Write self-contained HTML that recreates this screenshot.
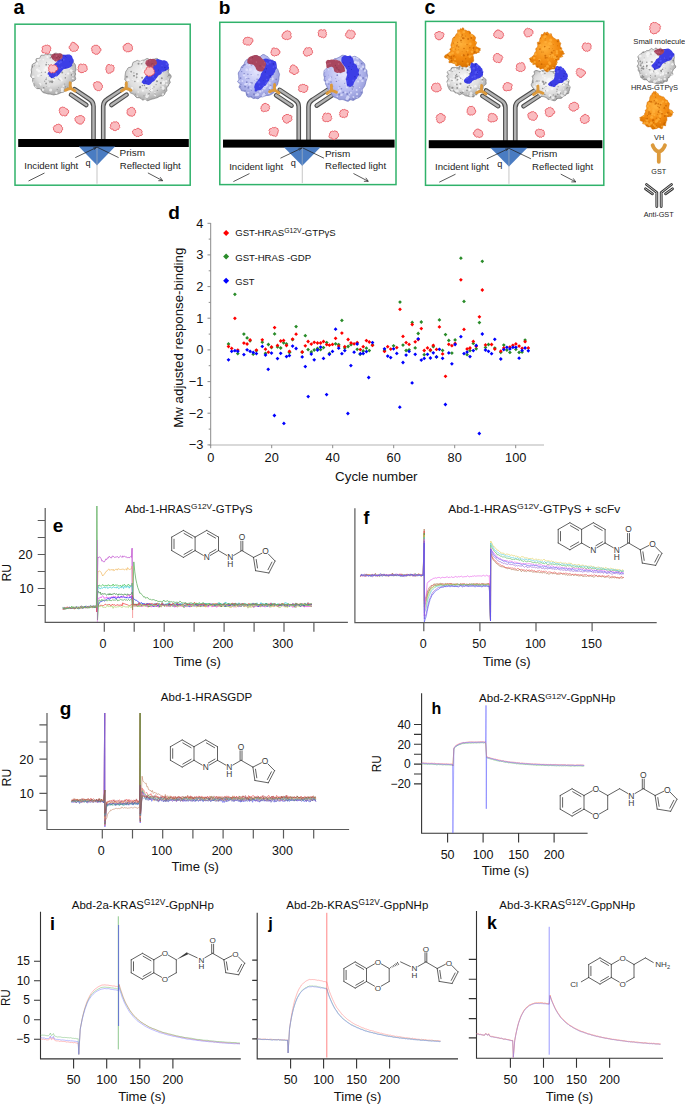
<!DOCTYPE html>
<html><head><meta charset="utf-8"><style>
html,body{margin:0;padding:0;background:#fff;}
svg{display:block;font-family:"Liberation Sans", sans-serif;}
</style></head><body>
<svg width="685" height="1105" viewBox="0 0 685 1105">
<rect width="685" height="1105" fill="#fff"/>
<text x="13.6" y="14" font-size="19.5" font-weight="bold">a</text>
<text x="218.8" y="13.8" font-size="19" font-weight="bold">b</text>
<text x="424.5" y="13.8" font-size="19.5" font-weight="bold">c</text>
<rect x="15" y="24.2" width="175.2" height="161" fill="none" stroke="#30b26a" stroke-width="1.5"/>
<g transform="translate(15 24.2) scale(1.0000 1)">
<path d="M78.5 115V82Q78.5 77.5 74.5 75L59.5 65" fill="none" stroke="#4d4d4d" stroke-width="4.6" stroke-linecap="round"/>
<path d="M88.2 115V82Q88.2 77.5 92.2 75L107.3 65" fill="none" stroke="#4d4d4d" stroke-width="4.6" stroke-linecap="round"/>
<path d="M56 70.5L71.3 80.8M96.4 80.8L111.6 70.5" fill="none" stroke="#4d4d4d" stroke-width="4.6" stroke-linecap="round"/>
<path d="M78.5 115V82Q78.5 77.5 74.5 75L59.5 65" fill="none" stroke="#b4b4b4" stroke-width="2.4" stroke-linecap="round"/>
<path d="M88.2 115V82Q88.2 77.5 92.2 75L107.3 65" fill="none" stroke="#b4b4b4" stroke-width="2.4" stroke-linecap="round"/>
<path d="M56 70.5L71.3 80.8M96.4 80.8L111.6 70.5" fill="none" stroke="#b4b4b4" stroke-width="2.4" stroke-linecap="round"/>
<rect x="3.2" y="114.8" width="170.6" height="8" fill="#000"/>
<path d="M63.8 122.4H100.1L82 141Z" fill="#4a7cc2"/>
<path d="M82 122.8V159.5" stroke="#a0a0a0" stroke-width="0.6"/>
<path d="M82 123V141" stroke="#7fa3d6" stroke-width="0.6"/>
<path d="M13.5 156.8L29.5 148.8M60.3 133.4L81.6 123.2M82 122.9L103.6 133.4M132.9 148.7L147.6 156.5" stroke="#222" stroke-width="0.75" fill="none"/>
<path d="M147.6 156.5L143.3 156.5M147.6 156.5L145.2 153" stroke="#222" stroke-width="0.75" fill="none"/>
<path d="M81.6 123.2L78.2 123.6M81.6 123.2L79 125.6" stroke="#222" stroke-width="0.6" fill="none"/>
</g>
<g transform="translate(15 24.2)">
<text x="9.3" y="144.8" font-size="9.5" fill="#222" textLength="54" lengthAdjust="spacingAndGlyphs">Incident light</text>
<text x="70.6" y="141.6" font-size="9.2" fill="#222">q</text>
<text x="104.5" y="132" font-size="9.5" fill="#222" textLength="25.5" lengthAdjust="spacingAndGlyphs">Prism</text>
<text x="104.7" y="144.6" font-size="9.5" fill="#222" textLength="61" lengthAdjust="spacingAndGlyphs">Reflected light</text>
</g>
<rect x="219.8" y="22.3" width="176.2" height="162.3" fill="none" stroke="#30b26a" stroke-width="1.5"/>
<g transform="translate(219.8 24.8) scale(1.0057 1)">
<path d="M78.5 115V82Q78.5 77.5 74.5 75L59.5 65" fill="none" stroke="#4d4d4d" stroke-width="4.6" stroke-linecap="round"/>
<path d="M88.2 115V82Q88.2 77.5 92.2 75L107.3 65" fill="none" stroke="#4d4d4d" stroke-width="4.6" stroke-linecap="round"/>
<path d="M56 70.5L71.3 80.8M96.4 80.8L111.6 70.5" fill="none" stroke="#4d4d4d" stroke-width="4.6" stroke-linecap="round"/>
<path d="M78.5 115V82Q78.5 77.5 74.5 75L59.5 65" fill="none" stroke="#b4b4b4" stroke-width="2.4" stroke-linecap="round"/>
<path d="M88.2 115V82Q88.2 77.5 92.2 75L107.3 65" fill="none" stroke="#b4b4b4" stroke-width="2.4" stroke-linecap="round"/>
<path d="M56 70.5L71.3 80.8M96.4 80.8L111.6 70.5" fill="none" stroke="#b4b4b4" stroke-width="2.4" stroke-linecap="round"/>
<rect x="3.2" y="114.8" width="170.6" height="8" fill="#000"/>
<path d="M63.8 122.4H100.1L82 141Z" fill="#4a7cc2"/>
<path d="M82 122.8V158.3" stroke="#a0a0a0" stroke-width="0.6"/>
<path d="M82 123V141" stroke="#7fa3d6" stroke-width="0.6"/>
<path d="M13.5 156.8L29.5 148.8M60.3 133.4L81.6 123.2M82 122.9L103.6 133.4M132.9 148.7L147.6 156.5" stroke="#222" stroke-width="0.75" fill="none"/>
<path d="M147.6 156.5L143.3 156.5M147.6 156.5L145.2 153" stroke="#222" stroke-width="0.75" fill="none"/>
<path d="M81.6 123.2L78.2 123.6M81.6 123.2L79 125.6" stroke="#222" stroke-width="0.6" fill="none"/>
</g>
<g transform="translate(219.8 24.8)">
<text x="9.4" y="144.8" font-size="9.5" fill="#222" textLength="54" lengthAdjust="spacingAndGlyphs">Incident light</text>
<text x="71" y="141.6" font-size="9.2" fill="#222">q</text>
<text x="105.1" y="132" font-size="9.5" fill="#222" textLength="25.5" lengthAdjust="spacingAndGlyphs">Prism</text>
<text x="105.3" y="144.6" font-size="9.5" fill="#222" textLength="61" lengthAdjust="spacingAndGlyphs">Reflected light</text>
</g>
<rect x="425.5" y="21.4" width="178.3" height="163.9" fill="none" stroke="#30b26a" stroke-width="1.5"/>
<g transform="translate(425.5 25.4) scale(1.0177 1)">
<path d="M78.5 115V82Q78.5 77.5 74.5 75L59.5 65" fill="none" stroke="#4d4d4d" stroke-width="4.6" stroke-linecap="round"/>
<path d="M88.2 115V82Q88.2 77.5 92.2 75L107.3 65" fill="none" stroke="#4d4d4d" stroke-width="4.6" stroke-linecap="round"/>
<path d="M56 70.5L71.3 80.8M96.4 80.8L111.6 70.5" fill="none" stroke="#4d4d4d" stroke-width="4.6" stroke-linecap="round"/>
<path d="M78.5 115V82Q78.5 77.5 74.5 75L59.5 65" fill="none" stroke="#b4b4b4" stroke-width="2.4" stroke-linecap="round"/>
<path d="M88.2 115V82Q88.2 77.5 92.2 75L107.3 65" fill="none" stroke="#b4b4b4" stroke-width="2.4" stroke-linecap="round"/>
<path d="M56 70.5L71.3 80.8M96.4 80.8L111.6 70.5" fill="none" stroke="#b4b4b4" stroke-width="2.4" stroke-linecap="round"/>
<rect x="3.2" y="114.8" width="170.6" height="8" fill="#000"/>
<path d="M63.8 122.4H100.1L82 141Z" fill="#4a7cc2"/>
<path d="M82 122.8V158.4" stroke="#a0a0a0" stroke-width="0.6"/>
<path d="M82 123V141" stroke="#7fa3d6" stroke-width="0.6"/>
<path d="M13.5 156.8L29.5 148.8M60.3 133.4L81.6 123.2M82 122.9L103.6 133.4M132.9 148.7L147.6 156.5" stroke="#222" stroke-width="0.75" fill="none"/>
<path d="M147.6 156.5L143.3 156.5M147.6 156.5L145.2 153" stroke="#222" stroke-width="0.75" fill="none"/>
<path d="M81.6 123.2L78.2 123.6M81.6 123.2L79 125.6" stroke="#222" stroke-width="0.6" fill="none"/>
</g>
<g transform="translate(425.5 25.4)">
<text x="9.5" y="144.8" font-size="9.5" fill="#222" textLength="54" lengthAdjust="spacingAndGlyphs">Incident light</text>
<text x="71.8" y="141.6" font-size="9.2" fill="#222">q</text>
<text x="106.3" y="132" font-size="9.5" fill="#222" textLength="25.5" lengthAdjust="spacingAndGlyphs">Prism</text>
<text x="106.6" y="144.6" font-size="9.5" fill="#222" textLength="61" lengthAdjust="spacingAndGlyphs">Reflected light</text>
</g>
<clipPath id="cp1"><path d="M31.4 73.1Q31.9 72 31.4 70.9Q31 69.9 31.5 68.9Q32 67.9 31.9 66.8Q31.9 65.7 32.2 64.8Q32.6 63.8 33.9 63.4Q35.3 63 35.9 62.3Q36.5 61.6 36 60.1Q35.6 58.5 37.1 58.5Q38.6 58.6 39.5 58.1Q40.4 57.7 40.6 56.2Q40.8 54.8 42.4 55.2Q44 55.6 44.8 54.8Q45.5 54 46.8 54.3Q48 54.6 49 54.2Q49.9 53.8 51 54.5Q52.1 55.2 53.1 54.4Q54 53.5 55.1 53.2Q56.1 52.8 57.1 53.5Q58 54.2 59.1 54Q60.3 53.8 61.2 54.1Q62.2 54.5 62.8 55.6Q63.3 56.8 65.1 56.1Q66.8 55.5 67.6 56.1Q68.5 56.8 69 57.6Q69.5 58.5 69.8 59.3Q70.1 60.2 71.8 60.1Q73.5 60 73.3 61.2Q73.2 62.3 74 63Q74.7 63.7 75.2 64.6Q75.7 65.4 75.6 66.6Q75.5 67.7 75.9 68.7Q76.4 69.8 75.5 70.9Q74.6 72 75.3 73Q76 74.1 75.3 75.1Q74.6 76 75.3 77.2Q75.9 78.4 75.6 79.4Q75.2 80.4 73.6 80.9Q72 81.3 71.6 82.2Q71.2 83.1 70.8 84Q70.4 84.8 70.8 86.4Q71.2 88 69.9 88.2Q68.5 88.3 68 89.2Q67.5 90.2 66.4 90.3Q65.3 90.4 64.7 91.2Q64 92 63 92.2Q62 92.4 61.1 92.7Q60.1 93 59.2 93.5Q58.2 94.1 57.1 94.2Q56 94.3 54.8 94.7Q53.6 95.2 52.2 94.6Q50.9 94 49.5 94.1Q48 94.1 46.8 93.6Q45.5 93.1 44.3 92.9Q43 92.7 42.2 91.7Q41.4 90.8 40.9 89.6Q40.5 88.4 38.8 88.6Q37.1 88.8 36.2 88.2Q35.2 87.5 34.6 86.5Q34 85.5 33.9 84.3Q33.8 83.1 33 82.2Q32.3 81.3 32.7 79.9Q33.1 78.6 31.8 77.7Q30.4 76.7 30.7 75.5Q30.9 74.2 31.4 73.1Z"/></clipPath>
<radialGradient id="gr1" cx="0.45" cy="0.4" r="0.62"><stop offset="0" stop-color="#fafafa"/><stop offset="0.6" stop-color="#dedede"/><stop offset="1" stop-color="#a4a4a4"/></radialGradient>
<path d="M31.4 73.1Q31.9 72 31.4 70.9Q31 69.9 31.5 68.9Q32 67.9 31.9 66.8Q31.9 65.7 32.2 64.8Q32.6 63.8 33.9 63.4Q35.3 63 35.9 62.3Q36.5 61.6 36 60.1Q35.6 58.5 37.1 58.5Q38.6 58.6 39.5 58.1Q40.4 57.7 40.6 56.2Q40.8 54.8 42.4 55.2Q44 55.6 44.8 54.8Q45.5 54 46.8 54.3Q48 54.6 49 54.2Q49.9 53.8 51 54.5Q52.1 55.2 53.1 54.4Q54 53.5 55.1 53.2Q56.1 52.8 57.1 53.5Q58 54.2 59.1 54Q60.3 53.8 61.2 54.1Q62.2 54.5 62.8 55.6Q63.3 56.8 65.1 56.1Q66.8 55.5 67.6 56.1Q68.5 56.8 69 57.6Q69.5 58.5 69.8 59.3Q70.1 60.2 71.8 60.1Q73.5 60 73.3 61.2Q73.2 62.3 74 63Q74.7 63.7 75.2 64.6Q75.7 65.4 75.6 66.6Q75.5 67.7 75.9 68.7Q76.4 69.8 75.5 70.9Q74.6 72 75.3 73Q76 74.1 75.3 75.1Q74.6 76 75.3 77.2Q75.9 78.4 75.6 79.4Q75.2 80.4 73.6 80.9Q72 81.3 71.6 82.2Q71.2 83.1 70.8 84Q70.4 84.8 70.8 86.4Q71.2 88 69.9 88.2Q68.5 88.3 68 89.2Q67.5 90.2 66.4 90.3Q65.3 90.4 64.7 91.2Q64 92 63 92.2Q62 92.4 61.1 92.7Q60.1 93 59.2 93.5Q58.2 94.1 57.1 94.2Q56 94.3 54.8 94.7Q53.6 95.2 52.2 94.6Q50.9 94 49.5 94.1Q48 94.1 46.8 93.6Q45.5 93.1 44.3 92.9Q43 92.7 42.2 91.7Q41.4 90.8 40.9 89.6Q40.5 88.4 38.8 88.6Q37.1 88.8 36.2 88.2Q35.2 87.5 34.6 86.5Q34 85.5 33.9 84.3Q33.8 83.1 33 82.2Q32.3 81.3 32.7 79.9Q33.1 78.6 31.8 77.7Q30.4 76.7 30.7 75.5Q30.9 74.2 31.4 73.1Z" fill="url(#gr1)" stroke="#7a7a7a" stroke-width="0.7"/>
<g clip-path="url(#cp1)" opacity="0.75"><circle cx="52.9" cy="68.4" r="1" fill="#fafafa"/><circle cx="50.9" cy="55" r="0.7" fill="#7a7a7a"/><circle cx="50.9" cy="57.5" r="0.6" fill="#7a7a7a"/><circle cx="70.7" cy="82.7" r="0.6" fill="#fafafa"/><circle cx="41.1" cy="75.5" r="0.5" fill="#7a7a7a"/><circle cx="55.6" cy="54" r="0.4" fill="#7a7a7a"/><circle cx="41.6" cy="89.8" r="0.6" fill="#7a7a7a"/><circle cx="71.1" cy="88.2" r="0.7" fill="#7a7a7a"/><circle cx="39.7" cy="84.6" r="0.9" fill="#7a7a7a"/><circle cx="64.2" cy="59.3" r="0.9" fill="#7a7a7a"/><circle cx="69.3" cy="61.2" r="0.8" fill="#fafafa"/><circle cx="46" cy="79.5" r="0.7" fill="#7a7a7a"/><circle cx="50.2" cy="57.9" r="0.7" fill="#7a7a7a"/><circle cx="53.1" cy="74.3" r="0.7" fill="#7a7a7a"/><circle cx="74" cy="82.3" r="0.8" fill="#7a7a7a"/><circle cx="48.4" cy="76.8" r="0.4" fill="#7a7a7a"/><circle cx="62.2" cy="72.4" r="1" fill="#7a7a7a"/><circle cx="58.6" cy="63.4" r="1.4" fill="#fafafa"/><circle cx="52.1" cy="82.3" r="0.9" fill="#7a7a7a"/><circle cx="56.1" cy="68.2" r="1" fill="#7a7a7a"/><circle cx="72.4" cy="66.1" r="0.9" fill="#fafafa"/><circle cx="54.5" cy="56.3" r="0.7" fill="#7a7a7a"/><circle cx="33.3" cy="90.3" r="1.5" fill="#fafafa"/><circle cx="53.3" cy="61.5" r="0.4" fill="#7a7a7a"/><circle cx="53.3" cy="72.9" r="0.9" fill="#7a7a7a"/><circle cx="60.9" cy="93.3" r="0.8" fill="#7a7a7a"/><circle cx="37.5" cy="69.6" r="0.9" fill="#fafafa"/><circle cx="65.6" cy="74.7" r="0.4" fill="#7a7a7a"/><circle cx="33.7" cy="78.4" r="0.6" fill="#7a7a7a"/><circle cx="70.1" cy="55.4" r="0.8" fill="#7a7a7a"/><circle cx="40.9" cy="92.6" r="1.2" fill="#fafafa"/><circle cx="39.1" cy="66" r="0.5" fill="#7a7a7a"/><circle cx="34.3" cy="88.2" r="0.6" fill="#fafafa"/><circle cx="72.8" cy="75.1" r="0.9" fill="#fafafa"/><circle cx="66.6" cy="59.4" r="0.7" fill="#7a7a7a"/><circle cx="61.8" cy="69.9" r="0.9" fill="#fafafa"/><circle cx="72.3" cy="71.5" r="1.3" fill="#fafafa"/><circle cx="39" cy="55.8" r="0.9" fill="#7a7a7a"/><circle cx="51" cy="81.5" r="1" fill="#7a7a7a"/><circle cx="46.6" cy="62.2" r="0.5" fill="#7a7a7a"/><circle cx="36.9" cy="60.7" r="0.8" fill="#7a7a7a"/><circle cx="68.4" cy="67.8" r="1.5" fill="#fafafa"/><circle cx="59.6" cy="66.9" r="0.8" fill="#fafafa"/><circle cx="43.7" cy="87.8" r="0.9" fill="#7a7a7a"/><circle cx="49.7" cy="81.9" r="0.6" fill="#7a7a7a"/><circle cx="72.3" cy="88.6" r="1.1" fill="#fafafa"/><circle cx="74" cy="89.7" r="0.6" fill="#7a7a7a"/><circle cx="49.4" cy="71.2" r="1.1" fill="#fafafa"/><circle cx="65.6" cy="86.8" r="0.6" fill="#7a7a7a"/><circle cx="50.6" cy="90" r="1.5" fill="#fafafa"/><circle cx="56.8" cy="75.1" r="1" fill="#fafafa"/><circle cx="57.7" cy="74.9" r="1.1" fill="#fafafa"/><circle cx="66.4" cy="90.7" r="0.8" fill="#fafafa"/><circle cx="44.9" cy="70" r="1.3" fill="#fafafa"/><circle cx="70" cy="64.7" r="0.4" fill="#7a7a7a"/><circle cx="56.7" cy="59.2" r="0.6" fill="#7a7a7a"/><circle cx="38.3" cy="75.7" r="1.3" fill="#fafafa"/><circle cx="53" cy="73.3" r="0.6" fill="#7a7a7a"/><circle cx="40" cy="83.6" r="0.9" fill="#fafafa"/><circle cx="45.9" cy="67.9" r="1.2" fill="#fafafa"/><circle cx="32.7" cy="82.4" r="1.2" fill="#fafafa"/><circle cx="32.2" cy="66.5" r="1" fill="#7a7a7a"/><circle cx="72.5" cy="92.8" r="0.8" fill="#fafafa"/><circle cx="70.1" cy="54.6" r="0.5" fill="#7a7a7a"/><circle cx="74.2" cy="85" r="0.9" fill="#7a7a7a"/><circle cx="35.3" cy="89.1" r="1.6" fill="#fafafa"/><circle cx="53.1" cy="71.6" r="1" fill="#fafafa"/><circle cx="38.8" cy="71.1" r="1.4" fill="#fafafa"/><circle cx="53.9" cy="74.5" r="1.1" fill="#fafafa"/><circle cx="59.4" cy="54.7" r="0.5" fill="#7a7a7a"/><circle cx="68.5" cy="62.3" r="1.5" fill="#fafafa"/><circle cx="68.2" cy="73.6" r="1.1" fill="#fafafa"/><circle cx="49" cy="80.7" r="0.5" fill="#7a7a7a"/><circle cx="58.3" cy="87.5" r="0.4" fill="#7a7a7a"/><circle cx="53.6" cy="61.5" r="0.6" fill="#fafafa"/><circle cx="44.7" cy="81.2" r="0.6" fill="#7a7a7a"/><circle cx="54.6" cy="74" r="0.7" fill="#7a7a7a"/><circle cx="54.2" cy="78.8" r="0.9" fill="#7a7a7a"/><circle cx="73.1" cy="71.7" r="0.6" fill="#7a7a7a"/><circle cx="40.7" cy="71.5" r="0.6" fill="#fafafa"/><circle cx="48.4" cy="64.4" r="0.5" fill="#7a7a7a"/><circle cx="72.6" cy="65.9" r="0.7" fill="#7a7a7a"/><circle cx="58.4" cy="79.1" r="0.5" fill="#7a7a7a"/><circle cx="34.9" cy="87.5" r="1.6" fill="#fafafa"/><circle cx="31.4" cy="66.9" r="0.7" fill="#fafafa"/><circle cx="31.8" cy="66.9" r="0.9" fill="#7a7a7a"/><circle cx="38.4" cy="88.8" r="0.9" fill="#7a7a7a"/><circle cx="72" cy="82.6" r="0.4" fill="#7a7a7a"/><circle cx="38.2" cy="54.4" r="1.1" fill="#fafafa"/><circle cx="46.2" cy="64.7" r="0.9" fill="#7a7a7a"/><circle cx="43.2" cy="59.6" r="0.9" fill="#fafafa"/><circle cx="53.9" cy="79.5" r="1" fill="#fafafa"/><circle cx="37.4" cy="90.9" r="1.5" fill="#fafafa"/><circle cx="64.2" cy="67.1" r="0.7" fill="#7a7a7a"/><circle cx="58.5" cy="71.5" r="0.4" fill="#7a7a7a"/><circle cx="61.9" cy="69.8" r="0.6" fill="#7a7a7a"/><circle cx="71.4" cy="91.4" r="0.9" fill="#7a7a7a"/><circle cx="49" cy="86.1" r="0.7" fill="#fafafa"/><circle cx="45.3" cy="72.2" r="0.7" fill="#7a7a7a"/><circle cx="64.1" cy="91.3" r="0.6" fill="#7a7a7a"/><circle cx="32.8" cy="61.4" r="0.7" fill="#7a7a7a"/><circle cx="62.3" cy="89.1" r="1.6" fill="#fafafa"/><circle cx="62.6" cy="65.3" r="0.9" fill="#fafafa"/><circle cx="65.2" cy="78" r="0.6" fill="#7a7a7a"/><circle cx="73.7" cy="83.9" r="1" fill="#7a7a7a"/><circle cx="62.2" cy="91.2" r="1.4" fill="#fafafa"/><circle cx="47.4" cy="56.9" r="1" fill="#fafafa"/><circle cx="43" cy="89.7" r="1.2" fill="#fafafa"/><circle cx="61.7" cy="80.3" r="1.1" fill="#fafafa"/><circle cx="57.2" cy="89.5" r="0.6" fill="#7a7a7a"/><circle cx="58.8" cy="64.6" r="1.2" fill="#fafafa"/><circle cx="74" cy="92.8" r="0.8" fill="#7a7a7a"/><circle cx="53.7" cy="80.6" r="1" fill="#fafafa"/><circle cx="52.4" cy="75.7" r="0.9" fill="#fafafa"/><circle cx="70.2" cy="58.8" r="1.6" fill="#fafafa"/><circle cx="69.3" cy="87.1" r="0.8" fill="#fafafa"/><circle cx="46.1" cy="83.5" r="0.9" fill="#7a7a7a"/><circle cx="33.2" cy="76.9" r="1.4" fill="#fafafa"/><circle cx="34.3" cy="65.7" r="0.5" fill="#7a7a7a"/><circle cx="61" cy="59.1" r="1.4" fill="#fafafa"/><circle cx="60" cy="79.8" r="0.7" fill="#7a7a7a"/><circle cx="64.7" cy="83.9" r="0.5" fill="#7a7a7a"/><circle cx="40.4" cy="84.7" r="1.1" fill="#fafafa"/><circle cx="67.9" cy="87.3" r="0.6" fill="#7a7a7a"/><circle cx="65.1" cy="89.3" r="0.7" fill="#7a7a7a"/><circle cx="38" cy="60" r="1.2" fill="#fafafa"/><circle cx="41.6" cy="72.3" r="0.5" fill="#7a7a7a"/><circle cx="67.3" cy="91.7" r="0.6" fill="#fafafa"/><circle cx="55.5" cy="64.1" r="1" fill="#7a7a7a"/><circle cx="71.8" cy="89.6" r="0.5" fill="#7a7a7a"/><circle cx="72.9" cy="78.4" r="1" fill="#fafafa"/><circle cx="63.3" cy="86.1" r="0.9" fill="#fafafa"/><circle cx="37" cy="63.7" r="1.1" fill="#fafafa"/><circle cx="46.3" cy="86.3" r="0.4" fill="#7a7a7a"/><circle cx="60.5" cy="78.7" r="1.2" fill="#fafafa"/><circle cx="71.9" cy="83.6" r="1.1" fill="#fafafa"/><circle cx="50" cy="81.9" r="0.4" fill="#7a7a7a"/><circle cx="52.4" cy="81.6" r="1" fill="#7a7a7a"/><circle cx="40" cy="59.4" r="0.7" fill="#fafafa"/><circle cx="71.5" cy="74.9" r="0.8" fill="#7a7a7a"/><circle cx="46.4" cy="78" r="0.6" fill="#7a7a7a"/><circle cx="65.4" cy="77.8" r="0.7" fill="#7a7a7a"/><circle cx="74.4" cy="90.5" r="1.3" fill="#fafafa"/><circle cx="72.1" cy="80.1" r="0.5" fill="#7a7a7a"/><circle cx="39.7" cy="74.7" r="0.7" fill="#fafafa"/><circle cx="57" cy="74.6" r="0.9" fill="#fafafa"/><circle cx="41.3" cy="54.2" r="0.8" fill="#7a7a7a"/><circle cx="71" cy="70.5" r="1.2" fill="#fafafa"/><circle cx="56.4" cy="92.8" r="1.2" fill="#fafafa"/><circle cx="37.2" cy="69.8" r="1.2" fill="#fafafa"/></g>
<clipPath id="cp2"><path d="M57.8 56.9Q58.1 56.5 58.9 56.2Q59.6 55.9 60.7 55.3Q61.7 54.6 62.7 54.7Q63.8 54.7 64.7 54.8Q65.6 54.8 66.6 54.7Q67.6 54.5 68.8 54.5Q69.9 54.4 70.6 55Q71.3 55.6 71.8 56.1Q72.4 56.7 72.4 57.5Q72.5 58.4 73.1 58.9Q73.7 59.3 73.6 60.1Q73.6 60.9 73.5 61.5Q73.4 62.2 73 62.8Q72.7 63.4 72.4 64.1Q72 64.7 72.1 65.3Q72.2 65.9 71.4 66.5Q70.7 67.1 69.8 67.5Q69 68 68.1 68.3Q67.2 68.7 65.7 68.7Q64.3 68.7 63.5 69.2Q62.8 69.7 62.1 70.7Q61.5 71.6 60.7 72.6Q59.9 73.5 59.1 74.5Q58.3 75.4 57.5 76.1Q56.7 76.7 56.3 76.4Q55.8 76.2 54.7 77Q53.7 77.8 52.9 78.1Q52.1 78.3 51.5 78.2Q51 78 50.7 77.5Q50.3 77 49.6 76.7Q48.9 76.5 48.9 75.6Q48.8 74.8 48.1 74.6Q47.3 74.5 47.6 73.7Q47.8 73 48.6 72.1Q49.4 71.2 50.3 70.3Q51.1 69.4 51.2 68.8Q51.2 68.2 52.2 67.4Q53.1 66.5 53.5 65.7Q53.9 64.9 54.7 64Q55.4 63.2 56.2 62.6Q57 62 57.2 61.3Q57.5 60.6 57.3 59.6Q57.2 58.6 57.3 58Q57.4 57.3 57.8 56.9Z"/></clipPath>
<path d="M57.8 56.9Q58.1 56.5 58.9 56.2Q59.6 55.9 60.7 55.3Q61.7 54.6 62.7 54.7Q63.8 54.7 64.7 54.8Q65.6 54.8 66.6 54.7Q67.6 54.5 68.8 54.5Q69.9 54.4 70.6 55Q71.3 55.6 71.8 56.1Q72.4 56.7 72.4 57.5Q72.5 58.4 73.1 58.9Q73.7 59.3 73.6 60.1Q73.6 60.9 73.5 61.5Q73.4 62.2 73 62.8Q72.7 63.4 72.4 64.1Q72 64.7 72.1 65.3Q72.2 65.9 71.4 66.5Q70.7 67.1 69.8 67.5Q69 68 68.1 68.3Q67.2 68.7 65.7 68.7Q64.3 68.7 63.5 69.2Q62.8 69.7 62.1 70.7Q61.5 71.6 60.7 72.6Q59.9 73.5 59.1 74.5Q58.3 75.4 57.5 76.1Q56.7 76.7 56.3 76.4Q55.8 76.2 54.7 77Q53.7 77.8 52.9 78.1Q52.1 78.3 51.5 78.2Q51 78 50.7 77.5Q50.3 77 49.6 76.7Q48.9 76.5 48.9 75.6Q48.8 74.8 48.1 74.6Q47.3 74.5 47.6 73.7Q47.8 73 48.6 72.1Q49.4 71.2 50.3 70.3Q51.1 69.4 51.2 68.8Q51.2 68.2 52.2 67.4Q53.1 66.5 53.5 65.7Q53.9 64.9 54.7 64Q55.4 63.2 56.2 62.6Q57 62 57.2 61.3Q57.5 60.6 57.3 59.6Q57.2 58.6 57.3 58Q57.4 57.3 57.8 56.9Z" fill="#3c3fe6"/>
<g clip-path="url(#cp2)" opacity="0.6"><circle cx="58.9" cy="77.4" r="1.1" fill="#6264f7"/><circle cx="61.2" cy="58.5" r="1.2" fill="#6264f7"/><circle cx="53.5" cy="69.6" r="1.1" fill="#6264f7"/><circle cx="69" cy="74.3" r="0.6" fill="#2323a8"/><circle cx="66.7" cy="57.4" r="0.4" fill="#2323a8"/><circle cx="69.7" cy="61.8" r="0.4" fill="#2323a8"/><circle cx="51.1" cy="77.2" r="0.8" fill="#2323a8"/><circle cx="62.4" cy="59.9" r="0.8" fill="#2323a8"/><circle cx="58.1" cy="76.8" r="0.7" fill="#2323a8"/><circle cx="65.2" cy="73.4" r="0.7" fill="#2323a8"/><circle cx="59.4" cy="59.6" r="0.6" fill="#2323a8"/><circle cx="67.1" cy="54.5" r="0.8" fill="#2323a8"/><circle cx="61.9" cy="67.3" r="0.7" fill="#6264f7"/><circle cx="59.5" cy="63.3" r="0.9" fill="#6264f7"/><circle cx="65.1" cy="76.1" r="0.7" fill="#2323a8"/><circle cx="62.7" cy="77.1" r="0.5" fill="#2323a8"/><circle cx="72.7" cy="71.8" r="0.5" fill="#2323a8"/><circle cx="60.8" cy="55.3" r="0.4" fill="#2323a8"/><circle cx="50.9" cy="56" r="1.2" fill="#6264f7"/><circle cx="60.9" cy="62.1" r="1.1" fill="#6264f7"/><circle cx="59.4" cy="62.7" r="0.6" fill="#6264f7"/><circle cx="65.8" cy="67.9" r="0.6" fill="#2323a8"/><circle cx="53.1" cy="70.6" r="1" fill="#6264f7"/><circle cx="63.7" cy="54.9" r="0.7" fill="#2323a8"/><circle cx="73.9" cy="70.2" r="1.2" fill="#6264f7"/><circle cx="59.3" cy="68" r="0.6" fill="#6264f7"/><circle cx="53.6" cy="73.5" r="0.6" fill="#6264f7"/><circle cx="62.4" cy="76.8" r="1.2" fill="#6264f7"/><circle cx="54.3" cy="63.3" r="0.7" fill="#6264f7"/><circle cx="56.8" cy="75.8" r="0.9" fill="#6264f7"/><circle cx="64.3" cy="75.3" r="0.5" fill="#2323a8"/><circle cx="56.2" cy="74" r="0.9" fill="#6264f7"/><circle cx="69.2" cy="54.4" r="0.9" fill="#6264f7"/><circle cx="65.4" cy="56.5" r="0.5" fill="#2323a8"/><circle cx="64" cy="59.7" r="0.6" fill="#2323a8"/><circle cx="64" cy="77.5" r="0.4" fill="#2323a8"/><circle cx="72" cy="69" r="0.9" fill="#6264f7"/><circle cx="63.8" cy="59.8" r="1" fill="#6264f7"/><circle cx="60.1" cy="68.3" r="0.6" fill="#6264f7"/><circle cx="57.7" cy="62.3" r="0.9" fill="#6264f7"/></g>
<clipPath id="cp3"><path d="M51.4 57.5Q50.9 57 50.9 56.5Q50.9 56.1 51.3 55.6Q51.6 55.2 52 54.8Q52.5 54.3 53.2 54.1Q53.8 53.8 54.5 53.5Q55.2 53.3 56.1 53.6Q57 53.9 57.8 53.6Q58.6 53.4 59.5 53.3Q60.3 53.2 60.8 53.5Q61.2 53.8 61.8 54Q62.4 54.3 62.4 54.8Q62.4 55.3 62.7 55.7Q63 56 62.7 56.5Q62.5 57 62.3 57.5Q62 58.1 61.6 58.7Q61.1 59.2 60.4 59.4Q59.7 59.6 59.2 60Q58.7 60.3 58.1 60.6Q57.5 60.8 56.8 61.2Q56.1 61.6 55.5 61.4Q54.9 61.2 54.4 60.7Q54 60.1 53.1 59.7Q52.2 59.4 52 58.7Q51.8 58 51.4 57.5Z"/></clipPath>
<path d="M51.4 57.5Q50.9 57 50.9 56.5Q50.9 56.1 51.3 55.6Q51.6 55.2 52 54.8Q52.5 54.3 53.2 54.1Q53.8 53.8 54.5 53.5Q55.2 53.3 56.1 53.6Q57 53.9 57.8 53.6Q58.6 53.4 59.5 53.3Q60.3 53.2 60.8 53.5Q61.2 53.8 61.8 54Q62.4 54.3 62.4 54.8Q62.4 55.3 62.7 55.7Q63 56 62.7 56.5Q62.5 57 62.3 57.5Q62 58.1 61.6 58.7Q61.1 59.2 60.4 59.4Q59.7 59.6 59.2 60Q58.7 60.3 58.1 60.6Q57.5 60.8 56.8 61.2Q56.1 61.6 55.5 61.4Q54.9 61.2 54.4 60.7Q54 60.1 53.1 59.7Q52.2 59.4 52 58.7Q51.8 58 51.4 57.5Z" fill="#a8475f"/>
<g clip-path="url(#cp3)" opacity="0.6"><circle cx="56.8" cy="60.3" r="1.1" fill="#c4667e"/><circle cx="57.9" cy="61" r="0.6" fill="#7c2e44"/><circle cx="56.9" cy="57.8" r="0.7" fill="#7c2e44"/><circle cx="60.7" cy="58.5" r="0.6" fill="#c4667e"/><circle cx="60.3" cy="56.1" r="0.5" fill="#7c2e44"/><circle cx="54.5" cy="54.4" r="0.7" fill="#7c2e44"/><circle cx="58.1" cy="56.4" r="0.7" fill="#7c2e44"/><circle cx="59.6" cy="57.6" r="0.7" fill="#7c2e44"/><circle cx="59" cy="59.9" r="0.6" fill="#7c2e44"/><circle cx="56.5" cy="56" r="0.9" fill="#c4667e"/><circle cx="62.9" cy="59.7" r="0.6" fill="#7c2e44"/><circle cx="54.5" cy="59.5" r="0.7" fill="#c4667e"/><circle cx="62.1" cy="57.5" r="0.9" fill="#c4667e"/><circle cx="52.8" cy="57.5" r="0.4" fill="#7c2e44"/><circle cx="52.5" cy="54" r="0.8" fill="#c4667e"/><circle cx="53.3" cy="56.1" r="0.5" fill="#7c2e44"/></g>
<clipPath id="cp4"><path d="M124.8 79Q125.1 78 125 76.9Q125 75.9 125.2 74.8Q125.3 73.7 125.5 72.6Q125.6 71.4 126.4 70.6Q127.3 69.7 127.6 68.5Q128 67.4 130 67.3Q131.9 67.1 132.1 65.8Q132.4 64.5 132.7 63.2Q133 61.9 134.3 61.7Q135.6 61.5 136.4 60.7Q137.2 60 138.8 60.9Q140.5 61.8 141.2 60.9Q142 60.1 143.1 60.2Q144.2 60.3 145.1 59.6Q146 58.8 147 58.6Q148 58.4 148.9 59.3Q149.8 60.1 150.8 59.8Q151.8 59.5 152.8 59.6Q153.8 59.6 155.2 58.8Q156.6 58.1 157.5 58.6Q158.4 59.2 158.8 60.5Q159.2 61.7 160.8 61.3Q162.4 60.9 162.5 62.2Q162.6 63.6 164 63.7Q165.3 63.7 165.3 65Q165.3 66.2 165.6 67.1Q165.9 68.1 167.7 68.3Q169.4 68.5 168.8 69.9Q168.1 71.3 168.3 72.4Q168.5 73.4 169.9 74.3Q171.3 75.2 171.2 76.4Q171 77.7 170 78.8Q168.9 80 169.8 81.1Q170.8 82.3 169.8 83.2Q168.8 84.2 168.6 85.2Q168.5 86.3 167.3 86.9Q166.1 87.6 166.7 89.1Q167.3 90.6 166.3 91.4Q165.4 92.1 165 93.3Q164.7 94.5 163.8 95.2Q162.9 96 161.4 96Q159.8 95.9 158.9 96.7Q158 97.5 156.9 97.8Q155.7 98.1 154.7 98.5Q153.7 98.8 152.6 99Q151.5 99.1 150.5 99.6Q149.4 100.1 148.3 100.6Q147.2 101.1 146.2 100Q145.2 98.8 144 99.7Q142.8 100.5 141.9 99.6Q141.1 98.6 140.1 98Q139.2 97.5 137.8 97.7Q136.4 97.9 135.8 96.9Q135.1 95.8 134.4 95Q133.6 94.2 132.6 93.8Q131.5 93.3 130.5 92.9Q129.4 92.4 129.8 91.1Q130.1 89.8 128.3 89.9Q126.4 89.9 127.5 88.5Q128.6 87 127.2 86.6Q125.7 86.3 125.3 85.3Q124.9 84.4 126 83.2Q127.2 81.9 125.9 81Q124.5 80.1 124.8 79Z"/></clipPath>
<radialGradient id="gr4" cx="0.45" cy="0.4" r="0.62"><stop offset="0" stop-color="#fafafa"/><stop offset="0.6" stop-color="#dedede"/><stop offset="1" stop-color="#a4a4a4"/></radialGradient>
<path d="M124.8 79Q125.1 78 125 76.9Q125 75.9 125.2 74.8Q125.3 73.7 125.5 72.6Q125.6 71.4 126.4 70.6Q127.3 69.7 127.6 68.5Q128 67.4 130 67.3Q131.9 67.1 132.1 65.8Q132.4 64.5 132.7 63.2Q133 61.9 134.3 61.7Q135.6 61.5 136.4 60.7Q137.2 60 138.8 60.9Q140.5 61.8 141.2 60.9Q142 60.1 143.1 60.2Q144.2 60.3 145.1 59.6Q146 58.8 147 58.6Q148 58.4 148.9 59.3Q149.8 60.1 150.8 59.8Q151.8 59.5 152.8 59.6Q153.8 59.6 155.2 58.8Q156.6 58.1 157.5 58.6Q158.4 59.2 158.8 60.5Q159.2 61.7 160.8 61.3Q162.4 60.9 162.5 62.2Q162.6 63.6 164 63.7Q165.3 63.7 165.3 65Q165.3 66.2 165.6 67.1Q165.9 68.1 167.7 68.3Q169.4 68.5 168.8 69.9Q168.1 71.3 168.3 72.4Q168.5 73.4 169.9 74.3Q171.3 75.2 171.2 76.4Q171 77.7 170 78.8Q168.9 80 169.8 81.1Q170.8 82.3 169.8 83.2Q168.8 84.2 168.6 85.2Q168.5 86.3 167.3 86.9Q166.1 87.6 166.7 89.1Q167.3 90.6 166.3 91.4Q165.4 92.1 165 93.3Q164.7 94.5 163.8 95.2Q162.9 96 161.4 96Q159.8 95.9 158.9 96.7Q158 97.5 156.9 97.8Q155.7 98.1 154.7 98.5Q153.7 98.8 152.6 99Q151.5 99.1 150.5 99.6Q149.4 100.1 148.3 100.6Q147.2 101.1 146.2 100Q145.2 98.8 144 99.7Q142.8 100.5 141.9 99.6Q141.1 98.6 140.1 98Q139.2 97.5 137.8 97.7Q136.4 97.9 135.8 96.9Q135.1 95.8 134.4 95Q133.6 94.2 132.6 93.8Q131.5 93.3 130.5 92.9Q129.4 92.4 129.8 91.1Q130.1 89.8 128.3 89.9Q126.4 89.9 127.5 88.5Q128.6 87 127.2 86.6Q125.7 86.3 125.3 85.3Q124.9 84.4 126 83.2Q127.2 81.9 125.9 81Q124.5 80.1 124.8 79Z" fill="url(#gr4)" stroke="#7a7a7a" stroke-width="0.7"/>
<g clip-path="url(#cp4)" opacity="0.75"><circle cx="146.8" cy="96.4" r="1.5" fill="#fafafa"/><circle cx="150.8" cy="100.3" r="0.8" fill="#7a7a7a"/><circle cx="147" cy="82.6" r="0.9" fill="#7a7a7a"/><circle cx="161.2" cy="86.3" r="0.6" fill="#fafafa"/><circle cx="159.6" cy="72.8" r="0.5" fill="#7a7a7a"/><circle cx="138.5" cy="63.7" r="1" fill="#7a7a7a"/><circle cx="151.7" cy="75" r="0.9" fill="#7a7a7a"/><circle cx="157" cy="81.2" r="1" fill="#7a7a7a"/><circle cx="154.8" cy="94.1" r="0.8" fill="#7a7a7a"/><circle cx="145.7" cy="72.4" r="1.2" fill="#fafafa"/><circle cx="169.4" cy="93.3" r="0.8" fill="#7a7a7a"/><circle cx="138.2" cy="92" r="0.8" fill="#fafafa"/><circle cx="166.3" cy="81.1" r="1.2" fill="#fafafa"/><circle cx="132.2" cy="80.7" r="0.4" fill="#7a7a7a"/><circle cx="131" cy="61.3" r="1.1" fill="#fafafa"/><circle cx="133.9" cy="72.9" r="0.6" fill="#7a7a7a"/><circle cx="142.1" cy="77.8" r="1" fill="#7a7a7a"/><circle cx="126.9" cy="76.8" r="1" fill="#7a7a7a"/><circle cx="141.3" cy="67.9" r="0.8" fill="#fafafa"/><circle cx="151.9" cy="87" r="1" fill="#fafafa"/><circle cx="153.2" cy="73.9" r="0.9" fill="#7a7a7a"/><circle cx="164.8" cy="97" r="0.9" fill="#7a7a7a"/><circle cx="126.9" cy="60.2" r="1.3" fill="#fafafa"/><circle cx="151.9" cy="99.7" r="0.8" fill="#7a7a7a"/><circle cx="161.8" cy="78.3" r="1" fill="#7a7a7a"/><circle cx="140" cy="87.4" r="0.9" fill="#7a7a7a"/><circle cx="161.7" cy="71.5" r="1.6" fill="#fafafa"/><circle cx="149.8" cy="61.7" r="1.5" fill="#fafafa"/><circle cx="151.9" cy="65" r="0.9" fill="#fafafa"/><circle cx="166.5" cy="63.2" r="0.9" fill="#fafafa"/><circle cx="154" cy="86.9" r="0.6" fill="#7a7a7a"/><circle cx="156.1" cy="84.6" r="0.6" fill="#7a7a7a"/><circle cx="149" cy="93.8" r="0.8" fill="#7a7a7a"/><circle cx="142.4" cy="85.6" r="0.7" fill="#7a7a7a"/><circle cx="142.7" cy="61.9" r="0.6" fill="#7a7a7a"/><circle cx="146.8" cy="77.5" r="1.2" fill="#fafafa"/><circle cx="155.4" cy="95.8" r="0.7" fill="#fafafa"/><circle cx="155.9" cy="63.5" r="1.6" fill="#fafafa"/><circle cx="151.1" cy="72.1" r="1.2" fill="#fafafa"/><circle cx="162" cy="65" r="1" fill="#fafafa"/><circle cx="134.1" cy="75" r="0.9" fill="#fafafa"/><circle cx="162.8" cy="87.5" r="1.5" fill="#fafafa"/><circle cx="144" cy="95.8" r="0.6" fill="#7a7a7a"/><circle cx="154.8" cy="64.3" r="1" fill="#7a7a7a"/><circle cx="134.9" cy="81.5" r="0.7" fill="#7a7a7a"/><circle cx="163.5" cy="94.6" r="0.4" fill="#7a7a7a"/><circle cx="148.5" cy="83" r="1.4" fill="#fafafa"/><circle cx="167.8" cy="76.2" r="0.5" fill="#7a7a7a"/><circle cx="158.4" cy="59.1" r="0.7" fill="#7a7a7a"/><circle cx="129.9" cy="63.6" r="1.3" fill="#fafafa"/><circle cx="152.3" cy="81.2" r="0.6" fill="#fafafa"/><circle cx="149.3" cy="70.5" r="0.8" fill="#fafafa"/><circle cx="140.8" cy="87.7" r="0.4" fill="#7a7a7a"/><circle cx="131.9" cy="88.1" r="1" fill="#fafafa"/><circle cx="128.2" cy="80.7" r="0.7" fill="#7a7a7a"/><circle cx="163.1" cy="83.4" r="1.4" fill="#fafafa"/><circle cx="166.8" cy="84.6" r="1.1" fill="#fafafa"/><circle cx="158" cy="69.4" r="1" fill="#fafafa"/><circle cx="169.3" cy="89.2" r="0.7" fill="#7a7a7a"/><circle cx="151" cy="70.7" r="0.8" fill="#fafafa"/><circle cx="163.5" cy="72.1" r="0.4" fill="#7a7a7a"/><circle cx="154.5" cy="95.1" r="0.8" fill="#fafafa"/><circle cx="146.3" cy="76.4" r="0.8" fill="#7a7a7a"/><circle cx="128.5" cy="81.1" r="0.7" fill="#7a7a7a"/><circle cx="160.8" cy="97.8" r="0.9" fill="#fafafa"/><circle cx="144.4" cy="85.5" r="0.7" fill="#7a7a7a"/><circle cx="154.9" cy="92.7" r="0.7" fill="#fafafa"/><circle cx="136.5" cy="75.9" r="0.5" fill="#7a7a7a"/><circle cx="158.7" cy="66.3" r="0.7" fill="#7a7a7a"/><circle cx="135.7" cy="99.1" r="1" fill="#7a7a7a"/><circle cx="154.9" cy="61.6" r="0.6" fill="#7a7a7a"/><circle cx="165.6" cy="66" r="0.4" fill="#7a7a7a"/><circle cx="166.3" cy="93.9" r="1.4" fill="#fafafa"/><circle cx="169" cy="61.2" r="0.8" fill="#fafafa"/><circle cx="137" cy="77.2" r="0.6" fill="#7a7a7a"/><circle cx="141.4" cy="61.4" r="1.6" fill="#fafafa"/><circle cx="163" cy="94.4" r="1.2" fill="#fafafa"/><circle cx="141.7" cy="63.7" r="0.8" fill="#7a7a7a"/><circle cx="146.8" cy="80.5" r="0.9" fill="#7a7a7a"/><circle cx="148.1" cy="86" r="0.6" fill="#fafafa"/><circle cx="142.9" cy="90.7" r="1.1" fill="#fafafa"/><circle cx="153" cy="59.4" r="0.8" fill="#7a7a7a"/><circle cx="131.8" cy="62.4" r="1.1" fill="#fafafa"/><circle cx="157.3" cy="90.4" r="0.6" fill="#7a7a7a"/><circle cx="143.3" cy="70.5" r="1.3" fill="#fafafa"/><circle cx="130.4" cy="60.4" r="1.2" fill="#fafafa"/><circle cx="145.9" cy="69.6" r="0.7" fill="#fafafa"/><circle cx="130.5" cy="72.6" r="1" fill="#fafafa"/><circle cx="157.3" cy="78.6" r="1.6" fill="#fafafa"/><circle cx="164.2" cy="59.3" r="1" fill="#7a7a7a"/><circle cx="128.1" cy="79.9" r="1.6" fill="#fafafa"/><circle cx="145" cy="99.5" r="0.9" fill="#7a7a7a"/><circle cx="163.9" cy="61.2" r="1.6" fill="#fafafa"/><circle cx="167.9" cy="59.2" r="1.2" fill="#fafafa"/><circle cx="137.8" cy="81.1" r="1.3" fill="#fafafa"/><circle cx="165.3" cy="65.4" r="0.6" fill="#fafafa"/><circle cx="139.2" cy="59.5" r="1.4" fill="#fafafa"/><circle cx="146.5" cy="87.9" r="1" fill="#7a7a7a"/><circle cx="165.7" cy="100.1" r="1.3" fill="#fafafa"/><circle cx="152.7" cy="88.8" r="0.5" fill="#7a7a7a"/><circle cx="147.7" cy="77.3" r="1.4" fill="#fafafa"/><circle cx="140.2" cy="87" r="0.9" fill="#7a7a7a"/><circle cx="149.9" cy="90.4" r="0.5" fill="#7a7a7a"/><circle cx="150.5" cy="91.1" r="0.7" fill="#7a7a7a"/><circle cx="160.8" cy="82.9" r="1" fill="#7a7a7a"/><circle cx="136.4" cy="77.7" r="0.6" fill="#7a7a7a"/><circle cx="156" cy="68.4" r="0.6" fill="#7a7a7a"/><circle cx="166" cy="66.7" r="0.6" fill="#7a7a7a"/><circle cx="146.6" cy="74.1" r="1.4" fill="#fafafa"/><circle cx="150.2" cy="76.9" r="1" fill="#7a7a7a"/><circle cx="139.1" cy="59" r="0.8" fill="#7a7a7a"/><circle cx="149.8" cy="89.4" r="0.7" fill="#fafafa"/><circle cx="146.7" cy="86.5" r="0.8" fill="#fafafa"/><circle cx="164.2" cy="90.1" r="0.7" fill="#7a7a7a"/><circle cx="145.1" cy="100" r="1.4" fill="#fafafa"/><circle cx="146.6" cy="94.3" r="0.7" fill="#fafafa"/><circle cx="161" cy="87.1" r="0.6" fill="#7a7a7a"/><circle cx="134" cy="75.8" r="1" fill="#7a7a7a"/><circle cx="147.6" cy="73.8" r="0.9" fill="#7a7a7a"/><circle cx="162.9" cy="95.2" r="0.6" fill="#fafafa"/><circle cx="148.3" cy="95.7" r="0.8" fill="#fafafa"/><circle cx="130.8" cy="71.3" r="0.6" fill="#fafafa"/><circle cx="168.2" cy="79.1" r="0.7" fill="#fafafa"/><circle cx="132.6" cy="79.9" r="0.6" fill="#fafafa"/><circle cx="151.4" cy="89.9" r="1.6" fill="#fafafa"/><circle cx="163.4" cy="88.7" r="1.1" fill="#fafafa"/><circle cx="167.5" cy="88.6" r="0.5" fill="#7a7a7a"/><circle cx="128.7" cy="100.3" r="1.3" fill="#fafafa"/><circle cx="137.5" cy="96.3" r="0.8" fill="#fafafa"/><circle cx="153.3" cy="74.9" r="1.1" fill="#fafafa"/><circle cx="164.1" cy="83.3" r="1" fill="#fafafa"/><circle cx="127" cy="87.9" r="1.3" fill="#fafafa"/><circle cx="141.5" cy="74.9" r="1.2" fill="#fafafa"/><circle cx="167.8" cy="97.3" r="1" fill="#7a7a7a"/><circle cx="135.2" cy="94.2" r="0.6" fill="#7a7a7a"/><circle cx="150.3" cy="80.1" r="0.6" fill="#7a7a7a"/><circle cx="135.4" cy="58.5" r="1.6" fill="#fafafa"/><circle cx="136.9" cy="74.1" r="1" fill="#7a7a7a"/><circle cx="168.9" cy="75.2" r="0.9" fill="#7a7a7a"/><circle cx="157.4" cy="64.9" r="0.8" fill="#7a7a7a"/><circle cx="161.3" cy="58.9" r="0.8" fill="#7a7a7a"/><circle cx="131.1" cy="71.7" r="0.9" fill="#7a7a7a"/><circle cx="163.7" cy="81.9" r="1.4" fill="#fafafa"/><circle cx="132" cy="88.8" r="1.3" fill="#fafafa"/><circle cx="163.1" cy="88.4" r="1.2" fill="#fafafa"/><circle cx="166.4" cy="94.5" r="0.6" fill="#fafafa"/><circle cx="143.3" cy="83.3" r="0.8" fill="#fafafa"/><circle cx="150.4" cy="89.4" r="0.4" fill="#7a7a7a"/><circle cx="141.3" cy="66.3" r="1.1" fill="#fafafa"/><circle cx="126.7" cy="58.5" r="0.7" fill="#fafafa"/></g>
<clipPath id="cp5"><path d="M155.4 60.2Q156 59.4 156.9 59.2Q157.7 59 158.6 59.2Q159.4 59.5 160.3 59.7Q161.1 60 161.8 60.3Q162.5 60.6 163.6 60.3Q164.7 60 165.3 60.5Q165.9 61.1 166.7 61.3Q167.5 61.6 167.7 62.4Q167.8 63.1 168.4 63.6Q169 64.1 168.7 65.2Q168.4 66.2 168.8 66.8Q169.3 67.5 169 68.2Q168.7 68.9 168 69.4Q167.2 69.9 166.7 70.2Q166.1 70.6 165.5 70.9Q164.9 71.2 163.6 71.6Q162.4 72 162 72.5Q161.6 73.1 161.1 73.9Q160.5 74.6 159.3 74.9Q158.2 75.3 157.7 76.4Q157.2 77.6 156.5 78.2Q155.7 78.9 155.1 79.9Q154.4 80.9 153.9 81.2Q153.4 81.4 152.8 81.8Q152.2 82.2 151.3 83.3Q150.3 84.5 149.5 84.8Q148.7 85.1 148.1 85Q147.4 84.9 147 84.6Q146.5 84.3 145.8 84.3Q145.1 84.2 144.1 84.2Q143.2 84.2 142.9 83.5Q142.7 82.8 142 82.7Q141.3 82.6 141.8 81.7Q142.3 80.8 143.1 79.8Q143.9 78.9 144.2 78.3Q144.5 77.7 145.4 76.8Q146.3 75.9 146.4 75.3Q146.5 74.8 147.2 74Q147.9 73.2 148.9 72.3Q150 71.5 150.4 70.7Q150.7 69.9 150.9 69Q151.2 68.2 151.2 67.3Q151.2 66.4 151.2 65.5Q151.2 64.5 151.8 64.7Q152.4 64.9 152.6 64Q152.8 63 153.2 62.2Q153.6 61.4 154.2 61.3Q154.7 61.1 155.4 60.2Z"/></clipPath>
<path d="M155.4 60.2Q156 59.4 156.9 59.2Q157.7 59 158.6 59.2Q159.4 59.5 160.3 59.7Q161.1 60 161.8 60.3Q162.5 60.6 163.6 60.3Q164.7 60 165.3 60.5Q165.9 61.1 166.7 61.3Q167.5 61.6 167.7 62.4Q167.8 63.1 168.4 63.6Q169 64.1 168.7 65.2Q168.4 66.2 168.8 66.8Q169.3 67.5 169 68.2Q168.7 68.9 168 69.4Q167.2 69.9 166.7 70.2Q166.1 70.6 165.5 70.9Q164.9 71.2 163.6 71.6Q162.4 72 162 72.5Q161.6 73.1 161.1 73.9Q160.5 74.6 159.3 74.9Q158.2 75.3 157.7 76.4Q157.2 77.6 156.5 78.2Q155.7 78.9 155.1 79.9Q154.4 80.9 153.9 81.2Q153.4 81.4 152.8 81.8Q152.2 82.2 151.3 83.3Q150.3 84.5 149.5 84.8Q148.7 85.1 148.1 85Q147.4 84.9 147 84.6Q146.5 84.3 145.8 84.3Q145.1 84.2 144.1 84.2Q143.2 84.2 142.9 83.5Q142.7 82.8 142 82.7Q141.3 82.6 141.8 81.7Q142.3 80.8 143.1 79.8Q143.9 78.9 144.2 78.3Q144.5 77.7 145.4 76.8Q146.3 75.9 146.4 75.3Q146.5 74.8 147.2 74Q147.9 73.2 148.9 72.3Q150 71.5 150.4 70.7Q150.7 69.9 150.9 69Q151.2 68.2 151.2 67.3Q151.2 66.4 151.2 65.5Q151.2 64.5 151.8 64.7Q152.4 64.9 152.6 64Q152.8 63 153.2 62.2Q153.6 61.4 154.2 61.3Q154.7 61.1 155.4 60.2Z" fill="#3c3fe6"/>
<g clip-path="url(#cp5)" opacity="0.6"><circle cx="151.1" cy="65.6" r="0.8" fill="#2323a8"/><circle cx="150.5" cy="59.8" r="0.6" fill="#2323a8"/><circle cx="162.1" cy="67.6" r="0.4" fill="#2323a8"/><circle cx="164.9" cy="67.5" r="0.8" fill="#2323a8"/><circle cx="161.4" cy="79.2" r="0.6" fill="#6264f7"/><circle cx="162.6" cy="84.7" r="0.6" fill="#6264f7"/><circle cx="158.2" cy="82.5" r="0.8" fill="#6264f7"/><circle cx="151.3" cy="70" r="0.9" fill="#6264f7"/><circle cx="158.8" cy="76.1" r="0.9" fill="#6264f7"/><circle cx="166.9" cy="73.6" r="1.3" fill="#6264f7"/><circle cx="164" cy="74.7" r="1.3" fill="#6264f7"/><circle cx="152" cy="64" r="0.4" fill="#2323a8"/><circle cx="164.1" cy="84" r="0.4" fill="#2323a8"/><circle cx="154.7" cy="78.8" r="0.7" fill="#6264f7"/><circle cx="165.7" cy="69.7" r="0.6" fill="#2323a8"/><circle cx="153.7" cy="61.8" r="0.5" fill="#2323a8"/><circle cx="150.3" cy="70.1" r="0.5" fill="#2323a8"/><circle cx="162" cy="65.4" r="0.6" fill="#6264f7"/><circle cx="154.9" cy="76.2" r="0.4" fill="#2323a8"/><circle cx="149.2" cy="73.3" r="0.7" fill="#6264f7"/><circle cx="148.8" cy="61.9" r="0.7" fill="#6264f7"/><circle cx="167" cy="81.7" r="0.7" fill="#2323a8"/><circle cx="143.4" cy="73" r="0.9" fill="#6264f7"/><circle cx="145.8" cy="77.7" r="0.8" fill="#6264f7"/><circle cx="145.7" cy="81.1" r="0.7" fill="#2323a8"/><circle cx="146.8" cy="79.8" r="0.7" fill="#6264f7"/><circle cx="151.4" cy="64.6" r="1.1" fill="#6264f7"/><circle cx="154.2" cy="83.9" r="1.2" fill="#6264f7"/><circle cx="146.6" cy="83.3" r="0.4" fill="#2323a8"/><circle cx="162.3" cy="71.8" r="1.2" fill="#6264f7"/><circle cx="155.1" cy="62.3" r="0.5" fill="#2323a8"/><circle cx="166.7" cy="64.1" r="1.1" fill="#6264f7"/><circle cx="158.4" cy="69.9" r="0.5" fill="#2323a8"/><circle cx="147.4" cy="61.9" r="0.7" fill="#6264f7"/><circle cx="154" cy="64.6" r="0.8" fill="#2323a8"/><circle cx="155.9" cy="72.8" r="0.6" fill="#6264f7"/><circle cx="153.3" cy="76.7" r="0.9" fill="#6264f7"/><circle cx="155" cy="61.2" r="1.1" fill="#6264f7"/><circle cx="142.9" cy="79.9" r="0.6" fill="#2323a8"/><circle cx="160.5" cy="82.4" r="0.6" fill="#2323a8"/></g>
<clipPath id="cp6"><path d="M145.5 62.5Q145.5 62 145.8 61.6Q146.1 61.2 146.3 60.7Q146.5 60.2 147.3 60Q148.1 59.8 148.5 59.4Q149 59 149.7 58.9Q150.4 58.8 151.2 58.9Q152 58.9 152.9 58.7Q153.7 58.6 154.2 58.9Q154.7 59.2 155.3 59.4Q155.9 59.7 156.1 60.3Q156.3 60.8 156.6 61.4Q156.8 61.9 157 62.5Q157.1 63 157 63.6Q157 64.2 156.1 64.7Q155.3 65.1 154.7 65.6Q154.1 66.1 153.6 66.6Q153.1 67.1 152.3 67.4Q151.6 67.6 150.7 67.3Q149.8 67.1 149.1 66.8Q148.3 66.5 147.5 66.4Q146.6 66.3 146.6 65.6Q146.5 65 145.9 64.6Q145.2 64.2 145.3 63.6Q145.5 63 145.5 62.5Z"/></clipPath>
<path d="M145.5 62.5Q145.5 62 145.8 61.6Q146.1 61.2 146.3 60.7Q146.5 60.2 147.3 60Q148.1 59.8 148.5 59.4Q149 59 149.7 58.9Q150.4 58.8 151.2 58.9Q152 58.9 152.9 58.7Q153.7 58.6 154.2 58.9Q154.7 59.2 155.3 59.4Q155.9 59.7 156.1 60.3Q156.3 60.8 156.6 61.4Q156.8 61.9 157 62.5Q157.1 63 157 63.6Q157 64.2 156.1 64.7Q155.3 65.1 154.7 65.6Q154.1 66.1 153.6 66.6Q153.1 67.1 152.3 67.4Q151.6 67.6 150.7 67.3Q149.8 67.1 149.1 66.8Q148.3 66.5 147.5 66.4Q146.6 66.3 146.6 65.6Q146.5 65 145.9 64.6Q145.2 64.2 145.3 63.6Q145.5 63 145.5 62.5Z" fill="#a8475f"/>
<g clip-path="url(#cp6)" opacity="0.6"><circle cx="155.5" cy="65.4" r="1.1" fill="#c4667e"/><circle cx="154.1" cy="65.5" r="0.7" fill="#7c2e44"/><circle cx="152.8" cy="63.4" r="0.5" fill="#7c2e44"/><circle cx="156" cy="59.2" r="0.4" fill="#7c2e44"/><circle cx="156.3" cy="66.2" r="0.7" fill="#7c2e44"/><circle cx="152.8" cy="66.1" r="0.9" fill="#c4667e"/><circle cx="148.8" cy="60.7" r="0.6" fill="#7c2e44"/><circle cx="146.4" cy="66.8" r="0.7" fill="#7c2e44"/><circle cx="146.7" cy="62.1" r="0.7" fill="#c4667e"/><circle cx="145.7" cy="61.1" r="1.1" fill="#c4667e"/><circle cx="147.5" cy="60.5" r="0.9" fill="#c4667e"/><circle cx="152.5" cy="66.2" r="0.9" fill="#c4667e"/><circle cx="146.7" cy="59.5" r="0.4" fill="#7c2e44"/><circle cx="151.5" cy="64" r="0.6" fill="#7c2e44"/><circle cx="149.9" cy="60.7" r="0.7" fill="#c4667e"/><circle cx="146.4" cy="65" r="0.6" fill="#c4667e"/></g>
<g transform="translate(75 91) rotate(-148) scale(1)"><path d="M0 0H4.6M4.6 0Q6.8 -1 8.4 -4.4M4.6 0Q6.8 1 8.4 4.4" fill="none" stroke="#dc9a3c" stroke-width="2.9" stroke-linecap="round"/></g>
<g transform="translate(121.5 91) rotate(-32) scale(1)"><path d="M0 0H4.6M4.6 0Q6.8 -1 8.4 -4.4M4.6 0Q6.8 1 8.4 4.4" fill="none" stroke="#dc9a3c" stroke-width="2.9" stroke-linecap="round"/></g>
<path d="M50.5 49.5Q51.4 50.7 49.6 51.3Q49.9 53.4 48.4 53.5Q47.6 54.5 46.2 53Q44.8 54.1 44.3 52.7Q42.2 53.3 42.1 52Q41.1 50.9 42.7 49Q41.4 47.5 42.6 47Q42.4 45.7 44.2 46.2Q45 44.5 46.5 45.4Q48.1 44.3 48.8 45.8Q50.4 45.4 50.2 46.9Q51.6 47.8 50.5 49.5Z" fill="#fabcc0" stroke="#e4464f" stroke-width="0.75"/>
<path d="M78.3 47Q79.1 48.5 77.4 49.3Q77.7 51 76.1 50.6Q75.6 52.1 74.2 51.1Q72.4 52.2 71.4 50.8Q70.1 51 70.6 49.2Q68.6 48.7 69.1 47.4Q68.7 46.1 70.8 45.2Q70.5 42.9 71.9 42.7Q72.7 41.4 74.1 42.8Q75.1 42.1 75.4 44Q77.2 43.7 77.1 45.3Q79 45.8 78.3 47Z" fill="#fabcc0" stroke="#e4464f" stroke-width="0.75"/>
<path d="M101 49.7Q101.6 50.9 99.6 51.6Q100.3 53.1 98.9 52.8Q98.2 54.8 96.7 54.2Q95 55 94 53.2Q92.2 53.4 92.4 51.8Q91 51.3 92.2 50Q90.7 48.6 91.9 47.7Q91.7 46.1 93.6 46.1Q94.2 44.5 95.9 45.4Q97.4 44.5 98.3 46.2Q100 46.3 99.7 48.3Q101.6 48.7 101 49.7Z" fill="#fabcc0" stroke="#e4464f" stroke-width="0.75"/>
<path d="M132.2 47.8Q133.3 49.4 131.7 50.4Q131.8 51.6 129.8 51Q129.4 52.6 127.9 51.6Q126.4 52.6 125.5 51Q123.9 51.3 124.2 49.8Q122.5 49.3 123.4 48.2Q122.3 46.5 123.9 45.6Q123.6 44.4 125.2 45Q125.7 43 127.2 43.4Q129.1 42.6 130.3 44.3Q132.1 44.4 131.8 46.1Q133.3 46.6 132.2 47.8Z" fill="#fabcc0" stroke="#e4464f" stroke-width="0.75"/>
<path d="M86.9 67.8Q88 69.5 86.5 70.7Q86.5 71.9 84.5 71.3Q83.6 73.2 82 72.5Q80.7 73.5 80.2 72Q78.3 72.2 78.3 70.5Q77.1 70 78.4 68.5Q77.4 66.9 79 66Q78.4 64.3 79.7 64.5Q80.6 63.3 82.4 64.6Q84 63.3 84.6 64.5Q86.3 64.2 86 65.8Q87.8 66.4 86.9 67.8Z" fill="#fabcc0" stroke="#e4464f" stroke-width="0.75"/>
<path d="M113.7 69.2Q114.8 70.4 113.3 70.8Q113.3 72.3 111.5 71.9Q110.8 73.8 109.7 73.1Q107.9 74.1 107.2 72.7Q106 72.7 106.7 70.9Q105.1 70.1 106.1 68.6Q105 67.6 106.6 67.2Q106.4 64.9 108 64.7Q108.9 63.6 110.4 65.2Q112 64.1 112.6 65.5Q114.1 65.1 113.6 66.6Q115 67.5 113.7 69.2Z" fill="#fabcc0" stroke="#e4464f" stroke-width="0.75"/>
<path d="M102.3 86.2Q103.3 87.5 101.7 88.2Q102 90 100.4 90Q99.7 91.5 98.3 90.5Q97.1 91.5 96.4 89.8Q94.7 90 94.8 88.2Q93.1 87.4 94 86.1Q92.6 84.4 93.8 83.7Q93.6 82.1 95.3 82.5Q96.4 80.9 98.3 82Q99.4 81 99.7 82.6Q101.6 82.6 101.5 84.5Q103.2 85 102.3 86.2Z" fill="#fabcc0" stroke="#e4464f" stroke-width="0.75"/>
<path d="M68.6 111.8Q69.1 113.3 67 114Q67.3 115.9 65.9 115.7Q65.1 116.8 63.7 115.3Q62.6 116.6 62.1 115.4Q60.3 115.4 60.3 113.5Q58.7 112.9 59.8 111.8Q58.4 110 59.7 109.1Q59.5 107.5 61.2 107.7Q61.8 106.3 63.3 107.3Q64.9 106.8 66 108.9Q67.9 108.6 67.7 109.9Q69.5 110.6 68.6 111.8Z" fill="#fabcc0" stroke="#e4464f" stroke-width="0.75"/>
<path d="M84.5 119.6Q85.2 120.8 83.3 121.6Q83.7 123.4 82.1 123.4Q81.4 124.9 79.9 123.9Q78.7 124.9 78.1 123.2Q76.2 123.3 76.3 121.6Q74.4 120.9 75.1 119.7Q74.2 118 75.8 117.2Q75.8 116.1 77.7 116.8Q78.6 115 80.1 115.8Q81.4 114.6 81.9 116Q84.1 116.1 84.3 118Q85.7 118.5 84.5 119.6Z" fill="#fabcc0" stroke="#e4464f" stroke-width="0.75"/>
<path d="M62.5 128.8Q63.4 130.1 61.5 130.6Q62 132.6 60.4 132.6Q59.7 133.7 58 132.1Q56.7 133.3 56 131.9Q54.3 132.2 54.4 130.6Q52.8 130.2 53.8 129Q52.5 127.6 53.9 126.7Q53.7 125.4 55.7 125.7Q56.2 123.8 57.5 124.5Q59.1 123.3 60 124.8Q61.8 124.9 61.6 126.9Q63.4 127.6 62.5 128.8Z" fill="#fabcc0" stroke="#e4464f" stroke-width="0.75"/>
<path d="M119.4 126.3Q120.4 127.8 118.9 128.5Q119.1 129.9 117.3 129.4Q116.1 131.3 114.3 130.5Q113.2 131 112.8 129Q110.6 129.6 110.5 128.4Q109.3 127.7 110.8 126.3Q109.8 124.6 111.4 123.6Q111 122.2 112.5 122.8Q113.5 121.1 115.2 122.1Q116.5 120.9 117 122.2Q118.8 122.3 118.7 124.1Q120.4 125 119.4 126.3Z" fill="#fabcc0" stroke="#e4464f" stroke-width="0.75"/>
<path d="M135.6 111.5Q136.4 113 134.6 113.9Q135.1 115.6 133.7 115.5Q132.6 117 130.7 115.9Q129.4 116.7 129 115Q127.4 115.5 127.7 114.1Q126.2 113.3 127.3 111.7Q126.2 110.3 127.8 109.7Q127.4 108.4 129 109Q130 106.9 131.6 107.4Q133.1 106.7 133.6 108.4Q134.9 108 134.3 109.5Q136.2 110.1 135.6 111.5Z" fill="#fabcc0" stroke="#e4464f" stroke-width="0.75"/>
<path d="M141.5 133Q143.2 134.1 142.4 134.5Q142.2 135.8 139.8 135.5Q139.1 137.3 137.6 136.4Q136 137.3 135.4 135.6Q133.6 135.7 134 134.1Q132 133.5 132.7 132.5Q131.8 130.9 133.5 130.1Q133.8 128.9 136 129.6Q136.8 127.7 138.1 128.4Q139.2 127.6 139.5 129.4Q141.6 129.2 141.7 130.8Q142.9 131.7 141.5 133Z" fill="#fabcc0" stroke="#e4464f" stroke-width="0.75"/>
<path d="M57.7 69.3Q58 70.4 55.7 70.8Q56.1 72.5 54.7 72.3Q54.1 73.6 52.7 72.3Q51.4 73.7 50.9 72.4Q49.1 72.7 49.2 71Q47.8 70.6 49 69.2Q47.8 67.6 49.2 66.7Q48.8 64.9 50.4 65Q51 63.9 52.6 65.4Q54.3 64.1 55.2 65.3Q57 65.2 56.7 66.8Q58.5 67.8 57.7 69.3Z" fill="#fabcc0" stroke="#e4464f" stroke-width="0.75"/>
<path d="M154.2 71.7Q155.4 73 154 73.6Q154 75.1 152 75Q151.4 76.7 149.9 75.9Q148.4 77 147.4 75.4Q145.3 75.4 145.2 73.5Q143.5 72.8 144.5 71.6Q144.2 70.1 146.4 69.4Q145.8 67.4 146.9 67.4Q147.9 66.2 149.6 67.5Q151.1 66.1 151.7 67.3Q153.4 67.1 153.2 68.9Q155 70 154.2 71.7Z" fill="#fabcc0" stroke="#e4464f" stroke-width="0.75"/>
<clipPath id="cp7"><path d="M238.9 78.8Q238.7 78 238.7 76.8Q238.7 75.7 238.3 74.2Q238 72.8 239.1 71.6Q240.2 70.4 240.6 69.2Q241 68 241.4 66.9Q241.8 65.8 242.9 65.3Q244 64.8 244.3 63.6Q244.5 62.4 245.1 61.5Q245.7 60.7 246.4 59.8Q247 58.9 248.4 59.4Q249.9 59.9 250.6 59.1Q251.3 58.3 252.3 58.3Q253.4 58.3 254.2 56.9Q255 55.4 256.2 55.4Q257.4 55.5 258.5 56.5Q259.7 57.5 261 56Q262.3 54.4 263.4 54.5Q264.6 54.7 265.5 55.4Q266.4 56.1 267.4 56.5Q268.3 56.9 268.9 57.9Q269.4 59 270 59.6Q270.7 60.3 272.1 60.1Q273.4 60 273.5 61.2Q273.7 62.4 274.4 63Q275.2 63.6 275.7 64.5Q276.2 65.4 276.2 66.6Q276.3 67.9 277.2 68.8Q278.1 69.6 278.3 70.8Q278.4 72 279.2 73.2Q279.9 74.4 279.3 75.7Q278.8 77.1 278.9 78.4Q278.9 79.7 278.5 80.8Q278 82 277.9 83.2Q277.8 84.4 277 85.3Q276.3 86.2 275.5 87Q274.7 87.8 275 89.4Q275.3 91.1 274.5 92Q273.7 92.9 272.6 93.6Q271.5 94.3 270.4 94.8Q269.3 95.4 268 95.4Q266.7 95.4 265.7 95.8Q264.6 96.1 263.5 96.6Q262.5 97 261.3 96.9Q260.2 96.8 259.1 98Q258 99.3 256.9 98.6Q255.7 97.9 254.4 98.4Q253.1 98.9 252.2 97.7Q251.2 96.6 249.8 97Q248.3 97.4 247.4 96.6Q246.4 95.8 246.3 93.8Q246.2 91.9 245.1 91.4Q244.1 90.9 242.5 90.9Q240.9 90.9 241 89.7Q241 88.4 239.8 88.1Q238.7 87.8 239.2 86.6Q239.8 85.4 240.1 84.4Q240.4 83.5 239.3 83.1Q238.2 82.7 237.8 82.1Q237.5 81.5 238.3 80.6Q239.1 79.7 238.9 78.8Z"/></clipPath>
<radialGradient id="gr7" cx="0.45" cy="0.4" r="0.62"><stop offset="0" stop-color="#e2e4fd"/><stop offset="0.6" stop-color="#b8bcf0"/><stop offset="1" stop-color="#9096d6"/></radialGradient>
<path d="M238.9 78.8Q238.7 78 238.7 76.8Q238.7 75.7 238.3 74.2Q238 72.8 239.1 71.6Q240.2 70.4 240.6 69.2Q241 68 241.4 66.9Q241.8 65.8 242.9 65.3Q244 64.8 244.3 63.6Q244.5 62.4 245.1 61.5Q245.7 60.7 246.4 59.8Q247 58.9 248.4 59.4Q249.9 59.9 250.6 59.1Q251.3 58.3 252.3 58.3Q253.4 58.3 254.2 56.9Q255 55.4 256.2 55.4Q257.4 55.5 258.5 56.5Q259.7 57.5 261 56Q262.3 54.4 263.4 54.5Q264.6 54.7 265.5 55.4Q266.4 56.1 267.4 56.5Q268.3 56.9 268.9 57.9Q269.4 59 270 59.6Q270.7 60.3 272.1 60.1Q273.4 60 273.5 61.2Q273.7 62.4 274.4 63Q275.2 63.6 275.7 64.5Q276.2 65.4 276.2 66.6Q276.3 67.9 277.2 68.8Q278.1 69.6 278.3 70.8Q278.4 72 279.2 73.2Q279.9 74.4 279.3 75.7Q278.8 77.1 278.9 78.4Q278.9 79.7 278.5 80.8Q278 82 277.9 83.2Q277.8 84.4 277 85.3Q276.3 86.2 275.5 87Q274.7 87.8 275 89.4Q275.3 91.1 274.5 92Q273.7 92.9 272.6 93.6Q271.5 94.3 270.4 94.8Q269.3 95.4 268 95.4Q266.7 95.4 265.7 95.8Q264.6 96.1 263.5 96.6Q262.5 97 261.3 96.9Q260.2 96.8 259.1 98Q258 99.3 256.9 98.6Q255.7 97.9 254.4 98.4Q253.1 98.9 252.2 97.7Q251.2 96.6 249.8 97Q248.3 97.4 247.4 96.6Q246.4 95.8 246.3 93.8Q246.2 91.9 245.1 91.4Q244.1 90.9 242.5 90.9Q240.9 90.9 241 89.7Q241 88.4 239.8 88.1Q238.7 87.8 239.2 86.6Q239.8 85.4 240.1 84.4Q240.4 83.5 239.3 83.1Q238.2 82.7 237.8 82.1Q237.5 81.5 238.3 80.6Q239.1 79.7 238.9 78.8Z" fill="url(#gr7)" stroke="#6c72bc" stroke-width="0.7"/>
<g clip-path="url(#cp7)" opacity="0.75"><circle cx="253.2" cy="57.3" r="0.7" fill="#6c72bc"/><circle cx="269.9" cy="74.8" r="0.8" fill="#e2e4fd"/><circle cx="257.2" cy="68.6" r="1" fill="#e2e4fd"/><circle cx="263.3" cy="60.8" r="0.7" fill="#6c72bc"/><circle cx="261.3" cy="76.2" r="0.9" fill="#6c72bc"/><circle cx="271.7" cy="78.7" r="1.1" fill="#e2e4fd"/><circle cx="245.1" cy="86.4" r="1" fill="#6c72bc"/><circle cx="247.9" cy="92.8" r="0.7" fill="#e2e4fd"/><circle cx="267" cy="59.9" r="0.5" fill="#6c72bc"/><circle cx="246" cy="77.7" r="1.1" fill="#e2e4fd"/><circle cx="240.7" cy="63" r="0.5" fill="#6c72bc"/><circle cx="244.6" cy="64" r="0.8" fill="#e2e4fd"/><circle cx="246.1" cy="93.8" r="0.7" fill="#6c72bc"/><circle cx="241.2" cy="64.5" r="0.5" fill="#6c72bc"/><circle cx="258" cy="74.8" r="0.6" fill="#6c72bc"/><circle cx="252" cy="75" r="0.7" fill="#e2e4fd"/><circle cx="277.7" cy="88.7" r="0.7" fill="#e2e4fd"/><circle cx="244.7" cy="64.6" r="1" fill="#6c72bc"/><circle cx="261.4" cy="73.4" r="1.4" fill="#e2e4fd"/><circle cx="247.8" cy="69.3" r="0.7" fill="#6c72bc"/><circle cx="244.1" cy="75" r="1.4" fill="#e2e4fd"/><circle cx="257.8" cy="63" r="1" fill="#6c72bc"/><circle cx="251.4" cy="96.9" r="0.6" fill="#6c72bc"/><circle cx="276.6" cy="68" r="0.8" fill="#6c72bc"/><circle cx="254.3" cy="80.6" r="0.4" fill="#6c72bc"/><circle cx="270.6" cy="86" r="0.8" fill="#6c72bc"/><circle cx="239.4" cy="81.2" r="1" fill="#e2e4fd"/><circle cx="275.1" cy="97.6" r="0.8" fill="#e2e4fd"/><circle cx="248.6" cy="87.1" r="0.8" fill="#6c72bc"/><circle cx="251.4" cy="90.4" r="0.5" fill="#6c72bc"/><circle cx="262.5" cy="90.8" r="0.7" fill="#e2e4fd"/><circle cx="269.1" cy="93.2" r="1.1" fill="#e2e4fd"/><circle cx="260.2" cy="91.6" r="1.2" fill="#e2e4fd"/><circle cx="253.5" cy="58.2" r="0.9" fill="#6c72bc"/><circle cx="265.4" cy="93.5" r="0.7" fill="#6c72bc"/><circle cx="273.1" cy="71.8" r="1.3" fill="#e2e4fd"/><circle cx="273.4" cy="56.4" r="0.6" fill="#6c72bc"/><circle cx="248.4" cy="57.5" r="1.1" fill="#e2e4fd"/><circle cx="276.3" cy="96.5" r="1" fill="#6c72bc"/><circle cx="242.4" cy="67.1" r="0.9" fill="#6c72bc"/><circle cx="256.3" cy="91" r="0.7" fill="#6c72bc"/><circle cx="272.4" cy="79" r="1.4" fill="#e2e4fd"/><circle cx="241.1" cy="67.8" r="0.7" fill="#e2e4fd"/><circle cx="268.2" cy="59.1" r="0.8" fill="#6c72bc"/><circle cx="273.9" cy="72.2" r="0.7" fill="#6c72bc"/><circle cx="243.3" cy="56.2" r="1.6" fill="#e2e4fd"/><circle cx="251.6" cy="65.3" r="0.5" fill="#6c72bc"/><circle cx="247.2" cy="58.6" r="0.6" fill="#6c72bc"/><circle cx="261.4" cy="62.5" r="0.6" fill="#6c72bc"/><circle cx="251" cy="82.6" r="0.7" fill="#6c72bc"/><circle cx="251.1" cy="74.5" r="0.5" fill="#6c72bc"/><circle cx="274.1" cy="93.4" r="0.9" fill="#6c72bc"/><circle cx="254.5" cy="56.7" r="0.6" fill="#e2e4fd"/><circle cx="257.4" cy="86.5" r="0.5" fill="#6c72bc"/><circle cx="262.9" cy="85.8" r="0.6" fill="#e2e4fd"/><circle cx="256.7" cy="63.6" r="1.3" fill="#e2e4fd"/><circle cx="256.5" cy="83.7" r="1" fill="#6c72bc"/><circle cx="259.3" cy="66.1" r="1.1" fill="#e2e4fd"/><circle cx="258.5" cy="83.2" r="1.4" fill="#e2e4fd"/><circle cx="249.8" cy="84.2" r="1.2" fill="#e2e4fd"/><circle cx="273.2" cy="63.4" r="0.7" fill="#e2e4fd"/><circle cx="264.3" cy="88" r="1.5" fill="#e2e4fd"/><circle cx="245.6" cy="84.3" r="1.3" fill="#e2e4fd"/><circle cx="268.9" cy="69.4" r="0.8" fill="#e2e4fd"/><circle cx="250.2" cy="69.5" r="1.6" fill="#e2e4fd"/><circle cx="270.6" cy="87.1" r="1" fill="#e2e4fd"/><circle cx="248.9" cy="64.4" r="1.3" fill="#e2e4fd"/><circle cx="239.4" cy="61.4" r="0.5" fill="#6c72bc"/><circle cx="243.4" cy="58.8" r="0.7" fill="#6c72bc"/><circle cx="248.7" cy="92.7" r="0.7" fill="#e2e4fd"/><circle cx="273.9" cy="56.4" r="0.6" fill="#e2e4fd"/><circle cx="245.1" cy="90.7" r="0.7" fill="#6c72bc"/><circle cx="239.2" cy="60" r="1" fill="#e2e4fd"/><circle cx="260.9" cy="67.1" r="0.6" fill="#e2e4fd"/><circle cx="262.5" cy="79.7" r="1.3" fill="#e2e4fd"/><circle cx="246.8" cy="69.7" r="1.4" fill="#e2e4fd"/><circle cx="241.1" cy="56.1" r="1.1" fill="#e2e4fd"/><circle cx="243.4" cy="65.6" r="0.9" fill="#6c72bc"/><circle cx="269.1" cy="57.6" r="1" fill="#e2e4fd"/><circle cx="256" cy="57.4" r="0.7" fill="#e2e4fd"/><circle cx="269.7" cy="71.1" r="1.4" fill="#e2e4fd"/><circle cx="262.5" cy="77.8" r="1.5" fill="#e2e4fd"/><circle cx="252.8" cy="75.5" r="0.8" fill="#e2e4fd"/><circle cx="249.1" cy="78.8" r="0.5" fill="#6c72bc"/><circle cx="244.2" cy="74" r="0.9" fill="#6c72bc"/><circle cx="254" cy="94.3" r="1" fill="#6c72bc"/><circle cx="241.8" cy="66.9" r="1" fill="#6c72bc"/><circle cx="247.6" cy="62.7" r="0.7" fill="#6c72bc"/><circle cx="271.9" cy="95.2" r="0.7" fill="#6c72bc"/><circle cx="247.1" cy="94.6" r="0.8" fill="#6c72bc"/><circle cx="258.2" cy="64.3" r="0.4" fill="#6c72bc"/><circle cx="270.5" cy="77.7" r="1" fill="#e2e4fd"/><circle cx="275.2" cy="63.1" r="1.5" fill="#e2e4fd"/><circle cx="242.4" cy="81.1" r="1" fill="#e2e4fd"/><circle cx="278.5" cy="65.7" r="1.3" fill="#e2e4fd"/><circle cx="269.2" cy="97.2" r="1.5" fill="#e2e4fd"/><circle cx="275.4" cy="69.8" r="1" fill="#e2e4fd"/><circle cx="259" cy="60.4" r="1.1" fill="#e2e4fd"/><circle cx="241.7" cy="71.6" r="0.7" fill="#6c72bc"/><circle cx="258.1" cy="67" r="0.6" fill="#6c72bc"/><circle cx="241.1" cy="84.3" r="0.5" fill="#6c72bc"/><circle cx="240.4" cy="97.1" r="1.6" fill="#e2e4fd"/><circle cx="264.2" cy="94.3" r="1.4" fill="#e2e4fd"/><circle cx="256.9" cy="59.5" r="0.4" fill="#6c72bc"/><circle cx="247" cy="78.6" r="0.6" fill="#6c72bc"/><circle cx="241.6" cy="65.8" r="1.1" fill="#e2e4fd"/><circle cx="265.3" cy="87.3" r="0.8" fill="#6c72bc"/><circle cx="269.4" cy="89.4" r="0.7" fill="#6c72bc"/><circle cx="246.9" cy="65" r="0.6" fill="#e2e4fd"/><circle cx="247.8" cy="58.6" r="0.7" fill="#6c72bc"/><circle cx="271.3" cy="57.3" r="1.5" fill="#e2e4fd"/><circle cx="276.2" cy="79.3" r="0.9" fill="#6c72bc"/><circle cx="263.1" cy="96" r="1.4" fill="#e2e4fd"/><circle cx="252.1" cy="83" r="0.8" fill="#6c72bc"/><circle cx="240.6" cy="78.1" r="0.9" fill="#6c72bc"/><circle cx="278.3" cy="62.8" r="0.8" fill="#6c72bc"/><circle cx="271" cy="76.7" r="0.7" fill="#e2e4fd"/><circle cx="266.6" cy="85.2" r="1.3" fill="#e2e4fd"/><circle cx="265.1" cy="69.9" r="0.6" fill="#6c72bc"/><circle cx="273.9" cy="96.6" r="0.9" fill="#e2e4fd"/><circle cx="256" cy="95.1" r="1.2" fill="#e2e4fd"/><circle cx="255.3" cy="61.3" r="0.8" fill="#6c72bc"/><circle cx="254.6" cy="97.2" r="0.5" fill="#6c72bc"/><circle cx="254.9" cy="71.3" r="1.1" fill="#e2e4fd"/><circle cx="246.8" cy="83.1" r="1.2" fill="#e2e4fd"/><circle cx="257.6" cy="94.5" r="1.5" fill="#e2e4fd"/><circle cx="248.5" cy="78.2" r="0.5" fill="#6c72bc"/><circle cx="275.1" cy="82.9" r="0.6" fill="#6c72bc"/><circle cx="260.6" cy="85.7" r="0.8" fill="#6c72bc"/><circle cx="274" cy="72.1" r="0.7" fill="#6c72bc"/><circle cx="270.1" cy="87.9" r="1.4" fill="#e2e4fd"/><circle cx="269.7" cy="82.9" r="1" fill="#e2e4fd"/><circle cx="246.8" cy="82.2" r="0.9" fill="#6c72bc"/><circle cx="239.9" cy="57" r="1" fill="#6c72bc"/><circle cx="250.9" cy="88.6" r="0.7" fill="#e2e4fd"/><circle cx="247.9" cy="74.3" r="0.7" fill="#6c72bc"/><circle cx="257" cy="61.1" r="1.2" fill="#e2e4fd"/><circle cx="269.1" cy="56.1" r="0.5" fill="#6c72bc"/><circle cx="271.1" cy="77.7" r="0.5" fill="#6c72bc"/><circle cx="257.1" cy="79.2" r="0.7" fill="#6c72bc"/><circle cx="256.3" cy="81.8" r="0.5" fill="#6c72bc"/><circle cx="244.1" cy="74.5" r="0.8" fill="#e2e4fd"/><circle cx="249" cy="58.9" r="0.7" fill="#6c72bc"/><circle cx="240.2" cy="86.7" r="0.8" fill="#6c72bc"/><circle cx="248.6" cy="63.7" r="0.6" fill="#6c72bc"/><circle cx="271" cy="79.1" r="0.7" fill="#6c72bc"/><circle cx="265.5" cy="86.6" r="1.3" fill="#e2e4fd"/><circle cx="248.2" cy="87.9" r="0.8" fill="#6c72bc"/><circle cx="260.5" cy="72.9" r="1" fill="#e2e4fd"/><circle cx="256.4" cy="84.5" r="0.9" fill="#e2e4fd"/></g>
<clipPath id="cp8"><path d="M262.6 59.6Q263 59.6 263.8 59.1Q264.5 58.6 265.6 58.5Q266.7 58.3 267.8 58.9Q268.9 59.4 269.8 59.6Q270.7 59.9 271.6 59.9Q272.5 59.8 273.1 60.4Q273.8 60.9 274.7 61.1Q275.6 61.2 275.9 62Q276.3 62.7 276.4 63.6Q276.6 64.4 276.6 65.4Q276.7 66.3 276.7 67.2Q276.7 68.1 276 69.2Q275.3 70.3 275.3 70.9Q275.2 71.6 274.4 72.4Q273.6 73.2 273.7 73.9Q273.9 74.5 272.5 75.2Q271.1 75.8 271.4 76.8Q271.6 77.8 270.5 78.1Q269.4 78.4 269.4 79.6Q269.3 80.8 268.6 81.3Q267.9 81.7 267.4 82.5Q266.8 83.4 266.3 84.6Q265.7 85.9 265.1 85.8Q264.5 85.7 263.8 86.4Q263.1 87.1 262.1 88.5Q261.1 90 260.2 90.1Q259.3 90.2 258.5 90.2Q257.8 90.1 256.7 91Q255.5 91.9 255 91.5Q254.5 91.1 254.7 89.8Q254.8 88.4 254.4 87.9Q254.1 87.4 254.3 86.4Q254.5 85.5 254.7 84.9Q254.8 84.4 255.1 83.9Q255.4 83.4 256.4 82.3Q257.4 81.2 257.5 80.7Q257.7 80.2 258.8 78.9Q259.8 77.6 260.3 76.7Q260.8 75.8 260.7 74.9Q260.6 73.9 261.4 73Q262.2 72.1 262.4 71.2Q262.6 70.3 262.6 69.2Q262.7 68.2 262.8 67.4Q262.9 66.7 263 65.9Q263.1 65.2 263.1 64.8Q263.1 64.3 262.8 62.9Q262.5 61.4 262.4 60.5Q262.3 59.6 262.6 59.6Z"/></clipPath>
<path d="M262.6 59.6Q263 59.6 263.8 59.1Q264.5 58.6 265.6 58.5Q266.7 58.3 267.8 58.9Q268.9 59.4 269.8 59.6Q270.7 59.9 271.6 59.9Q272.5 59.8 273.1 60.4Q273.8 60.9 274.7 61.1Q275.6 61.2 275.9 62Q276.3 62.7 276.4 63.6Q276.6 64.4 276.6 65.4Q276.7 66.3 276.7 67.2Q276.7 68.1 276 69.2Q275.3 70.3 275.3 70.9Q275.2 71.6 274.4 72.4Q273.6 73.2 273.7 73.9Q273.9 74.5 272.5 75.2Q271.1 75.8 271.4 76.8Q271.6 77.8 270.5 78.1Q269.4 78.4 269.4 79.6Q269.3 80.8 268.6 81.3Q267.9 81.7 267.4 82.5Q266.8 83.4 266.3 84.6Q265.7 85.9 265.1 85.8Q264.5 85.7 263.8 86.4Q263.1 87.1 262.1 88.5Q261.1 90 260.2 90.1Q259.3 90.2 258.5 90.2Q257.8 90.1 256.7 91Q255.5 91.9 255 91.5Q254.5 91.1 254.7 89.8Q254.8 88.4 254.4 87.9Q254.1 87.4 254.3 86.4Q254.5 85.5 254.7 84.9Q254.8 84.4 255.1 83.9Q255.4 83.4 256.4 82.3Q257.4 81.2 257.5 80.7Q257.7 80.2 258.8 78.9Q259.8 77.6 260.3 76.7Q260.8 75.8 260.7 74.9Q260.6 73.9 261.4 73Q262.2 72.1 262.4 71.2Q262.6 70.3 262.6 69.2Q262.7 68.2 262.8 67.4Q262.9 66.7 263 65.9Q263.1 65.2 263.1 64.8Q263.1 64.3 262.8 62.9Q262.5 61.4 262.4 60.5Q262.3 59.6 262.6 59.6Z" fill="#3c3fe6"/>
<g clip-path="url(#cp8)" opacity="0.6"><circle cx="261.4" cy="63.6" r="0.4" fill="#2323a8"/><circle cx="259.6" cy="86.2" r="0.7" fill="#6264f7"/><circle cx="257.4" cy="72.3" r="0.8" fill="#2323a8"/><circle cx="264.5" cy="87.5" r="0.9" fill="#6264f7"/><circle cx="261.9" cy="64.3" r="1.2" fill="#6264f7"/><circle cx="266.3" cy="63" r="0.9" fill="#6264f7"/><circle cx="259" cy="82.3" r="1.2" fill="#6264f7"/><circle cx="275" cy="87.8" r="0.9" fill="#6264f7"/><circle cx="259" cy="75.1" r="0.5" fill="#2323a8"/><circle cx="274.5" cy="87.8" r="1.1" fill="#6264f7"/><circle cx="265.1" cy="86.8" r="0.9" fill="#6264f7"/><circle cx="273.3" cy="76.5" r="0.8" fill="#6264f7"/><circle cx="265.3" cy="72" r="0.7" fill="#2323a8"/><circle cx="267.7" cy="63.9" r="1.1" fill="#6264f7"/><circle cx="254.6" cy="81.8" r="0.7" fill="#6264f7"/><circle cx="269.4" cy="86" r="0.8" fill="#2323a8"/><circle cx="266" cy="83.5" r="1.1" fill="#6264f7"/><circle cx="269.6" cy="89.8" r="0.6" fill="#6264f7"/><circle cx="266.7" cy="79.5" r="0.8" fill="#6264f7"/><circle cx="256.8" cy="68" r="0.5" fill="#2323a8"/><circle cx="267.1" cy="82.7" r="1.1" fill="#6264f7"/><circle cx="275.5" cy="66.1" r="0.9" fill="#6264f7"/><circle cx="263.9" cy="64.4" r="0.8" fill="#2323a8"/><circle cx="273.4" cy="63.9" r="0.8" fill="#2323a8"/><circle cx="269.5" cy="77.5" r="0.6" fill="#2323a8"/><circle cx="263.8" cy="69.5" r="0.7" fill="#2323a8"/><circle cx="263.2" cy="85.4" r="0.6" fill="#6264f7"/><circle cx="270.1" cy="62.2" r="1.2" fill="#6264f7"/><circle cx="266.3" cy="68.7" r="0.7" fill="#2323a8"/><circle cx="271.5" cy="87.2" r="1.2" fill="#6264f7"/><circle cx="270.4" cy="77.6" r="0.9" fill="#6264f7"/><circle cx="270.3" cy="75.9" r="0.8" fill="#2323a8"/><circle cx="259.7" cy="64.8" r="0.5" fill="#2323a8"/><circle cx="273.4" cy="67.1" r="0.9" fill="#6264f7"/><circle cx="271.4" cy="89.9" r="0.4" fill="#2323a8"/><circle cx="263.7" cy="62" r="1" fill="#6264f7"/><circle cx="259.6" cy="59.8" r="0.9" fill="#6264f7"/><circle cx="263.3" cy="80.3" r="0.4" fill="#2323a8"/><circle cx="256.4" cy="64.9" r="0.8" fill="#6264f7"/><circle cx="267" cy="75.1" r="0.6" fill="#6264f7"/></g>
<clipPath id="cp9"><path d="M247.3 61.5Q247.2 61.1 247.3 60.4Q247.4 59.7 247.9 59Q248.3 58.3 248.9 57.5Q249.5 56.8 250.3 56.5Q251.2 56.3 251.8 55.9Q252.5 55.6 253.2 55.4Q253.9 55.2 254.7 55.1Q255.4 55 256.2 54.9Q257 54.8 257.8 55.5Q258.7 56.2 259.7 56.6Q260.8 57 261.6 57.9Q262.3 58.7 263.1 59.4Q263.8 60.1 264.4 60.8Q264.9 61.5 265.5 62.2Q266 63 266.1 63.8Q266.1 64.6 265.8 65.2Q265.5 65.9 265.4 66.6Q265.2 67.4 264.7 68Q264.2 68.7 263.8 69.6Q263.5 70.5 262.8 70.9Q262.2 71.3 261.6 71.4Q260.9 71.5 260.2 71.5Q259.6 71.4 258.9 71.2Q258.2 70.9 257.6 70.7Q257 70.4 256.6 69.8Q256.1 69.2 255.8 68.2Q255.5 67.3 255.1 66.8Q254.7 66.4 254.3 65.7Q254 65 253.3 64.8Q252.6 64.6 252 64.5Q251.4 64.4 250.8 64.3Q250.2 64.3 249.6 64.1Q249.1 64 248.7 63.7Q248.2 63.4 247.9 63.1Q247.6 62.8 247.5 62.4Q247.4 62 247.3 61.5Z"/></clipPath>
<path d="M247.3 61.5Q247.2 61.1 247.3 60.4Q247.4 59.7 247.9 59Q248.3 58.3 248.9 57.5Q249.5 56.8 250.3 56.5Q251.2 56.3 251.8 55.9Q252.5 55.6 253.2 55.4Q253.9 55.2 254.7 55.1Q255.4 55 256.2 54.9Q257 54.8 257.8 55.5Q258.7 56.2 259.7 56.6Q260.8 57 261.6 57.9Q262.3 58.7 263.1 59.4Q263.8 60.1 264.4 60.8Q264.9 61.5 265.5 62.2Q266 63 266.1 63.8Q266.1 64.6 265.8 65.2Q265.5 65.9 265.4 66.6Q265.2 67.4 264.7 68Q264.2 68.7 263.8 69.6Q263.5 70.5 262.8 70.9Q262.2 71.3 261.6 71.4Q260.9 71.5 260.2 71.5Q259.6 71.4 258.9 71.2Q258.2 70.9 257.6 70.7Q257 70.4 256.6 69.8Q256.1 69.2 255.8 68.2Q255.5 67.3 255.1 66.8Q254.7 66.4 254.3 65.7Q254 65 253.3 64.8Q252.6 64.6 252 64.5Q251.4 64.4 250.8 64.3Q250.2 64.3 249.6 64.1Q249.1 64 248.7 63.7Q248.2 63.4 247.9 63.1Q247.6 62.8 247.5 62.4Q247.4 62 247.3 61.5Z" fill="#a8475f"/>
<g clip-path="url(#cp9)" opacity="0.6"><circle cx="264.2" cy="67.2" r="1" fill="#c4667e"/><circle cx="262.8" cy="66.2" r="0.6" fill="#c4667e"/><circle cx="263.4" cy="55.9" r="0.5" fill="#7c2e44"/><circle cx="259.1" cy="56.2" r="0.5" fill="#7c2e44"/><circle cx="251" cy="59.7" r="0.7" fill="#c4667e"/><circle cx="265.1" cy="60.2" r="1" fill="#c4667e"/><circle cx="250.8" cy="65.7" r="0.5" fill="#7c2e44"/><circle cx="264.6" cy="62.7" r="0.6" fill="#c4667e"/><circle cx="260.1" cy="65.9" r="0.6" fill="#7c2e44"/><circle cx="263.6" cy="59.5" r="0.9" fill="#c4667e"/><circle cx="256.4" cy="62.1" r="0.8" fill="#c4667e"/><circle cx="252.3" cy="63" r="0.4" fill="#7c2e44"/><circle cx="252.5" cy="57.6" r="0.7" fill="#7c2e44"/><circle cx="247.6" cy="63.8" r="0.5" fill="#7c2e44"/><circle cx="248.4" cy="57.9" r="0.8" fill="#c4667e"/><circle cx="264.6" cy="59.7" r="0.7" fill="#7c2e44"/></g>
<clipPath id="cp10"><path d="M324.2 79.1Q324.8 78 324.2 76.7Q323.6 75.5 323.8 74.1Q324 72.8 324 71.4Q324.1 69.9 325.5 69.2Q326.9 68.5 327.4 67.5Q327.8 66.5 328.4 65.7Q329.1 64.9 329.7 64Q330.2 63.1 330.3 61.8Q330.5 60.4 331.9 60.6Q333.3 60.8 333.7 59.6Q334.2 58.5 335.3 58.6Q336.5 58.6 337.3 58.1Q338.2 57.7 339.2 57.2Q340.2 56.7 341.2 55.8Q342.2 55 343.5 55.3Q344.7 55.6 345.8 56.6Q346.8 57.6 348 57.3Q349.1 56.9 350.2 57.3Q351.3 57.7 352.8 56.8Q354.4 56 355.5 56.5Q356.5 57.1 357.5 57.7Q358.6 58.3 359.6 59Q360.6 59.7 361.3 60.7Q362.1 61.6 363.2 62.3Q364.2 63.1 364.7 64.3Q365.1 65.5 364.8 67Q364.6 68.6 365.9 69.4Q367.3 70.2 367 71.6Q366.7 73 367.2 74.2Q367.8 75.4 367.4 76.7Q367 78 366.7 79.3Q366.3 80.5 365.9 81.7Q365.6 82.9 365.3 84.1Q365.1 85.3 364.5 86.3Q363.8 87.4 363 88.3Q362.2 89.2 362.5 90.9Q362.8 92.7 362 93.7Q361.2 94.7 360.5 96Q359.8 97.2 358.6 97.7Q357.3 98.2 356.2 98.7Q355.1 99.2 354.1 100Q353.2 100.7 351.7 100Q350.3 99.4 349.4 100.4Q348.4 101.5 347.2 101.2Q346 100.8 344.9 100.3Q343.8 99.8 342.6 99.6Q341.5 99.5 340.3 99.7Q339.1 99.9 338.2 99.1Q337.3 98.2 336.2 97.9Q335.1 97.7 334.1 97.1Q333 96.6 332.4 95.5Q331.7 94.4 331.3 93.2Q330.9 92.1 329.8 91.7Q328.7 91.3 328.4 90.2Q328.2 89.1 327.6 88.3Q327.1 87.4 326.8 86.5Q326.5 85.6 325.9 84.8Q325.3 84 325.5 82.9Q325.8 81.9 324.7 81.1Q323.5 80.2 324.2 79.1Z"/></clipPath>
<radialGradient id="gr10" cx="0.45" cy="0.4" r="0.62"><stop offset="0" stop-color="#e2e4fd"/><stop offset="0.6" stop-color="#b8bcf0"/><stop offset="1" stop-color="#9096d6"/></radialGradient>
<path d="M324.2 79.1Q324.8 78 324.2 76.7Q323.6 75.5 323.8 74.1Q324 72.8 324 71.4Q324.1 69.9 325.5 69.2Q326.9 68.5 327.4 67.5Q327.8 66.5 328.4 65.7Q329.1 64.9 329.7 64Q330.2 63.1 330.3 61.8Q330.5 60.4 331.9 60.6Q333.3 60.8 333.7 59.6Q334.2 58.5 335.3 58.6Q336.5 58.6 337.3 58.1Q338.2 57.7 339.2 57.2Q340.2 56.7 341.2 55.8Q342.2 55 343.5 55.3Q344.7 55.6 345.8 56.6Q346.8 57.6 348 57.3Q349.1 56.9 350.2 57.3Q351.3 57.7 352.8 56.8Q354.4 56 355.5 56.5Q356.5 57.1 357.5 57.7Q358.6 58.3 359.6 59Q360.6 59.7 361.3 60.7Q362.1 61.6 363.2 62.3Q364.2 63.1 364.7 64.3Q365.1 65.5 364.8 67Q364.6 68.6 365.9 69.4Q367.3 70.2 367 71.6Q366.7 73 367.2 74.2Q367.8 75.4 367.4 76.7Q367 78 366.7 79.3Q366.3 80.5 365.9 81.7Q365.6 82.9 365.3 84.1Q365.1 85.3 364.5 86.3Q363.8 87.4 363 88.3Q362.2 89.2 362.5 90.9Q362.8 92.7 362 93.7Q361.2 94.7 360.5 96Q359.8 97.2 358.6 97.7Q357.3 98.2 356.2 98.7Q355.1 99.2 354.1 100Q353.2 100.7 351.7 100Q350.3 99.4 349.4 100.4Q348.4 101.5 347.2 101.2Q346 100.8 344.9 100.3Q343.8 99.8 342.6 99.6Q341.5 99.5 340.3 99.7Q339.1 99.9 338.2 99.1Q337.3 98.2 336.2 97.9Q335.1 97.7 334.1 97.1Q333 96.6 332.4 95.5Q331.7 94.4 331.3 93.2Q330.9 92.1 329.8 91.7Q328.7 91.3 328.4 90.2Q328.2 89.1 327.6 88.3Q327.1 87.4 326.8 86.5Q326.5 85.6 325.9 84.8Q325.3 84 325.5 82.9Q325.8 81.9 324.7 81.1Q323.5 80.2 324.2 79.1Z" fill="url(#gr10)" stroke="#6c72bc" stroke-width="0.7"/>
<g clip-path="url(#cp10)" opacity="0.75"><circle cx="362.7" cy="90.5" r="1.3" fill="#e2e4fd"/><circle cx="359.6" cy="87.4" r="0.6" fill="#e2e4fd"/><circle cx="361" cy="58.5" r="0.5" fill="#6c72bc"/><circle cx="351.2" cy="59.4" r="0.6" fill="#6c72bc"/><circle cx="333" cy="69.3" r="0.7" fill="#e2e4fd"/><circle cx="364.8" cy="70.6" r="1.3" fill="#e2e4fd"/><circle cx="332.6" cy="86.2" r="0.7" fill="#6c72bc"/><circle cx="363.6" cy="77.7" r="0.6" fill="#e2e4fd"/><circle cx="353.4" cy="86.7" r="0.8" fill="#6c72bc"/><circle cx="361.4" cy="68.7" r="1.1" fill="#e2e4fd"/><circle cx="345.1" cy="76.1" r="0.9" fill="#e2e4fd"/><circle cx="335.8" cy="78.5" r="0.4" fill="#6c72bc"/><circle cx="336.4" cy="63.4" r="0.9" fill="#6c72bc"/><circle cx="325.3" cy="80.6" r="0.7" fill="#6c72bc"/><circle cx="327.1" cy="64.1" r="0.9" fill="#e2e4fd"/><circle cx="363.6" cy="69.1" r="0.9" fill="#6c72bc"/><circle cx="339.8" cy="86.6" r="0.5" fill="#6c72bc"/><circle cx="347.2" cy="94.1" r="1" fill="#6c72bc"/><circle cx="352.9" cy="98" r="0.7" fill="#6c72bc"/><circle cx="331" cy="82" r="0.8" fill="#6c72bc"/><circle cx="349.7" cy="57.4" r="0.7" fill="#e2e4fd"/><circle cx="335.8" cy="100.5" r="1.4" fill="#e2e4fd"/><circle cx="328.3" cy="95.5" r="0.7" fill="#6c72bc"/><circle cx="354.6" cy="57.5" r="1" fill="#e2e4fd"/><circle cx="358.2" cy="58.1" r="0.4" fill="#6c72bc"/><circle cx="340" cy="91.1" r="1.5" fill="#e2e4fd"/><circle cx="347" cy="87.3" r="1.1" fill="#e2e4fd"/><circle cx="366.6" cy="77.7" r="1.3" fill="#e2e4fd"/><circle cx="336.2" cy="69.1" r="0.4" fill="#6c72bc"/><circle cx="353.1" cy="89.4" r="0.9" fill="#e2e4fd"/><circle cx="343.3" cy="74.9" r="1.1" fill="#e2e4fd"/><circle cx="327.3" cy="67.9" r="1" fill="#e2e4fd"/><circle cx="363.2" cy="78" r="1" fill="#6c72bc"/><circle cx="360.2" cy="97.9" r="0.7" fill="#e2e4fd"/><circle cx="335.2" cy="64" r="1" fill="#6c72bc"/><circle cx="327.2" cy="81.9" r="1.4" fill="#e2e4fd"/><circle cx="355.7" cy="62.2" r="1.3" fill="#e2e4fd"/><circle cx="346" cy="83.5" r="0.7" fill="#6c72bc"/><circle cx="363.4" cy="69.9" r="0.6" fill="#6c72bc"/><circle cx="325.7" cy="82.7" r="0.7" fill="#e2e4fd"/><circle cx="325" cy="76.4" r="0.7" fill="#6c72bc"/><circle cx="361.4" cy="96.5" r="0.8" fill="#e2e4fd"/><circle cx="345.2" cy="56.4" r="0.9" fill="#e2e4fd"/><circle cx="334.2" cy="67" r="1.2" fill="#e2e4fd"/><circle cx="327" cy="98.8" r="1.5" fill="#e2e4fd"/><circle cx="341.4" cy="94.9" r="1.2" fill="#e2e4fd"/><circle cx="360" cy="75.1" r="0.9" fill="#6c72bc"/><circle cx="340.4" cy="72.4" r="0.9" fill="#6c72bc"/><circle cx="334.3" cy="57.3" r="0.4" fill="#6c72bc"/><circle cx="336.4" cy="81.4" r="0.7" fill="#6c72bc"/><circle cx="330.5" cy="77.8" r="0.7" fill="#e2e4fd"/><circle cx="332" cy="63.5" r="0.5" fill="#6c72bc"/><circle cx="348.2" cy="72.5" r="0.7" fill="#6c72bc"/><circle cx="344.6" cy="83.2" r="0.5" fill="#6c72bc"/><circle cx="358.1" cy="81.5" r="1" fill="#e2e4fd"/><circle cx="352.9" cy="84.6" r="1.2" fill="#e2e4fd"/><circle cx="353.7" cy="100.3" r="1" fill="#6c72bc"/><circle cx="360.5" cy="78.2" r="1.5" fill="#e2e4fd"/><circle cx="353.2" cy="62.4" r="0.8" fill="#6c72bc"/><circle cx="349.3" cy="82.3" r="0.7" fill="#6c72bc"/><circle cx="338.6" cy="88.1" r="0.7" fill="#e2e4fd"/><circle cx="344.9" cy="74.4" r="1.6" fill="#e2e4fd"/><circle cx="356.6" cy="89.9" r="1" fill="#e2e4fd"/><circle cx="349.6" cy="99.3" r="0.8" fill="#6c72bc"/><circle cx="328.7" cy="69.7" r="0.8" fill="#e2e4fd"/><circle cx="332.9" cy="65.3" r="0.7" fill="#e2e4fd"/><circle cx="325" cy="69.9" r="0.8" fill="#e2e4fd"/><circle cx="357.5" cy="57.9" r="1.5" fill="#e2e4fd"/><circle cx="352.1" cy="86.4" r="0.9" fill="#6c72bc"/><circle cx="324.2" cy="90.2" r="1.2" fill="#e2e4fd"/><circle cx="341.9" cy="94.7" r="0.7" fill="#e2e4fd"/><circle cx="325.7" cy="96" r="1" fill="#6c72bc"/><circle cx="363.1" cy="66.7" r="1.3" fill="#e2e4fd"/><circle cx="338.9" cy="80.3" r="0.4" fill="#6c72bc"/><circle cx="347.9" cy="97.2" r="1.6" fill="#e2e4fd"/><circle cx="347.1" cy="98.4" r="1.5" fill="#e2e4fd"/><circle cx="344.5" cy="62.5" r="0.5" fill="#6c72bc"/><circle cx="352.3" cy="70" r="0.9" fill="#e2e4fd"/><circle cx="353.4" cy="97.1" r="1" fill="#e2e4fd"/><circle cx="343.2" cy="78.4" r="1.5" fill="#e2e4fd"/><circle cx="359.2" cy="68.7" r="0.8" fill="#6c72bc"/><circle cx="345.6" cy="64.1" r="1.1" fill="#e2e4fd"/><circle cx="337.2" cy="96.4" r="0.8" fill="#e2e4fd"/><circle cx="343.2" cy="92.3" r="0.9" fill="#6c72bc"/><circle cx="352.5" cy="65.6" r="0.9" fill="#6c72bc"/><circle cx="329.5" cy="64.6" r="0.5" fill="#6c72bc"/><circle cx="361.3" cy="92.4" r="0.6" fill="#6c72bc"/><circle cx="357.1" cy="97.4" r="0.6" fill="#e2e4fd"/><circle cx="349.7" cy="77.7" r="0.8" fill="#6c72bc"/><circle cx="338.5" cy="74.4" r="1.5" fill="#e2e4fd"/><circle cx="345.9" cy="62.1" r="1.2" fill="#e2e4fd"/><circle cx="344.5" cy="70" r="0.8" fill="#e2e4fd"/><circle cx="341.5" cy="88.8" r="0.8" fill="#6c72bc"/><circle cx="358.1" cy="62.5" r="1.1" fill="#e2e4fd"/><circle cx="361" cy="98.9" r="1" fill="#6c72bc"/><circle cx="349.2" cy="59.4" r="1.2" fill="#e2e4fd"/><circle cx="361.9" cy="99.2" r="1.2" fill="#e2e4fd"/><circle cx="329.5" cy="79.6" r="1.4" fill="#e2e4fd"/><circle cx="349.7" cy="92.2" r="0.6" fill="#6c72bc"/><circle cx="324.5" cy="86.7" r="1.6" fill="#e2e4fd"/><circle cx="343.4" cy="62.3" r="1.2" fill="#e2e4fd"/><circle cx="352.3" cy="57.3" r="1.6" fill="#e2e4fd"/><circle cx="356.2" cy="77.6" r="0.8" fill="#6c72bc"/><circle cx="354.5" cy="62.5" r="1" fill="#e2e4fd"/><circle cx="325.4" cy="62.6" r="1.2" fill="#e2e4fd"/><circle cx="343.6" cy="57.3" r="1.5" fill="#e2e4fd"/><circle cx="355.8" cy="73.4" r="1.3" fill="#e2e4fd"/><circle cx="341.2" cy="71.9" r="1.2" fill="#e2e4fd"/><circle cx="338.3" cy="92.4" r="1.1" fill="#e2e4fd"/><circle cx="346.6" cy="83.9" r="1.4" fill="#e2e4fd"/><circle cx="329.5" cy="90.7" r="1.5" fill="#e2e4fd"/><circle cx="334.4" cy="56.2" r="1.1" fill="#e2e4fd"/><circle cx="335.5" cy="92.3" r="0.6" fill="#6c72bc"/><circle cx="347.3" cy="98.5" r="0.8" fill="#e2e4fd"/><circle cx="357" cy="94.1" r="1.2" fill="#e2e4fd"/><circle cx="348.5" cy="69.9" r="0.7" fill="#6c72bc"/><circle cx="324.6" cy="67.1" r="0.6" fill="#6c72bc"/><circle cx="327.7" cy="92.5" r="0.7" fill="#6c72bc"/><circle cx="337.3" cy="75.2" r="0.9" fill="#6c72bc"/><circle cx="324.5" cy="68.3" r="1.1" fill="#e2e4fd"/><circle cx="328.3" cy="75.1" r="0.4" fill="#6c72bc"/><circle cx="349.6" cy="86.3" r="1" fill="#6c72bc"/><circle cx="350.2" cy="65.5" r="0.5" fill="#6c72bc"/><circle cx="358.3" cy="63.9" r="1.2" fill="#e2e4fd"/><circle cx="352.7" cy="89.1" r="0.8" fill="#6c72bc"/><circle cx="350.1" cy="60.7" r="1" fill="#e2e4fd"/><circle cx="349.6" cy="94.8" r="0.8" fill="#e2e4fd"/><circle cx="324.1" cy="68.4" r="0.6" fill="#6c72bc"/><circle cx="331.6" cy="77" r="0.5" fill="#6c72bc"/><circle cx="341.8" cy="68.2" r="0.9" fill="#6c72bc"/><circle cx="361.2" cy="56.9" r="1.6" fill="#e2e4fd"/><circle cx="340.2" cy="69.5" r="1" fill="#6c72bc"/><circle cx="351.3" cy="88.8" r="0.4" fill="#6c72bc"/><circle cx="365.5" cy="93.9" r="1.5" fill="#e2e4fd"/><circle cx="324.7" cy="71.1" r="0.7" fill="#e2e4fd"/><circle cx="364.7" cy="60.2" r="1" fill="#6c72bc"/><circle cx="351.6" cy="77.3" r="0.9" fill="#e2e4fd"/><circle cx="328.9" cy="84" r="0.7" fill="#6c72bc"/><circle cx="347.9" cy="86.1" r="0.6" fill="#6c72bc"/><circle cx="342.4" cy="62" r="1" fill="#6c72bc"/><circle cx="362.4" cy="80.9" r="1.2" fill="#e2e4fd"/><circle cx="352.1" cy="80.3" r="0.9" fill="#6c72bc"/><circle cx="361.7" cy="63.6" r="0.9" fill="#6c72bc"/><circle cx="344.6" cy="60.1" r="0.4" fill="#6c72bc"/><circle cx="353.4" cy="69.1" r="0.9" fill="#6c72bc"/><circle cx="339.2" cy="94.6" r="1" fill="#6c72bc"/><circle cx="351" cy="92.7" r="1" fill="#e2e4fd"/><circle cx="345.5" cy="92.5" r="0.9" fill="#e2e4fd"/><circle cx="340.3" cy="75.7" r="1.1" fill="#e2e4fd"/><circle cx="345.7" cy="79.1" r="0.5" fill="#6c72bc"/></g>
<clipPath id="cp11"><path d="M341.4 59.2Q341.5 58.6 341.6 57.7Q341.8 56.8 342.7 56.4Q343.5 56.1 344.3 55.5Q345.1 54.9 346.1 55.4Q347.1 55.9 347.8 56Q348.4 56 349.1 55.7Q349.7 55.3 350.4 55.6Q351 56 351.5 56.7Q351.9 57.4 352.3 57.5Q352.7 57.6 352.9 58.5Q353 59.4 353.3 59.7Q353.6 60.1 353.6 61.4Q353.6 62.7 354.1 63.3Q354.6 63.9 355.6 64.2Q356.7 64.4 356.8 65.5Q356.9 66.6 357.2 67.4Q357.5 68.1 358.3 68.8Q359.2 69.5 359.2 70.3Q359.2 71 358.8 71.7Q358.4 72.3 358.8 73.2Q359.1 74 358.9 74.9Q358.8 75.7 358 76.2Q357.3 76.6 357.1 77.7Q357 78.8 356.3 79.1Q355.6 79.4 355.4 80.2Q355.2 81.1 354.7 81.6Q354.3 82 354 82.8Q353.7 83.5 353.5 84.7Q353.2 85.9 352.5 85.7Q351.8 85.5 351.1 86.3Q350.5 87.2 349.8 86.7Q349.1 86.2 348.5 86.2Q348 86.2 347.5 86Q347.1 85.7 346.8 84.8Q346.5 83.9 346.5 82.4Q346.4 81 346.2 80.6Q345.9 80.2 346 79.4Q346 78.5 346.4 77.2Q346.8 75.9 347.1 75Q347.3 74 346.9 73.8Q346.5 73.6 346.6 72.5Q346.7 71.4 346.8 70.6Q346.9 69.8 346.3 69.1Q345.7 68.4 345.6 67.8Q345.5 67.3 344.6 66.4Q343.8 65.5 343.6 65.2Q343.4 64.9 343.3 64.7Q343.2 64.5 342.4 63.6Q341.5 62.6 341.8 62.5Q342 62.3 341.6 61.5Q341.2 60.7 341.3 60.3Q341.3 59.8 341.4 59.2Z"/></clipPath>
<path d="M341.4 59.2Q341.5 58.6 341.6 57.7Q341.8 56.8 342.7 56.4Q343.5 56.1 344.3 55.5Q345.1 54.9 346.1 55.4Q347.1 55.9 347.8 56Q348.4 56 349.1 55.7Q349.7 55.3 350.4 55.6Q351 56 351.5 56.7Q351.9 57.4 352.3 57.5Q352.7 57.6 352.9 58.5Q353 59.4 353.3 59.7Q353.6 60.1 353.6 61.4Q353.6 62.7 354.1 63.3Q354.6 63.9 355.6 64.2Q356.7 64.4 356.8 65.5Q356.9 66.6 357.2 67.4Q357.5 68.1 358.3 68.8Q359.2 69.5 359.2 70.3Q359.2 71 358.8 71.7Q358.4 72.3 358.8 73.2Q359.1 74 358.9 74.9Q358.8 75.7 358 76.2Q357.3 76.6 357.1 77.7Q357 78.8 356.3 79.1Q355.6 79.4 355.4 80.2Q355.2 81.1 354.7 81.6Q354.3 82 354 82.8Q353.7 83.5 353.5 84.7Q353.2 85.9 352.5 85.7Q351.8 85.5 351.1 86.3Q350.5 87.2 349.8 86.7Q349.1 86.2 348.5 86.2Q348 86.2 347.5 86Q347.1 85.7 346.8 84.8Q346.5 83.9 346.5 82.4Q346.4 81 346.2 80.6Q345.9 80.2 346 79.4Q346 78.5 346.4 77.2Q346.8 75.9 347.1 75Q347.3 74 346.9 73.8Q346.5 73.6 346.6 72.5Q346.7 71.4 346.8 70.6Q346.9 69.8 346.3 69.1Q345.7 68.4 345.6 67.8Q345.5 67.3 344.6 66.4Q343.8 65.5 343.6 65.2Q343.4 64.9 343.3 64.7Q343.2 64.5 342.4 63.6Q341.5 62.6 341.8 62.5Q342 62.3 341.6 61.5Q341.2 60.7 341.3 60.3Q341.3 59.8 341.4 59.2Z" fill="#3c3fe6"/>
<g clip-path="url(#cp11)" opacity="0.6"><circle cx="350.3" cy="62.8" r="0.6" fill="#2323a8"/><circle cx="358.5" cy="74.5" r="0.6" fill="#2323a8"/><circle cx="345.5" cy="76.9" r="0.6" fill="#6264f7"/><circle cx="356.5" cy="78.4" r="0.7" fill="#6264f7"/><circle cx="357" cy="66.8" r="0.7" fill="#2323a8"/><circle cx="345.4" cy="83.6" r="0.5" fill="#2323a8"/><circle cx="352.5" cy="66.4" r="0.4" fill="#2323a8"/><circle cx="358.5" cy="79.9" r="0.7" fill="#6264f7"/><circle cx="351.5" cy="69.5" r="0.5" fill="#2323a8"/><circle cx="350.4" cy="57.4" r="0.7" fill="#2323a8"/><circle cx="354.4" cy="81.9" r="0.7" fill="#6264f7"/><circle cx="344.9" cy="83.9" r="0.9" fill="#6264f7"/><circle cx="353.2" cy="80.5" r="1" fill="#6264f7"/><circle cx="353" cy="56.2" r="0.8" fill="#6264f7"/><circle cx="342.3" cy="73.5" r="0.7" fill="#2323a8"/><circle cx="342.7" cy="69" r="0.6" fill="#6264f7"/><circle cx="347.1" cy="72.4" r="0.6" fill="#2323a8"/><circle cx="352.7" cy="57.4" r="0.6" fill="#2323a8"/><circle cx="348.6" cy="77.7" r="0.4" fill="#2323a8"/><circle cx="351.5" cy="56.8" r="0.7" fill="#6264f7"/><circle cx="349.7" cy="68.3" r="0.4" fill="#2323a8"/><circle cx="343.3" cy="62.9" r="0.5" fill="#2323a8"/><circle cx="344.5" cy="77.4" r="0.8" fill="#6264f7"/><circle cx="353.7" cy="61.7" r="0.5" fill="#2323a8"/><circle cx="354.9" cy="76.7" r="0.7" fill="#2323a8"/><circle cx="347.9" cy="84.6" r="0.6" fill="#2323a8"/><circle cx="343.2" cy="72.2" r="0.8" fill="#2323a8"/><circle cx="358.5" cy="84" r="0.4" fill="#2323a8"/><circle cx="352.8" cy="55.7" r="0.9" fill="#6264f7"/><circle cx="356.6" cy="82.2" r="1.2" fill="#6264f7"/><circle cx="357.4" cy="76.5" r="1" fill="#6264f7"/><circle cx="346.6" cy="81.1" r="1" fill="#6264f7"/><circle cx="354.5" cy="60.2" r="0.6" fill="#2323a8"/><circle cx="353.2" cy="64.3" r="0.5" fill="#2323a8"/><circle cx="343" cy="71.6" r="1.3" fill="#6264f7"/><circle cx="355.9" cy="60.1" r="1.2" fill="#6264f7"/><circle cx="345.2" cy="85.7" r="0.8" fill="#2323a8"/><circle cx="356.9" cy="80.9" r="0.6" fill="#2323a8"/><circle cx="348.8" cy="66.5" r="0.6" fill="#2323a8"/><circle cx="358.4" cy="57" r="1" fill="#6264f7"/></g>
<clipPath id="cp12"><path d="M325.8 62.6Q325.6 61.8 326.1 61.6Q326.6 61.4 326.4 61Q326.3 60.5 326.8 60.5Q327.4 60.5 327.5 60.1Q327.6 59.7 328.7 59.9Q329.8 60.2 330.4 59.8Q331.1 59.5 332.2 59.6Q333.2 59.7 334.1 59.7Q335 59.6 335.8 59.6Q336.6 59.6 337.1 60.1Q337.6 60.5 338.2 60.6Q338.8 60.6 339.5 60.8Q340.2 60.9 340.4 61.4Q340.7 61.9 341.1 62.3Q341.5 62.8 341.8 63.3Q342.1 63.9 342.7 64.4Q343.4 65 343.7 65.7Q344.1 66.5 344.4 67.3Q344.8 68.2 344.8 68.9Q344.8 69.6 345.1 70.4Q345.4 71.2 344.8 71.5Q344.3 71.9 343.5 72.1Q342.7 72.3 342.1 72.5Q341.4 72.8 340.7 72.9Q340 72.9 339.2 72.8Q338.5 72.7 337.9 72.8Q337.3 73 336.7 72.7Q336 72.5 335.5 72.3Q335 72.1 334.6 71.7Q334.3 71.3 334.1 70.5Q333.8 69.6 333.7 68.7Q333.5 67.9 333.1 67.5Q332.7 67.2 332.3 67Q331.8 66.7 331.7 66.7Q331.6 66.6 331 66.8Q330.3 66.9 330.4 66.9Q330.5 66.9 330 67.1Q329.6 67.3 329.1 67.5Q328.7 67.8 327.9 68.1Q327.2 68.3 327 68.2Q326.8 68 326.6 67.5Q326.3 66.9 326.4 66.1Q326.4 65.2 326.2 64.3Q326 63.4 325.8 62.6Z"/></clipPath>
<path d="M325.8 62.6Q325.6 61.8 326.1 61.6Q326.6 61.4 326.4 61Q326.3 60.5 326.8 60.5Q327.4 60.5 327.5 60.1Q327.6 59.7 328.7 59.9Q329.8 60.2 330.4 59.8Q331.1 59.5 332.2 59.6Q333.2 59.7 334.1 59.7Q335 59.6 335.8 59.6Q336.6 59.6 337.1 60.1Q337.6 60.5 338.2 60.6Q338.8 60.6 339.5 60.8Q340.2 60.9 340.4 61.4Q340.7 61.9 341.1 62.3Q341.5 62.8 341.8 63.3Q342.1 63.9 342.7 64.4Q343.4 65 343.7 65.7Q344.1 66.5 344.4 67.3Q344.8 68.2 344.8 68.9Q344.8 69.6 345.1 70.4Q345.4 71.2 344.8 71.5Q344.3 71.9 343.5 72.1Q342.7 72.3 342.1 72.5Q341.4 72.8 340.7 72.9Q340 72.9 339.2 72.8Q338.5 72.7 337.9 72.8Q337.3 73 336.7 72.7Q336 72.5 335.5 72.3Q335 72.1 334.6 71.7Q334.3 71.3 334.1 70.5Q333.8 69.6 333.7 68.7Q333.5 67.9 333.1 67.5Q332.7 67.2 332.3 67Q331.8 66.7 331.7 66.7Q331.6 66.6 331 66.8Q330.3 66.9 330.4 66.9Q330.5 66.9 330 67.1Q329.6 67.3 329.1 67.5Q328.7 67.8 327.9 68.1Q327.2 68.3 327 68.2Q326.8 68 326.6 67.5Q326.3 66.9 326.4 66.1Q326.4 65.2 326.2 64.3Q326 63.4 325.8 62.6Z" fill="#a8475f"/>
<g clip-path="url(#cp12)" opacity="0.6"><circle cx="328" cy="63.9" r="0.9" fill="#c4667e"/><circle cx="339.7" cy="69.9" r="0.5" fill="#7c2e44"/><circle cx="338.6" cy="64" r="0.9" fill="#c4667e"/><circle cx="326.2" cy="71.8" r="0.5" fill="#7c2e44"/><circle cx="335.4" cy="65.3" r="0.6" fill="#7c2e44"/><circle cx="330.4" cy="63" r="0.6" fill="#7c2e44"/><circle cx="343.7" cy="67.7" r="0.5" fill="#7c2e44"/><circle cx="337.3" cy="71.1" r="0.8" fill="#c4667e"/><circle cx="329.9" cy="72.3" r="0.4" fill="#7c2e44"/><circle cx="336" cy="66.9" r="0.4" fill="#7c2e44"/><circle cx="330.2" cy="63.2" r="1" fill="#c4667e"/><circle cx="343.6" cy="60.8" r="0.6" fill="#7c2e44"/><circle cx="336.9" cy="67.9" r="0.7" fill="#7c2e44"/><circle cx="335.9" cy="60.4" r="0.8" fill="#c4667e"/><circle cx="341.2" cy="72.9" r="0.4" fill="#7c2e44"/><circle cx="338.2" cy="69.8" r="0.6" fill="#7c2e44"/></g>
<g transform="translate(279 93) rotate(-145) scale(1)"><path d="M0 0H4.6M4.6 0Q6.8 -1 8.4 -4.4M4.6 0Q6.8 1 8.4 4.4" fill="none" stroke="#dc9a3c" stroke-width="2.9" stroke-linecap="round"/></g>
<g transform="translate(327 93.5) rotate(-35) scale(1)"><path d="M0 0H4.6M4.6 0Q6.8 -1 8.4 -4.4M4.6 0Q6.8 1 8.4 4.4" fill="none" stroke="#dc9a3c" stroke-width="2.9" stroke-linecap="round"/></g>
<path d="M252.8 41Q253.5 42 251.6 42.5Q251.6 44.7 249.7 44.9Q249.4 46.2 248.3 44.8Q246.5 45.8 245.5 44.2Q243.7 44.9 243.9 43.7Q242.4 43 243.4 41.4Q242.5 39.9 244.3 38.9Q244.4 37.3 246.4 37.7Q246.9 36.3 248 37.5Q249.5 36.6 250.1 38.1Q252.2 37.6 252.1 38.8Q253.7 39.5 252.8 41Z" fill="#fabcc0" stroke="#e4464f" stroke-width="0.75"/>
<path d="M290.5 35.2Q292.1 36.5 291.1 37.3Q291 39.1 288.8 39.1Q288.1 40.4 286.5 39.2Q284.9 40.3 284.2 38.8Q282.3 38.8 282.5 37.2Q281.1 36.3 282.4 35Q281.5 34.1 283.2 33.8Q283 32 284.9 32.1Q285.5 30.3 286.8 31.1Q288 29.9 288.5 31.2Q290.4 30.9 290.5 32.6Q291.8 33.4 290.5 35.2Z" fill="#fabcc0" stroke="#e4464f" stroke-width="0.75"/>
<path d="M326.1 33.7Q327.4 34.8 326 35.3Q326.2 37.3 324.6 37.4Q323.7 38.6 322.2 37.1Q321 38.1 320.8 36.6Q318.9 37.2 318.9 35.9Q317.5 35.4 318.7 34Q317.4 32.4 318.8 31.4Q318.4 29.9 320 30.1Q321 28.9 322.8 30.3Q324.4 28.9 325.1 30Q326.4 29.9 325.7 31.7Q327.2 32.4 326.1 33.7Z" fill="#fabcc0" stroke="#e4464f" stroke-width="0.75"/>
<path d="M355 33.8Q356 35.1 354.3 36Q354.4 38 352.6 38.3Q351.9 39.6 350.4 38.3Q349.3 39.5 348.7 37.9Q346.6 38.3 346.3 36.7Q344.7 35.8 345.7 34.3Q345.1 33.1 347 32.6Q346.8 30.4 348.4 30.2Q349 29.2 350.3 30.8Q351.8 29.5 352.6 30.8Q354.5 30.7 354.4 32.4Q356 32.8 355 33.8Z" fill="#fabcc0" stroke="#e4464f" stroke-width="0.75"/>
<path d="M279.9 51.9Q280.6 53.3 278.6 54.1Q279.1 55.4 277.5 54.8Q277.1 56.3 275.8 55.3Q274.5 56.8 273.6 55.7Q271.4 55.6 271.3 53.7Q270 53.2 271.3 52.1Q270.4 50.7 272.1 49.9Q271.4 48.2 272.7 48.3Q273.7 47.2 275.6 48.5Q276.6 47.4 277 48.8Q279 48.8 278.9 50.6Q280.7 51 279.9 51.9Z" fill="#fabcc0" stroke="#e4464f" stroke-width="0.75"/>
<path d="M312.4 51.8Q313.4 52.9 311.8 53.6Q312.1 54.9 310.2 54.7Q309.7 56.4 308.3 55.5Q306.8 57 305.9 55.9Q304.3 56.2 304.5 54.5Q302.6 53.9 303.4 52.4Q302.8 50.9 304.8 50Q304.6 48 306.1 48.1Q306.5 46.8 307.7 48.1Q309.6 46.8 310.8 48.1Q312 48 311.4 49.9Q313.2 50.4 312.4 51.8Z" fill="#fabcc0" stroke="#e4464f" stroke-width="0.75"/>
<path d="M298.2 70.2Q299.4 71.6 298.2 72.2Q298.3 73.6 296.4 73.2Q295.5 75.1 293.9 74.5Q292.9 75 292.5 73Q290.3 73.5 289.9 72.2Q288.8 71.2 290.2 69.5Q289.1 68 290.5 67.4Q290.4 65.4 292 65.5Q292.4 64 293.5 65.1Q294.9 64.6 295.9 66.7Q297.5 66.4 297.2 68.1Q299 68.9 298.2 70.2Z" fill="#fabcc0" stroke="#e4464f" stroke-width="0.75"/>
<path d="M307.6 88.2Q308.6 89.5 307 90.2Q307.2 91.8 305.5 91.7Q305.1 93.2 303.9 92.2Q302.7 93.2 301.9 91.5Q299.6 92.2 299.2 90.9Q297.8 90 299 88.3Q297.9 86.6 299.4 85.6Q299.5 84.4 301.5 85.1Q302.1 83.5 303.4 84.5Q304.9 83.7 305.5 85.6Q307.5 84.9 307.3 86Q308.8 86.7 307.6 88.2Z" fill="#fabcc0" stroke="#e4464f" stroke-width="0.75"/>
<path d="M269.2 107.5Q270.3 108.9 268.8 109.5Q268.8 111.2 267 110.8Q266.3 112.3 265.2 111.1Q263.3 112.4 262.5 111.2Q261.1 111.5 261.7 110Q260.1 109.3 261.1 107.8Q260.4 106.3 262.3 105.5Q261.8 104.1 263.3 104.6Q263.7 102.8 264.9 103.5Q266.2 102.6 267 104.3Q269 104.1 269 105.8Q270.4 106.4 269.2 107.5Z" fill="#fabcc0" stroke="#e4464f" stroke-width="0.75"/>
<path d="M291.4 118.1Q292.8 119.4 291.5 120.3Q291.3 121.7 289 121.5Q288.8 123.4 287.7 122.9Q286.2 124 285.2 122.5Q283.3 122.4 283.4 120.4Q281.7 119.5 282.7 118.1Q281.9 116.9 283.6 116.5Q283.4 115.1 285.1 115.5Q285.7 113.8 287.1 114.6Q288.7 113.7 289.4 115.4Q291.5 114.9 291.5 116.1Q292.7 116.6 291.4 118.1Z" fill="#fabcc0" stroke="#e4464f" stroke-width="0.75"/>
<path d="M277.8 132Q278.8 133.3 277.1 133.9Q277.7 136 276.3 136.1Q275.7 137.2 274.2 135.8Q272.7 136.7 271.8 134.9Q269.8 135.7 269.8 134.6Q268.5 133.4 269.8 131.6Q268.2 130.4 269.3 130Q269.3 128.4 271.4 128.5Q272.3 126.8 273.9 127.8Q275.8 126.7 276.7 128.2Q278.4 128.2 278.1 129.9Q279.2 130.6 277.8 132Z" fill="#fabcc0" stroke="#e4464f" stroke-width="0.75"/>
<path d="M331.2 117.3Q332.6 118.6 331.2 119.4Q331.4 121 329.3 120.9Q328.3 122.5 326.5 121.4Q324.8 122.4 324.1 121Q322.5 121.2 323 119.6Q321.6 118.8 322.8 117.4Q321.9 115.9 323.6 115.2Q323.4 113.2 325 113.3Q325.3 112.3 326.5 113.8Q328.2 112.4 329.3 113.6Q330.9 113.4 330.6 115.1Q332.2 115.8 331.2 117.3Z" fill="#fabcc0" stroke="#e4464f" stroke-width="0.75"/>
<path d="M347.2 113.9Q348.5 115.3 347.2 115.7Q347.2 117.4 345.3 117.1Q344.5 118.4 343.2 117.1Q341.6 118.1 341.1 116.6Q339.7 117.1 340.2 115.7Q338.8 114.9 340 113.4Q338.9 112.3 340.4 111.9Q339.9 110.4 341.4 110.6Q341.9 108.9 343.3 109.8Q345 108.7 345.9 110.2Q348.1 110.1 348.1 111.5Q349 112.5 347.2 113.9Z" fill="#fabcc0" stroke="#e4464f" stroke-width="0.75"/>
<path d="M338.5 135.1Q339.4 136.5 337.6 137.1Q337.5 138.9 335.4 138.7Q334.6 140.4 333.3 139.4Q332 139.9 331.5 137.8Q329.5 138.6 329.4 137.7Q328.2 136.6 329.6 134.8Q328.7 133.5 330.4 133Q329.9 131.4 331.4 131.6Q331.9 130.3 333.4 131.5Q335 130.1 335.9 131.3Q337.6 131.1 337.5 132.7Q339.3 133.6 338.5 135.1Z" fill="#fabcc0" stroke="#e4464f" stroke-width="0.75"/>
<clipPath id="cp13"><path d="M450.5 69.9Q451.2 69.7 451.2 68.8Q451.1 67.9 452 67.6Q453 67.4 454.1 67.4Q455.3 67.4 456.6 67.6Q458 67.8 459 66.9Q460 65.9 461.8 65.8Q463.5 65.7 465.2 66.2Q467 66.8 468.3 66.9Q469.7 67 470.5 67.5Q471.3 68.1 471.8 68.6Q472.3 69.1 473.2 68.8Q474.2 68.5 475.1 68.7Q476.1 68.8 476.4 70Q476.6 71.2 478.6 71.1Q480.5 71.1 480.6 72.4Q480.7 73.7 481.4 74.6Q482.1 75.4 482.3 76.4Q482.5 77.4 484.4 78.2Q486.3 79 486.1 80.2Q485.8 81.4 486.1 82.4Q486.4 83.4 485.8 84.3Q485.3 85.1 484.2 85.6Q483 86.2 483.1 87Q483.3 87.9 483.1 88.6Q483 89.4 481.9 89.7Q480.8 89.9 481.4 91.2Q482 92.5 480.5 92.4Q479 92.3 478 92.5Q477.1 92.7 477.1 94Q477.2 95.3 475.8 94.8Q474.3 94.3 474.3 95.9Q474.2 97.4 473 96.9Q471.7 96.5 470.8 96.7Q469.9 96.9 468.8 96.4Q467.8 96 466.7 96Q465.7 96 464.7 95.3Q463.7 94.5 462.8 94Q461.9 93.5 460.4 94.5Q458.8 95.4 458.3 94.1Q457.8 92.7 456.3 93Q454.8 93.2 454.6 92Q454.4 90.8 452.5 91Q450.6 91.1 450 90.3Q449.3 89.5 448.9 88.6Q448.5 87.7 448 86.7Q447.6 85.7 447.6 84.6Q447.6 83.4 447.1 82.3Q446.7 81.2 447.6 80.3Q448.6 79.3 448 78.4Q447.4 77.5 446.9 76.5Q446.5 75.6 447.7 75.2Q448.9 74.8 447.9 73.6Q447 72.5 447.2 71.9Q447.5 71.2 448.3 71.1Q449.2 71 449.5 70.5Q449.8 70.1 450.5 69.9Z"/></clipPath>
<radialGradient id="gr13" cx="0.45" cy="0.4" r="0.62"><stop offset="0" stop-color="#fafafa"/><stop offset="0.6" stop-color="#dedede"/><stop offset="1" stop-color="#a4a4a4"/></radialGradient>
<path d="M450.5 69.9Q451.2 69.7 451.2 68.8Q451.1 67.9 452 67.6Q453 67.4 454.1 67.4Q455.3 67.4 456.6 67.6Q458 67.8 459 66.9Q460 65.9 461.8 65.8Q463.5 65.7 465.2 66.2Q467 66.8 468.3 66.9Q469.7 67 470.5 67.5Q471.3 68.1 471.8 68.6Q472.3 69.1 473.2 68.8Q474.2 68.5 475.1 68.7Q476.1 68.8 476.4 70Q476.6 71.2 478.6 71.1Q480.5 71.1 480.6 72.4Q480.7 73.7 481.4 74.6Q482.1 75.4 482.3 76.4Q482.5 77.4 484.4 78.2Q486.3 79 486.1 80.2Q485.8 81.4 486.1 82.4Q486.4 83.4 485.8 84.3Q485.3 85.1 484.2 85.6Q483 86.2 483.1 87Q483.3 87.9 483.1 88.6Q483 89.4 481.9 89.7Q480.8 89.9 481.4 91.2Q482 92.5 480.5 92.4Q479 92.3 478 92.5Q477.1 92.7 477.1 94Q477.2 95.3 475.8 94.8Q474.3 94.3 474.3 95.9Q474.2 97.4 473 96.9Q471.7 96.5 470.8 96.7Q469.9 96.9 468.8 96.4Q467.8 96 466.7 96Q465.7 96 464.7 95.3Q463.7 94.5 462.8 94Q461.9 93.5 460.4 94.5Q458.8 95.4 458.3 94.1Q457.8 92.7 456.3 93Q454.8 93.2 454.6 92Q454.4 90.8 452.5 91Q450.6 91.1 450 90.3Q449.3 89.5 448.9 88.6Q448.5 87.7 448 86.7Q447.6 85.7 447.6 84.6Q447.6 83.4 447.1 82.3Q446.7 81.2 447.6 80.3Q448.6 79.3 448 78.4Q447.4 77.5 446.9 76.5Q446.5 75.6 447.7 75.2Q448.9 74.8 447.9 73.6Q447 72.5 447.2 71.9Q447.5 71.2 448.3 71.1Q449.2 71 449.5 70.5Q449.8 70.1 450.5 69.9Z" fill="url(#gr13)" stroke="#7a7a7a" stroke-width="0.7"/>
<g clip-path="url(#cp13)" opacity="0.75"><circle cx="467.4" cy="72.3" r="0.5" fill="#7a7a7a"/><circle cx="462.7" cy="79.7" r="0.4" fill="#7a7a7a"/><circle cx="478" cy="74.6" r="0.9" fill="#7a7a7a"/><circle cx="481.6" cy="67.6" r="0.8" fill="#fafafa"/><circle cx="469.9" cy="77.3" r="0.6" fill="#7a7a7a"/><circle cx="462" cy="93" r="0.4" fill="#7a7a7a"/><circle cx="453.2" cy="80" r="1.6" fill="#fafafa"/><circle cx="483" cy="70.2" r="0.9" fill="#fafafa"/><circle cx="478.6" cy="91.6" r="1.6" fill="#fafafa"/><circle cx="473.9" cy="95.1" r="0.7" fill="#7a7a7a"/><circle cx="450.8" cy="78.8" r="0.9" fill="#fafafa"/><circle cx="450.3" cy="69" r="0.5" fill="#7a7a7a"/><circle cx="472.4" cy="79.2" r="1" fill="#7a7a7a"/><circle cx="451.9" cy="89" r="1.2" fill="#fafafa"/><circle cx="451.6" cy="91.9" r="0.7" fill="#fafafa"/><circle cx="467.7" cy="94.1" r="0.6" fill="#fafafa"/><circle cx="455" cy="84.8" r="0.8" fill="#fafafa"/><circle cx="451.3" cy="68.7" r="0.9" fill="#7a7a7a"/><circle cx="467.6" cy="70" r="0.9" fill="#7a7a7a"/><circle cx="456.5" cy="94.2" r="1" fill="#fafafa"/><circle cx="479.3" cy="88" r="0.4" fill="#7a7a7a"/><circle cx="447.9" cy="68.4" r="0.9" fill="#fafafa"/><circle cx="455.5" cy="77.8" r="0.9" fill="#7a7a7a"/><circle cx="457.2" cy="88" r="0.9" fill="#7a7a7a"/><circle cx="451.9" cy="88.1" r="0.7" fill="#7a7a7a"/><circle cx="462.7" cy="91.9" r="1" fill="#7a7a7a"/><circle cx="458.6" cy="95.6" r="1" fill="#fafafa"/><circle cx="484" cy="76.9" r="0.7" fill="#7a7a7a"/><circle cx="467.7" cy="67.3" r="1.4" fill="#fafafa"/><circle cx="479.5" cy="75.3" r="0.7" fill="#7a7a7a"/><circle cx="452" cy="80.5" r="0.7" fill="#7a7a7a"/><circle cx="457.5" cy="93.1" r="0.5" fill="#7a7a7a"/><circle cx="449.1" cy="69.3" r="1" fill="#fafafa"/><circle cx="471.1" cy="93.2" r="1.3" fill="#fafafa"/><circle cx="479.3" cy="77.6" r="1.2" fill="#fafafa"/><circle cx="452.2" cy="71.5" r="0.5" fill="#7a7a7a"/><circle cx="468.7" cy="77.2" r="0.6" fill="#fafafa"/><circle cx="457.1" cy="68.6" r="0.7" fill="#7a7a7a"/><circle cx="474.4" cy="95" r="0.8" fill="#fafafa"/><circle cx="448.4" cy="71.3" r="1.2" fill="#fafafa"/><circle cx="480.2" cy="74.2" r="0.4" fill="#7a7a7a"/><circle cx="460" cy="86.8" r="1.3" fill="#fafafa"/><circle cx="483.9" cy="94.6" r="0.8" fill="#fafafa"/><circle cx="482.5" cy="79.4" r="0.9" fill="#7a7a7a"/><circle cx="447.4" cy="78.3" r="0.9" fill="#fafafa"/><circle cx="464.6" cy="75.2" r="0.7" fill="#7a7a7a"/><circle cx="460.5" cy="92.5" r="0.6" fill="#7a7a7a"/><circle cx="479" cy="87.9" r="0.4" fill="#7a7a7a"/><circle cx="463.2" cy="91" r="1.1" fill="#fafafa"/><circle cx="454.9" cy="90.1" r="0.8" fill="#fafafa"/><circle cx="459.9" cy="86.8" r="1" fill="#fafafa"/><circle cx="452.5" cy="87.7" r="1" fill="#7a7a7a"/><circle cx="470.2" cy="74.8" r="1" fill="#7a7a7a"/><circle cx="471.5" cy="80.4" r="1" fill="#7a7a7a"/><circle cx="481.8" cy="70" r="1.1" fill="#fafafa"/><circle cx="449.7" cy="86.8" r="0.6" fill="#7a7a7a"/><circle cx="482.3" cy="94.4" r="0.4" fill="#7a7a7a"/><circle cx="472.6" cy="78.5" r="1.5" fill="#fafafa"/><circle cx="455.7" cy="90.6" r="0.9" fill="#fafafa"/><circle cx="457" cy="94.7" r="0.7" fill="#7a7a7a"/><circle cx="482.2" cy="81.8" r="0.7" fill="#fafafa"/><circle cx="461.6" cy="93" r="0.6" fill="#7a7a7a"/><circle cx="468.1" cy="71.9" r="1" fill="#fafafa"/><circle cx="465.2" cy="67.1" r="0.5" fill="#7a7a7a"/><circle cx="477.1" cy="91.3" r="0.8" fill="#fafafa"/><circle cx="470.3" cy="90.1" r="0.6" fill="#7a7a7a"/><circle cx="456.6" cy="74.4" r="0.7" fill="#7a7a7a"/><circle cx="469.4" cy="70.1" r="0.8" fill="#fafafa"/><circle cx="462.2" cy="75.9" r="0.9" fill="#fafafa"/><circle cx="457.1" cy="76.4" r="0.9" fill="#7a7a7a"/><circle cx="480.3" cy="85.6" r="0.9" fill="#fafafa"/><circle cx="458.3" cy="78.6" r="1.1" fill="#fafafa"/><circle cx="472.6" cy="74.8" r="1.2" fill="#fafafa"/><circle cx="484.1" cy="91" r="0.9" fill="#7a7a7a"/><circle cx="453.7" cy="91.4" r="0.9" fill="#7a7a7a"/><circle cx="455.9" cy="75.9" r="0.9" fill="#7a7a7a"/><circle cx="469.5" cy="73.7" r="0.7" fill="#7a7a7a"/><circle cx="460.2" cy="77.1" r="0.6" fill="#7a7a7a"/><circle cx="472" cy="87.4" r="1.1" fill="#fafafa"/><circle cx="478.2" cy="90" r="1.3" fill="#fafafa"/><circle cx="452.1" cy="70.5" r="0.5" fill="#7a7a7a"/><circle cx="457.2" cy="91" r="1.6" fill="#fafafa"/><circle cx="471.8" cy="81.5" r="1.4" fill="#fafafa"/><circle cx="465.2" cy="79" r="0.8" fill="#fafafa"/><circle cx="468.1" cy="84" r="0.6" fill="#fafafa"/><circle cx="460.7" cy="76.2" r="1.1" fill="#fafafa"/><circle cx="459.4" cy="72.4" r="0.5" fill="#7a7a7a"/><circle cx="464.6" cy="68.3" r="0.8" fill="#fafafa"/><circle cx="469.2" cy="85.3" r="0.6" fill="#7a7a7a"/><circle cx="459.6" cy="85.4" r="0.8" fill="#fafafa"/><circle cx="467.3" cy="70.3" r="0.6" fill="#7a7a7a"/><circle cx="459.7" cy="95.9" r="0.6" fill="#fafafa"/><circle cx="449.1" cy="68.7" r="1" fill="#fafafa"/><circle cx="481.8" cy="77.8" r="1.4" fill="#fafafa"/><circle cx="452" cy="96.2" r="1.5" fill="#fafafa"/><circle cx="462.3" cy="68.6" r="1" fill="#7a7a7a"/><circle cx="472.9" cy="79.8" r="1" fill="#7a7a7a"/><circle cx="457.7" cy="79.7" r="0.9" fill="#7a7a7a"/><circle cx="467.5" cy="81.3" r="0.7" fill="#7a7a7a"/><circle cx="471" cy="78.4" r="0.7" fill="#7a7a7a"/><circle cx="459" cy="68.8" r="0.9" fill="#7a7a7a"/><circle cx="451.2" cy="69.2" r="0.4" fill="#7a7a7a"/><circle cx="460.5" cy="83.8" r="1" fill="#7a7a7a"/><circle cx="447.5" cy="69.7" r="0.6" fill="#7a7a7a"/><circle cx="452.1" cy="91.7" r="1.4" fill="#fafafa"/><circle cx="453.8" cy="76" r="0.7" fill="#fafafa"/><circle cx="469.8" cy="89.8" r="1.3" fill="#fafafa"/><circle cx="450.4" cy="69.1" r="0.8" fill="#7a7a7a"/><circle cx="456.9" cy="84.4" r="0.9" fill="#7a7a7a"/><circle cx="475.4" cy="86.3" r="1.3" fill="#fafafa"/><circle cx="454.1" cy="81.1" r="0.9" fill="#fafafa"/><circle cx="471.8" cy="71.7" r="1.3" fill="#fafafa"/><circle cx="460.8" cy="78.4" r="0.6" fill="#7a7a7a"/><circle cx="448" cy="96.1" r="1" fill="#fafafa"/><circle cx="480.8" cy="87.2" r="1.3" fill="#fafafa"/><circle cx="467" cy="90.4" r="0.8" fill="#7a7a7a"/><circle cx="479.4" cy="90.5" r="0.8" fill="#7a7a7a"/><circle cx="469" cy="70.8" r="0.5" fill="#7a7a7a"/><circle cx="482.8" cy="93.1" r="1" fill="#fafafa"/><circle cx="474.3" cy="72.1" r="1.2" fill="#fafafa"/><circle cx="470.8" cy="87.8" r="0.9" fill="#7a7a7a"/><circle cx="456.9" cy="80.1" r="0.5" fill="#7a7a7a"/><circle cx="474.4" cy="78.9" r="1" fill="#fafafa"/><circle cx="465.1" cy="75" r="1.4" fill="#fafafa"/><circle cx="459.4" cy="67.1" r="0.9" fill="#7a7a7a"/><circle cx="478.7" cy="67.4" r="0.9" fill="#fafafa"/><circle cx="448.5" cy="83.1" r="1.5" fill="#fafafa"/><circle cx="478.6" cy="91.4" r="0.6" fill="#7a7a7a"/><circle cx="455.4" cy="69.1" r="0.9" fill="#fafafa"/><circle cx="452.6" cy="69.8" r="1.1" fill="#fafafa"/><circle cx="470" cy="81" r="0.7" fill="#7a7a7a"/><circle cx="449.1" cy="70.3" r="0.6" fill="#7a7a7a"/><circle cx="470.8" cy="95.6" r="1.5" fill="#fafafa"/><circle cx="467.7" cy="87.3" r="1" fill="#7a7a7a"/><circle cx="449.7" cy="72.7" r="1" fill="#fafafa"/><circle cx="466.3" cy="77.5" r="0.4" fill="#7a7a7a"/><circle cx="454.1" cy="72.6" r="0.6" fill="#fafafa"/><circle cx="459.7" cy="80.5" r="1.6" fill="#fafafa"/><circle cx="458.9" cy="76" r="0.6" fill="#7a7a7a"/><circle cx="470.8" cy="95.6" r="1.3" fill="#fafafa"/></g>
<clipPath id="cp14"><path d="M457.6 30Q457.8 29.4 458.4 29.9Q458.9 30.4 459.4 30.1Q459.8 29.8 460.2 28.9Q460.6 28 461.1 28.8Q461.7 29.5 462.1 28.5Q462.6 27.4 463.1 27.7Q463.7 28 464.1 29.5Q464.5 31 465.2 30.3Q465.8 29.6 466.2 30.2Q466.7 30.8 467.2 31Q467.7 31.1 468.4 31Q469.1 30.9 469.7 31.3Q470.3 31.8 470.6 33.1Q470.8 34.5 472 34.5Q473.1 34.5 473.7 35.3Q474.4 36.1 475.2 36.7Q476 37.3 475.2 39.2Q474.3 41.1 475.8 41.5Q477.3 41.9 476.4 43.5Q475.5 45 475.6 45.8Q475.7 46.7 476.9 47.1Q478 47.6 478.9 48Q479.8 48.3 480.4 48.7Q481 49 480.3 49.3Q479.6 49.6 480.2 50Q480.9 50.5 479.4 50.7Q477.9 50.9 479 51.6Q480.2 52.2 478.7 52.4Q477.3 52.5 477.2 53Q477.1 53.5 475.9 53.5Q474.7 53.6 474 53.9Q473.4 54.1 472.9 54.5Q472.5 54.9 473.1 56Q473.6 57 473.5 57.7Q473.4 58.3 473.6 59.3Q473.8 60.3 473.7 61Q473.5 61.7 472.8 61.7Q472.1 61.7 472.1 62.9Q472.1 64 471.2 63.6Q470.3 63.2 470.2 64.6Q470.2 66 469.2 65.5Q468.1 64.9 467.6 66.3Q467.2 67.6 466.1 67Q465.1 66.4 464.4 66.6Q463.6 66.8 462.8 66.9Q462.1 67.1 461.4 66.2Q460.7 65.4 460 65.2Q459.3 65.1 458.4 65.5Q457.5 66 456.5 66Q455.6 65.9 455.3 64.6Q454.9 63.2 453.8 63.4Q452.8 63.5 452.2 63Q451.6 62.6 450.6 62.7Q449.7 62.8 449.1 62.7Q448.5 62.5 449.2 61.1Q450 59.8 449.1 59.8Q448.2 59.9 448.3 59Q448.4 58.1 447 58.2Q445.6 58.2 444.9 57.7Q444.3 57.3 444.4 56.6Q444.6 55.9 444.9 55.5Q445.3 55 446.5 54.4Q447.8 53.8 448.2 53.5Q448.6 53.2 448.9 52.8Q449.1 52.5 449.7 51.9Q450.4 51.3 450.7 50.8Q451 50.3 450.1 49.7Q449.1 49.1 450.5 48.3Q451.8 47.6 451.2 46.4Q450.6 45.3 451.1 44.2Q451.6 43.1 451.9 42Q452.1 40.8 452.3 39.7Q452.5 38.5 453.1 37.8Q453.8 37.1 454.5 36.8Q455.2 36.4 455.5 35.5Q455.9 34.6 456.2 34Q456.6 33.5 457 33.6Q457.4 33.6 457.6 33.2Q457.7 32.8 457.6 31.7Q457.5 30.6 457.6 30Z"/></clipPath>
<radialGradient id="gr14" cx="0.45" cy="0.4" r="0.62"><stop offset="0" stop-color="#ffb23c"/><stop offset="0.6" stop-color="#f28a10"/><stop offset="1" stop-color="#d87200"/></radialGradient>
<path d="M457.6 30Q457.8 29.4 458.4 29.9Q458.9 30.4 459.4 30.1Q459.8 29.8 460.2 28.9Q460.6 28 461.1 28.8Q461.7 29.5 462.1 28.5Q462.6 27.4 463.1 27.7Q463.7 28 464.1 29.5Q464.5 31 465.2 30.3Q465.8 29.6 466.2 30.2Q466.7 30.8 467.2 31Q467.7 31.1 468.4 31Q469.1 30.9 469.7 31.3Q470.3 31.8 470.6 33.1Q470.8 34.5 472 34.5Q473.1 34.5 473.7 35.3Q474.4 36.1 475.2 36.7Q476 37.3 475.2 39.2Q474.3 41.1 475.8 41.5Q477.3 41.9 476.4 43.5Q475.5 45 475.6 45.8Q475.7 46.7 476.9 47.1Q478 47.6 478.9 48Q479.8 48.3 480.4 48.7Q481 49 480.3 49.3Q479.6 49.6 480.2 50Q480.9 50.5 479.4 50.7Q477.9 50.9 479 51.6Q480.2 52.2 478.7 52.4Q477.3 52.5 477.2 53Q477.1 53.5 475.9 53.5Q474.7 53.6 474 53.9Q473.4 54.1 472.9 54.5Q472.5 54.9 473.1 56Q473.6 57 473.5 57.7Q473.4 58.3 473.6 59.3Q473.8 60.3 473.7 61Q473.5 61.7 472.8 61.7Q472.1 61.7 472.1 62.9Q472.1 64 471.2 63.6Q470.3 63.2 470.2 64.6Q470.2 66 469.2 65.5Q468.1 64.9 467.6 66.3Q467.2 67.6 466.1 67Q465.1 66.4 464.4 66.6Q463.6 66.8 462.8 66.9Q462.1 67.1 461.4 66.2Q460.7 65.4 460 65.2Q459.3 65.1 458.4 65.5Q457.5 66 456.5 66Q455.6 65.9 455.3 64.6Q454.9 63.2 453.8 63.4Q452.8 63.5 452.2 63Q451.6 62.6 450.6 62.7Q449.7 62.8 449.1 62.7Q448.5 62.5 449.2 61.1Q450 59.8 449.1 59.8Q448.2 59.9 448.3 59Q448.4 58.1 447 58.2Q445.6 58.2 444.9 57.7Q444.3 57.3 444.4 56.6Q444.6 55.9 444.9 55.5Q445.3 55 446.5 54.4Q447.8 53.8 448.2 53.5Q448.6 53.2 448.9 52.8Q449.1 52.5 449.7 51.9Q450.4 51.3 450.7 50.8Q451 50.3 450.1 49.7Q449.1 49.1 450.5 48.3Q451.8 47.6 451.2 46.4Q450.6 45.3 451.1 44.2Q451.6 43.1 451.9 42Q452.1 40.8 452.3 39.7Q452.5 38.5 453.1 37.8Q453.8 37.1 454.5 36.8Q455.2 36.4 455.5 35.5Q455.9 34.6 456.2 34Q456.6 33.5 457 33.6Q457.4 33.6 457.6 33.2Q457.7 32.8 457.6 31.7Q457.5 30.6 457.6 30Z" fill="url(#gr14)" stroke="#d06a00" stroke-width="0.5"/>
<g clip-path="url(#cp14)" opacity="0.75"><circle cx="446.1" cy="46.5" r="0.6" fill="#c46000"/><circle cx="465.3" cy="44.2" r="0.9" fill="#ffb23c"/><circle cx="464" cy="48.5" r="0.8" fill="#c46000"/><circle cx="455.4" cy="63.3" r="1.3" fill="#ffb23c"/><circle cx="473.7" cy="28.1" r="0.8" fill="#c46000"/><circle cx="475.6" cy="46" r="0.8" fill="#ffb23c"/><circle cx="461.4" cy="34.4" r="0.5" fill="#c46000"/><circle cx="477.3" cy="56.7" r="0.6" fill="#c46000"/><circle cx="458.7" cy="46.9" r="0.7" fill="#c46000"/><circle cx="455.8" cy="56.8" r="0.4" fill="#c46000"/><circle cx="465.1" cy="44.7" r="0.6" fill="#ffb23c"/><circle cx="465.7" cy="58.8" r="0.7" fill="#c46000"/><circle cx="448.3" cy="55.2" r="0.9" fill="#c46000"/><circle cx="463.6" cy="38.3" r="1" fill="#c46000"/><circle cx="446.4" cy="37" r="0.7" fill="#ffb23c"/><circle cx="447.1" cy="50.5" r="0.6" fill="#ffb23c"/><circle cx="454.1" cy="55.6" r="0.6" fill="#c46000"/><circle cx="453.1" cy="31.9" r="0.4" fill="#c46000"/><circle cx="459.4" cy="37.6" r="0.6" fill="#ffb23c"/><circle cx="479.9" cy="38.7" r="1" fill="#c46000"/><circle cx="478.1" cy="39.4" r="0.7" fill="#c46000"/><circle cx="476.4" cy="33.2" r="1.4" fill="#ffb23c"/><circle cx="457.7" cy="52.1" r="1.6" fill="#ffb23c"/><circle cx="457.6" cy="42.3" r="0.6" fill="#c46000"/><circle cx="465.7" cy="35.9" r="0.5" fill="#c46000"/><circle cx="453.5" cy="62.3" r="1.1" fill="#ffb23c"/><circle cx="461.5" cy="35.9" r="0.7" fill="#c46000"/><circle cx="472.3" cy="64.4" r="1" fill="#ffb23c"/><circle cx="450.9" cy="59.7" r="1.3" fill="#ffb23c"/><circle cx="478.8" cy="60.7" r="0.5" fill="#c46000"/><circle cx="471.9" cy="36.4" r="1" fill="#ffb23c"/><circle cx="474.8" cy="52.1" r="0.9" fill="#c46000"/><circle cx="471.6" cy="62.7" r="0.8" fill="#c46000"/><circle cx="458" cy="48.9" r="0.6" fill="#ffb23c"/><circle cx="449.9" cy="53.7" r="0.4" fill="#c46000"/><circle cx="473.2" cy="40" r="0.6" fill="#c46000"/><circle cx="453.4" cy="32.3" r="0.6" fill="#c46000"/><circle cx="474" cy="51.9" r="1" fill="#c46000"/><circle cx="458" cy="28.8" r="1.6" fill="#ffb23c"/><circle cx="479.7" cy="28.1" r="0.8" fill="#ffb23c"/><circle cx="457.1" cy="44.8" r="0.5" fill="#c46000"/><circle cx="448.9" cy="66.7" r="0.8" fill="#ffb23c"/><circle cx="466.6" cy="66.6" r="0.7" fill="#c46000"/><circle cx="477.2" cy="34.2" r="0.5" fill="#c46000"/><circle cx="450.7" cy="66.3" r="0.4" fill="#c46000"/><circle cx="460.4" cy="35.1" r="1.3" fill="#ffb23c"/><circle cx="461.4" cy="41.8" r="0.9" fill="#c46000"/><circle cx="448.6" cy="65.7" r="1.5" fill="#ffb23c"/><circle cx="467.6" cy="50.5" r="1" fill="#ffb23c"/><circle cx="471.3" cy="38" r="0.9" fill="#c46000"/><circle cx="467.9" cy="54.6" r="1" fill="#c46000"/><circle cx="467.1" cy="44.6" r="0.7" fill="#c46000"/><circle cx="470.7" cy="32.4" r="0.8" fill="#c46000"/><circle cx="462.4" cy="35" r="0.7" fill="#c46000"/><circle cx="448.7" cy="56.3" r="1" fill="#c46000"/><circle cx="463" cy="29" r="0.7" fill="#c46000"/><circle cx="477.5" cy="34" r="1.4" fill="#ffb23c"/><circle cx="455.4" cy="42.6" r="1.2" fill="#ffb23c"/><circle cx="477.8" cy="34.6" r="0.9" fill="#c46000"/><circle cx="479.4" cy="56.3" r="0.7" fill="#ffb23c"/><circle cx="452.4" cy="32.7" r="1.2" fill="#ffb23c"/><circle cx="466.3" cy="51.7" r="0.5" fill="#c46000"/><circle cx="449.9" cy="30.8" r="0.8" fill="#c46000"/><circle cx="452.5" cy="53.1" r="1.5" fill="#ffb23c"/><circle cx="455.3" cy="64.4" r="1.3" fill="#ffb23c"/><circle cx="462.1" cy="51.3" r="0.4" fill="#c46000"/><circle cx="462.2" cy="55.3" r="1" fill="#ffb23c"/><circle cx="461.9" cy="38.5" r="0.7" fill="#ffb23c"/><circle cx="462.6" cy="61.3" r="0.8" fill="#c46000"/><circle cx="468.1" cy="38.9" r="1" fill="#c46000"/><circle cx="458.5" cy="29.5" r="0.4" fill="#c46000"/><circle cx="447.2" cy="50.8" r="0.7" fill="#c46000"/><circle cx="445.8" cy="53" r="0.8" fill="#c46000"/><circle cx="448.8" cy="39.6" r="0.4" fill="#c46000"/><circle cx="462.5" cy="38.2" r="0.9" fill="#c46000"/><circle cx="472.9" cy="47.1" r="0.7" fill="#ffb23c"/><circle cx="472.7" cy="49.2" r="0.8" fill="#ffb23c"/><circle cx="446.2" cy="45.3" r="0.5" fill="#c46000"/><circle cx="479" cy="56.7" r="0.9" fill="#ffb23c"/><circle cx="477.2" cy="51.2" r="0.6" fill="#ffb23c"/><circle cx="471.6" cy="34.7" r="1.4" fill="#ffb23c"/><circle cx="448.5" cy="42.3" r="0.9" fill="#c46000"/><circle cx="469.9" cy="64.5" r="0.9" fill="#c46000"/><circle cx="451.3" cy="56.8" r="0.9" fill="#c46000"/><circle cx="449.7" cy="28.2" r="1.2" fill="#ffb23c"/><circle cx="447.9" cy="56.7" r="0.7" fill="#ffb23c"/><circle cx="449.7" cy="33.1" r="0.7" fill="#c46000"/><circle cx="451.2" cy="58.4" r="1" fill="#c46000"/><circle cx="479.2" cy="44.6" r="0.9" fill="#c46000"/><circle cx="467.7" cy="63.7" r="1.1" fill="#ffb23c"/><circle cx="461.5" cy="38.7" r="0.7" fill="#ffb23c"/><circle cx="450.1" cy="49" r="1" fill="#ffb23c"/><circle cx="450" cy="60.2" r="0.6" fill="#ffb23c"/><circle cx="477.1" cy="50.4" r="1.4" fill="#ffb23c"/><circle cx="447.9" cy="61" r="1.6" fill="#ffb23c"/><circle cx="450" cy="54.2" r="1.6" fill="#ffb23c"/><circle cx="472.7" cy="35.7" r="0.8" fill="#ffb23c"/><circle cx="451.4" cy="60.3" r="0.9" fill="#c46000"/><circle cx="453.8" cy="49.4" r="1.4" fill="#ffb23c"/><circle cx="455.2" cy="49.1" r="0.6" fill="#c46000"/><circle cx="455.1" cy="35.6" r="0.6" fill="#c46000"/><circle cx="463.8" cy="31.9" r="1.4" fill="#ffb23c"/><circle cx="469.8" cy="47.7" r="0.8" fill="#c46000"/><circle cx="447.7" cy="62.6" r="0.6" fill="#c46000"/><circle cx="456.9" cy="45.9" r="0.8" fill="#c46000"/><circle cx="469.9" cy="32.8" r="0.9" fill="#c46000"/><circle cx="452.7" cy="37.1" r="1.2" fill="#ffb23c"/><circle cx="470" cy="44" r="0.9" fill="#c46000"/><circle cx="447.2" cy="58.4" r="0.9" fill="#ffb23c"/><circle cx="472.1" cy="51.8" r="1.4" fill="#ffb23c"/><circle cx="473.5" cy="47.7" r="0.9" fill="#c46000"/><circle cx="461.3" cy="41.3" r="1.2" fill="#ffb23c"/><circle cx="471.1" cy="55.8" r="0.7" fill="#ffb23c"/><circle cx="453.1" cy="46.2" r="0.9" fill="#ffb23c"/><circle cx="479.5" cy="34.1" r="0.5" fill="#c46000"/><circle cx="473.4" cy="48.7" r="0.7" fill="#c46000"/><circle cx="459" cy="33" r="1.6" fill="#ffb23c"/><circle cx="475.5" cy="65.4" r="0.9" fill="#ffb23c"/><circle cx="454.2" cy="37.4" r="0.6" fill="#c46000"/><circle cx="469.8" cy="56.6" r="1.3" fill="#ffb23c"/><circle cx="445.4" cy="66.9" r="0.8" fill="#c46000"/><circle cx="453.3" cy="43.1" r="0.6" fill="#c46000"/><circle cx="463.9" cy="55.6" r="1" fill="#c46000"/><circle cx="472.2" cy="55.8" r="0.7" fill="#ffb23c"/><circle cx="476.1" cy="42.4" r="0.9" fill="#ffb23c"/><circle cx="473.6" cy="30" r="1.1" fill="#ffb23c"/><circle cx="455" cy="59.3" r="1" fill="#ffb23c"/><circle cx="461" cy="40.5" r="1" fill="#c46000"/><circle cx="458.3" cy="49.7" r="0.4" fill="#c46000"/><circle cx="475.4" cy="56.7" r="0.7" fill="#c46000"/><circle cx="455.3" cy="29.8" r="0.4" fill="#c46000"/><circle cx="453.2" cy="36.2" r="1" fill="#c46000"/><circle cx="453.8" cy="56.2" r="0.8" fill="#c46000"/><circle cx="470.1" cy="66" r="0.7" fill="#c46000"/><circle cx="447.9" cy="58.6" r="1.4" fill="#ffb23c"/><circle cx="474" cy="32.5" r="0.6" fill="#c46000"/><circle cx="467.7" cy="55.4" r="0.5" fill="#c46000"/><circle cx="450.1" cy="49.7" r="0.8" fill="#c46000"/><circle cx="470.3" cy="44" r="1.4" fill="#ffb23c"/><circle cx="463.4" cy="55.1" r="0.9" fill="#c46000"/></g>
<clipPath id="cp15"><path d="M471.4 62.7Q471.7 62.3 472.4 62.8Q473.1 63.3 473.8 63.4Q474.6 63.6 475.6 63.1Q476.6 62.6 477.2 63.4Q477.7 64.3 478.3 64.8Q478.8 65.3 479.6 65.7Q480.4 66 480.7 66.9Q481.1 67.8 481.8 68.3Q482.5 68.7 482.4 69.6Q482.2 70.4 482.9 71Q483.6 71.5 483.3 72.2Q482.9 72.9 483 73.5Q483.1 74.1 483 74.7Q483 75.3 482.3 75.9Q481.6 76.4 481.1 77Q480.6 77.6 479.9 78Q479.1 78.4 478.2 78.4Q477.3 78.3 476.9 79Q476.6 79.7 475.8 79.8Q475.1 79.8 474.4 79.9Q473.8 79.9 473.3 80.2Q472.7 80.6 472.2 81.5Q471.7 82.4 471.2 82.7Q470.7 82.9 470.1 83.4Q469.5 83.9 468.9 83.8Q468.2 83.7 467.4 83.7Q466.5 83.7 466 83.3Q465.5 82.9 464.9 82.7Q464.4 82.5 464.2 82.1Q464 81.8 464.1 81.3Q464.2 80.7 463.9 80.6Q463.6 80.5 464.2 79.8Q464.8 79.1 465 78.8Q465.3 78.5 465.9 78Q466.5 77.6 467.5 77Q468.4 76.3 469.3 75.6Q470.2 74.9 470 74.4Q469.8 73.9 470.1 73.2Q470.4 72.5 470.7 72Q471 71.5 471.1 71Q471.1 70.5 470.9 69.7Q470.7 68.8 470.8 68.6Q470.8 68.4 470.4 67.3Q470.1 66.3 470.2 66.1Q470.3 65.9 470.4 65.4Q470.4 65 470.5 64.6Q470.7 64.2 470.8 63.7Q471 63.1 471.4 62.7Z"/></clipPath>
<path d="M471.4 62.7Q471.7 62.3 472.4 62.8Q473.1 63.3 473.8 63.4Q474.6 63.6 475.6 63.1Q476.6 62.6 477.2 63.4Q477.7 64.3 478.3 64.8Q478.8 65.3 479.6 65.7Q480.4 66 480.7 66.9Q481.1 67.8 481.8 68.3Q482.5 68.7 482.4 69.6Q482.2 70.4 482.9 71Q483.6 71.5 483.3 72.2Q482.9 72.9 483 73.5Q483.1 74.1 483 74.7Q483 75.3 482.3 75.9Q481.6 76.4 481.1 77Q480.6 77.6 479.9 78Q479.1 78.4 478.2 78.4Q477.3 78.3 476.9 79Q476.6 79.7 475.8 79.8Q475.1 79.8 474.4 79.9Q473.8 79.9 473.3 80.2Q472.7 80.6 472.2 81.5Q471.7 82.4 471.2 82.7Q470.7 82.9 470.1 83.4Q469.5 83.9 468.9 83.8Q468.2 83.7 467.4 83.7Q466.5 83.7 466 83.3Q465.5 82.9 464.9 82.7Q464.4 82.5 464.2 82.1Q464 81.8 464.1 81.3Q464.2 80.7 463.9 80.6Q463.6 80.5 464.2 79.8Q464.8 79.1 465 78.8Q465.3 78.5 465.9 78Q466.5 77.6 467.5 77Q468.4 76.3 469.3 75.6Q470.2 74.9 470 74.4Q469.8 73.9 470.1 73.2Q470.4 72.5 470.7 72Q471 71.5 471.1 71Q471.1 70.5 470.9 69.7Q470.7 68.8 470.8 68.6Q470.8 68.4 470.4 67.3Q470.1 66.3 470.2 66.1Q470.3 65.9 470.4 65.4Q470.4 65 470.5 64.6Q470.7 64.2 470.8 63.7Q471 63.1 471.4 62.7Z" fill="#3c3fe6"/>
<g clip-path="url(#cp15)" opacity="0.6"><circle cx="467" cy="81.9" r="0.7" fill="#2323a8"/><circle cx="474.6" cy="76.4" r="1.2" fill="#6264f7"/><circle cx="469" cy="64" r="0.7" fill="#2323a8"/><circle cx="480" cy="70.6" r="0.6" fill="#2323a8"/><circle cx="482.5" cy="72.2" r="0.8" fill="#2323a8"/><circle cx="467.7" cy="69.3" r="1" fill="#6264f7"/><circle cx="477.3" cy="72.5" r="0.6" fill="#2323a8"/><circle cx="475.7" cy="64.6" r="0.8" fill="#2323a8"/><circle cx="477.1" cy="73.6" r="0.7" fill="#6264f7"/><circle cx="466.7" cy="78.2" r="1" fill="#6264f7"/><circle cx="475.2" cy="79" r="0.8" fill="#6264f7"/><circle cx="478.6" cy="67.2" r="0.4" fill="#2323a8"/><circle cx="482.5" cy="69.8" r="0.6" fill="#6264f7"/><circle cx="475.5" cy="72.9" r="0.9" fill="#6264f7"/><circle cx="465.3" cy="72.2" r="0.5" fill="#2323a8"/><circle cx="464.8" cy="76.2" r="0.4" fill="#2323a8"/><circle cx="469.6" cy="68.5" r="0.8" fill="#6264f7"/><circle cx="468.1" cy="76.9" r="1" fill="#6264f7"/><circle cx="480.6" cy="82.6" r="0.8" fill="#6264f7"/><circle cx="471.5" cy="72.3" r="0.7" fill="#2323a8"/><circle cx="465.4" cy="67.5" r="0.4" fill="#2323a8"/><circle cx="466.6" cy="70.7" r="0.7" fill="#2323a8"/><circle cx="475.3" cy="65.4" r="0.5" fill="#2323a8"/><circle cx="476.8" cy="74.3" r="0.5" fill="#2323a8"/><circle cx="465.1" cy="63.6" r="1.2" fill="#6264f7"/><circle cx="482.4" cy="71.5" r="0.7" fill="#6264f7"/><circle cx="476.2" cy="72" r="0.9" fill="#6264f7"/><circle cx="465.2" cy="68.1" r="0.5" fill="#2323a8"/><circle cx="477.6" cy="67.3" r="0.8" fill="#6264f7"/><circle cx="477.5" cy="64.7" r="0.4" fill="#2323a8"/><circle cx="468.5" cy="66.1" r="0.4" fill="#2323a8"/><circle cx="474.8" cy="67" r="0.4" fill="#2323a8"/><circle cx="473.8" cy="68.2" r="1.2" fill="#6264f7"/><circle cx="474.3" cy="81.7" r="0.5" fill="#2323a8"/><circle cx="477.6" cy="65.3" r="1.2" fill="#6264f7"/><circle cx="478.2" cy="80.9" r="0.6" fill="#2323a8"/><circle cx="472.3" cy="77.2" r="0.9" fill="#6264f7"/><circle cx="475.6" cy="69.9" r="0.5" fill="#2323a8"/><circle cx="478.6" cy="78.8" r="0.4" fill="#2323a8"/><circle cx="468.9" cy="74.5" r="0.8" fill="#6264f7"/></g>
<clipPath id="cp16"><path d="M534.3 72.8Q533.7 71.6 534.3 71.2Q535 70.8 535.9 70.5Q536.9 70.3 538.7 71.1Q540.6 71.9 541.2 71.1Q541.8 70.2 543.4 70.4Q544.9 70.6 546.5 70.4Q548.1 70.1 549.7 70.9Q551.3 71.6 552.6 71.5Q553.9 71.5 555 71.2Q556.1 70.9 556.6 71.4Q557.2 71.9 558 71.9Q558.8 71.8 559.1 72.8Q559.4 73.7 560.3 74.2Q561.2 74.6 563 74.7Q564.8 74.8 565.3 75.9Q565.8 77 566.7 77.8Q567.5 78.6 568.4 79.5Q569.3 80.4 568.9 81.6Q568.6 82.8 568.3 83.8Q568 84.8 569.3 85.9Q570.6 86.9 570.1 87.7Q569.7 88.6 569.6 89.4Q569.5 90.3 569.1 91Q568.7 91.7 568.8 92.6Q569 93.6 567.5 93.7Q566.1 93.9 566 94.7Q565.9 95.6 564.7 95.7Q563.5 95.8 563 96.5Q562.6 97.2 562 97.8Q561.3 98.4 560.3 98.4Q559.2 98.3 558.3 98.4Q557.3 98.4 556.8 99.2Q556.3 100 555.4 100.5Q554.6 100.9 553.5 100.6Q552.4 100.3 551.3 99.9Q550.2 99.4 549.1 99.5Q548 99.6 547.2 98.5Q546.3 97.5 545.3 97.2Q544.3 96.8 543.2 96.6Q542.1 96.5 540.7 96.6Q539.2 96.8 539 95.5Q538.9 94.3 538.2 93.7Q537.6 93 536.9 92.4Q536.2 91.8 535.7 91.1Q535.3 90.3 534.5 89.6Q533.7 88.8 532.9 87.9Q532.1 86.9 531.5 85.8Q530.9 84.7 531.6 83.7Q532.4 82.8 532.3 81.9Q532.2 81.1 532.5 80.3Q532.7 79.6 532.9 78.9Q533 78.2 532.5 77.2Q531.9 76.2 532.5 75.8Q533 75.3 533.5 75Q534.1 74.7 534.6 74.4Q535 74.1 534.3 72.8Z"/></clipPath>
<radialGradient id="gr16" cx="0.45" cy="0.4" r="0.62"><stop offset="0" stop-color="#fafafa"/><stop offset="0.6" stop-color="#dedede"/><stop offset="1" stop-color="#a4a4a4"/></radialGradient>
<path d="M534.3 72.8Q533.7 71.6 534.3 71.2Q535 70.8 535.9 70.5Q536.9 70.3 538.7 71.1Q540.6 71.9 541.2 71.1Q541.8 70.2 543.4 70.4Q544.9 70.6 546.5 70.4Q548.1 70.1 549.7 70.9Q551.3 71.6 552.6 71.5Q553.9 71.5 555 71.2Q556.1 70.9 556.6 71.4Q557.2 71.9 558 71.9Q558.8 71.8 559.1 72.8Q559.4 73.7 560.3 74.2Q561.2 74.6 563 74.7Q564.8 74.8 565.3 75.9Q565.8 77 566.7 77.8Q567.5 78.6 568.4 79.5Q569.3 80.4 568.9 81.6Q568.6 82.8 568.3 83.8Q568 84.8 569.3 85.9Q570.6 86.9 570.1 87.7Q569.7 88.6 569.6 89.4Q569.5 90.3 569.1 91Q568.7 91.7 568.8 92.6Q569 93.6 567.5 93.7Q566.1 93.9 566 94.7Q565.9 95.6 564.7 95.7Q563.5 95.8 563 96.5Q562.6 97.2 562 97.8Q561.3 98.4 560.3 98.4Q559.2 98.3 558.3 98.4Q557.3 98.4 556.8 99.2Q556.3 100 555.4 100.5Q554.6 100.9 553.5 100.6Q552.4 100.3 551.3 99.9Q550.2 99.4 549.1 99.5Q548 99.6 547.2 98.5Q546.3 97.5 545.3 97.2Q544.3 96.8 543.2 96.6Q542.1 96.5 540.7 96.6Q539.2 96.8 539 95.5Q538.9 94.3 538.2 93.7Q537.6 93 536.9 92.4Q536.2 91.8 535.7 91.1Q535.3 90.3 534.5 89.6Q533.7 88.8 532.9 87.9Q532.1 86.9 531.5 85.8Q530.9 84.7 531.6 83.7Q532.4 82.8 532.3 81.9Q532.2 81.1 532.5 80.3Q532.7 79.6 532.9 78.9Q533 78.2 532.5 77.2Q531.9 76.2 532.5 75.8Q533 75.3 533.5 75Q534.1 74.7 534.6 74.4Q535 74.1 534.3 72.8Z" fill="url(#gr16)" stroke="#7a7a7a" stroke-width="0.7"/>
<g clip-path="url(#cp16)" opacity="0.75"><circle cx="550.3" cy="83.9" r="1" fill="#fafafa"/><circle cx="531.9" cy="98.5" r="0.9" fill="#7a7a7a"/><circle cx="545.7" cy="82.8" r="1" fill="#7a7a7a"/><circle cx="541.9" cy="98.7" r="1.5" fill="#fafafa"/><circle cx="539.1" cy="90.8" r="0.6" fill="#7a7a7a"/><circle cx="564.8" cy="93.6" r="1.1" fill="#fafafa"/><circle cx="551.3" cy="83.6" r="1" fill="#7a7a7a"/><circle cx="567.6" cy="87.7" r="0.6" fill="#7a7a7a"/><circle cx="553.4" cy="82.7" r="0.8" fill="#7a7a7a"/><circle cx="563.1" cy="96.5" r="1.6" fill="#fafafa"/><circle cx="557.9" cy="71.1" r="1.1" fill="#fafafa"/><circle cx="540.2" cy="82.2" r="1" fill="#fafafa"/><circle cx="561.3" cy="78.4" r="1.4" fill="#fafafa"/><circle cx="568.4" cy="74.4" r="0.8" fill="#7a7a7a"/><circle cx="545.7" cy="90.8" r="0.5" fill="#7a7a7a"/><circle cx="549" cy="99.6" r="0.6" fill="#7a7a7a"/><circle cx="544.8" cy="94.4" r="0.7" fill="#7a7a7a"/><circle cx="533.6" cy="72.7" r="0.8" fill="#7a7a7a"/><circle cx="555.2" cy="72.9" r="1.2" fill="#fafafa"/><circle cx="561.6" cy="82.8" r="1.2" fill="#fafafa"/><circle cx="569.2" cy="86.6" r="0.7" fill="#fafafa"/><circle cx="546" cy="86.4" r="0.5" fill="#7a7a7a"/><circle cx="559.5" cy="84.1" r="1.2" fill="#fafafa"/><circle cx="556.9" cy="98.8" r="0.7" fill="#7a7a7a"/><circle cx="553.4" cy="100" r="0.7" fill="#7a7a7a"/><circle cx="550.4" cy="99.7" r="1.4" fill="#fafafa"/><circle cx="569" cy="80.2" r="1.3" fill="#fafafa"/><circle cx="549" cy="83.9" r="0.5" fill="#7a7a7a"/><circle cx="566.6" cy="83.7" r="0.6" fill="#7a7a7a"/><circle cx="534.3" cy="86.4" r="1" fill="#fafafa"/><circle cx="540.4" cy="99.2" r="0.7" fill="#7a7a7a"/><circle cx="548.7" cy="79.4" r="1.4" fill="#fafafa"/><circle cx="544.9" cy="75.1" r="0.7" fill="#fafafa"/><circle cx="559.7" cy="74.1" r="1.1" fill="#fafafa"/><circle cx="560" cy="93" r="0.9" fill="#7a7a7a"/><circle cx="568.2" cy="98.2" r="0.5" fill="#7a7a7a"/><circle cx="562.4" cy="77.7" r="1" fill="#fafafa"/><circle cx="537.4" cy="88.6" r="0.4" fill="#7a7a7a"/><circle cx="563.7" cy="83.3" r="0.8" fill="#7a7a7a"/><circle cx="554" cy="78.1" r="1.4" fill="#fafafa"/><circle cx="535.4" cy="87.7" r="0.9" fill="#fafafa"/><circle cx="557" cy="88.7" r="0.4" fill="#7a7a7a"/><circle cx="549.8" cy="79.3" r="1.5" fill="#fafafa"/><circle cx="539" cy="80.9" r="0.6" fill="#7a7a7a"/><circle cx="541.9" cy="72.3" r="1.3" fill="#fafafa"/><circle cx="554.3" cy="73.4" r="1.2" fill="#fafafa"/><circle cx="562.2" cy="81.6" r="1.4" fill="#fafafa"/><circle cx="533" cy="80.9" r="0.7" fill="#7a7a7a"/><circle cx="564.9" cy="73.9" r="0.8" fill="#fafafa"/><circle cx="567.2" cy="73.2" r="0.7" fill="#fafafa"/><circle cx="565.7" cy="98.6" r="0.5" fill="#7a7a7a"/><circle cx="563.2" cy="84.5" r="1.3" fill="#fafafa"/><circle cx="560.3" cy="96.7" r="0.4" fill="#7a7a7a"/><circle cx="559.5" cy="99" r="0.8" fill="#7a7a7a"/><circle cx="540.4" cy="100" r="0.4" fill="#7a7a7a"/><circle cx="533.6" cy="94.1" r="0.9" fill="#fafafa"/><circle cx="547.3" cy="90.5" r="1.2" fill="#fafafa"/><circle cx="544.9" cy="73.5" r="0.7" fill="#7a7a7a"/><circle cx="553" cy="97.8" r="1.6" fill="#fafafa"/><circle cx="566.5" cy="82.8" r="1.3" fill="#fafafa"/><circle cx="558.8" cy="92.5" r="1.5" fill="#fafafa"/><circle cx="539.6" cy="72" r="0.4" fill="#7a7a7a"/><circle cx="557.8" cy="75" r="0.7" fill="#7a7a7a"/><circle cx="560.9" cy="83.6" r="1.6" fill="#fafafa"/><circle cx="549.9" cy="95.4" r="0.8" fill="#fafafa"/><circle cx="539" cy="93.7" r="1.4" fill="#fafafa"/><circle cx="534" cy="94.4" r="0.8" fill="#fafafa"/><circle cx="555.7" cy="96.5" r="1" fill="#7a7a7a"/><circle cx="565.5" cy="91.7" r="1.3" fill="#fafafa"/><circle cx="567.5" cy="79.7" r="1.1" fill="#fafafa"/><circle cx="538.9" cy="84.4" r="0.6" fill="#fafafa"/><circle cx="561.7" cy="95.5" r="1.3" fill="#fafafa"/><circle cx="549.9" cy="85.5" r="0.7" fill="#fafafa"/><circle cx="552" cy="88.8" r="1.4" fill="#fafafa"/><circle cx="534.2" cy="92.6" r="1.3" fill="#fafafa"/><circle cx="542.8" cy="81.5" r="1" fill="#7a7a7a"/><circle cx="544" cy="83.9" r="1" fill="#7a7a7a"/><circle cx="556.4" cy="83.3" r="0.9" fill="#7a7a7a"/><circle cx="535.7" cy="81.8" r="0.4" fill="#7a7a7a"/><circle cx="533.5" cy="96" r="0.8" fill="#7a7a7a"/><circle cx="540.4" cy="95.7" r="0.7" fill="#fafafa"/><circle cx="536.8" cy="95.6" r="0.9" fill="#fafafa"/><circle cx="550.2" cy="97.7" r="0.7" fill="#7a7a7a"/><circle cx="533.1" cy="75.8" r="0.6" fill="#7a7a7a"/><circle cx="557.8" cy="94.3" r="0.8" fill="#7a7a7a"/><circle cx="562.1" cy="97.8" r="0.9" fill="#7a7a7a"/><circle cx="551.9" cy="83.6" r="0.7" fill="#7a7a7a"/><circle cx="567.1" cy="77.3" r="1" fill="#fafafa"/><circle cx="563.6" cy="89" r="0.6" fill="#fafafa"/><circle cx="550" cy="95.5" r="1.5" fill="#fafafa"/><circle cx="537" cy="81.1" r="0.8" fill="#7a7a7a"/><circle cx="563" cy="79.6" r="0.4" fill="#7a7a7a"/><circle cx="540.4" cy="93.4" r="0.4" fill="#7a7a7a"/><circle cx="564.4" cy="81.3" r="1.6" fill="#fafafa"/><circle cx="558.1" cy="86.7" r="0.6" fill="#7a7a7a"/><circle cx="556.8" cy="79.9" r="1" fill="#fafafa"/><circle cx="569.2" cy="98.3" r="0.7" fill="#fafafa"/><circle cx="536.9" cy="99.6" r="0.5" fill="#7a7a7a"/><circle cx="544.7" cy="77.7" r="1" fill="#fafafa"/><circle cx="541.6" cy="73.4" r="0.9" fill="#fafafa"/><circle cx="537.1" cy="84.7" r="1.1" fill="#fafafa"/><circle cx="566.5" cy="88.1" r="0.7" fill="#7a7a7a"/><circle cx="544.7" cy="87.8" r="0.4" fill="#7a7a7a"/><circle cx="544.2" cy="91" r="0.9" fill="#fafafa"/><circle cx="553.7" cy="82.6" r="0.8" fill="#fafafa"/><circle cx="533.3" cy="92.1" r="0.9" fill="#7a7a7a"/><circle cx="561.5" cy="73.9" r="0.9" fill="#7a7a7a"/><circle cx="565.6" cy="79.9" r="0.4" fill="#7a7a7a"/><circle cx="541.3" cy="84.2" r="0.7" fill="#fafafa"/><circle cx="562.5" cy="84.4" r="0.5" fill="#7a7a7a"/><circle cx="558" cy="72.1" r="1.5" fill="#fafafa"/><circle cx="553.3" cy="94.9" r="0.6" fill="#7a7a7a"/><circle cx="557.6" cy="99.7" r="0.6" fill="#fafafa"/><circle cx="554.5" cy="74.9" r="0.5" fill="#7a7a7a"/><circle cx="560.1" cy="91.5" r="0.7" fill="#fafafa"/><circle cx="552.2" cy="83.9" r="0.6" fill="#7a7a7a"/><circle cx="557.7" cy="100.1" r="0.8" fill="#7a7a7a"/><circle cx="561.7" cy="83" r="1.4" fill="#fafafa"/><circle cx="556.8" cy="91.2" r="0.5" fill="#7a7a7a"/><circle cx="560.8" cy="73.5" r="0.7" fill="#7a7a7a"/><circle cx="542.9" cy="71.3" r="0.8" fill="#7a7a7a"/><circle cx="543.4" cy="81.9" r="1" fill="#7a7a7a"/><circle cx="558.7" cy="81.8" r="1.2" fill="#fafafa"/><circle cx="542.8" cy="76.1" r="0.8" fill="#fafafa"/><circle cx="567.5" cy="93.7" r="0.9" fill="#7a7a7a"/><circle cx="564.2" cy="85.4" r="0.6" fill="#fafafa"/><circle cx="563.8" cy="72.3" r="0.8" fill="#fafafa"/><circle cx="569" cy="82" r="0.9" fill="#7a7a7a"/><circle cx="557.7" cy="72" r="0.8" fill="#fafafa"/><circle cx="550.4" cy="96.6" r="0.5" fill="#7a7a7a"/><circle cx="552.9" cy="78.8" r="0.4" fill="#7a7a7a"/><circle cx="532.6" cy="82.3" r="1" fill="#7a7a7a"/><circle cx="539.8" cy="91.8" r="0.5" fill="#7a7a7a"/><circle cx="553.2" cy="72.1" r="0.8" fill="#7a7a7a"/><circle cx="557.1" cy="89.6" r="0.7" fill="#7a7a7a"/><circle cx="562.2" cy="73.6" r="1" fill="#fafafa"/><circle cx="537.5" cy="87.9" r="0.4" fill="#7a7a7a"/><circle cx="554.1" cy="73.3" r="0.8" fill="#7a7a7a"/><circle cx="561" cy="80.1" r="0.6" fill="#7a7a7a"/><circle cx="542.7" cy="88.5" r="0.8" fill="#7a7a7a"/></g>
<clipPath id="cp17"><path d="M542.4 34.6Q542.8 34.9 543.1 34.5Q543.5 34.2 543.8 33.1Q544.1 32 544.7 32.4Q545.2 32.8 545.7 32.8Q546.2 32.8 546.6 32.3Q547.1 31.9 547.6 32.3Q548.1 32.6 548.6 33.3Q549.1 33.9 549.6 34Q550.1 34 550.8 33.7Q551.4 33.3 551.6 34.7Q551.8 36.1 552.3 36.4Q552.8 36.7 553.2 37.4Q553.6 38.1 554.3 38.3Q555.1 38.5 555.6 39.2Q556.2 40 557.8 39.5Q559.3 39.1 559.1 40.7Q559 42.2 560.2 42.5Q561.4 42.9 560.4 44.7Q559.5 46.5 560.8 47.2Q562.1 47.9 561.8 48.9Q561.4 50 562.1 50.5Q562.8 51.1 563.3 51.5Q563.7 51.9 563.5 52.1Q563.3 52.4 563.5 52.7Q563.6 53.1 564.3 53.5Q565 53.9 563.8 54.2Q562.7 54.5 562.2 54.8Q561.7 55.1 562.4 55.8Q563.2 56.4 562.5 56.7Q561.8 57 560.7 57.2Q559.6 57.3 559.4 57.8Q559.2 58.3 559.3 59.1Q559.4 59.9 558.4 59.9Q557.3 59.9 557.1 60.4Q556.8 60.9 557.1 61.9Q557.4 62.9 557 63.2Q556.6 63.5 556.6 64.3Q556.5 65.1 555.9 65.2Q555.3 65.3 555.5 66.8Q555.6 68.3 555.1 68.8Q554.6 69.3 553.7 69Q552.8 68.8 552 69.1Q551.3 69.4 550.4 69.4Q549.6 69.5 548.9 70.7Q548.2 72 547.3 71.8Q546.5 71.7 545.8 71.2Q545 70.8 544.4 69.8Q543.8 68.9 543 68.6Q542.3 68.4 541.2 69Q540.1 69.6 539.6 68.4Q539.2 67.2 538 67.4Q536.8 67.7 536.4 67Q536 66.2 535.9 65.4Q535.8 64.6 535.3 64.4Q534.8 64.2 533.6 64.6Q532.5 65 532.9 64Q533.3 63 532.3 62.8Q531.4 62.6 530.8 62.1Q530.1 61.6 530.2 60.8Q530.3 60 530 59.6Q529.7 59.2 529.3 59Q529 58.8 529.6 58.4Q530.2 58 531 57.6Q531.8 57.1 532.2 56.7Q532.7 56.2 533.2 55.7Q533.7 55.1 534.2 54.5Q534.6 53.9 534.6 53.2Q534.6 52.6 535.6 51.8Q536.6 51.1 535.9 50Q535.2 48.8 536.3 48.1Q537.4 47.3 537.7 46.3Q538 45.4 537.4 43.6Q536.8 41.9 538.2 42.1Q539.6 42.4 539.6 41Q539.6 39.7 539.9 38.8Q540.2 37.8 540.7 37.4Q541.1 36.9 541.1 35.8Q541.1 34.7 541.3 34.6Q541.5 34.4 541.8 34.4Q542 34.3 542.4 34.6Z"/></clipPath>
<radialGradient id="gr17" cx="0.45" cy="0.4" r="0.62"><stop offset="0" stop-color="#ffb23c"/><stop offset="0.6" stop-color="#f28a10"/><stop offset="1" stop-color="#d87200"/></radialGradient>
<path d="M542.4 34.6Q542.8 34.9 543.1 34.5Q543.5 34.2 543.8 33.1Q544.1 32 544.7 32.4Q545.2 32.8 545.7 32.8Q546.2 32.8 546.6 32.3Q547.1 31.9 547.6 32.3Q548.1 32.6 548.6 33.3Q549.1 33.9 549.6 34Q550.1 34 550.8 33.7Q551.4 33.3 551.6 34.7Q551.8 36.1 552.3 36.4Q552.8 36.7 553.2 37.4Q553.6 38.1 554.3 38.3Q555.1 38.5 555.6 39.2Q556.2 40 557.8 39.5Q559.3 39.1 559.1 40.7Q559 42.2 560.2 42.5Q561.4 42.9 560.4 44.7Q559.5 46.5 560.8 47.2Q562.1 47.9 561.8 48.9Q561.4 50 562.1 50.5Q562.8 51.1 563.3 51.5Q563.7 51.9 563.5 52.1Q563.3 52.4 563.5 52.7Q563.6 53.1 564.3 53.5Q565 53.9 563.8 54.2Q562.7 54.5 562.2 54.8Q561.7 55.1 562.4 55.8Q563.2 56.4 562.5 56.7Q561.8 57 560.7 57.2Q559.6 57.3 559.4 57.8Q559.2 58.3 559.3 59.1Q559.4 59.9 558.4 59.9Q557.3 59.9 557.1 60.4Q556.8 60.9 557.1 61.9Q557.4 62.9 557 63.2Q556.6 63.5 556.6 64.3Q556.5 65.1 555.9 65.2Q555.3 65.3 555.5 66.8Q555.6 68.3 555.1 68.8Q554.6 69.3 553.7 69Q552.8 68.8 552 69.1Q551.3 69.4 550.4 69.4Q549.6 69.5 548.9 70.7Q548.2 72 547.3 71.8Q546.5 71.7 545.8 71.2Q545 70.8 544.4 69.8Q543.8 68.9 543 68.6Q542.3 68.4 541.2 69Q540.1 69.6 539.6 68.4Q539.2 67.2 538 67.4Q536.8 67.7 536.4 67Q536 66.2 535.9 65.4Q535.8 64.6 535.3 64.4Q534.8 64.2 533.6 64.6Q532.5 65 532.9 64Q533.3 63 532.3 62.8Q531.4 62.6 530.8 62.1Q530.1 61.6 530.2 60.8Q530.3 60 530 59.6Q529.7 59.2 529.3 59Q529 58.8 529.6 58.4Q530.2 58 531 57.6Q531.8 57.1 532.2 56.7Q532.7 56.2 533.2 55.7Q533.7 55.1 534.2 54.5Q534.6 53.9 534.6 53.2Q534.6 52.6 535.6 51.8Q536.6 51.1 535.9 50Q535.2 48.8 536.3 48.1Q537.4 47.3 537.7 46.3Q538 45.4 537.4 43.6Q536.8 41.9 538.2 42.1Q539.6 42.4 539.6 41Q539.6 39.7 539.9 38.8Q540.2 37.8 540.7 37.4Q541.1 36.9 541.1 35.8Q541.1 34.7 541.3 34.6Q541.5 34.4 541.8 34.4Q542 34.3 542.4 34.6Z" fill="url(#gr17)" stroke="#d06a00" stroke-width="0.5"/>
<g clip-path="url(#cp17)" opacity="0.75"><circle cx="545.8" cy="46.9" r="0.8" fill="#ffb23c"/><circle cx="560.9" cy="49.7" r="1.5" fill="#ffb23c"/><circle cx="530.6" cy="36" r="1.2" fill="#ffb23c"/><circle cx="562.1" cy="65.6" r="1.2" fill="#ffb23c"/><circle cx="532.4" cy="35.7" r="1" fill="#c46000"/><circle cx="531.7" cy="38.3" r="0.8" fill="#ffb23c"/><circle cx="548" cy="60" r="0.7" fill="#ffb23c"/><circle cx="543.1" cy="52" r="0.5" fill="#c46000"/><circle cx="545.6" cy="42" r="1.3" fill="#ffb23c"/><circle cx="563.8" cy="37.3" r="0.7" fill="#c46000"/><circle cx="536" cy="33.7" r="0.7" fill="#ffb23c"/><circle cx="530.4" cy="35.6" r="0.8" fill="#ffb23c"/><circle cx="539" cy="43.4" r="1" fill="#c46000"/><circle cx="532.3" cy="41.1" r="0.5" fill="#c46000"/><circle cx="540.4" cy="45.3" r="1" fill="#ffb23c"/><circle cx="562.8" cy="60.6" r="1" fill="#c46000"/><circle cx="533.7" cy="69.4" r="1.4" fill="#ffb23c"/><circle cx="534.8" cy="53.6" r="0.8" fill="#c46000"/><circle cx="562.8" cy="57.2" r="0.6" fill="#ffb23c"/><circle cx="534.6" cy="45" r="0.9" fill="#ffb23c"/><circle cx="534.6" cy="65.7" r="0.8" fill="#ffb23c"/><circle cx="561.4" cy="49.6" r="0.8" fill="#ffb23c"/><circle cx="550.9" cy="43.9" r="1.2" fill="#ffb23c"/><circle cx="561.2" cy="42.2" r="1.4" fill="#ffb23c"/><circle cx="554.7" cy="34.3" r="0.9" fill="#ffb23c"/><circle cx="549.2" cy="48.5" r="0.7" fill="#c46000"/><circle cx="534.3" cy="32.3" r="1.2" fill="#ffb23c"/><circle cx="530.4" cy="50.6" r="0.8" fill="#c46000"/><circle cx="545.4" cy="57.8" r="0.9" fill="#c46000"/><circle cx="540.5" cy="37.8" r="0.6" fill="#c46000"/><circle cx="553.6" cy="44.5" r="0.4" fill="#c46000"/><circle cx="530.8" cy="41.2" r="0.6" fill="#c46000"/><circle cx="559" cy="34.3" r="0.4" fill="#c46000"/><circle cx="560.3" cy="41.7" r="1.3" fill="#ffb23c"/><circle cx="563.5" cy="50.3" r="0.5" fill="#c46000"/><circle cx="552.2" cy="53.4" r="0.4" fill="#c46000"/><circle cx="553.9" cy="50.6" r="0.7" fill="#c46000"/><circle cx="534.7" cy="62.1" r="1.2" fill="#ffb23c"/><circle cx="547.5" cy="66.3" r="1.5" fill="#ffb23c"/><circle cx="540.1" cy="37.9" r="0.8" fill="#c46000"/><circle cx="549.9" cy="43.2" r="1.2" fill="#ffb23c"/><circle cx="545.1" cy="40" r="0.5" fill="#c46000"/><circle cx="538.4" cy="38.2" r="0.8" fill="#ffb23c"/><circle cx="557" cy="53.5" r="0.4" fill="#c46000"/><circle cx="530.9" cy="57.4" r="1" fill="#ffb23c"/><circle cx="554.5" cy="59.2" r="0.7" fill="#ffb23c"/><circle cx="531.5" cy="45.2" r="1.2" fill="#ffb23c"/><circle cx="531" cy="65.2" r="1.3" fill="#ffb23c"/><circle cx="535" cy="54.1" r="1.6" fill="#ffb23c"/><circle cx="531.1" cy="50.3" r="1" fill="#ffb23c"/><circle cx="533.6" cy="50.5" r="1" fill="#c46000"/><circle cx="537.4" cy="66.5" r="0.8" fill="#c46000"/><circle cx="545.3" cy="55.8" r="1" fill="#c46000"/><circle cx="538.6" cy="34.4" r="0.7" fill="#c46000"/><circle cx="550.1" cy="55.8" r="1.5" fill="#ffb23c"/><circle cx="556.9" cy="53.3" r="1.2" fill="#ffb23c"/><circle cx="535.4" cy="65.6" r="0.9" fill="#ffb23c"/><circle cx="554.1" cy="66.9" r="0.8" fill="#c46000"/><circle cx="534.8" cy="56.1" r="0.5" fill="#c46000"/><circle cx="544.7" cy="37" r="1.4" fill="#ffb23c"/><circle cx="546.9" cy="57.7" r="0.7" fill="#c46000"/><circle cx="540.6" cy="43.1" r="0.5" fill="#c46000"/><circle cx="541.6" cy="64.2" r="0.9" fill="#c46000"/><circle cx="557.4" cy="62.9" r="1" fill="#ffb23c"/><circle cx="557.6" cy="62.8" r="1.3" fill="#ffb23c"/><circle cx="553" cy="67.5" r="0.8" fill="#ffb23c"/><circle cx="557.7" cy="41.3" r="0.9" fill="#c46000"/><circle cx="535.8" cy="54.3" r="0.7" fill="#ffb23c"/><circle cx="544.8" cy="46.4" r="0.7" fill="#c46000"/><circle cx="533.4" cy="38.9" r="0.8" fill="#ffb23c"/><circle cx="533" cy="39.4" r="1.2" fill="#ffb23c"/><circle cx="532.1" cy="63.7" r="1.6" fill="#ffb23c"/><circle cx="551.4" cy="57" r="0.7" fill="#ffb23c"/><circle cx="564.3" cy="45.9" r="0.4" fill="#c46000"/><circle cx="531.9" cy="56.2" r="0.7" fill="#c46000"/><circle cx="533.2" cy="40.4" r="0.4" fill="#c46000"/><circle cx="546.6" cy="34.7" r="1" fill="#c46000"/><circle cx="532.4" cy="52.4" r="0.5" fill="#c46000"/><circle cx="544.6" cy="46.8" r="0.7" fill="#c46000"/><circle cx="530.6" cy="61.7" r="0.7" fill="#ffb23c"/><circle cx="560.6" cy="66.4" r="0.5" fill="#c46000"/><circle cx="564.1" cy="62.2" r="0.8" fill="#ffb23c"/><circle cx="564.2" cy="67" r="0.9" fill="#ffb23c"/><circle cx="556.7" cy="69.6" r="0.6" fill="#c46000"/><circle cx="543.1" cy="48.7" r="1.5" fill="#ffb23c"/><circle cx="534.2" cy="58" r="1.2" fill="#ffb23c"/><circle cx="559.4" cy="39.5" r="0.6" fill="#c46000"/><circle cx="564.2" cy="57.6" r="0.6" fill="#c46000"/><circle cx="536.4" cy="35.5" r="0.6" fill="#ffb23c"/><circle cx="537.9" cy="32.5" r="0.4" fill="#c46000"/><circle cx="540" cy="49.1" r="0.8" fill="#c46000"/><circle cx="562.1" cy="44.5" r="0.6" fill="#c46000"/><circle cx="561.4" cy="46.4" r="0.5" fill="#c46000"/><circle cx="561.4" cy="38" r="0.7" fill="#c46000"/><circle cx="552.6" cy="48.3" r="0.4" fill="#c46000"/><circle cx="549.9" cy="63.7" r="1.4" fill="#ffb23c"/><circle cx="539.9" cy="32.8" r="1" fill="#c46000"/><circle cx="539.5" cy="49.2" r="0.4" fill="#c46000"/><circle cx="535" cy="35.6" r="1.5" fill="#ffb23c"/><circle cx="532.1" cy="55.3" r="0.7" fill="#ffb23c"/><circle cx="557.7" cy="45.7" r="0.5" fill="#c46000"/><circle cx="563.8" cy="43" r="0.9" fill="#ffb23c"/><circle cx="549.2" cy="62.4" r="1.1" fill="#ffb23c"/><circle cx="545.6" cy="68.5" r="1.4" fill="#ffb23c"/><circle cx="542.8" cy="39" r="0.8" fill="#ffb23c"/><circle cx="544" cy="64.6" r="0.4" fill="#c46000"/><circle cx="560.6" cy="48.3" r="0.6" fill="#c46000"/><circle cx="542.8" cy="34.5" r="0.9" fill="#c46000"/><circle cx="556.1" cy="59.6" r="0.8" fill="#c46000"/><circle cx="556.5" cy="37.7" r="0.9" fill="#c46000"/><circle cx="553.5" cy="35.5" r="0.8" fill="#ffb23c"/><circle cx="546" cy="35.9" r="0.8" fill="#ffb23c"/><circle cx="556.1" cy="57.3" r="1.6" fill="#ffb23c"/><circle cx="552.8" cy="55.2" r="1.3" fill="#ffb23c"/><circle cx="562.1" cy="56.8" r="1.2" fill="#ffb23c"/><circle cx="530.5" cy="59.3" r="0.6" fill="#c46000"/><circle cx="548.5" cy="47.1" r="1.5" fill="#ffb23c"/><circle cx="556.9" cy="51.2" r="1.1" fill="#ffb23c"/><circle cx="541.7" cy="52.1" r="0.5" fill="#c46000"/><circle cx="549.6" cy="43.4" r="1.5" fill="#ffb23c"/><circle cx="539.8" cy="32.4" r="1.1" fill="#ffb23c"/><circle cx="550.7" cy="40.1" r="1.6" fill="#ffb23c"/><circle cx="539.5" cy="60.1" r="1.3" fill="#ffb23c"/><circle cx="535.2" cy="42.4" r="1" fill="#c46000"/><circle cx="539.5" cy="49.4" r="0.4" fill="#c46000"/><circle cx="557" cy="56.7" r="0.9" fill="#c46000"/><circle cx="535.9" cy="46.2" r="0.5" fill="#c46000"/><circle cx="548.9" cy="70.3" r="1.2" fill="#ffb23c"/><circle cx="554.1" cy="57.2" r="1.3" fill="#ffb23c"/><circle cx="550.2" cy="54.7" r="0.6" fill="#c46000"/><circle cx="561.1" cy="62.1" r="1" fill="#c46000"/><circle cx="551.7" cy="52.6" r="1" fill="#c46000"/><circle cx="562.9" cy="32.9" r="1.1" fill="#ffb23c"/><circle cx="550.4" cy="56.8" r="0.4" fill="#c46000"/><circle cx="549.9" cy="34.2" r="1" fill="#ffb23c"/><circle cx="561" cy="61.5" r="0.8" fill="#c46000"/><circle cx="549.6" cy="69.5" r="1" fill="#c46000"/><circle cx="539.2" cy="60.8" r="0.9" fill="#c46000"/><circle cx="562.8" cy="48" r="0.9" fill="#ffb23c"/><circle cx="545.4" cy="38.7" r="0.4" fill="#c46000"/></g>
<clipPath id="cp18"><path d="M556 66.7Q556.3 66.1 556.9 66Q557.5 65.8 558.3 66.3Q559.1 66.8 560.1 66.5Q561.1 66.1 561.7 66.9Q562.2 67.8 563 68Q563.8 68.2 564.1 69.1Q564.4 70.1 565.2 70.5Q566 70.9 566 71.8Q566.1 72.7 566.7 73.2Q567.4 73.7 567.6 74.4Q567.8 75 567.9 75.7Q568.1 76.4 567.7 77Q567.4 77.6 567.4 78.2Q567.4 78.8 566.9 79.4Q566.5 80.1 565.3 80.3Q564.1 80.6 563.8 81.2Q563.4 81.7 563 82.3Q562.6 82.8 561.8 82.9Q561 83.1 560.3 83.1Q559.5 83.1 558.9 83.3Q558.3 83.4 557.7 84.3Q557.2 85.1 556.8 85Q556.3 84.9 555.8 85.8Q555.2 86.6 554.6 86.9Q554 87.3 553.6 86.9Q553.1 86.5 552.3 86.5Q551.5 86.5 550.9 86.3Q550.2 86.1 549.6 86Q549.1 85.8 548.9 85.5Q548.8 85.1 548.4 84.9Q548 84.8 548.1 84.4Q548.1 83.9 548.7 83.3Q549.3 82.6 549.5 82.3Q549.6 82.1 550.9 81.3Q552.1 80.5 552.8 80Q553.6 79.4 553.8 79.1Q554 78.7 554.2 78Q554.4 77.4 554.5 76.6Q554.7 75.9 554.7 75Q554.8 74.2 554.9 73.7Q555 73.1 555.2 72.9Q555.4 72.7 555.1 71.8Q554.9 71 554.7 70.4Q554.6 69.8 554.8 69.9Q555 69.9 555 69.2Q554.9 68.5 555.1 68.3Q555.3 68.1 555.5 67.7Q555.7 67.3 556 66.7Z"/></clipPath>
<path d="M556 66.7Q556.3 66.1 556.9 66Q557.5 65.8 558.3 66.3Q559.1 66.8 560.1 66.5Q561.1 66.1 561.7 66.9Q562.2 67.8 563 68Q563.8 68.2 564.1 69.1Q564.4 70.1 565.2 70.5Q566 70.9 566 71.8Q566.1 72.7 566.7 73.2Q567.4 73.7 567.6 74.4Q567.8 75 567.9 75.7Q568.1 76.4 567.7 77Q567.4 77.6 567.4 78.2Q567.4 78.8 566.9 79.4Q566.5 80.1 565.3 80.3Q564.1 80.6 563.8 81.2Q563.4 81.7 563 82.3Q562.6 82.8 561.8 82.9Q561 83.1 560.3 83.1Q559.5 83.1 558.9 83.3Q558.3 83.4 557.7 84.3Q557.2 85.1 556.8 85Q556.3 84.9 555.8 85.8Q555.2 86.6 554.6 86.9Q554 87.3 553.6 86.9Q553.1 86.5 552.3 86.5Q551.5 86.5 550.9 86.3Q550.2 86.1 549.6 86Q549.1 85.8 548.9 85.5Q548.8 85.1 548.4 84.9Q548 84.8 548.1 84.4Q548.1 83.9 548.7 83.3Q549.3 82.6 549.5 82.3Q549.6 82.1 550.9 81.3Q552.1 80.5 552.8 80Q553.6 79.4 553.8 79.1Q554 78.7 554.2 78Q554.4 77.4 554.5 76.6Q554.7 75.9 554.7 75Q554.8 74.2 554.9 73.7Q555 73.1 555.2 72.9Q555.4 72.7 555.1 71.8Q554.9 71 554.7 70.4Q554.6 69.8 554.8 69.9Q555 69.9 555 69.2Q554.9 68.5 555.1 68.3Q555.3 68.1 555.5 67.7Q555.7 67.3 556 66.7Z" fill="#3c3fe6"/>
<g clip-path="url(#cp18)" opacity="0.6"><circle cx="563.8" cy="76.3" r="0.7" fill="#2323a8"/><circle cx="565.1" cy="68.4" r="1.2" fill="#6264f7"/><circle cx="562.4" cy="81" r="0.8" fill="#2323a8"/><circle cx="562.2" cy="84.2" r="0.6" fill="#6264f7"/><circle cx="552" cy="76.1" r="1.2" fill="#6264f7"/><circle cx="555.5" cy="86.4" r="0.6" fill="#6264f7"/><circle cx="550.6" cy="82.1" r="0.5" fill="#2323a8"/><circle cx="555.3" cy="84.2" r="0.5" fill="#2323a8"/><circle cx="551.6" cy="85.1" r="0.8" fill="#2323a8"/><circle cx="550.8" cy="83.1" r="0.7" fill="#2323a8"/><circle cx="559.4" cy="80.6" r="0.4" fill="#2323a8"/><circle cx="564.3" cy="85" r="0.8" fill="#2323a8"/><circle cx="551.9" cy="73.2" r="0.6" fill="#2323a8"/><circle cx="559.2" cy="82.7" r="0.8" fill="#2323a8"/><circle cx="566.2" cy="74.2" r="0.6" fill="#2323a8"/><circle cx="552.5" cy="70.8" r="0.7" fill="#6264f7"/><circle cx="567.4" cy="79.8" r="0.6" fill="#2323a8"/><circle cx="558.6" cy="83.6" r="0.5" fill="#2323a8"/><circle cx="564.3" cy="82.6" r="1.1" fill="#6264f7"/><circle cx="552.5" cy="77.2" r="0.8" fill="#6264f7"/><circle cx="557.6" cy="68" r="1.1" fill="#6264f7"/><circle cx="565.6" cy="83.1" r="0.5" fill="#2323a8"/><circle cx="559.3" cy="79.6" r="0.9" fill="#6264f7"/><circle cx="558.2" cy="69.2" r="0.5" fill="#2323a8"/><circle cx="551.8" cy="77.8" r="0.5" fill="#2323a8"/><circle cx="554.3" cy="66.9" r="0.8" fill="#6264f7"/><circle cx="559.2" cy="69.3" r="0.5" fill="#2323a8"/><circle cx="551.7" cy="69.6" r="0.9" fill="#6264f7"/><circle cx="561.1" cy="78.5" r="0.6" fill="#2323a8"/><circle cx="551.2" cy="74.5" r="0.8" fill="#2323a8"/><circle cx="553.1" cy="76.3" r="0.5" fill="#2323a8"/><circle cx="557.7" cy="71.8" r="1.2" fill="#6264f7"/><circle cx="552.7" cy="66.8" r="0.8" fill="#2323a8"/><circle cx="564.2" cy="73.4" r="0.6" fill="#2323a8"/><circle cx="549.4" cy="69" r="0.4" fill="#2323a8"/><circle cx="555.8" cy="71.5" r="0.5" fill="#2323a8"/><circle cx="552.9" cy="73.4" r="0.7" fill="#6264f7"/><circle cx="561.8" cy="68.7" r="1.2" fill="#6264f7"/><circle cx="559" cy="67.7" r="0.6" fill="#2323a8"/><circle cx="567.3" cy="85" r="0.8" fill="#2323a8"/></g>
<g transform="translate(486 94) rotate(-145) scale(1)"><path d="M0 0H4.6M4.6 0Q6.8 -1 8.4 -4.4M4.6 0Q6.8 1 8.4 4.4" fill="none" stroke="#dc9a3c" stroke-width="2.9" stroke-linecap="round"/></g>
<g transform="translate(533.5 94.5) rotate(-35) scale(1)"><path d="M0 0H4.6M4.6 0Q6.8 -1 8.4 -4.4M4.6 0Q6.8 1 8.4 4.4" fill="none" stroke="#dc9a3c" stroke-width="2.9" stroke-linecap="round"/></g>
<path d="M443.4 35.9Q444.3 36.9 442.7 37.2Q442.7 39 440.9 38.8Q440.3 40.6 439.2 39.7Q437.7 40.5 437.1 38.8Q435.5 39.1 435.8 37.6Q434.3 37.1 435.4 35.9Q433.9 34.4 435.2 33.5Q435.3 32.1 437.5 32.5Q437.8 30.8 438.9 31.7Q440.6 30.9 441.6 32.8Q443.6 32.2 443.5 33.2Q444.7 34.2 443.4 35.9Z" fill="#fabcc0" stroke="#e4464f" stroke-width="0.75"/>
<path d="M503.1 34.1Q504.5 35.4 503.2 36.2Q503 38.3 500.8 38.6Q500.2 39.5 498.8 37.9Q497.7 39.1 497 37.6Q495.1 38.2 494.9 36.9Q493.1 36.1 493.8 34.4Q493.2 33 495.2 32.2Q494.7 30.7 496.3 31.1Q496.7 29.3 498.1 30.1Q499.4 29.3 500.2 31.1Q502.4 31 502.4 32.6Q504.1 33.1 503.1 34.1Z" fill="#fabcc0" stroke="#e4464f" stroke-width="0.75"/>
<path d="M532.9 31.9Q533.7 33.5 531.8 34.6Q532.1 36.1 530.5 35.7Q529.7 37.5 528.2 36.6Q526.6 37.7 525.9 36.3Q524.4 36.1 524.9 34Q523.1 33.5 524 32.4Q523.3 31.1 525.2 30.3Q525 28.5 526.7 28.7Q527.4 27.5 528.7 28.8Q529.8 27.8 530.2 29.3Q532 28.9 531.9 30.4Q533.7 30.7 532.9 31.9Z" fill="#fabcc0" stroke="#e4464f" stroke-width="0.75"/>
<path d="M590.8 47.1Q591.8 48.5 590.2 49.3Q590.3 51 588.6 50.8Q587.9 52.2 586.5 50.9Q585.4 52.1 584.9 50.7Q583.1 50.7 583.3 48.8Q581.5 48.4 582.3 47.4Q581.3 46 582.9 45.3Q582.7 43.2 584.4 43.1Q585.1 42.1 586.6 43.7Q588.4 42.4 589.3 43.6Q591 43.4 590.6 45Q592 45.7 590.8 47.1Z" fill="#fabcc0" stroke="#e4464f" stroke-width="0.75"/>
<path d="M502.1 58.7Q503 59.5 501.2 59.8Q501.8 61.9 500.4 62.2Q499.3 63.4 497.4 62.1Q496.1 63.2 495.7 61.8Q493.8 61.7 493.9 59.9Q492.4 59.5 493.5 58.5Q492.3 57.4 493.8 56.7Q493.4 54.8 495 54.6Q495.9 52.8 497.7 53.6Q499 53 499.7 55Q502.1 54.9 502.3 56.5Q503.5 57.4 502.1 58.7Z" fill="#fabcc0" stroke="#e4464f" stroke-width="0.75"/>
<path d="M524.8 67Q526.2 68.1 524.9 68.8Q524.8 70.7 522.7 70.8Q522 72.4 520.6 71.3Q518.9 72.2 517.9 70.5Q516.2 70.9 516.4 69.4Q515.4 68.7 516.9 67.2Q515.5 65.9 516.7 65.2Q516.8 63.4 518.9 63.5Q519.5 62.1 520.8 63.3Q522 61.7 522.6 62.7Q524.4 62.9 524.3 65.1Q525.9 65.7 524.8 67Z" fill="#fabcc0" stroke="#e4464f" stroke-width="0.75"/>
<path d="M585.5 72.8Q586.1 73.9 584.1 74.5Q584.4 76.2 582.5 76Q582 78 580.7 77.4Q579.4 78 578.7 75.9Q576.8 76.1 577 74.5Q575.6 73.8 576.8 72.7Q575.5 71.2 576.7 70.7Q576.5 68.7 578.1 68.7Q579.1 67.6 580.7 69.1Q581.9 68.2 582.3 69.9Q584.3 69.6 584.2 71.1Q586.2 71.6 585.5 72.8Z" fill="#fabcc0" stroke="#e4464f" stroke-width="0.75"/>
<path d="M440.8 87.8Q442.2 89 441 89.5Q441.2 91 439.2 90.8Q438.3 92.5 436.6 91.7Q435.4 92.8 434.8 91.3Q432.7 91.5 432.5 89.8Q430.8 89.3 431.7 88Q430.7 86.6 432.4 85.6Q432.3 83.7 434.3 83.6Q434.9 82.4 436.4 83.7Q437.8 82.3 438.7 83.5Q440.3 83.6 440.1 85.7Q441.7 86.5 440.8 87.8Z" fill="#fabcc0" stroke="#e4464f" stroke-width="0.75"/>
<path d="M511.3 87Q512.6 88.6 511.4 89.3Q511.6 90.6 509.9 90Q509.5 91.4 508 90.2Q506.2 91.6 505.1 90.5Q503.5 90.7 503.8 89.1Q502.2 88.4 503.2 86.8Q502.5 85.4 504.4 84.6Q503.8 83.1 505.2 83.5Q506.3 81.8 508.1 82.8Q509.4 82 509.8 83.7Q511.9 83.4 512 84.7Q512.9 85.5 511.3 87Z" fill="#fabcc0" stroke="#e4464f" stroke-width="0.75"/>
<path d="M475.5 110.9Q476.6 112 475 112.8Q475.1 114.5 473.1 114.4Q472.7 115.9 471.5 114.8Q469.7 115.9 468.8 114.4Q467.3 114.8 467.9 113.3Q466.3 112.4 467.3 110.9Q466.4 109.5 468 109Q467.4 107.2 468.7 107.3Q469.3 105.7 470.9 106.6Q472.5 105.6 473.6 107.3Q475 107.4 474.6 109.4Q476.3 109.8 475.5 110.9Z" fill="#fabcc0" stroke="#e4464f" stroke-width="0.75"/>
<path d="M497 117.3Q498.2 119 496.8 120Q496.8 121.4 494.9 121Q494.2 122.6 492.7 121.6Q490.8 122.8 489.7 121.4Q487.8 121.2 488.1 119.4Q487.1 119 488.7 117.9Q487.6 116.1 489 115.1Q488.6 113.6 490 114Q491.1 112.7 493 113.9Q494.1 112.8 494.4 114.3Q496.3 114.3 496.2 116.1Q497.9 116.4 497 117.3Z" fill="#fabcc0" stroke="#e4464f" stroke-width="0.75"/>
<path d="M444.9 118.3Q445.8 119.6 444.2 120.3Q444.2 121.9 442.2 121.5Q441.7 123.4 440.7 122.7Q439 123.8 438 122.2Q436.6 122.3 437.1 120.4Q435.7 119.8 436.8 118.5Q435.4 117.3 436.6 116.6Q436.4 114.9 438.2 114.8Q439.4 112.9 441.2 113.6Q442.5 113.1 442.9 115.1Q444.9 114.6 444.8 115.9Q446.1 116.7 444.9 118.3Z" fill="#fabcc0" stroke="#e4464f" stroke-width="0.75"/>
<path d="M482.4 132.9Q483.7 134.5 482.5 135.6Q482.3 137.3 480.2 137.2Q479.4 138.3 477.9 136.8Q476.3 137.8 475.6 136.4Q474.2 136.5 474.8 134.9Q472.7 134.5 473.3 133.4Q472.7 132.4 474.7 131.7Q474.3 130 475.9 130Q476.6 128.3 478.1 129.2Q479.2 128.4 479.6 130.2Q481.5 129.7 481.5 131.2Q483.2 131.6 482.4 132.9Z" fill="#fabcc0" stroke="#e4464f" stroke-width="0.75"/>
<path d="M537.4 116.3Q538.1 117.3 536.3 117.9Q536.8 119.6 535.2 119.7Q534.5 121.1 532.8 120.1Q531.3 120.9 530.4 119.1Q528.8 119.7 529.2 118.4Q527.4 117.5 528.2 116Q527 114.5 528.3 113.9Q528.2 112.5 530.1 113Q530.7 111.2 532.1 111.9Q533.5 110.7 534.4 112.3Q536.2 112.2 536.3 114.1Q538.1 114.9 537.4 116.3Z" fill="#fabcc0" stroke="#e4464f" stroke-width="0.75"/>
<path d="M554.7 112.6Q555.2 113.4 553.1 113.6Q553.2 115.7 551.4 115.8Q551.1 117.4 550.1 116.3Q548.4 117.5 547.4 116.1Q545.7 116.1 545.9 114.3Q544.6 113.5 545.8 112.1Q544.4 110.7 545.5 110Q545.7 108.4 547.8 108.6Q548.2 106.8 549.4 107.7Q550.8 106.6 551.7 108.2Q553.4 108.1 553.3 110Q555.4 111 554.7 112.6Z" fill="#fabcc0" stroke="#e4464f" stroke-width="0.75"/>
<path d="M578.3 106.1Q579.6 107.4 578.3 108.3Q578.3 109.8 576.2 109.7Q575.2 111.7 573.5 111Q572 111.8 571.4 110.1Q569.5 110.3 569.6 108.6Q568.1 108 569.2 106.7Q568.4 105.2 570.2 104.3Q570.1 103 572 103.5Q572.6 101.7 573.9 102.4Q575.3 101.4 576 103Q578.1 103 578 104.6Q579.5 105.1 578.3 106.1Z" fill="#fabcc0" stroke="#e4464f" stroke-width="0.75"/>
<path d="M588.9 119.2Q590 120.6 588.6 121.2Q589.1 122.4 587.5 121.8Q586.8 123.8 585.3 123.2Q583.5 124.2 582.6 122.7Q581 123.1 581.3 121.6Q579.7 121 580.5 119.4Q579.6 117.9 581.4 117Q581.5 115.4 583.6 115.7Q583.8 113.8 584.8 114.4Q586.1 113.7 587 115.6Q588.8 115.2 588.7 116.7Q590.1 117.6 588.9 119.2Z" fill="#fabcc0" stroke="#e4464f" stroke-width="0.75"/>
<path d="M544.1 132.9Q545.3 134.6 543.9 135.5Q544.2 136.9 542.5 136.4Q541.8 138 540.3 137Q538.9 137.9 538.3 136.2Q536.6 136.6 536.9 135.2Q534.9 134.3 535.5 132.9Q534.5 131.5 536.1 130.9Q535.8 129.4 537.6 129.7Q538.3 128.4 540.1 129.6Q541.5 128.6 542.2 130.2Q543.8 129.6 543.5 131Q545.1 131.5 544.1 132.9Z" fill="#fabcc0" stroke="#e4464f" stroke-width="0.75"/>
<path d="M659.8 27.9Q661.3 29.3 659.4 30Q659.6 32.2 657.2 32.1Q656.6 34.4 655.2 33.4Q653 34.8 651.8 33Q649.9 32.9 650.5 30.5Q648.7 29.6 650.1 27.9Q648.9 26 650.8 25.2Q650.2 23.1 652 23.4Q652.7 21.5 654.5 22.7Q656.6 21.7 657.9 24.1Q660.3 24 660 25.9Q661.6 26.6 659.8 27.9Z" fill="#fabcc0" stroke="#e4464f" stroke-width="0.75"/>
<text x="633.3" y="43.7" font-size="7.4" fill="#222" textLength="52" lengthAdjust="spacingAndGlyphs">Small molecule</text>
<clipPath id="cp19"><path d="M637.6 65.3Q638.6 64.4 638.5 63.5Q638.5 62.6 637.8 61.6Q637.1 60.6 638.2 60Q639.3 59.4 638.4 58.2Q637.5 56.9 638.1 56.2Q638.7 55.5 639.4 54.9Q640 54.2 641 53.9Q642 53.5 642.2 52.6Q642.4 51.6 643.8 51.9Q645.3 52.2 645.7 51.4Q646.2 50.6 647.3 50.6Q648.4 50.7 649.2 50.3Q650 49.9 650.6 48.9Q651.2 48 652.4 49.1Q653.6 50.2 654.3 49.2Q655 48.2 655.9 48.1Q656.8 48.1 657.6 49.3Q658.3 50.4 659.4 49Q660.5 47.6 661.2 48.6Q661.8 49.6 662.7 49.7Q663.6 49.7 664.3 50.3Q665 50.9 666.2 50.8Q667.3 50.7 668.6 50.5Q670 50.4 670 51.6Q670 52.7 671.1 52.9Q672.1 53 672.7 53.6Q673.3 54.2 673.8 54.8Q674.3 55.4 674.3 56.3Q674.4 57.2 674.2 58.2Q674 59.2 674 60Q673.9 60.9 674.1 61.8Q674.2 62.6 674.2 63.5Q674.2 64.3 675 65.2Q675.9 66.1 675.7 67Q675.6 67.9 674.4 68.6Q673.3 69.2 673.1 70Q673 70.8 672.4 71.4Q671.7 72 672.7 73.5Q673.6 75 671.9 74.9Q670.2 74.8 670.1 75.8Q670.1 76.8 669.3 77.2Q668.5 77.5 668 78.1Q667.4 78.6 667.5 80.2Q667.5 81.7 666.3 81.4Q665.2 81.1 664.5 81.8Q663.9 82.4 663.2 83Q662.4 83.6 661.4 83.3Q660.4 83 659.5 83.5Q658.6 84.1 657.5 83.9Q656.4 83.8 655.3 83.3Q654.2 82.8 653.1 82.5Q652 82.1 650.7 82.3Q649.5 82.5 648.6 81.8Q647.8 81.2 647.2 80.3Q646.6 79.4 645.2 79.7Q643.8 80 643.1 79.3Q642.4 78.7 641.5 78.1Q640.7 77.6 640.5 76.5Q640.3 75.5 640.1 74.5Q639.9 73.5 639.7 72.7Q639.4 71.8 638.6 71Q637.8 70.2 638.3 69.1Q638.8 68 637.7 67.1Q636.6 66.2 637.6 65.3Z"/></clipPath>
<radialGradient id="gr19" cx="0.45" cy="0.4" r="0.62"><stop offset="0" stop-color="#fafafa"/><stop offset="0.6" stop-color="#dedede"/><stop offset="1" stop-color="#a4a4a4"/></radialGradient>
<path d="M637.6 65.3Q638.6 64.4 638.5 63.5Q638.5 62.6 637.8 61.6Q637.1 60.6 638.2 60Q639.3 59.4 638.4 58.2Q637.5 56.9 638.1 56.2Q638.7 55.5 639.4 54.9Q640 54.2 641 53.9Q642 53.5 642.2 52.6Q642.4 51.6 643.8 51.9Q645.3 52.2 645.7 51.4Q646.2 50.6 647.3 50.6Q648.4 50.7 649.2 50.3Q650 49.9 650.6 48.9Q651.2 48 652.4 49.1Q653.6 50.2 654.3 49.2Q655 48.2 655.9 48.1Q656.8 48.1 657.6 49.3Q658.3 50.4 659.4 49Q660.5 47.6 661.2 48.6Q661.8 49.6 662.7 49.7Q663.6 49.7 664.3 50.3Q665 50.9 666.2 50.8Q667.3 50.7 668.6 50.5Q670 50.4 670 51.6Q670 52.7 671.1 52.9Q672.1 53 672.7 53.6Q673.3 54.2 673.8 54.8Q674.3 55.4 674.3 56.3Q674.4 57.2 674.2 58.2Q674 59.2 674 60Q673.9 60.9 674.1 61.8Q674.2 62.6 674.2 63.5Q674.2 64.3 675 65.2Q675.9 66.1 675.7 67Q675.6 67.9 674.4 68.6Q673.3 69.2 673.1 70Q673 70.8 672.4 71.4Q671.7 72 672.7 73.5Q673.6 75 671.9 74.9Q670.2 74.8 670.1 75.8Q670.1 76.8 669.3 77.2Q668.5 77.5 668 78.1Q667.4 78.6 667.5 80.2Q667.5 81.7 666.3 81.4Q665.2 81.1 664.5 81.8Q663.9 82.4 663.2 83Q662.4 83.6 661.4 83.3Q660.4 83 659.5 83.5Q658.6 84.1 657.5 83.9Q656.4 83.8 655.3 83.3Q654.2 82.8 653.1 82.5Q652 82.1 650.7 82.3Q649.5 82.5 648.6 81.8Q647.8 81.2 647.2 80.3Q646.6 79.4 645.2 79.7Q643.8 80 643.1 79.3Q642.4 78.7 641.5 78.1Q640.7 77.6 640.5 76.5Q640.3 75.5 640.1 74.5Q639.9 73.5 639.7 72.7Q639.4 71.8 638.6 71Q637.8 70.2 638.3 69.1Q638.8 68 637.7 67.1Q636.6 66.2 637.6 65.3Z" fill="url(#gr19)" stroke="#7a7a7a" stroke-width="0.7"/>
<g clip-path="url(#cp19)" opacity="0.75"><circle cx="650.7" cy="77.6" r="0.6" fill="#7a7a7a"/><circle cx="668.2" cy="72.9" r="0.8" fill="#7a7a7a"/><circle cx="663.2" cy="55.5" r="0.8" fill="#fafafa"/><circle cx="657.2" cy="66.3" r="0.7" fill="#7a7a7a"/><circle cx="670.5" cy="53.7" r="1" fill="#7a7a7a"/><circle cx="663.7" cy="67.1" r="0.6" fill="#7a7a7a"/><circle cx="644.2" cy="57.8" r="0.4" fill="#7a7a7a"/><circle cx="664.5" cy="52.3" r="1.3" fill="#fafafa"/><circle cx="641.7" cy="68" r="1" fill="#7a7a7a"/><circle cx="642.7" cy="61.7" r="0.4" fill="#7a7a7a"/><circle cx="645" cy="79.8" r="0.7" fill="#7a7a7a"/><circle cx="650.5" cy="72.6" r="1.1" fill="#fafafa"/><circle cx="643.5" cy="51.8" r="0.5" fill="#7a7a7a"/><circle cx="648.4" cy="69.2" r="0.4" fill="#7a7a7a"/><circle cx="652.2" cy="62.1" r="0.9" fill="#7a7a7a"/><circle cx="659.9" cy="61.5" r="0.8" fill="#7a7a7a"/><circle cx="653.8" cy="71.5" r="0.9" fill="#7a7a7a"/><circle cx="637.2" cy="58.7" r="0.4" fill="#7a7a7a"/><circle cx="647.8" cy="56.2" r="1.1" fill="#fafafa"/><circle cx="663.8" cy="66.9" r="0.8" fill="#fafafa"/><circle cx="651.5" cy="61.8" r="0.9" fill="#7a7a7a"/><circle cx="648.1" cy="53.2" r="1.5" fill="#fafafa"/><circle cx="643.5" cy="76.8" r="0.9" fill="#7a7a7a"/><circle cx="646.7" cy="54.5" r="0.9" fill="#fafafa"/><circle cx="662" cy="56" r="0.5" fill="#7a7a7a"/><circle cx="673.9" cy="52.5" r="1.2" fill="#fafafa"/><circle cx="637.6" cy="58.9" r="0.8" fill="#7a7a7a"/><circle cx="663.3" cy="72.9" r="1" fill="#fafafa"/><circle cx="661.1" cy="58.4" r="1" fill="#fafafa"/><circle cx="661.2" cy="68.5" r="1.4" fill="#fafafa"/><circle cx="640.8" cy="64.1" r="0.7" fill="#7a7a7a"/><circle cx="652.7" cy="52.9" r="1.5" fill="#fafafa"/><circle cx="653.9" cy="83" r="1.1" fill="#fafafa"/><circle cx="648" cy="78.4" r="0.7" fill="#fafafa"/><circle cx="640.6" cy="81.8" r="1.2" fill="#fafafa"/><circle cx="645.1" cy="65.7" r="1.6" fill="#fafafa"/><circle cx="661.3" cy="79.8" r="0.8" fill="#fafafa"/><circle cx="659" cy="79.5" r="1.6" fill="#fafafa"/><circle cx="650.6" cy="75.4" r="0.5" fill="#7a7a7a"/><circle cx="642.1" cy="77.1" r="0.9" fill="#7a7a7a"/><circle cx="666.7" cy="49.5" r="0.6" fill="#fafafa"/><circle cx="656.9" cy="58" r="0.7" fill="#fafafa"/><circle cx="662.6" cy="69.3" r="0.7" fill="#7a7a7a"/><circle cx="647.5" cy="63.5" r="1.4" fill="#fafafa"/><circle cx="643.4" cy="68.8" r="1" fill="#7a7a7a"/><circle cx="639.8" cy="55.7" r="1.1" fill="#fafafa"/><circle cx="657" cy="52.7" r="0.6" fill="#7a7a7a"/><circle cx="644.1" cy="59.7" r="0.8" fill="#fafafa"/><circle cx="646.2" cy="80.2" r="0.9" fill="#7a7a7a"/><circle cx="673" cy="55" r="0.6" fill="#7a7a7a"/><circle cx="670.6" cy="55.3" r="0.7" fill="#7a7a7a"/><circle cx="655.2" cy="71.4" r="1" fill="#fafafa"/><circle cx="652" cy="67.7" r="1.2" fill="#fafafa"/><circle cx="652.3" cy="63.8" r="1.1" fill="#fafafa"/><circle cx="640.5" cy="75.2" r="1.3" fill="#fafafa"/><circle cx="668.9" cy="62.8" r="0.8" fill="#fafafa"/><circle cx="672.5" cy="64.2" r="1.2" fill="#fafafa"/><circle cx="663.8" cy="81.2" r="0.8" fill="#7a7a7a"/><circle cx="657.8" cy="73.3" r="1.4" fill="#fafafa"/><circle cx="648.9" cy="78.9" r="1.6" fill="#fafafa"/><circle cx="650.7" cy="67.4" r="1.5" fill="#fafafa"/><circle cx="656.8" cy="56.8" r="1.1" fill="#fafafa"/><circle cx="639.6" cy="70.9" r="0.6" fill="#7a7a7a"/><circle cx="638" cy="77.6" r="1.2" fill="#fafafa"/><circle cx="638" cy="82.6" r="1.4" fill="#fafafa"/><circle cx="638.1" cy="58.7" r="0.7" fill="#7a7a7a"/><circle cx="671.3" cy="70.7" r="0.7" fill="#fafafa"/><circle cx="664.8" cy="76.6" r="0.7" fill="#fafafa"/><circle cx="655.2" cy="76" r="0.8" fill="#7a7a7a"/><circle cx="653.2" cy="66.9" r="0.5" fill="#7a7a7a"/><circle cx="640.6" cy="66.3" r="1.5" fill="#fafafa"/><circle cx="651.8" cy="71.5" r="1.1" fill="#fafafa"/><circle cx="646.7" cy="66.2" r="0.9" fill="#7a7a7a"/><circle cx="667.2" cy="82.8" r="0.5" fill="#7a7a7a"/><circle cx="649.1" cy="63.2" r="1.1" fill="#fafafa"/><circle cx="642.7" cy="65.6" r="1.4" fill="#fafafa"/><circle cx="637.6" cy="67.7" r="0.8" fill="#7a7a7a"/><circle cx="668.7" cy="78.1" r="1" fill="#7a7a7a"/><circle cx="644.7" cy="82.5" r="0.8" fill="#fafafa"/><circle cx="640.1" cy="56.1" r="1.5" fill="#fafafa"/><circle cx="647.9" cy="53.8" r="1.5" fill="#fafafa"/><circle cx="666.8" cy="58.2" r="0.9" fill="#7a7a7a"/><circle cx="669.1" cy="55.5" r="0.6" fill="#7a7a7a"/><circle cx="646.2" cy="74.4" r="0.8" fill="#fafafa"/><circle cx="654.6" cy="81.5" r="1.5" fill="#fafafa"/><circle cx="648.5" cy="62.7" r="1.3" fill="#fafafa"/><circle cx="659.7" cy="51.5" r="0.6" fill="#fafafa"/><circle cx="648.8" cy="68.5" r="0.8" fill="#fafafa"/><circle cx="651.6" cy="77.6" r="0.7" fill="#fafafa"/><circle cx="672.8" cy="74.7" r="1" fill="#7a7a7a"/><circle cx="662.3" cy="70" r="0.8" fill="#7a7a7a"/><circle cx="665" cy="63.4" r="0.7" fill="#7a7a7a"/><circle cx="658.7" cy="54.4" r="0.8" fill="#7a7a7a"/><circle cx="674" cy="56.6" r="0.7" fill="#fafafa"/><circle cx="656.9" cy="51.8" r="0.7" fill="#7a7a7a"/><circle cx="671.6" cy="79.9" r="1" fill="#7a7a7a"/><circle cx="641.4" cy="70.3" r="0.5" fill="#7a7a7a"/><circle cx="648.5" cy="66.5" r="1" fill="#fafafa"/><circle cx="669.3" cy="78.4" r="0.5" fill="#7a7a7a"/><circle cx="640.6" cy="65.5" r="1" fill="#7a7a7a"/><circle cx="649.7" cy="69.8" r="0.8" fill="#7a7a7a"/><circle cx="670.3" cy="68.8" r="0.4" fill="#7a7a7a"/><circle cx="660.9" cy="82.3" r="0.6" fill="#7a7a7a"/><circle cx="656.5" cy="71.4" r="1.1" fill="#fafafa"/><circle cx="643.2" cy="52" r="1" fill="#7a7a7a"/><circle cx="665.7" cy="68.1" r="0.4" fill="#7a7a7a"/><circle cx="670.4" cy="77.4" r="1" fill="#7a7a7a"/><circle cx="662.7" cy="54.8" r="0.7" fill="#fafafa"/><circle cx="672.6" cy="56.2" r="1.6" fill="#fafafa"/><circle cx="665.4" cy="78.6" r="0.4" fill="#7a7a7a"/><circle cx="656.8" cy="73.9" r="0.8" fill="#fafafa"/><circle cx="665.9" cy="60" r="1" fill="#7a7a7a"/><circle cx="653.6" cy="67.8" r="0.4" fill="#7a7a7a"/><circle cx="662.6" cy="70.9" r="0.8" fill="#fafafa"/><circle cx="651.9" cy="77.1" r="0.4" fill="#7a7a7a"/><circle cx="638.2" cy="81.4" r="0.9" fill="#fafafa"/><circle cx="662.7" cy="74.3" r="1.2" fill="#fafafa"/><circle cx="644.9" cy="78.8" r="0.6" fill="#7a7a7a"/><circle cx="639.6" cy="82.4" r="0.8" fill="#fafafa"/><circle cx="642" cy="66.9" r="0.6" fill="#7a7a7a"/><circle cx="648.9" cy="79.6" r="1.3" fill="#fafafa"/><circle cx="646.8" cy="62.3" r="0.8" fill="#7a7a7a"/><circle cx="672.2" cy="74.9" r="1.2" fill="#fafafa"/><circle cx="640.3" cy="61.4" r="0.9" fill="#7a7a7a"/><circle cx="660.1" cy="55.8" r="0.4" fill="#7a7a7a"/><circle cx="656.8" cy="80.8" r="0.9" fill="#fafafa"/><circle cx="668" cy="56.2" r="0.5" fill="#7a7a7a"/><circle cx="642.3" cy="62.5" r="0.7" fill="#7a7a7a"/><circle cx="671.6" cy="51.7" r="1" fill="#7a7a7a"/><circle cx="646.9" cy="65.6" r="0.9" fill="#7a7a7a"/><circle cx="642.2" cy="75.7" r="0.8" fill="#7a7a7a"/><circle cx="661.1" cy="70.8" r="1" fill="#7a7a7a"/><circle cx="656.8" cy="59.9" r="0.5" fill="#7a7a7a"/><circle cx="664.8" cy="78.9" r="1.2" fill="#fafafa"/><circle cx="651" cy="54.1" r="0.6" fill="#7a7a7a"/><circle cx="646.7" cy="68" r="0.5" fill="#7a7a7a"/><circle cx="652.7" cy="72" r="0.9" fill="#fafafa"/><circle cx="642.3" cy="68.5" r="0.8" fill="#7a7a7a"/><circle cx="643.5" cy="66.4" r="0.8" fill="#7a7a7a"/><circle cx="672.8" cy="52.4" r="1.4" fill="#fafafa"/><circle cx="665.1" cy="52.7" r="0.4" fill="#7a7a7a"/><circle cx="661.4" cy="71.6" r="0.6" fill="#7a7a7a"/><circle cx="660.5" cy="75" r="1" fill="#fafafa"/><circle cx="663.6" cy="53.5" r="0.6" fill="#7a7a7a"/><circle cx="666.1" cy="73.3" r="0.9" fill="#fafafa"/><circle cx="644" cy="82.2" r="1" fill="#7a7a7a"/><circle cx="641.9" cy="63.6" r="0.6" fill="#7a7a7a"/><circle cx="673.3" cy="60.6" r="0.9" fill="#7a7a7a"/><circle cx="671" cy="76.9" r="1.3" fill="#fafafa"/><circle cx="670.8" cy="79.4" r="1.1" fill="#fafafa"/></g>
<clipPath id="cp20"><path d="M659.7 50.8Q660.2 50.9 660.8 50.3Q661.5 49.8 662.4 49.5Q663.3 49.3 664.3 49.1Q665.3 48.9 666.3 48.7Q667.2 48.5 668.1 48.5Q668.9 48.5 669.5 49.1Q670.1 49.6 670.8 49.9Q671.5 50.3 671.9 50.9Q672.2 51.5 672.5 52Q672.8 52.5 673.4 52.9Q674.1 53.3 674.4 53.8Q674.7 54.3 674.3 55.1Q673.9 55.8 673.8 56.3Q673.6 56.9 672.6 57.5Q671.7 58.1 672 58.6Q672.2 59.1 671.5 59.6Q670.7 60.1 670 60.5Q669.3 60.8 668.1 60.9Q666.9 61 666.5 61.5Q666 61.9 665.3 62.4Q664.5 62.8 663.8 62.9Q663 63.1 662.4 64.1Q661.8 65 661.2 66.1Q660.5 67.1 659.8 67.7Q659.1 68.2 658.5 68.5Q657.8 68.9 657.1 69.1Q656.4 69.4 655.6 69.8Q654.8 70.2 654.3 70Q653.9 69.9 653.9 69.1Q653.9 68.3 653.2 68.1Q652.6 67.9 652.6 67.2Q652.6 66.5 651.8 66.5Q651 66.4 651.4 65.7Q651.8 65 652.6 64.2Q653.5 63.3 654 62.7Q654.6 62 655.1 61.4Q655.6 60.8 655.8 60.2Q655.9 59.6 656.7 59Q657.4 58.4 658.4 57.9Q659.4 57.5 659.2 56.5Q659.1 55.6 659.5 55.2Q659.9 54.8 659.8 54.1Q659.8 53.4 659.5 52.1Q659.3 50.8 659.7 50.8Z"/></clipPath>
<path d="M659.7 50.8Q660.2 50.9 660.8 50.3Q661.5 49.8 662.4 49.5Q663.3 49.3 664.3 49.1Q665.3 48.9 666.3 48.7Q667.2 48.5 668.1 48.5Q668.9 48.5 669.5 49.1Q670.1 49.6 670.8 49.9Q671.5 50.3 671.9 50.9Q672.2 51.5 672.5 52Q672.8 52.5 673.4 52.9Q674.1 53.3 674.4 53.8Q674.7 54.3 674.3 55.1Q673.9 55.8 673.8 56.3Q673.6 56.9 672.6 57.5Q671.7 58.1 672 58.6Q672.2 59.1 671.5 59.6Q670.7 60.1 670 60.5Q669.3 60.8 668.1 60.9Q666.9 61 666.5 61.5Q666 61.9 665.3 62.4Q664.5 62.8 663.8 62.9Q663 63.1 662.4 64.1Q661.8 65 661.2 66.1Q660.5 67.1 659.8 67.7Q659.1 68.2 658.5 68.5Q657.8 68.9 657.1 69.1Q656.4 69.4 655.6 69.8Q654.8 70.2 654.3 70Q653.9 69.9 653.9 69.1Q653.9 68.3 653.2 68.1Q652.6 67.9 652.6 67.2Q652.6 66.5 651.8 66.5Q651 66.4 651.4 65.7Q651.8 65 652.6 64.2Q653.5 63.3 654 62.7Q654.6 62 655.1 61.4Q655.6 60.8 655.8 60.2Q655.9 59.6 656.7 59Q657.4 58.4 658.4 57.9Q659.4 57.5 659.2 56.5Q659.1 55.6 659.5 55.2Q659.9 54.8 659.8 54.1Q659.8 53.4 659.5 52.1Q659.3 50.8 659.7 50.8Z" fill="#3c3fe6"/>
<g clip-path="url(#cp20)" opacity="0.6"><circle cx="665" cy="59.2" r="0.4" fill="#2323a8"/><circle cx="673.7" cy="63.5" r="1.3" fill="#6264f7"/><circle cx="660.8" cy="67.5" r="0.8" fill="#2323a8"/><circle cx="666.8" cy="59.9" r="0.7" fill="#2323a8"/><circle cx="658.7" cy="62.2" r="0.5" fill="#2323a8"/><circle cx="658.5" cy="55.9" r="1" fill="#6264f7"/><circle cx="670.3" cy="68.7" r="1" fill="#6264f7"/><circle cx="669.3" cy="65.2" r="0.4" fill="#2323a8"/><circle cx="659" cy="64.8" r="1.1" fill="#6264f7"/><circle cx="673.4" cy="56.8" r="1.2" fill="#6264f7"/><circle cx="669.6" cy="68.7" r="0.8" fill="#2323a8"/><circle cx="673.2" cy="54.1" r="0.6" fill="#2323a8"/><circle cx="667.8" cy="67.6" r="0.9" fill="#6264f7"/><circle cx="672.5" cy="67.2" r="0.6" fill="#2323a8"/><circle cx="656" cy="57.1" r="0.9" fill="#6264f7"/><circle cx="655.6" cy="53.3" r="0.4" fill="#2323a8"/><circle cx="673.2" cy="51.6" r="0.5" fill="#2323a8"/><circle cx="658.9" cy="62.5" r="0.5" fill="#2323a8"/><circle cx="663.3" cy="52.1" r="0.5" fill="#2323a8"/><circle cx="654.5" cy="68.8" r="0.7" fill="#2323a8"/><circle cx="656.2" cy="64.9" r="0.7" fill="#2323a8"/><circle cx="670.2" cy="50" r="0.6" fill="#6264f7"/><circle cx="660.7" cy="60.9" r="1.1" fill="#6264f7"/><circle cx="654.4" cy="51.3" r="0.8" fill="#6264f7"/><circle cx="670.3" cy="56.2" r="0.8" fill="#6264f7"/><circle cx="664.7" cy="58.1" r="0.8" fill="#6264f7"/><circle cx="663.8" cy="67.8" r="0.7" fill="#2323a8"/><circle cx="654.8" cy="61.9" r="0.8" fill="#6264f7"/><circle cx="666.9" cy="62.1" r="0.8" fill="#2323a8"/><circle cx="660.2" cy="58.3" r="0.6" fill="#6264f7"/><circle cx="670.3" cy="61.4" r="1.1" fill="#6264f7"/><circle cx="654.7" cy="60.6" r="0.8" fill="#6264f7"/><circle cx="664.9" cy="50.3" r="0.8" fill="#2323a8"/><circle cx="669.8" cy="58.9" r="0.7" fill="#2323a8"/><circle cx="664.8" cy="50.6" r="0.8" fill="#6264f7"/><circle cx="663.5" cy="68.8" r="0.5" fill="#2323a8"/><circle cx="672" cy="61.7" r="0.9" fill="#6264f7"/><circle cx="665.7" cy="57.8" r="0.4" fill="#2323a8"/><circle cx="659.2" cy="66.5" r="0.8" fill="#2323a8"/><circle cx="652.6" cy="61.3" r="0.7" fill="#2323a8"/></g>
<clipPath id="cp21"><path d="M654.3 52Q653.8 51.6 654.1 51.2Q654.4 50.8 654.6 50.4Q654.9 50.1 655.4 49.8Q655.9 49.5 656.5 49.4Q657.1 49.3 657.5 49Q658 48.8 658.7 48.8Q659.3 48.8 660 48.8Q660.6 48.8 661.1 48.8Q661.7 48.8 662.1 49Q662.4 49.2 663.1 49.3Q663.7 49.4 663.8 49.8Q663.8 50.1 664.2 50.4Q664.5 50.7 664.3 51.1Q664.1 51.5 664 52Q664 52.6 663.4 53Q662.9 53.5 662.5 53.9Q662.1 54.3 661.5 54.5Q661 54.7 660.4 55Q659.8 55.2 659.2 55.4Q658.6 55.5 658 55.5Q657.4 55.4 657.1 54.8Q656.8 54.1 656.2 53.8Q655.7 53.4 655.3 52.9Q654.8 52.4 654.3 52Z"/></clipPath>
<path d="M654.3 52Q653.8 51.6 654.1 51.2Q654.4 50.8 654.6 50.4Q654.9 50.1 655.4 49.8Q655.9 49.5 656.5 49.4Q657.1 49.3 657.5 49Q658 48.8 658.7 48.8Q659.3 48.8 660 48.8Q660.6 48.8 661.1 48.8Q661.7 48.8 662.1 49Q662.4 49.2 663.1 49.3Q663.7 49.4 663.8 49.8Q663.8 50.1 664.2 50.4Q664.5 50.7 664.3 51.1Q664.1 51.5 664 52Q664 52.6 663.4 53Q662.9 53.5 662.5 53.9Q662.1 54.3 661.5 54.5Q661 54.7 660.4 55Q659.8 55.2 659.2 55.4Q658.6 55.5 658 55.5Q657.4 55.4 657.1 54.8Q656.8 54.1 656.2 53.8Q655.7 53.4 655.3 52.9Q654.8 52.4 654.3 52Z" fill="#a8475f"/>
<g clip-path="url(#cp21)" opacity="0.6"><circle cx="657.7" cy="52.4" r="0.8" fill="#c4667e"/><circle cx="655.8" cy="52.9" r="0.6" fill="#7c2e44"/><circle cx="659.6" cy="49.7" r="0.6" fill="#7c2e44"/><circle cx="656.7" cy="54.1" r="0.7" fill="#7c2e44"/><circle cx="660" cy="54.5" r="0.7" fill="#7c2e44"/><circle cx="656.6" cy="53.9" r="0.6" fill="#7c2e44"/><circle cx="660.5" cy="52" r="0.5" fill="#7c2e44"/><circle cx="663.2" cy="49.6" r="0.4" fill="#7c2e44"/><circle cx="662.4" cy="50.8" r="0.7" fill="#7c2e44"/><circle cx="659.5" cy="52.3" r="1" fill="#c4667e"/><circle cx="664.2" cy="48.8" r="0.9" fill="#c4667e"/><circle cx="660" cy="51.1" r="0.4" fill="#7c2e44"/><circle cx="661.3" cy="49.9" r="0.4" fill="#7c2e44"/><circle cx="655.8" cy="52.7" r="1.1" fill="#c4667e"/><circle cx="654.8" cy="52.2" r="0.4" fill="#7c2e44"/><circle cx="661.8" cy="50.8" r="0.7" fill="#7c2e44"/></g>
<text x="631" y="90.3" font-size="7.4" fill="#222" textLength="47" lengthAdjust="spacingAndGlyphs">HRAS-GTPγS</text>
<clipPath id="cp22"><path d="M651.8 93.9Q652 93.2 652.4 93.3Q652.9 93.3 653.2 92.3Q653.5 91.2 654.1 91.6Q654.7 92.1 655.1 91.4Q655.5 90.7 656.1 92Q656.6 93.4 657.1 93.1Q657.5 92.8 658 93.6Q658.4 94.5 658.9 95.1Q659.3 95.6 659.7 95.8Q660.2 95.9 660.7 96Q661.2 96 661.6 96.5Q662 96.9 662.7 96.8Q663.4 96.7 664 97.3Q664.6 97.8 665 98.8Q665.3 99.8 666.4 99.9Q667.5 99.9 667.7 101Q667.9 102 668.7 102.6Q669.6 103.2 669.3 104.5Q669 105.9 668.8 107Q668.6 108.2 668.9 108.9Q669.2 109.7 670.8 110.1Q672.4 110.5 672.3 110.9Q672.3 111.3 672.6 111.6Q673 111.9 673.2 112.2Q673.4 112.5 673.2 112.8Q673 113.2 672.2 113.5Q671.4 113.8 672 114.3Q672.6 114.8 672.1 115.2Q671.7 115.6 671.5 116Q671.3 116.5 670.2 116.6Q669 116.7 667.8 116.7Q666.6 116.7 666.7 117.4Q666.9 118 666.9 118.7Q666.9 119.4 666.9 120.1Q666.9 120.8 666.5 121.1Q666.1 121.5 666.1 122.1Q666 122.8 665.8 123.4Q665.6 124 665.7 125.2Q665.8 126.3 664.8 125.7Q663.7 125.1 663.3 125.5Q662.9 125.9 662.7 127.5Q662.5 129 661.6 128.8Q660.6 128.5 659.7 127.9Q658.8 127.2 658.2 127.7Q657.5 128.1 656.8 128.4Q656.1 128.6 655.4 128.7Q654.6 128.8 653.8 129.1Q653 129.4 652.3 128.9Q651.6 128.4 651.1 127.4Q650.6 126.4 649.5 126.8Q648.3 127.1 647.5 126.8Q646.7 126.4 646.2 125.9Q645.6 125.4 645.3 124.8Q645 124.3 644.5 124.1Q644 123.9 643.2 123.9Q642.4 124 642.8 123Q643.1 122.1 642.7 121.6Q642.2 121.2 641.1 121Q640 120.8 640.1 120.1Q640.1 119.3 640.4 118.7Q640.6 118 639.8 118Q639 118 640.1 117.5Q641.1 116.9 642 116.5Q642.8 116 643.3 115.6Q643.8 115.2 644.4 114.7Q644.9 114.1 644.6 113.7Q644.3 113.3 645.2 112.6Q646 111.9 645.3 111.1Q644.6 110.3 645.9 109.7Q647.3 109 646.7 107.6Q646.1 106.3 646.5 105.4Q647 104.4 647 103.2Q647 102 647.9 101.7Q648.8 101.4 649.2 100.8Q649.7 100.1 649.7 98.7Q649.7 97.3 650.1 96.8Q650.5 96.2 650.7 95.6Q650.8 95 651.3 95.5Q651.7 96.1 651.7 95.3Q651.7 94.5 651.8 93.9Z"/></clipPath>
<radialGradient id="gr22" cx="0.45" cy="0.4" r="0.62"><stop offset="0" stop-color="#ffb23c"/><stop offset="0.6" stop-color="#f28a10"/><stop offset="1" stop-color="#d87200"/></radialGradient>
<path d="M651.8 93.9Q652 93.2 652.4 93.3Q652.9 93.3 653.2 92.3Q653.5 91.2 654.1 91.6Q654.7 92.1 655.1 91.4Q655.5 90.7 656.1 92Q656.6 93.4 657.1 93.1Q657.5 92.8 658 93.6Q658.4 94.5 658.9 95.1Q659.3 95.6 659.7 95.8Q660.2 95.9 660.7 96Q661.2 96 661.6 96.5Q662 96.9 662.7 96.8Q663.4 96.7 664 97.3Q664.6 97.8 665 98.8Q665.3 99.8 666.4 99.9Q667.5 99.9 667.7 101Q667.9 102 668.7 102.6Q669.6 103.2 669.3 104.5Q669 105.9 668.8 107Q668.6 108.2 668.9 108.9Q669.2 109.7 670.8 110.1Q672.4 110.5 672.3 110.9Q672.3 111.3 672.6 111.6Q673 111.9 673.2 112.2Q673.4 112.5 673.2 112.8Q673 113.2 672.2 113.5Q671.4 113.8 672 114.3Q672.6 114.8 672.1 115.2Q671.7 115.6 671.5 116Q671.3 116.5 670.2 116.6Q669 116.7 667.8 116.7Q666.6 116.7 666.7 117.4Q666.9 118 666.9 118.7Q666.9 119.4 666.9 120.1Q666.9 120.8 666.5 121.1Q666.1 121.5 666.1 122.1Q666 122.8 665.8 123.4Q665.6 124 665.7 125.2Q665.8 126.3 664.8 125.7Q663.7 125.1 663.3 125.5Q662.9 125.9 662.7 127.5Q662.5 129 661.6 128.8Q660.6 128.5 659.7 127.9Q658.8 127.2 658.2 127.7Q657.5 128.1 656.8 128.4Q656.1 128.6 655.4 128.7Q654.6 128.8 653.8 129.1Q653 129.4 652.3 128.9Q651.6 128.4 651.1 127.4Q650.6 126.4 649.5 126.8Q648.3 127.1 647.5 126.8Q646.7 126.4 646.2 125.9Q645.6 125.4 645.3 124.8Q645 124.3 644.5 124.1Q644 123.9 643.2 123.9Q642.4 124 642.8 123Q643.1 122.1 642.7 121.6Q642.2 121.2 641.1 121Q640 120.8 640.1 120.1Q640.1 119.3 640.4 118.7Q640.6 118 639.8 118Q639 118 640.1 117.5Q641.1 116.9 642 116.5Q642.8 116 643.3 115.6Q643.8 115.2 644.4 114.7Q644.9 114.1 644.6 113.7Q644.3 113.3 645.2 112.6Q646 111.9 645.3 111.1Q644.6 110.3 645.9 109.7Q647.3 109 646.7 107.6Q646.1 106.3 646.5 105.4Q647 104.4 647 103.2Q647 102 647.9 101.7Q648.8 101.4 649.2 100.8Q649.7 100.1 649.7 98.7Q649.7 97.3 650.1 96.8Q650.5 96.2 650.7 95.6Q650.8 95 651.3 95.5Q651.7 96.1 651.7 95.3Q651.7 94.5 651.8 93.9Z" fill="url(#gr22)" stroke="#d06a00" stroke-width="0.5"/>
<g clip-path="url(#cp22)" opacity="0.75"><circle cx="647.1" cy="99.9" r="0.8" fill="#c46000"/><circle cx="658.9" cy="111" r="0.8" fill="#c46000"/><circle cx="669.8" cy="108.3" r="0.6" fill="#c46000"/><circle cx="647" cy="119.9" r="1.5" fill="#ffb23c"/><circle cx="667.4" cy="128.9" r="1" fill="#c46000"/><circle cx="654.5" cy="115.1" r="1.1" fill="#ffb23c"/><circle cx="671.9" cy="105" r="0.8" fill="#c46000"/><circle cx="658.9" cy="112.3" r="0.8" fill="#c46000"/><circle cx="644.8" cy="122.5" r="0.9" fill="#ffb23c"/><circle cx="662.8" cy="92.2" r="0.8" fill="#ffb23c"/><circle cx="657.8" cy="106.4" r="0.7" fill="#c46000"/><circle cx="640.3" cy="99.6" r="1.5" fill="#ffb23c"/><circle cx="660.3" cy="111.5" r="1.1" fill="#ffb23c"/><circle cx="653.7" cy="95" r="0.7" fill="#ffb23c"/><circle cx="667.1" cy="125.2" r="0.6" fill="#ffb23c"/><circle cx="672.3" cy="114.6" r="0.9" fill="#c46000"/><circle cx="649.6" cy="128.6" r="1" fill="#ffb23c"/><circle cx="641.1" cy="99.9" r="0.4" fill="#c46000"/><circle cx="651" cy="101.8" r="1" fill="#c46000"/><circle cx="642.4" cy="108.4" r="0.7" fill="#c46000"/><circle cx="659.6" cy="118.5" r="1" fill="#c46000"/><circle cx="647.1" cy="118.7" r="0.9" fill="#c46000"/><circle cx="666" cy="105.7" r="0.9" fill="#c46000"/><circle cx="670" cy="122.2" r="0.4" fill="#c46000"/><circle cx="650.9" cy="114.4" r="0.6" fill="#ffb23c"/><circle cx="641.9" cy="113.5" r="0.8" fill="#ffb23c"/><circle cx="666.3" cy="102" r="1.2" fill="#ffb23c"/><circle cx="645.7" cy="106.3" r="0.9" fill="#c46000"/><circle cx="643.3" cy="106.5" r="0.6" fill="#ffb23c"/><circle cx="670.7" cy="119" r="1.6" fill="#ffb23c"/><circle cx="656.5" cy="100.2" r="1.2" fill="#ffb23c"/><circle cx="647.7" cy="128.3" r="0.6" fill="#c46000"/><circle cx="649.4" cy="124.6" r="1.4" fill="#ffb23c"/><circle cx="656.1" cy="121.8" r="1.3" fill="#ffb23c"/><circle cx="658.7" cy="93.6" r="0.4" fill="#c46000"/><circle cx="644.3" cy="109.1" r="0.6" fill="#c46000"/><circle cx="663.6" cy="98.1" r="0.7" fill="#ffb23c"/><circle cx="656" cy="100.1" r="0.7" fill="#ffb23c"/><circle cx="653" cy="101.9" r="0.5" fill="#c46000"/><circle cx="671.6" cy="115.8" r="1" fill="#ffb23c"/><circle cx="672" cy="126.6" r="0.9" fill="#ffb23c"/><circle cx="661.1" cy="114.2" r="0.8" fill="#ffb23c"/><circle cx="661.9" cy="113.7" r="0.9" fill="#c46000"/><circle cx="665" cy="108.8" r="0.6" fill="#c46000"/><circle cx="664" cy="95.8" r="1.3" fill="#ffb23c"/><circle cx="659.2" cy="107.6" r="0.8" fill="#c46000"/><circle cx="657.4" cy="114.2" r="0.5" fill="#c46000"/><circle cx="647.7" cy="95.7" r="0.9" fill="#ffb23c"/><circle cx="658.2" cy="103.9" r="0.8" fill="#c46000"/><circle cx="658.3" cy="111.8" r="0.5" fill="#c46000"/><circle cx="658.2" cy="111.9" r="0.7" fill="#c46000"/><circle cx="664.8" cy="116" r="1" fill="#c46000"/><circle cx="656.5" cy="107.6" r="1.4" fill="#ffb23c"/><circle cx="663.5" cy="94.2" r="0.7" fill="#ffb23c"/><circle cx="653" cy="120.3" r="1" fill="#c46000"/><circle cx="653.5" cy="122.4" r="0.5" fill="#c46000"/><circle cx="664.1" cy="108.3" r="0.8" fill="#c46000"/><circle cx="649.4" cy="101.3" r="0.8" fill="#c46000"/><circle cx="649.3" cy="110.2" r="0.8" fill="#c46000"/><circle cx="651.7" cy="117.2" r="1.5" fill="#ffb23c"/><circle cx="650.5" cy="128.5" r="1.3" fill="#ffb23c"/><circle cx="655.6" cy="102.5" r="0.9" fill="#c46000"/><circle cx="665.2" cy="114.4" r="0.6" fill="#ffb23c"/><circle cx="670.2" cy="94.6" r="1.5" fill="#ffb23c"/><circle cx="649.4" cy="109.7" r="1.4" fill="#ffb23c"/><circle cx="656.3" cy="127.5" r="1.1" fill="#ffb23c"/><circle cx="642.9" cy="112.3" r="1.4" fill="#ffb23c"/><circle cx="655.3" cy="102.1" r="0.6" fill="#ffb23c"/><circle cx="652.3" cy="121.7" r="0.4" fill="#c46000"/><circle cx="668.9" cy="124.6" r="1.1" fill="#ffb23c"/><circle cx="645.9" cy="107.5" r="0.9" fill="#ffb23c"/><circle cx="658" cy="94.6" r="0.6" fill="#ffb23c"/><circle cx="666.9" cy="114" r="1.3" fill="#ffb23c"/><circle cx="664.1" cy="120.4" r="0.4" fill="#c46000"/><circle cx="642.5" cy="101.8" r="1" fill="#c46000"/><circle cx="653.6" cy="110.6" r="1.4" fill="#ffb23c"/><circle cx="649.7" cy="124.7" r="0.7" fill="#ffb23c"/><circle cx="672.8" cy="107.2" r="0.9" fill="#ffb23c"/><circle cx="641.3" cy="104.4" r="0.7" fill="#ffb23c"/><circle cx="656.3" cy="125.3" r="0.5" fill="#c46000"/><circle cx="647.9" cy="106.1" r="1.1" fill="#ffb23c"/><circle cx="655.7" cy="93.2" r="1" fill="#c46000"/><circle cx="652.3" cy="114.2" r="1.2" fill="#ffb23c"/><circle cx="668.3" cy="116.3" r="0.6" fill="#c46000"/><circle cx="669.7" cy="104.5" r="0.7" fill="#ffb23c"/><circle cx="664.5" cy="123.3" r="1" fill="#c46000"/><circle cx="657.1" cy="92.7" r="1.6" fill="#ffb23c"/><circle cx="649.3" cy="107.9" r="0.9" fill="#ffb23c"/><circle cx="651.3" cy="123" r="1.4" fill="#ffb23c"/><circle cx="655.6" cy="97.2" r="0.6" fill="#c46000"/><circle cx="670.3" cy="117.9" r="0.8" fill="#ffb23c"/><circle cx="671.5" cy="103.2" r="0.7" fill="#c46000"/><circle cx="667.8" cy="112.8" r="1" fill="#c46000"/><circle cx="656.9" cy="120.8" r="1.5" fill="#ffb23c"/><circle cx="642.3" cy="113.1" r="1" fill="#ffb23c"/><circle cx="666.8" cy="98.7" r="0.7" fill="#ffb23c"/><circle cx="671.7" cy="112.2" r="1.3" fill="#ffb23c"/><circle cx="643.6" cy="110.8" r="0.6" fill="#ffb23c"/><circle cx="640.2" cy="128.3" r="1.3" fill="#ffb23c"/><circle cx="654.9" cy="126" r="0.9" fill="#ffb23c"/><circle cx="664.5" cy="107.4" r="0.6" fill="#c46000"/><circle cx="671.7" cy="122.5" r="0.9" fill="#c46000"/><circle cx="669.5" cy="121.4" r="0.9" fill="#ffb23c"/><circle cx="647.4" cy="115.7" r="0.6" fill="#c46000"/><circle cx="649" cy="112.1" r="0.9" fill="#c46000"/><circle cx="640.3" cy="103.4" r="1" fill="#ffb23c"/><circle cx="650.4" cy="113.8" r="1" fill="#c46000"/><circle cx="644.3" cy="123.6" r="1.4" fill="#ffb23c"/><circle cx="660.1" cy="117.4" r="0.6" fill="#ffb23c"/><circle cx="662.9" cy="92.2" r="0.8" fill="#ffb23c"/><circle cx="664.1" cy="124.3" r="0.9" fill="#c46000"/><circle cx="655.2" cy="104" r="0.8" fill="#c46000"/><circle cx="660" cy="116" r="1.5" fill="#ffb23c"/><circle cx="661.2" cy="103.4" r="1.1" fill="#ffb23c"/><circle cx="650.2" cy="128" r="0.6" fill="#ffb23c"/><circle cx="660.5" cy="104.6" r="0.9" fill="#c46000"/><circle cx="658.6" cy="119.3" r="1.2" fill="#ffb23c"/><circle cx="648.8" cy="114.1" r="0.8" fill="#c46000"/><circle cx="656.3" cy="118.2" r="0.6" fill="#c46000"/><circle cx="653.6" cy="112.2" r="1.4" fill="#ffb23c"/><circle cx="653.6" cy="124.8" r="0.9" fill="#ffb23c"/><circle cx="666.3" cy="124.3" r="1.2" fill="#ffb23c"/><circle cx="660.2" cy="122.7" r="0.6" fill="#ffb23c"/><circle cx="645.8" cy="107.2" r="1.3" fill="#ffb23c"/><circle cx="667.7" cy="100.1" r="1.1" fill="#ffb23c"/><circle cx="645.8" cy="118.7" r="0.4" fill="#c46000"/><circle cx="649.6" cy="103.7" r="1.3" fill="#ffb23c"/><circle cx="654.3" cy="100.7" r="0.8" fill="#c46000"/><circle cx="649" cy="127.4" r="0.9" fill="#c46000"/><circle cx="661.7" cy="112.3" r="0.9" fill="#ffb23c"/><circle cx="643.4" cy="115.7" r="1.2" fill="#ffb23c"/><circle cx="662.8" cy="101.4" r="1.2" fill="#ffb23c"/><circle cx="670.9" cy="110.8" r="1.5" fill="#ffb23c"/><circle cx="647.5" cy="95.9" r="1.4" fill="#ffb23c"/><circle cx="662.1" cy="126.5" r="1.1" fill="#ffb23c"/><circle cx="642.9" cy="100" r="0.7" fill="#ffb23c"/><circle cx="656.1" cy="103.3" r="0.9" fill="#c46000"/><circle cx="657.7" cy="108" r="0.8" fill="#ffb23c"/><circle cx="647.1" cy="123.1" r="1.5" fill="#ffb23c"/><circle cx="653.5" cy="120.1" r="0.9" fill="#c46000"/></g>
<text x="654" y="139.6" font-size="7.4" fill="#222" textLength="10.2" lengthAdjust="spacingAndGlyphs">VH</text>
<path d="M652.6 145.2Q654.2 150.2 658.8 152Q663.4 150.2 665 145.2M658.8 151.5V161.8" fill="none" stroke="#dc9a3c" stroke-width="3.8" stroke-linecap="round"/>
<text x="651.3" y="173.8" font-size="7.4" fill="#222" textLength="14.8" lengthAdjust="spacingAndGlyphs">GST</text>
<path d="M656.8 206.5V192.5L646.5 184.5M661.2 206.5V192.5L671.5 184.5M645.5 188.8L652.5 193.8M672.5 188.8L665.5 193.8" fill="none" stroke="#333" stroke-width="2.8" stroke-linecap="round" stroke-linejoin="round"/>
<path d="M656.8 206.5V192.5L646.5 184.5M661.2 206.5V192.5L671.5 184.5M645.5 188.8L652.5 193.8M672.5 188.8L665.5 193.8" fill="none" stroke="#d8d8d8" stroke-width="0.9" stroke-linecap="round" stroke-linejoin="round"/>
<text x="643.7" y="217.2" font-size="7.4" fill="#222" textLength="30" lengthAdjust="spacingAndGlyphs">Anti-GST</text>
<text x="168.3" y="219" font-size="19" font-weight="bold">d</text>
<path d="M209.2 445H544" fill="none" stroke="#cdcdcd" stroke-width="1.6"/>
<path d="M210.7 223V445.5" fill="none" stroke="#8c8c8c" stroke-width="1"/>
<path d="M207.5 444.9H210.7M208.7 429.1H210.7M207.5 413.2H210.7M208.7 397.4H210.7M207.5 381.6H210.7M208.7 365.7H210.7M207.5 349.9H210.7M208.7 334.1H210.7M207.5 318.2H210.7M208.7 302.4H210.7M207.5 286.6H210.7M208.7 270.8H210.7M207.5 254.9H210.7M208.7 239.1H210.7M207.5 223.3H210.7M210.7 445V448.2M271.7 445V448.2M332.7 445V448.2M393.7 445V448.2M454.7 445V448.2M515.7 445V448.2" stroke="#8c8c8c" stroke-width="1"/>
<text x="203.3" y="449.4" font-size="12.8" text-anchor="end" fill="#111">−3</text>
<text x="203.3" y="417.7" font-size="12.8" text-anchor="end" fill="#111">−2</text>
<text x="203.3" y="386.1" font-size="12.8" text-anchor="end" fill="#111">−1</text>
<text x="203.3" y="354.4" font-size="12.8" text-anchor="end" fill="#111">0</text>
<text x="203.3" y="322.7" font-size="12.8" text-anchor="end" fill="#111">1</text>
<text x="203.3" y="291.1" font-size="12.8" text-anchor="end" fill="#111">2</text>
<text x="203.3" y="259.4" font-size="12.8" text-anchor="end" fill="#111">3</text>
<text x="203.3" y="227.8" font-size="12.8" text-anchor="end" fill="#111">4</text>
<text x="210.7" y="462.4" font-size="12.8" text-anchor="middle" fill="#111">0</text>
<text x="271.7" y="462.4" font-size="12.8" text-anchor="middle" fill="#111">20</text>
<text x="332.7" y="462.4" font-size="12.8" text-anchor="middle" fill="#111">40</text>
<text x="393.7" y="462.4" font-size="12.8" text-anchor="middle" fill="#111">60</text>
<text x="454.7" y="462.4" font-size="12.8" text-anchor="middle" fill="#111">80</text>
<text x="515.7" y="462.4" font-size="12.8" text-anchor="middle" fill="#111">100</text>
<text x="376.3" y="480.9" font-size="13.2" text-anchor="middle" fill="#111" textLength="82.5" lengthAdjust="spacingAndGlyphs">Cycle number</text>
<text x="182.6" y="337.7" font-size="13.2" text-anchor="middle" fill="#111" textLength="180" lengthAdjust="spacingAndGlyphs" transform="rotate(-90 182.6 337.7)">Mw adjusted response-binding</text>
<path d="M226.1 229.9l3 3l-3 3l-3 -3z" fill="#ff0000"/>
<path d="M226.1 253.5l3 3l-3 3l-3 -3z" fill="#2a8c2a"/>
<path d="M226.1 277.7l3 3l-3 3l-3 -3z" fill="#0000ff"/>
<text x="235.2" y="236" font-size="9.6" fill="#111">GST-HRAS<tspan font-size="6.8" dy="-3.3">G12V</tspan><tspan dy="3.3">-GTPγS</tspan></text>
<text x="235.2" y="260.9" font-size="9.6" fill="#111" textLength="76" lengthAdjust="spacingAndGlyphs">GST-HRAS -GDP</text>
<text x="235.2" y="284.5" font-size="9.6" fill="#111" textLength="19.3" lengthAdjust="spacingAndGlyphs">GST</text>
<path d="M234.9 292.4l1.9 1.9l-1.9 1.9l-1.9 -1.9zM243.9 332.2l1.9 1.9l-1.9 1.9l-1.9 -1.9zM247.1 336l1.9 1.9l-1.9 1.9l-1.9 -1.9zM250.1 338.9l1.9 1.9l-1.9 1.9l-1.9 -1.9zM228.5 342.1l1.9 1.9l-1.9 1.9l-1.9 -1.9zM237.8 351.7l1.9 1.9l-1.9 1.9l-1.9 -1.9zM253.2 352.3l1.9 1.9l-1.9 1.9l-1.9 -1.9zM256.4 348.8l1.9 1.9l-1.9 1.9l-1.9 -1.9zM262.3 340.3l1.9 1.9l-1.9 1.9l-1.9 -1.9zM265.5 351.4l1.9 1.9l-1.9 1.9l-1.9 -1.9zM268.4 342.6l1.9 1.9l-1.9 1.9l-1.9 -1.9zM271.5 345.7l1.9 1.9l-1.9 1.9l-1.9 -1.9zM274.6 332l1.9 1.9l-1.9 1.9l-1.9 -1.9zM277.5 345l1.9 1.9l-1.9 1.9l-1.9 -1.9zM280.7 346.1l1.9 1.9l-1.9 1.9l-1.9 -1.9zM283.6 340.9l1.9 1.9l-1.9 1.9l-1.9 -1.9zM286.5 342.1l1.9 1.9l-1.9 1.9l-1.9 -1.9zM289.4 350.6l1.9 1.9l-1.9 1.9l-1.9 -1.9zM289.7 350.3l1.9 1.9l-1.9 1.9l-1.9 -1.9zM292.6 337.8l1.9 1.9l-1.9 1.9l-1.9 -1.9zM296.1 324.7l1.9 1.9l-1.9 1.9l-1.9 -1.9zM302.2 350.3l1.9 1.9l-1.9 1.9l-1.9 -1.9zM305.3 333.8l1.9 1.9l-1.9 1.9l-1.9 -1.9zM308.1 347.7l1.9 1.9l-1.9 1.9l-1.9 -1.9zM311.3 350.1l1.9 1.9l-1.9 1.9l-1.9 -1.9zM314.2 348.1l1.9 1.9l-1.9 1.9l-1.9 -1.9zM317.5 346.6l1.9 1.9l-1.9 1.9l-1.9 -1.9zM320.6 347.7l1.9 1.9l-1.9 1.9l-1.9 -1.9zM323.5 345.7l1.9 1.9l-1.9 1.9l-1.9 -1.9zM326.7 340.7l1.9 1.9l-1.9 1.9l-1.9 -1.9zM329.4 351.6l1.9 1.9l-1.9 1.9l-1.9 -1.9zM335.6 341.9l1.9 1.9l-1.9 1.9l-1.9 -1.9zM338.7 342.7l1.9 1.9l-1.9 1.9l-1.9 -1.9zM341.9 318.5l1.9 1.9l-1.9 1.9l-1.9 -1.9zM344.8 346l1.9 1.9l-1.9 1.9l-1.9 -1.9zM348.1 344.6l1.9 1.9l-1.9 1.9l-1.9 -1.9zM351 342.8l1.9 1.9l-1.9 1.9l-1.9 -1.9zM357.2 347.4l1.9 1.9l-1.9 1.9l-1.9 -1.9zM360.1 352.4l1.9 1.9l-1.9 1.9l-1.9 -1.9zM363.2 349.1l1.9 1.9l-1.9 1.9l-1.9 -1.9zM366.4 346.3l1.9 1.9l-1.9 1.9l-1.9 -1.9zM369.3 348.7l1.9 1.9l-1.9 1.9l-1.9 -1.9zM372.5 343.1l1.9 1.9l-1.9 1.9l-1.9 -1.9zM384.5 348.3l1.9 1.9l-1.9 1.9l-1.9 -1.9zM393.6 343.9l1.9 1.9l-1.9 1.9l-1.9 -1.9zM400 300.2l1.9 1.9l-1.9 1.9l-1.9 -1.9zM403 343.2l1.9 1.9l-1.9 1.9l-1.9 -1.9zM406.1 348.6l1.9 1.9l-1.9 1.9l-1.9 -1.9zM409.1 347.9l1.9 1.9l-1.9 1.9l-1.9 -1.9zM412.2 320.5l1.9 1.9l-1.9 1.9l-1.9 -1.9zM415.2 346l1.9 1.9l-1.9 1.9l-1.9 -1.9zM418.2 331.6l1.9 1.9l-1.9 1.9l-1.9 -1.9zM421.3 320.1l1.9 1.9l-1.9 1.9l-1.9 -1.9zM424.2 352.8l1.9 1.9l-1.9 1.9l-1.9 -1.9zM430.4 348.6l1.9 1.9l-1.9 1.9l-1.9 -1.9zM433.3 344.8l1.9 1.9l-1.9 1.9l-1.9 -1.9zM436.5 355l1.9 1.9l-1.9 1.9l-1.9 -1.9zM439.4 318l1.9 1.9l-1.9 1.9l-1.9 -1.9zM460.9 256.3l1.9 1.9l-1.9 1.9l-1.9 -1.9zM482.3 259.4l1.9 1.9l-1.9 1.9l-1.9 -1.9zM464 299.5l1.9 1.9l-1.9 1.9l-1.9 -1.9zM479.4 320.7l1.9 1.9l-1.9 1.9l-1.9 -1.9zM442.6 348.5l1.9 1.9l-1.9 1.9l-1.9 -1.9zM445.5 332.7l1.9 1.9l-1.9 1.9l-1.9 -1.9zM448.8 338.5l1.9 1.9l-1.9 1.9l-1.9 -1.9zM451.9 351.2l1.9 1.9l-1.9 1.9l-1.9 -1.9zM455.1 338l1.9 1.9l-1.9 1.9l-1.9 -1.9zM467.1 352.8l1.9 1.9l-1.9 1.9l-1.9 -1.9zM470 348.7l1.9 1.9l-1.9 1.9l-1.9 -1.9zM473.3 341.5l1.9 1.9l-1.9 1.9l-1.9 -1.9zM476.2 346.9l1.9 1.9l-1.9 1.9l-1.9 -1.9zM485.5 345.5l1.9 1.9l-1.9 1.9l-1.9 -1.9zM488.5 342.6l1.9 1.9l-1.9 1.9l-1.9 -1.9zM494.8 346.2l1.9 1.9l-1.9 1.9l-1.9 -1.9zM500.8 350.4l1.9 1.9l-1.9 1.9l-1.9 -1.9zM503.8 343.2l1.9 1.9l-1.9 1.9l-1.9 -1.9zM506.9 348.2l1.9 1.9l-1.9 1.9l-1.9 -1.9zM509.9 350.5l1.9 1.9l-1.9 1.9l-1.9 -1.9zM515.9 347.4l1.9 1.9l-1.9 1.9l-1.9 -1.9zM519.1 350.5l1.9 1.9l-1.9 1.9l-1.9 -1.9zM522.1 350.2l1.9 1.9l-1.9 1.9l-1.9 -1.9zM525.1 338.2l1.9 1.9l-1.9 1.9l-1.9 -1.9z" fill="#2a8c2a"/>
<path d="M234.9 316.4l1.9 1.9l-1.9 1.9l-1.9 -1.9zM228.5 344.6l1.9 1.9l-1.9 1.9l-1.9 -1.9zM231.7 346.5l1.9 1.9l-1.9 1.9l-1.9 -1.9zM237.8 348.2l1.9 1.9l-1.9 1.9l-1.9 -1.9zM243.9 341.2l1.9 1.9l-1.9 1.9l-1.9 -1.9zM247.1 342.1l1.9 1.9l-1.9 1.9l-1.9 -1.9zM250.1 338.1l1.9 1.9l-1.9 1.9l-1.9 -1.9zM256.4 348.2l1.9 1.9l-1.9 1.9l-1.9 -1.9zM262.3 337.9l1.9 1.9l-1.9 1.9l-1.9 -1.9zM265.5 347.3l1.9 1.9l-1.9 1.9l-1.9 -1.9zM268.4 350.3l1.9 1.9l-1.9 1.9l-1.9 -1.9zM271.5 345l1.9 1.9l-1.9 1.9l-1.9 -1.9zM274.6 325.7l1.9 1.9l-1.9 1.9l-1.9 -1.9zM277.5 343.5l1.9 1.9l-1.9 1.9l-1.9 -1.9zM280.7 339.1l1.9 1.9l-1.9 1.9l-1.9 -1.9zM283.6 338.6l1.9 1.9l-1.9 1.9l-1.9 -1.9zM286.5 343.6l1.9 1.9l-1.9 1.9l-1.9 -1.9zM289.4 349.4l1.9 1.9l-1.9 1.9l-1.9 -1.9zM292.6 337.2l1.9 1.9l-1.9 1.9l-1.9 -1.9zM296.1 332.3l1.9 1.9l-1.9 1.9l-1.9 -1.9zM302.2 350.1l1.9 1.9l-1.9 1.9l-1.9 -1.9zM305.3 343.9l1.9 1.9l-1.9 1.9l-1.9 -1.9zM308.1 339.6l1.9 1.9l-1.9 1.9l-1.9 -1.9zM311.3 342.2l1.9 1.9l-1.9 1.9l-1.9 -1.9zM314.2 340.4l1.9 1.9l-1.9 1.9l-1.9 -1.9zM317.5 341.1l1.9 1.9l-1.9 1.9l-1.9 -1.9zM320.6 341.1l1.9 1.9l-1.9 1.9l-1.9 -1.9zM323.5 339.6l1.9 1.9l-1.9 1.9l-1.9 -1.9zM326.7 342.7l1.9 1.9l-1.9 1.9l-1.9 -1.9zM329.4 343.3l1.9 1.9l-1.9 1.9l-1.9 -1.9zM332.5 342.5l1.9 1.9l-1.9 1.9l-1.9 -1.9zM335.6 336.4l1.9 1.9l-1.9 1.9l-1.9 -1.9zM338.7 344.2l1.9 1.9l-1.9 1.9l-1.9 -1.9zM341.9 331.2l1.9 1.9l-1.9 1.9l-1.9 -1.9zM344.8 344.8l1.9 1.9l-1.9 1.9l-1.9 -1.9zM348.1 337.6l1.9 1.9l-1.9 1.9l-1.9 -1.9zM351 341l1.9 1.9l-1.9 1.9l-1.9 -1.9zM354.1 341.9l1.9 1.9l-1.9 1.9l-1.9 -1.9zM357.2 340.7l1.9 1.9l-1.9 1.9l-1.9 -1.9zM360.3 347.7l1.9 1.9l-1.9 1.9l-1.9 -1.9zM363.2 344.8l1.9 1.9l-1.9 1.9l-1.9 -1.9zM366.4 338.7l1.9 1.9l-1.9 1.9l-1.9 -1.9zM369.3 340.1l1.9 1.9l-1.9 1.9l-1.9 -1.9zM372.5 343.4l1.9 1.9l-1.9 1.9l-1.9 -1.9zM384.5 349.5l1.9 1.9l-1.9 1.9l-1.9 -1.9zM387.7 344.8l1.9 1.9l-1.9 1.9l-1.9 -1.9zM390.7 347.2l1.9 1.9l-1.9 1.9l-1.9 -1.9zM396.8 345.7l1.9 1.9l-1.9 1.9l-1.9 -1.9zM400 307.4l1.9 1.9l-1.9 1.9l-1.9 -1.9zM403 334.5l1.9 1.9l-1.9 1.9l-1.9 -1.9zM406.1 340.7l1.9 1.9l-1.9 1.9l-1.9 -1.9zM409.1 342.5l1.9 1.9l-1.9 1.9l-1.9 -1.9zM412.2 322.6l1.9 1.9l-1.9 1.9l-1.9 -1.9zM415.2 339.9l1.9 1.9l-1.9 1.9l-1.9 -1.9zM418.2 337.6l1.9 1.9l-1.9 1.9l-1.9 -1.9zM421.3 326.7l1.9 1.9l-1.9 1.9l-1.9 -1.9zM424.2 348.6l1.9 1.9l-1.9 1.9l-1.9 -1.9zM427.5 346l1.9 1.9l-1.9 1.9l-1.9 -1.9zM430.4 348.1l1.9 1.9l-1.9 1.9l-1.9 -1.9zM433.3 343.4l1.9 1.9l-1.9 1.9l-1.9 -1.9zM436.5 347.5l1.9 1.9l-1.9 1.9l-1.9 -1.9zM439.4 325l1.9 1.9l-1.9 1.9l-1.9 -1.9zM460.9 277.9l1.9 1.9l-1.9 1.9l-1.9 -1.9zM482.3 288.1l1.9 1.9l-1.9 1.9l-1.9 -1.9zM479.4 314.9l1.9 1.9l-1.9 1.9l-1.9 -1.9zM464 327.5l1.9 1.9l-1.9 1.9l-1.9 -1.9zM442.6 352l1.9 1.9l-1.9 1.9l-1.9 -1.9zM448.8 342.4l1.9 1.9l-1.9 1.9l-1.9 -1.9zM451.9 343.8l1.9 1.9l-1.9 1.9l-1.9 -1.9zM455.1 341.5l1.9 1.9l-1.9 1.9l-1.9 -1.9zM445.5 374.4l1.9 1.9l-1.9 1.9l-1.9 -1.9zM467.1 347.1l1.9 1.9l-1.9 1.9l-1.9 -1.9zM470 346.1l1.9 1.9l-1.9 1.9l-1.9 -1.9zM473.3 339.5l1.9 1.9l-1.9 1.9l-1.9 -1.9zM476.2 344.4l1.9 1.9l-1.9 1.9l-1.9 -1.9zM485.5 343l1.9 1.9l-1.9 1.9l-1.9 -1.9zM491.6 342.6l1.9 1.9l-1.9 1.9l-1.9 -1.9zM494.8 347.2l1.9 1.9l-1.9 1.9l-1.9 -1.9zM500.8 349.3l1.9 1.9l-1.9 1.9l-1.9 -1.9zM503.8 346.1l1.9 1.9l-1.9 1.9l-1.9 -1.9zM509.9 345.2l1.9 1.9l-1.9 1.9l-1.9 -1.9zM512.9 343.4l1.9 1.9l-1.9 1.9l-1.9 -1.9zM515.9 342l1.9 1.9l-1.9 1.9l-1.9 -1.9zM519.1 344.2l1.9 1.9l-1.9 1.9l-1.9 -1.9zM522.1 346.4l1.9 1.9l-1.9 1.9l-1.9 -1.9zM525.1 339.8l1.9 1.9l-1.9 1.9l-1.9 -1.9zM528.3 346.1l1.9 1.9l-1.9 1.9l-1.9 -1.9z" fill="#ff0000"/>
<path d="M228.5 357.9l1.9 1.9l-1.9 1.9l-1.9 -1.9zM231.7 349.4l1.9 1.9l-1.9 1.9l-1.9 -1.9zM234.9 348.8l1.9 1.9l-1.9 1.9l-1.9 -1.9zM237.8 349.4l1.9 1.9l-1.9 1.9l-1.9 -1.9zM243.9 352.7l1.9 1.9l-1.9 1.9l-1.9 -1.9zM247.1 347.9l1.9 1.9l-1.9 1.9l-1.9 -1.9zM250.1 349.4l1.9 1.9l-1.9 1.9l-1.9 -1.9zM253.2 350.6l1.9 1.9l-1.9 1.9l-1.9 -1.9zM256.4 351.7l1.9 1.9l-1.9 1.9l-1.9 -1.9zM262.3 344.5l1.9 1.9l-1.9 1.9l-1.9 -1.9zM265.5 353.1l1.9 1.9l-1.9 1.9l-1.9 -1.9zM271.5 351.2l1.9 1.9l-1.9 1.9l-1.9 -1.9zM277.5 356.7l1.9 1.9l-1.9 1.9l-1.9 -1.9zM280.7 351.4l1.9 1.9l-1.9 1.9l-1.9 -1.9zM286.5 354.7l1.9 1.9l-1.9 1.9l-1.9 -1.9zM289.4 353.7l1.9 1.9l-1.9 1.9l-1.9 -1.9zM268.2 367.4l1.9 1.9l-1.9 1.9l-1.9 -1.9zM274.4 413.6l1.9 1.9l-1.9 1.9l-1.9 -1.9zM283.9 421.5l1.9 1.9l-1.9 1.9l-1.9 -1.9zM308.2 394.7l1.9 1.9l-1.9 1.9l-1.9 -1.9zM326.6 392.7l1.9 1.9l-1.9 1.9l-1.9 -1.9zM347.9 411.6l1.9 1.9l-1.9 1.9l-1.9 -1.9zM350.9 363.7l1.9 1.9l-1.9 1.9l-1.9 -1.9zM368.7 375.6l1.9 1.9l-1.9 1.9l-1.9 -1.9zM292.6 344.2l1.9 1.9l-1.9 1.9l-1.9 -1.9zM296.1 346.6l1.9 1.9l-1.9 1.9l-1.9 -1.9zM302.2 355l1.9 1.9l-1.9 1.9l-1.9 -1.9zM305.3 364.7l1.9 1.9l-1.9 1.9l-1.9 -1.9zM311.3 352.2l1.9 1.9l-1.9 1.9l-1.9 -1.9zM314.2 357.9l1.9 1.9l-1.9 1.9l-1.9 -1.9zM317.5 348.1l1.9 1.9l-1.9 1.9l-1.9 -1.9zM320.6 345.2l1.9 1.9l-1.9 1.9l-1.9 -1.9zM323.5 356.5l1.9 1.9l-1.9 1.9l-1.9 -1.9zM329.4 352.4l1.9 1.9l-1.9 1.9l-1.9 -1.9zM332.5 349.5l1.9 1.9l-1.9 1.9l-1.9 -1.9zM335.6 327.3l1.9 1.9l-1.9 1.9l-1.9 -1.9zM338.7 346.3l1.9 1.9l-1.9 1.9l-1.9 -1.9zM341.9 351.8l1.9 1.9l-1.9 1.9l-1.9 -1.9zM344.8 348.7l1.9 1.9l-1.9 1.9l-1.9 -1.9zM354.1 350.3l1.9 1.9l-1.9 1.9l-1.9 -1.9zM357.2 342.1l1.9 1.9l-1.9 1.9l-1.9 -1.9zM360.3 351.8l1.9 1.9l-1.9 1.9l-1.9 -1.9zM363.2 351.6l1.9 1.9l-1.9 1.9l-1.9 -1.9zM366.4 349.7l1.9 1.9l-1.9 1.9l-1.9 -1.9zM372.5 340.7l1.9 1.9l-1.9 1.9l-1.9 -1.9zM384.5 346.9l1.9 1.9l-1.9 1.9l-1.9 -1.9zM387.7 354.2l1.9 1.9l-1.9 1.9l-1.9 -1.9zM390.7 355.7l1.9 1.9l-1.9 1.9l-1.9 -1.9zM393.6 346.9l1.9 1.9l-1.9 1.9l-1.9 -1.9zM396.8 351.5l1.9 1.9l-1.9 1.9l-1.9 -1.9zM403 360.6l1.9 1.9l-1.9 1.9l-1.9 -1.9zM406.1 353.2l1.9 1.9l-1.9 1.9l-1.9 -1.9zM409.1 349.5l1.9 1.9l-1.9 1.9l-1.9 -1.9zM415.2 352.4l1.9 1.9l-1.9 1.9l-1.9 -1.9zM418.2 336.9l1.9 1.9l-1.9 1.9l-1.9 -1.9zM421.3 358.2l1.9 1.9l-1.9 1.9l-1.9 -1.9zM424.2 356.5l1.9 1.9l-1.9 1.9l-1.9 -1.9zM427.5 352.4l1.9 1.9l-1.9 1.9l-1.9 -1.9zM430.4 356.1l1.9 1.9l-1.9 1.9l-1.9 -1.9zM433.3 350.9l1.9 1.9l-1.9 1.9l-1.9 -1.9zM436.5 355l1.9 1.9l-1.9 1.9l-1.9 -1.9zM439.4 347.4l1.9 1.9l-1.9 1.9l-1.9 -1.9zM399.8 405.3l1.9 1.9l-1.9 1.9l-1.9 -1.9zM412.1 381l1.9 1.9l-1.9 1.9l-1.9 -1.9zM445.4 402.6l1.9 1.9l-1.9 1.9l-1.9 -1.9zM479.3 431.6l1.9 1.9l-1.9 1.9l-1.9 -1.9zM442.6 356.4l1.9 1.9l-1.9 1.9l-1.9 -1.9zM448.8 351l1.9 1.9l-1.9 1.9l-1.9 -1.9zM451.9 361.9l1.9 1.9l-1.9 1.9l-1.9 -1.9zM455.1 342.6l1.9 1.9l-1.9 1.9l-1.9 -1.9zM460.9 334.8l1.9 1.9l-1.9 1.9l-1.9 -1.9zM464 351.7l1.9 1.9l-1.9 1.9l-1.9 -1.9zM467.1 350.2l1.9 1.9l-1.9 1.9l-1.9 -1.9zM470 354.7l1.9 1.9l-1.9 1.9l-1.9 -1.9zM473.3 348.7l1.9 1.9l-1.9 1.9l-1.9 -1.9zM476.2 343.6l1.9 1.9l-1.9 1.9l-1.9 -1.9zM482.3 332.1l1.9 1.9l-1.9 1.9l-1.9 -1.9zM485.5 348.1l1.9 1.9l-1.9 1.9l-1.9 -1.9zM488.5 349.4l1.9 1.9l-1.9 1.9l-1.9 -1.9zM491.6 351.8l1.9 1.9l-1.9 1.9l-1.9 -1.9zM494.8 337.4l1.9 1.9l-1.9 1.9l-1.9 -1.9zM500.8 357.1l1.9 1.9l-1.9 1.9l-1.9 -1.9zM503.8 347.7l1.9 1.9l-1.9 1.9l-1.9 -1.9zM506.9 345.4l1.9 1.9l-1.9 1.9l-1.9 -1.9zM509.9 347l1.9 1.9l-1.9 1.9l-1.9 -1.9zM512.9 345.4l1.9 1.9l-1.9 1.9l-1.9 -1.9zM515.9 345.4l1.9 1.9l-1.9 1.9l-1.9 -1.9zM519.1 356.3l1.9 1.9l-1.9 1.9l-1.9 -1.9zM522.1 348.5l1.9 1.9l-1.9 1.9l-1.9 -1.9zM525.1 346.1l1.9 1.9l-1.9 1.9l-1.9 -1.9zM528.3 348.9l1.9 1.9l-1.9 1.9l-1.9 -1.9z" fill="#0000ff"/>
<text x="125.1" y="512.8" font-size="10.5" fill="#111" textLength="127.5" lengthAdjust="spacingAndGlyphs">Abd-1-HRAS<tspan font-size="7.6" dy="-3.8">G12V</tspan><tspan dy="3.8">-GTPγS</tspan></text>
<text x="52.8" y="531.8" font-size="19" font-weight="bold">e</text>
<path d="M45.2 508V622.3H347.9M37.7 605.5H45.2M37.7 588.5H45.2M37.7 571.5H45.2M37.7 554.5H45.2M37.7 537.5H45.2M37.7 520.5H45.2M104.3 623V631.8M134.2 623V631.8M164.2 623V631.8M194.1 623V631.8M224.1 623V631.8M254.1 623V631.8M284 623V631.8M313.9 623V631.8" fill="none" stroke="#5a5a5a" stroke-width="1.2"/>
<text x="32.6" y="558.9" font-size="12.8" text-anchor="end" fill="#111">20</text>
<text x="33.6" y="593.2" font-size="12.8" text-anchor="end" fill="#111">10</text>
<text x="103.1" y="648" font-size="12.5" text-anchor="middle" fill="#111">0</text>
<text x="163" y="648" font-size="12.5" text-anchor="middle" fill="#111">100</text>
<text x="222.9" y="648" font-size="12.5" text-anchor="middle" fill="#111">200</text>
<text x="282.8" y="648" font-size="12.5" text-anchor="middle" fill="#111">300</text>
<text x="10.7" y="572.8" font-size="12.5" text-anchor="middle" fill="#111" textLength="17.6" lengthAdjust="spacingAndGlyphs" transform="rotate(-90 10.7 572.8)">RU</text>
<text x="197.2" y="666.1" font-size="12.2" text-anchor="middle" fill="#111" textLength="47.5" lengthAdjust="spacingAndGlyphs">Time (s)</text>
<path d="M183.4 530.4L195.1 537.1M195.1 537.1L195.1 550.6M195.1 550.6L183.4 557.4M183.4 557.4L171.7 550.6M171.7 550.6L171.7 537.1M171.7 537.1L183.4 530.4M184 533.4L192.2 538.1M192.2 549.7L184 554.4M174 548.6L174 539.2M195.1 537.1L206.8 530.4M206.8 530.4L218.5 537.1M218.5 537.1L218.5 550.6M218.5 550.6L210.3 555.4M203.3 555.4L195.1 550.6M207.4 533.4L215.6 538.1M215.9 549.5L209.3 553.3M218.5 550.6L226.7 555.4M233.7 555.4L241.9 550.6M240.9 550.6L240.9 541.2M242.8 550.6L242.8 541.2M241.9 550.6L253.5 557.4M253.5 557.4L262 553.2M268.5 554.2L275.1 561M275.1 561L268.9 573M268.9 573L255.6 570.7M255.6 570.7L253.5 557.4M256.2 559.5L257.5 568M268 569.7L271.9 562.1" stroke="#3a3a3a" stroke-width="0.8" fill="none" stroke-linecap="round"/>
<text x="206.8" y="560.4" font-size="8.4" fill="#3a3a3a" text-anchor="middle">N</text>
<text x="230.2" y="560.4" font-size="8.4" fill="#3a3a3a" text-anchor="middle">N</text>
<text x="230.2" y="567.2" font-size="8.4" fill="#3a3a3a" text-anchor="middle">H</text>
<text x="241.9" y="540.2" font-size="8.4" fill="#3a3a3a" text-anchor="middle">O</text>
<text x="265.6" y="554.4" font-size="8.4" fill="#3a3a3a" text-anchor="middle">O</text>
<path d="M62.8 609.0L63.8 609.0L64.8 608.2L65.8 607.7L66.8 607.5L67.7 608.1L68.7 607.4L69.7 607.2L70.7 608.0L71.7 607.9L72.7 608.1L73.7 607.3L74.7 607.7L75.6 607.6L76.6 606.8L77.6 607.9L78.6 607.7L79.6 608.8L80.6 607.5L81.6 607.3L82.6 608.0L83.6 607.4L84.5 607.7L85.5 607.0L86.5 607.2L87.5 607.6L88.5 607.4L89.5 607.0L90.5 606.3L91.5 607.1L92.4 606.9L93.4 607.2L94.4 606.8L95.4 607.3L96.4 606.6L96.9 600.0L97.9 557.2L98.7 557.7L99.5 556.7L100.3 557.7L101.1 558.4L101.9 561.2L102.7 560.7L103.5 561.8L104.3 561.9L105.1 560.7L105.9 558.9L106.7 559.6L107.5 557.8L108.3 558.1L109.1 556.3L109.9 556.8L110.7 557.9L111.5 558.0L112.3 556.1L113.1 556.1L113.9 557.0L114.8 557.5L115.6 557.1L116.4 557.2L117.2 556.3L118.0 557.4L118.8 557.8L119.6 556.7L120.4 556.0L121.2 556.5L122.0 557.5L122.8 555.8L123.6 556.9L124.4 556.3L125.2 556.9L126.0 556.8L126.8 557.0L127.6 558.1L128.4 557.3L129.2 557.9L130.0 556.9L130.8 556.7L131.6 557.3L132.1 548.0L133.1 602.9L134.1 605.0L135.1 605.1L136.1 604.1L137.1 605.3L138.1 604.6L139.1 603.2L140.1 604.8L141.1 604.3L142.1 604.6L143.1 604.9L144.1 605.9L145.1 605.1L146.1 605.0L147.1 605.3L148.1 603.6L149.1 605.9L150.1 604.2L151.1 605.3L152.1 604.2L153.1 604.3L154.1 604.7L155.1 606.4L156.1 605.5L157.1 604.5L158.1 604.8L159.1 604.1L160.1 605.0L161.1 604.6L162.1 605.5L163.1 604.0L164.1 604.7L165.1 604.4L166.1 604.5L167.1 605.5L168.1 605.1L169.1 605.4L170.1 605.9L171.1 605.9L172.1 604.0L173.1 605.4L174.1 603.7L175.1 605.0L176.1 606.4L177.1 604.9L178.0 604.7L179.0 605.1L180.0 605.0L181.0 605.0L182.0 604.4L183.0 605.8L184.0 605.7L185.0 604.8L186.0 605.2L187.0 605.5L188.0 605.8L189.0 605.3L190.0 605.5L191.0 604.8L192.0 604.2L193.0 604.6L194.0 605.8L195.0 605.7L196.0 605.1L197.0 604.6L198.0 605.2L199.0 606.2L200.0 606.0L201.0 604.5L202.0 605.0L203.0 603.9L204.0 604.1L205.0 605.1L206.0 605.0L207.0 605.7L208.0 606.0L209.0 605.6L210.0 606.0L211.0 604.6L212.0 604.2L213.0 605.4L214.0 607.0L215.0 605.3L216.0 604.1L217.0 605.2L218.0 606.1L219.0 604.2L220.0 605.6L221.0 604.5L222.0 606.0L223.0 605.6L224.0 605.2L225.0 606.5L226.0 604.7L227.0 604.5L228.0 606.4L229.0 604.3L230.0 606.6L231.0 605.0L232.0 604.2L233.0 605.0L234.0 605.1L235.0 605.2L236.0 604.9L237.0 605.8L238.0 603.3L239.0 604.6L240.0 604.8L241.0 606.4L242.0 603.5L243.0 604.7L244.0 604.1L245.0 604.5L246.0 605.5L247.0 605.3L248.0 606.1L249.0 604.6L250.0 605.2L251.0 605.9L252.0 605.7L253.0 604.7L254.0 605.8L255.0 604.3L256.0 606.4L257.0 605.1L258.0 604.9L259.0 605.2L260.0 605.6L261.0 606.3L262.0 604.9L263.0 604.7L264.0 605.4L265.0 604.3L266.0 603.7L267.0 605.6L267.9 604.7L268.9 605.8L269.9 604.2L270.9 602.8L271.9 605.2L272.9 605.1L273.9 606.2L274.9 605.4L275.9 605.2L276.9 605.4L277.9 604.7L278.9 605.1L279.9 604.0L280.9 605.4L281.9 604.4L282.9 604.7L283.9 605.5L284.9 605.7L285.9 604.2L286.9 606.5L287.9 604.6L288.9 605.6L289.9 605.7L290.9 605.2L291.9 605.1L292.9 606.3L293.9 605.7L294.9 605.3L295.9 603.6L296.9 604.4L297.9 605.9L298.9 605.1L299.9 604.3L300.9 604.5L301.9 604.8L302.9 605.5L303.9 605.3L304.9 605.7L305.9 604.4L306.9 605.7L307.9 604.6L308.9 604.8L309.9 606.3L310.9 605.1L311.9 604.9" fill="none" stroke="#c45ad2" stroke-width="0.8" stroke-linejoin="round"/>
<path d="M62.8 608.2L63.8 608.0L64.8 609.1L65.8 608.9L66.8 608.5L67.7 608.2L68.7 608.6L69.7 607.9L70.7 608.2L71.7 608.1L72.7 607.9L73.7 608.7L74.7 608.7L75.6 608.4L76.6 606.6L77.6 608.6L78.6 607.9L79.6 607.2L80.6 607.4L81.6 608.0L82.6 608.0L83.6 607.7L84.5 607.3L85.5 607.2L86.5 607.6L87.5 607.0L88.5 606.5L89.5 606.6L90.5 606.8L91.5 607.1L92.4 608.1L93.4 606.0L94.4 607.0L95.4 606.6L96.4 606.8L96.9 612.0L97.9 571.5L98.7 571.5L99.5 571.0L100.3 571.5L101.1 572.2L101.9 574.3L102.7 576.0L103.5 574.8L104.3 574.4L105.1 573.0L105.9 571.6L106.7 571.3L107.5 570.1L108.3 569.4L109.1 569.1L109.9 570.5L110.7 569.6L111.5 569.6L112.3 570.3L113.1 569.1L113.9 570.9L114.8 570.1L115.6 569.2L116.4 569.1L117.2 570.2L118.0 568.6L118.8 569.0L119.6 569.4L120.4 569.5L121.2 569.3L122.0 569.5L122.8 569.0L123.6 569.1L124.4 570.0L125.2 569.5L126.0 568.7L126.8 570.2L127.6 567.6L128.4 569.0L129.2 569.4L130.0 569.5L130.8 568.9L131.6 568.5L132.1 566.0L133.1 606.3L134.1 605.7L135.1 606.2L136.1 603.8L137.1 606.2L138.1 605.3L139.1 606.6L140.1 606.5L141.1 606.4L142.1 605.6L143.1 606.2L144.1 605.6L145.1 606.1L146.1 605.8L147.1 605.2L148.1 607.4L149.1 606.4L150.1 604.4L151.1 606.6L152.1 604.8L153.1 605.7L154.1 605.5L155.1 605.5L156.1 606.1L157.1 605.6L158.1 604.8L159.1 605.9L160.1 606.2L161.1 607.2L162.1 605.6L163.1 605.0L164.1 605.6L165.1 606.4L166.1 605.2L167.1 605.4L168.1 606.3L169.1 605.9L170.1 606.1L171.1 605.4L172.1 605.3L173.1 605.6L174.1 605.8L175.1 605.6L176.1 606.2L177.1 606.3L178.0 606.3L179.0 606.3L180.0 605.2L181.0 605.1L182.0 606.5L183.0 605.9L184.0 606.0L185.0 605.0L186.0 605.7L187.0 605.4L188.0 605.2L189.0 605.4L190.0 604.8L191.0 606.0L192.0 606.8L193.0 605.4L194.0 606.0L195.0 605.1L196.0 606.4L197.0 607.3L198.0 605.0L199.0 605.7L200.0 607.0L201.0 606.2L202.0 606.0L203.0 604.4L204.0 605.8L205.0 606.6L206.0 607.0L207.0 606.4L208.0 605.5L209.0 605.4L210.0 604.5L211.0 605.1L212.0 606.7L213.0 605.8L214.0 604.9L215.0 606.9L216.0 604.6L217.0 606.8L218.0 605.7L219.0 606.1L220.0 606.4L221.0 606.1L222.0 606.8L223.0 605.9L224.0 605.6L225.0 605.4L226.0 604.8L227.0 605.4L228.0 606.6L229.0 606.5L230.0 606.9L231.0 607.9L232.0 606.4L233.0 606.3L234.0 604.9L235.0 605.7L236.0 607.5L237.0 606.3L238.0 605.8L239.0 606.1L240.0 604.5L241.0 605.3L242.0 604.9L243.0 604.3L244.0 606.5L245.0 606.6L246.0 605.8L247.0 606.2L248.0 605.1L249.0 606.2L250.0 606.5L251.0 607.0L252.0 607.1L253.0 606.3L254.0 605.8L255.0 605.3L256.0 605.4L257.0 606.4L258.0 606.3L259.0 605.9L260.0 607.1L261.0 606.4L262.0 605.9L263.0 605.7L264.0 606.0L265.0 605.2L266.0 605.2L267.0 606.2L267.9 605.5L268.9 605.7L269.9 606.8L270.9 605.7L271.9 606.9L272.9 605.9L273.9 607.0L274.9 606.2L275.9 604.6L276.9 606.8L277.9 605.7L278.9 604.4L279.9 606.0L280.9 606.0L281.9 604.9L282.9 605.4L283.9 606.3L284.9 607.0L285.9 606.7L286.9 606.8L287.9 606.7L288.9 604.0L289.9 605.3L290.9 606.0L291.9 603.9L292.9 606.5L293.9 606.6L294.9 605.3L295.9 605.6L296.9 605.2L297.9 605.9L298.9 605.9L299.9 605.9L300.9 605.1L301.9 606.2L302.9 605.6L303.9 606.6L304.9 606.1L305.9 604.8L306.9 604.8L307.9 605.9L308.9 605.5L309.9 606.2L310.9 606.5L311.9 605.9" fill="none" stroke="#f2bf6e" stroke-width="0.8" stroke-linejoin="round"/>
<path d="M62.8 607.4L63.8 607.6L64.8 608.5L65.8 607.6L66.8 608.7L67.7 608.0L68.7 608.3L69.7 607.5L70.7 607.9L71.7 606.2L72.7 607.7L73.7 608.1L74.7 607.2L75.6 607.2L76.6 607.6L77.6 607.6L78.6 607.1L79.6 607.8L80.6 606.5L81.6 608.0L82.6 606.5L83.6 606.8L84.5 607.9L85.5 606.6L86.5 606.2L87.5 607.1L88.5 606.5L89.5 606.4L90.5 606.5L91.5 606.5L92.4 606.3L93.4 606.2L94.4 607.6L95.4 606.3L96.4 607.2L96.9 600.0L97.9 585.0L98.7 586.3L99.5 585.1L100.3 585.6L101.1 586.4L101.9 585.5L102.7 584.5L103.5 585.5L104.3 585.7L105.1 586.2L105.9 585.1L106.7 585.6L107.5 585.8L108.3 584.6L109.1 585.7L109.9 585.2L110.7 586.0L111.5 585.6L112.3 585.6L113.1 584.0L113.9 585.6L114.8 585.4L115.6 585.0L116.4 585.3L117.2 584.7L118.0 585.7L118.8 586.0L119.6 586.0L120.4 585.2L121.2 586.7L122.0 586.1L122.8 584.8L123.6 585.4L124.4 584.3L125.2 585.4L126.0 585.9L126.8 586.3L127.6 585.1L128.4 584.1L129.2 585.2L130.0 586.3L130.8 585.4L131.6 586.2L132.1 583.0L133.1 605.4L134.1 605.9L135.1 605.2L136.1 604.3L137.1 605.1L138.1 606.7L139.1 604.4L140.1 603.4L141.1 606.3L142.1 605.1L143.1 604.3L144.1 604.3L145.1 603.6L146.1 605.3L147.1 604.9L148.1 604.3L149.1 604.5L150.1 604.4L151.1 605.6L152.1 604.6L153.1 605.8L154.1 604.1L155.1 604.3L156.1 604.4L157.1 604.4L158.1 604.7L159.1 605.5L160.1 605.7L161.1 604.0L162.1 605.7L163.1 604.8L164.1 606.0L165.1 604.6L166.1 604.1L167.1 605.4L168.1 605.2L169.1 604.4L170.1 604.8L171.1 604.9L172.1 605.0L173.1 603.5L174.1 603.9L175.1 604.8L176.1 605.0L177.1 604.4L178.0 603.4L179.0 605.8L180.0 604.5L181.0 604.0L182.0 606.0L183.0 605.6L184.0 605.5L185.0 605.4L186.0 605.2L187.0 604.0L188.0 604.8L189.0 605.0L190.0 605.2L191.0 605.1L192.0 604.0L193.0 604.3L194.0 604.5L195.0 604.6L196.0 604.1L197.0 603.4L198.0 603.9L199.0 605.0L200.0 604.8L201.0 605.2L202.0 603.4L203.0 604.5L204.0 605.4L205.0 603.3L206.0 604.0L207.0 603.5L208.0 605.7L209.0 604.8L210.0 604.3L211.0 604.9L212.0 604.7L213.0 605.4L214.0 605.6L215.0 605.5L216.0 605.0L217.0 605.3L218.0 605.4L219.0 605.6L220.0 603.4L221.0 605.0L222.0 604.8L223.0 604.9L224.0 604.6L225.0 604.7L226.0 605.1L227.0 604.9L228.0 604.9L229.0 604.0L230.0 603.8L231.0 604.2L232.0 603.4L233.0 604.4L234.0 604.1L235.0 603.4L236.0 603.3L237.0 604.4L238.0 604.3L239.0 606.4L240.0 605.4L241.0 604.2L242.0 604.4L243.0 604.0L244.0 604.2L245.0 604.5L246.0 604.7L247.0 604.3L248.0 605.4L249.0 605.3L250.0 606.2L251.0 603.8L252.0 605.3L253.0 604.5L254.0 603.6L255.0 604.5L256.0 603.5L257.0 604.7L258.0 606.8L259.0 605.7L260.0 606.1L261.0 605.7L262.0 603.6L263.0 605.1L264.0 604.9L265.0 605.1L266.0 604.0L267.0 603.3L267.9 606.3L268.9 605.7L269.9 605.0L270.9 604.4L271.9 604.9L272.9 603.8L273.9 605.5L274.9 604.9L275.9 604.7L276.9 604.4L277.9 604.7L278.9 604.9L279.9 604.5L280.9 605.5L281.9 604.9L282.9 604.7L283.9 604.1L284.9 605.7L285.9 605.7L286.9 605.3L287.9 603.4L288.9 604.5L289.9 605.5L290.9 604.8L291.9 605.7L292.9 604.4L293.9 605.4L294.9 605.2L295.9 602.9L296.9 604.5L297.9 604.6L298.9 604.3L299.9 604.1L300.9 606.0L301.9 604.7L302.9 605.4L303.9 603.8L304.9 603.2L305.9 604.4L306.9 605.1L307.9 604.2L308.9 605.2L309.9 605.4L310.9 604.4L311.9 604.7" fill="none" stroke="#4cc45a" stroke-width="0.8" stroke-linejoin="round"/>
<path d="M62.8 607.9L63.8 608.8L64.8 609.2L65.8 608.4L66.8 607.8L67.7 607.7L68.7 607.9L69.7 608.4L70.7 607.5L71.7 608.7L72.7 607.1L73.7 607.8L74.7 608.4L75.6 608.6L76.6 607.4L77.6 608.0L78.6 608.9L79.6 608.1L80.6 606.2L81.6 607.5L82.6 608.6L83.6 606.6L84.5 607.7L85.5 606.0L86.5 608.0L87.5 606.6L88.5 607.5L89.5 607.5L90.5 605.4L91.5 606.1L92.4 607.0L93.4 605.9L94.4 606.7L95.4 606.2L96.4 607.4L96.9 612.0L97.9 587.6L98.7 587.3L99.5 588.4L100.3 588.8L101.1 587.8L101.9 588.0L102.7 588.2L103.5 587.5L104.3 586.9L105.1 588.1L105.9 587.5L106.7 586.7L107.5 588.3L108.3 588.0L109.1 587.7L109.9 587.1L110.7 587.4L111.5 588.0L112.3 587.9L113.1 586.9L113.9 586.9L114.8 587.7L115.6 587.6L116.4 588.0L117.2 586.6L118.0 588.0L118.8 588.6L119.6 588.0L120.4 587.4L121.2 587.9L122.0 586.3L122.8 586.9L123.6 588.6L124.4 586.0L125.2 586.3L126.0 587.7L126.8 586.6L127.6 586.7L128.4 586.3L129.2 588.2L130.0 586.6L130.8 586.8L131.6 585.7L132.1 586.0L133.1 604.7L134.1 604.2L135.1 604.5L136.1 605.4L137.1 604.3L138.1 603.3L139.1 603.4L140.1 604.2L141.1 605.2L142.1 603.3L143.1 604.0L144.1 604.1L145.1 604.7L146.1 603.5L147.1 604.4L148.1 604.8L149.1 604.1L150.1 604.1L151.1 604.6L152.1 604.6L153.1 605.1L154.1 603.4L155.1 605.1L156.1 604.0L157.1 603.3L158.1 603.8L159.1 603.2L160.1 604.0L161.1 604.9L162.1 602.5L163.1 603.3L164.1 604.7L165.1 603.9L166.1 604.8L167.1 603.2L168.1 604.1L169.1 602.2L170.1 603.5L171.1 604.7L172.1 605.1L173.1 605.4L174.1 604.1L175.1 603.5L176.1 603.9L177.1 602.7L178.0 605.2L179.0 605.1L180.0 603.5L181.0 605.5L182.0 603.2L183.0 604.6L184.0 603.6L185.0 602.9L186.0 604.5L187.0 603.3L188.0 605.1L189.0 603.5L190.0 604.2L191.0 603.8L192.0 604.3L193.0 603.7L194.0 604.8L195.0 604.6L196.0 604.2L197.0 604.1L198.0 605.6L199.0 603.6L200.0 603.8L201.0 604.7L202.0 604.2L203.0 602.9L204.0 604.1L205.0 603.9L206.0 603.4L207.0 604.3L208.0 603.3L209.0 604.0L210.0 603.3L211.0 605.3L212.0 604.0L213.0 604.5L214.0 604.4L215.0 604.7L216.0 604.1L217.0 604.7L218.0 604.3L219.0 602.3L220.0 604.4L221.0 603.2L222.0 604.9L223.0 604.3L224.0 603.9L225.0 602.3L226.0 602.6L227.0 603.3L228.0 603.9L229.0 603.1L230.0 605.7L231.0 604.5L232.0 604.1L233.0 603.4L234.0 603.9L235.0 604.0L236.0 603.8L237.0 604.1L238.0 604.8L239.0 602.8L240.0 604.3L241.0 605.0L242.0 603.1L243.0 604.0L244.0 603.9L245.0 603.3L246.0 604.9L247.0 603.9L248.0 605.0L249.0 604.5L250.0 604.0L251.0 604.4L252.0 603.9L253.0 602.9L254.0 605.2L255.0 604.4L256.0 605.0L257.0 602.8L258.0 605.0L259.0 604.8L260.0 604.1L261.0 602.6L262.0 604.2L263.0 603.7L264.0 604.0L265.0 604.2L266.0 603.5L267.0 604.1L267.9 604.2L268.9 605.3L269.9 604.1L270.9 605.9L271.9 603.3L272.9 604.1L273.9 605.1L274.9 603.0L275.9 604.6L276.9 604.5L277.9 603.7L278.9 604.0L279.9 605.3L280.9 603.8L281.9 604.4L282.9 604.5L283.9 605.1L284.9 602.6L285.9 603.1L286.9 603.2L287.9 604.0L288.9 604.6L289.9 604.8L290.9 604.0L291.9 605.3L292.9 604.1L293.9 604.7L294.9 603.6L295.9 604.8L296.9 603.6L297.9 605.0L298.9 604.8L299.9 605.6L300.9 603.8L301.9 603.3L302.9 604.8L303.9 604.4L304.9 603.8L305.9 603.2L306.9 604.8L307.9 602.7L308.9 603.8L309.9 605.0L310.9 604.0L311.9 604.5" fill="none" stroke="#40cfd6" stroke-width="0.8" stroke-linejoin="round"/>
<path d="M62.8 608.6L63.8 608.6L64.8 608.8L65.8 608.5L66.8 607.9L67.7 607.4L68.7 607.8L69.7 607.6L70.7 608.1L71.7 608.5L72.7 608.2L73.7 607.4L74.7 607.8L75.6 607.7L76.6 607.4L77.6 608.3L78.6 607.8L79.6 607.7L80.6 606.7L81.6 605.9L82.6 606.9L83.6 607.9L84.5 607.1L85.5 607.2L86.5 607.0L87.5 607.3L88.5 607.0L89.5 607.9L90.5 606.9L91.5 606.7L92.4 607.6L93.4 607.2L94.4 607.1L95.4 607.0L96.4 606.6L96.9 600.0L97.9 591.1L98.7 592.4L99.5 592.9L100.3 592.1L101.1 594.7L101.9 593.7L102.7 593.8L103.5 594.0L104.3 593.8L105.1 593.8L105.9 594.4L106.7 595.1L107.5 594.3L108.3 594.8L109.1 593.5L109.9 595.0L110.7 593.7L111.5 595.0L112.3 594.0L113.1 594.1L113.9 593.6L114.8 593.6L115.6 594.3L116.4 593.8L117.2 594.3L118.0 595.3L118.8 593.9L119.6 594.3L120.4 594.4L121.2 594.1L122.0 594.5L122.8 594.7L123.6 595.2L124.4 594.0L125.2 594.3L126.0 594.4L126.8 595.4L127.6 593.8L128.4 594.6L129.2 595.0L130.0 594.9L130.8 594.0L131.6 593.8L132.1 592.0L133.1 604.1L134.1 605.0L135.1 605.3L136.1 604.3L137.1 606.1L138.1 605.6L139.1 605.3L140.1 605.0L141.1 605.8L142.1 605.2L143.1 605.8L144.1 605.1L145.1 606.2L146.1 604.2L147.1 604.6L148.1 606.8L149.1 606.2L150.1 606.7L151.1 604.9L152.1 606.0L153.1 606.2L154.1 606.1L155.1 605.3L156.1 606.5L157.1 605.8L158.1 604.5L159.1 607.3L160.1 605.5L161.1 606.4L162.1 604.9L163.1 604.7L164.1 606.1L165.1 606.1L166.1 604.9L167.1 605.6L168.1 604.4L169.1 603.9L170.1 606.3L171.1 604.6L172.1 606.0L173.1 606.2L174.1 605.7L175.1 606.6L176.1 605.7L177.1 605.7L178.0 605.4L179.0 605.8L180.0 605.7L181.0 604.7L182.0 605.4L183.0 605.2L184.0 607.6L185.0 606.4L186.0 604.9L187.0 605.9L188.0 604.1L189.0 605.5L190.0 606.8L191.0 605.5L192.0 606.4L193.0 605.2L194.0 605.8L195.0 605.7L196.0 603.8L197.0 604.8L198.0 606.9L199.0 604.8L200.0 606.3L201.0 606.7L202.0 605.4L203.0 606.2L204.0 605.7L205.0 605.0L206.0 605.9L207.0 605.8L208.0 604.7L209.0 605.1L210.0 604.4L211.0 605.2L212.0 605.4L213.0 604.7L214.0 604.0L215.0 606.0L216.0 606.4L217.0 604.8L218.0 605.5L219.0 604.9L220.0 603.5L221.0 607.0L222.0 605.7L223.0 604.4L224.0 606.4L225.0 606.0L226.0 606.5L227.0 606.0L228.0 605.8L229.0 606.5L230.0 605.2L231.0 605.6L232.0 604.6L233.0 604.6L234.0 605.6L235.0 605.6L236.0 604.3L237.0 605.7L238.0 606.2L239.0 604.5L240.0 605.2L241.0 606.7L242.0 604.8L243.0 605.9L244.0 606.0L245.0 605.6L246.0 605.6L247.0 605.9L248.0 605.7L249.0 605.6L250.0 604.3L251.0 605.6L252.0 604.9L253.0 606.6L254.0 607.1L255.0 606.3L256.0 603.8L257.0 606.2L258.0 605.5L259.0 604.6L260.0 604.5L261.0 606.2L262.0 605.0L263.0 605.4L264.0 605.5L265.0 606.2L266.0 603.4L267.0 606.4L267.9 604.8L268.9 605.1L269.9 605.9L270.9 605.7L271.9 603.7L272.9 605.9L273.9 605.3L274.9 604.7L275.9 605.0L276.9 604.2L277.9 606.0L278.9 606.6L279.9 605.0L280.9 605.1L281.9 604.4L282.9 604.9L283.9 604.7L284.9 605.5L285.9 606.7L286.9 606.2L287.9 606.2L288.9 604.7L289.9 606.1L290.9 604.9L291.9 604.8L292.9 606.0L293.9 605.4L294.9 607.3L295.9 605.6L296.9 605.2L297.9 606.0L298.9 604.6L299.9 606.0L300.9 606.6L301.9 605.3L302.9 605.1L303.9 606.3L304.9 604.6L305.9 605.7L306.9 605.0L307.9 605.7L308.9 604.9L309.9 605.9L310.9 605.9L311.9 606.8" fill="none" stroke="#3f8a46" stroke-width="0.8" stroke-linejoin="round"/>
<path d="M62.8 608.1L63.8 608.5L64.8 607.2L65.8 607.7L66.8 608.2L67.7 607.3L68.7 607.9L69.7 607.5L70.7 608.2L71.7 608.2L72.7 607.5L73.7 608.1L74.7 607.4L75.6 607.7L76.6 607.9L77.6 607.9L78.6 607.8L79.6 608.4L80.6 607.1L81.6 607.3L82.6 606.3L83.6 607.7L84.5 606.6L85.5 606.8L86.5 606.8L87.5 607.3L88.5 606.9L89.5 606.8L90.5 607.0L91.5 606.7L92.4 606.8L93.4 606.2L94.4 606.4L95.4 606.0L96.4 607.1L96.9 612.0L97.9 598.4L98.7 598.2L99.5 597.9L100.3 597.2L101.1 598.0L101.9 596.5L102.7 595.8L103.5 596.6L104.3 598.5L105.1 597.6L105.9 598.4L106.7 596.8L107.5 598.0L108.3 598.3L109.1 597.9L109.9 597.3L110.7 597.9L111.5 596.7L112.3 598.3L113.1 596.2L113.9 596.4L114.8 596.9L115.6 596.3L116.4 598.1L117.2 597.3L118.0 596.2L118.8 597.9L119.6 597.6L120.4 596.4L121.2 597.7L122.0 597.4L122.8 596.2L123.6 596.1L124.4 596.6L125.2 597.2L126.0 597.4L126.8 597.4L127.6 595.9L128.4 595.0L129.2 595.0L130.0 597.2L130.8 596.8L131.6 596.9L132.1 595.0L133.1 605.7L134.1 605.8L135.1 606.1L136.1 606.1L137.1 605.8L138.1 605.0L139.1 604.7L140.1 605.8L141.1 605.6L142.1 606.8L143.1 604.9L144.1 604.2L145.1 604.2L146.1 605.7L147.1 607.0L148.1 605.5L149.1 605.2L150.1 606.0L151.1 606.9L152.1 606.5L153.1 606.4L154.1 606.4L155.1 605.5L156.1 605.8L157.1 606.0L158.1 607.1L159.1 604.1L160.1 605.3L161.1 606.0L162.1 605.5L163.1 605.6L164.1 605.5L165.1 605.0L166.1 606.1L167.1 606.7L168.1 605.4L169.1 606.0L170.1 606.6L171.1 605.2L172.1 605.7L173.1 604.7L174.1 606.9L175.1 607.0L176.1 605.6L177.1 607.2L178.0 606.4L179.0 604.3L180.0 606.1L181.0 605.9L182.0 606.1L183.0 606.2L184.0 605.4L185.0 606.6L186.0 606.0L187.0 607.1L188.0 605.6L189.0 603.8L190.0 607.2L191.0 606.1L192.0 604.3L193.0 605.3L194.0 605.1L195.0 606.4L196.0 605.2L197.0 606.6L198.0 605.3L199.0 606.4L200.0 605.3L201.0 604.8L202.0 606.2L203.0 605.5L204.0 606.1L205.0 604.5L206.0 604.9L207.0 605.5L208.0 607.2L209.0 606.0L210.0 604.5L211.0 603.4L212.0 607.1L213.0 606.0L214.0 604.8L215.0 606.5L216.0 606.4L217.0 607.3L218.0 605.9L219.0 605.3L220.0 606.3L221.0 604.7L222.0 605.4L223.0 605.0L224.0 605.3L225.0 604.8L226.0 604.6L227.0 604.9L228.0 606.0L229.0 605.7L230.0 605.7L231.0 606.1L232.0 606.3L233.0 606.1L234.0 607.3L235.0 605.9L236.0 606.0L237.0 605.4L238.0 606.5L239.0 606.8L240.0 603.5L241.0 606.3L242.0 604.9L243.0 606.0L244.0 605.8L245.0 604.8L246.0 604.7L247.0 605.5L248.0 607.7L249.0 604.8L250.0 605.4L251.0 605.5L252.0 605.5L253.0 606.6L254.0 607.3L255.0 605.7L256.0 606.0L257.0 605.5L258.0 606.9L259.0 605.7L260.0 606.2L261.0 605.6L262.0 606.6L263.0 605.7L264.0 605.1L265.0 607.2L266.0 604.3L267.0 605.8L267.9 605.5L268.9 605.0L269.9 607.3L270.9 606.0L271.9 605.4L272.9 605.1L273.9 606.0L274.9 605.7L275.9 605.5L276.9 605.2L277.9 606.9L278.9 605.9L279.9 605.6L280.9 604.8L281.9 605.1L282.9 606.3L283.9 605.2L284.9 606.2L285.9 605.6L286.9 606.0L287.9 606.0L288.9 605.4L289.9 605.5L290.9 605.7L291.9 606.2L292.9 607.5L293.9 606.4L294.9 604.7L295.9 607.4L296.9 605.6L297.9 605.2L298.9 605.8L299.9 605.7L300.9 605.9L301.9 605.7L302.9 605.7L303.9 606.7L304.9 607.0L305.9 605.8L306.9 606.9L307.9 606.4L308.9 606.6L309.9 605.9L310.9 605.9L311.9 606.3" fill="none" stroke="#f04cf0" stroke-width="0.8" stroke-linejoin="round"/>
<path d="M62.8 607.8L63.8 608.3L64.8 607.6L65.8 608.7L66.8 608.2L67.7 608.4L68.7 607.8L69.7 607.5L70.7 608.4L71.7 607.6L72.7 607.7L73.7 607.8L74.7 608.0L75.6 607.7L76.6 607.0L77.6 607.0L78.6 608.1L79.6 607.3L80.6 607.3L81.6 606.9L82.6 607.8L83.6 607.5L84.5 606.9L85.5 606.2L86.5 608.1L87.5 606.8L88.5 606.4L89.5 606.7L90.5 606.3L91.5 606.9L92.4 606.5L93.4 606.1L94.4 607.1L95.4 606.2L96.4 605.6L96.9 600.0L97.9 605.5L98.7 604.0L99.5 602.8L100.3 601.7L101.1 601.7L101.9 601.2L102.7 600.8L103.5 600.3L104.3 601.2L105.1 600.7L105.9 599.8L106.7 599.7L107.5 598.8L108.3 597.8L109.1 599.0L109.9 599.4L110.7 597.8L111.5 597.7L112.3 597.6L113.1 597.0L113.9 598.2L114.8 597.0L115.6 598.6L116.4 598.8L117.2 597.6L118.0 597.4L118.8 596.8L119.6 598.0L120.4 597.4L121.2 596.3L122.0 596.6L122.8 597.6L123.6 596.9L124.4 597.5L125.2 597.3L126.0 598.2L126.8 597.1L127.6 597.9L128.4 597.9L129.2 598.0L130.0 596.8L130.8 597.3L131.6 598.8L132.1 596.0L133.1 598.1L134.1 598.8L135.1 600.2L136.1 600.0L137.1 600.9L138.1 601.7L139.1 602.3L140.1 603.6L141.1 602.4L142.1 603.3L143.1 603.9L144.1 603.7L145.1 604.6L146.1 605.9L147.1 603.5L148.1 603.8L149.1 604.1L150.1 604.2L151.1 604.3L152.1 605.0L153.1 606.1L154.1 606.6L155.1 604.8L156.1 603.3L157.1 606.0L158.1 604.9L159.1 604.6L160.1 605.7L161.1 604.9L162.1 604.8L163.1 604.3L164.1 605.7L165.1 605.6L166.1 604.3L167.1 604.6L168.1 605.9L169.1 604.4L170.1 604.7L171.1 604.4L172.1 604.8L173.1 605.6L174.1 605.0L175.1 605.7L176.1 605.4L177.1 603.5L178.0 605.0L179.0 605.0L180.0 603.7L181.0 605.6L182.0 605.0L183.0 604.6L184.0 605.4L185.0 605.7L186.0 605.5L187.0 604.6L188.0 605.0L189.0 606.8L190.0 604.0L191.0 605.1L192.0 605.0L193.0 606.1L194.0 605.5L195.0 605.2L196.0 604.8L197.0 605.9L198.0 605.1L199.0 604.9L200.0 605.1L201.0 605.5L202.0 605.0L203.0 605.2L204.0 605.6L205.0 604.5L206.0 604.8L207.0 605.1L208.0 605.5L209.0 605.4L210.0 604.6L211.0 604.2L212.0 604.7L213.0 604.6L214.0 605.7L215.0 605.5L216.0 605.0L217.0 604.2L218.0 604.0L219.0 605.1L220.0 605.5L221.0 605.3L222.0 604.8L223.0 605.4L224.0 603.5L225.0 605.9L226.0 606.1L227.0 605.1L228.0 605.2L229.0 604.8L230.0 605.7L231.0 604.3L232.0 604.6L233.0 605.3L234.0 603.9L235.0 605.4L236.0 605.3L237.0 605.0L238.0 604.6L239.0 606.3L240.0 604.6L241.0 605.1L242.0 605.6L243.0 605.0L244.0 605.8L245.0 605.0L246.0 605.2L247.0 605.0L248.0 605.5L249.0 604.5L250.0 605.7L251.0 605.8L252.0 604.2L253.0 603.9L254.0 604.0L255.0 604.4L256.0 605.5L257.0 605.0L258.0 606.4L259.0 606.2L260.0 603.9L261.0 604.7L262.0 604.8L263.0 606.2L264.0 605.6L265.0 605.7L266.0 604.4L267.0 606.5L267.9 604.2L268.9 605.0L269.9 604.3L270.9 604.3L271.9 605.2L272.9 604.3L273.9 605.5L274.9 605.4L275.9 605.0L276.9 605.5L277.9 605.8L278.9 605.8L279.9 604.1L280.9 605.5L281.9 605.7L282.9 604.7L283.9 604.7L284.9 605.9L285.9 605.5L286.9 605.1L287.9 606.1L288.9 605.7L289.9 606.3L290.9 604.7L291.9 605.7L292.9 603.5L293.9 604.5L294.9 606.3L295.9 604.3L296.9 604.9L297.9 604.7L298.9 605.4L299.9 605.9L300.9 606.2L301.9 604.9L302.9 605.3L303.9 605.7L304.9 605.9L305.9 604.8L306.9 606.0L307.9 603.9L308.9 605.2L309.9 604.0L310.9 604.7L311.9 604.4" fill="none" stroke="#3d3df5" stroke-width="0.8" stroke-linejoin="round"/>
<path d="M62.8 609.3L63.8 609.2L64.8 608.6L65.8 608.2L66.8 607.0L67.7 607.1L68.7 608.1L69.7 608.4L70.7 608.2L71.7 607.5L72.7 607.4L73.7 608.1L74.7 609.0L75.6 608.1L76.6 607.6L77.6 607.5L78.6 607.8L79.6 607.6L80.6 606.6L81.6 608.2L82.6 607.6L83.6 607.6L84.5 607.0L85.5 607.8L86.5 607.7L87.5 606.7L88.5 607.6L89.5 606.6L90.5 605.9L91.5 607.3L92.4 606.3L93.4 606.5L94.4 606.2L95.4 606.6L96.4 606.4L96.9 612.0L97.9 605.1L98.7 605.3L99.5 606.1L100.3 605.3L101.1 605.4L101.9 605.3L102.7 605.6L103.5 605.6L104.3 605.2L105.1 604.2L105.9 604.3L106.7 605.2L107.5 604.8L108.3 604.7L109.1 604.6L109.9 604.5L110.7 605.8L111.5 605.5L112.3 604.1L113.1 605.1L113.9 605.0L114.8 604.7L115.6 605.7L116.4 605.2L117.2 605.1L118.0 604.4L118.8 605.7L119.6 605.2L120.4 605.2L121.2 604.5L122.0 606.0L122.8 602.8L123.6 604.0L124.4 603.8L125.2 604.1L126.0 604.3L126.8 604.6L127.6 604.8L128.4 605.1L129.2 605.9L130.0 605.4L130.8 605.1L131.6 604.9L132.1 604.0L133.1 604.7L134.1 605.0L135.1 603.9L136.1 605.8L137.1 604.4L138.1 605.1L139.1 602.6L140.1 604.6L141.1 604.2L142.1 605.5L143.1 605.2L144.1 604.7L145.1 604.9L146.1 604.2L147.1 603.8L148.1 605.3L149.1 603.5L150.1 604.1L151.1 603.6L152.1 603.7L153.1 604.1L154.1 605.1L155.1 603.7L156.1 605.0L157.1 603.1L158.1 603.8L159.1 603.8L160.1 604.9L161.1 605.4L162.1 602.7L163.1 604.5L164.1 605.7L165.1 604.5L166.1 605.7L167.1 605.3L168.1 604.7L169.1 603.4L170.1 603.9L171.1 605.6L172.1 603.8L173.1 603.6L174.1 604.1L175.1 605.4L176.1 604.5L177.1 603.3L178.0 604.0L179.0 605.0L180.0 605.3L181.0 605.6L182.0 604.8L183.0 604.8L184.0 603.7L185.0 604.0L186.0 603.4L187.0 604.3L188.0 604.7L189.0 604.5L190.0 603.7L191.0 604.9L192.0 605.1L193.0 605.4L194.0 602.8L195.0 602.6L196.0 603.6L197.0 604.8L198.0 605.2L199.0 605.0L200.0 604.5L201.0 604.6L202.0 604.3L203.0 603.9L204.0 603.7L205.0 606.8L206.0 604.3L207.0 604.9L208.0 604.9L209.0 605.1L210.0 604.4L211.0 605.1L212.0 605.9L213.0 604.0L214.0 604.0L215.0 603.7L216.0 604.2L217.0 603.5L218.0 604.7L219.0 604.9L220.0 605.4L221.0 605.4L222.0 604.2L223.0 604.6L224.0 603.8L225.0 604.5L226.0 604.5L227.0 604.8L228.0 604.4L229.0 603.6L230.0 605.2L231.0 604.3L232.0 603.4L233.0 603.2L234.0 605.0L235.0 603.1L236.0 604.9L237.0 605.6L238.0 604.8L239.0 605.1L240.0 604.9L241.0 604.0L242.0 604.6L243.0 603.1L244.0 604.9L245.0 604.9L246.0 604.6L247.0 605.3L248.0 604.3L249.0 603.2L250.0 605.5L251.0 604.5L252.0 604.0L253.0 604.1L254.0 604.2L255.0 604.6L256.0 603.5L257.0 604.5L258.0 604.2L259.0 604.9L260.0 604.2L261.0 604.9L262.0 603.8L263.0 604.7L264.0 604.2L265.0 605.2L266.0 604.7L267.0 605.2L267.9 604.1L268.9 604.0L269.9 604.4L270.9 603.7L271.9 604.2L272.9 605.4L273.9 603.6L274.9 604.0L275.9 604.5L276.9 605.7L277.9 606.0L278.9 604.0L279.9 604.1L280.9 604.6L281.9 604.0L282.9 603.0L283.9 604.9L284.9 604.7L285.9 604.7L286.9 604.9L287.9 604.6L288.9 604.0L289.9 604.9L290.9 604.4L291.9 604.6L292.9 603.6L293.9 604.5L294.9 604.4L295.9 603.8L296.9 603.9L297.9 604.1L298.9 604.5L299.9 604.0L300.9 603.6L301.9 604.5L302.9 603.5L303.9 604.7L304.9 603.8L305.9 604.3L306.9 605.3L307.9 602.8L308.9 603.5L309.9 604.1L310.9 604.3L311.9 603.8" fill="none" stroke="#f04848" stroke-width="0.8" stroke-linejoin="round"/>
<path d="M62.8 607.8L63.8 607.9L64.8 607.7L65.8 608.2L66.8 607.7L67.7 608.0L68.7 608.0L69.7 608.3L70.7 607.6L71.7 607.6L72.7 608.0L73.7 606.6L74.7 607.7L75.6 607.2L76.6 608.1L77.6 607.4L78.6 607.0L79.6 608.0L80.6 607.1L81.6 606.9L82.6 607.6L83.6 606.2L84.5 607.1L85.5 607.5L86.5 606.4L87.5 607.6L88.5 606.9L89.5 606.7L90.5 606.0L91.5 607.6L92.4 607.5L93.4 606.6L94.4 606.9L95.4 605.6L96.4 606.7L96.9 600.0L97.9 607.1L98.7 606.3L99.5 606.4L100.3 606.7L101.1 606.2L101.9 605.6L102.7 607.3L103.5 607.4L104.3 607.2L105.1 607.3L105.9 607.5L106.7 606.6L107.5 604.7L108.3 606.8L109.1 606.4L109.9 606.0L110.7 607.1L111.5 606.1L112.3 606.0L113.1 608.4L113.9 606.5L114.8 606.9L115.6 607.2L116.4 607.2L117.2 606.7L118.0 607.1L118.8 606.7L119.6 606.5L120.4 606.6L121.2 607.2L122.0 607.3L122.8 607.1L123.6 605.8L124.4 606.6L125.2 607.1L126.0 606.5L126.8 607.1L127.6 606.9L128.4 607.6L129.2 605.2L130.0 606.9L130.8 607.5L131.6 607.3L132.1 606.0L133.1 605.4L134.1 605.6L135.1 605.5L136.1 606.1L137.1 606.3L138.1 605.3L139.1 606.6L140.1 606.1L141.1 604.2L142.1 605.5L143.1 605.7L144.1 605.3L145.1 605.8L146.1 605.7L147.1 605.7L148.1 605.6L149.1 606.0L150.1 605.3L151.1 606.2L152.1 604.5L153.1 605.8L154.1 605.4L155.1 605.5L156.1 606.0L157.1 605.3L158.1 603.4L159.1 604.7L160.1 605.6L161.1 605.6L162.1 605.4L163.1 605.3L164.1 606.3L165.1 605.8L166.1 605.0L167.1 605.1L168.1 606.5L169.1 605.8L170.1 606.0L171.1 605.8L172.1 605.9L173.1 605.4L174.1 605.0L175.1 605.1L176.1 605.1L177.1 607.1L178.0 606.2L179.0 605.8L180.0 605.7L181.0 604.6L182.0 606.3L183.0 604.5L184.0 606.5L185.0 605.4L186.0 604.7L187.0 606.9L188.0 605.0L189.0 605.6L190.0 605.7L191.0 604.7L192.0 606.1L193.0 604.8L194.0 605.6L195.0 604.9L196.0 606.9L197.0 605.8L198.0 606.8L199.0 605.4L200.0 605.9L201.0 606.2L202.0 605.8L203.0 605.6L204.0 606.6L205.0 606.0L206.0 605.8L207.0 606.4L208.0 603.8L209.0 605.0L210.0 606.1L211.0 605.5L212.0 605.6L213.0 604.7L214.0 605.5L215.0 606.8L216.0 605.4L217.0 605.0L218.0 605.6L219.0 606.5L220.0 605.3L221.0 604.6L222.0 605.9L223.0 605.5L224.0 605.9L225.0 604.5L226.0 605.0L227.0 605.5L228.0 606.0L229.0 607.1L230.0 606.8L231.0 606.6L232.0 606.5L233.0 606.5L234.0 606.2L235.0 606.2L236.0 605.5L237.0 605.4L238.0 606.7L239.0 604.9L240.0 605.3L241.0 605.6L242.0 605.9L243.0 605.3L244.0 605.4L245.0 605.2L246.0 605.2L247.0 605.5L248.0 608.2L249.0 604.9L250.0 607.6L251.0 604.9L252.0 605.9L253.0 605.7L254.0 606.2L255.0 605.5L256.0 605.0L257.0 605.4L258.0 605.5L259.0 604.7L260.0 605.7L261.0 605.8L262.0 604.7L263.0 604.8L264.0 606.4L265.0 605.1L266.0 605.3L267.0 605.3L267.9 605.3L268.9 606.2L269.9 605.9L270.9 607.3L271.9 605.5L272.9 606.0L273.9 605.3L274.9 606.5L275.9 604.7L276.9 605.2L277.9 605.6L278.9 607.8L279.9 607.4L280.9 607.2L281.9 605.8L282.9 604.6L283.9 606.2L284.9 606.6L285.9 605.3L286.9 607.2L287.9 607.2L288.9 604.5L289.9 605.5L290.9 605.6L291.9 605.6L292.9 605.7L293.9 605.8L294.9 605.6L295.9 607.7L296.9 605.4L297.9 604.9L298.9 606.6L299.9 606.5L300.9 604.9L301.9 605.1L302.9 605.1L303.9 604.2L304.9 604.8L305.9 606.1L306.9 604.8L307.9 605.6L308.9 605.6L309.9 605.3L310.9 606.1L311.9 605.9" fill="none" stroke="#b8dc80" stroke-width="0.8" stroke-linejoin="round"/>
<path d="M62.8 609.0L63.8 608.4L64.8 607.9L65.8 609.1L66.8 608.3L67.7 608.3L68.7 608.2L69.7 607.8L70.7 607.4L71.7 608.5L72.7 607.4L73.7 607.6L74.7 608.2L75.6 608.2L76.6 607.6L77.6 608.6L78.6 607.4L79.6 608.7L80.6 608.2L81.6 607.5L82.6 607.2L83.6 607.9L84.5 606.3L85.5 607.6L86.5 607.5L87.5 607.9L88.5 607.8L89.5 607.1L90.5 607.2L91.5 606.3L92.4 607.1L93.4 606.4L94.4 606.0L95.4 607.6L96.4 607.6L96.9 506.0L97.5 620.0L98.9 599.9L99.9 600.2L100.9 601.2L101.9 599.3L102.9 600.8L103.9 599.8L104.8 600.3L105.8 600.0L106.8 600.8L107.8 600.6L108.8 599.9L109.8 600.6L110.8 600.5L111.8 600.7L112.8 599.5L113.8 600.4L114.8 600.0L115.7 600.1L116.7 599.2L117.7 601.1L118.7 600.0L119.7 600.2L120.7 599.3L121.7 599.9L122.7 600.1L123.7 600.1L124.7 599.5L125.7 600.2L126.6 599.8L127.6 600.4L128.6 599.4L129.6 600.6L130.6 599.5L131.6 599.4L132.6 610.0L133.8 561.9L134.8 571.9L135.8 579.0L136.8 583.6L137.8 587.6L138.8 590.1L139.8 593.2L140.8 593.2L141.8 594.7L142.8 595.6L143.8 597.2L144.8 596.7L145.8 598.4L146.8 597.4L147.8 597.7L148.8 599.1L149.8 599.4L150.8 599.2L151.8 600.3L152.8 599.5L153.8 599.7L154.8 600.0L155.8 601.0L156.8 600.3L157.8 601.6L158.8 601.4L159.8 601.4L160.8 601.4L161.8 601.8L162.8 601.4L163.8 600.0L164.8 601.5L165.8 601.4L166.8 601.0L167.8 600.7L168.8 601.9L169.8 601.3L170.8 602.0L171.8 601.6L172.8 602.3L173.8 601.7L174.8 602.4L175.8 602.4L176.8 602.2L177.8 602.4L178.8 602.7L179.8 601.2L180.8 601.7L181.8 602.8L182.8 602.9L183.8 603.0L184.8 603.1L185.8 602.5L186.8 603.8L187.8 603.5L188.8 603.3L189.8 603.1L190.8 602.9L191.8 603.0L192.8 603.5L193.8 603.4L194.8 603.9L195.8 603.6L196.8 603.3L197.8 604.2L198.8 602.8L199.8 602.9L200.8 603.8L201.8 603.4L202.8 602.9L203.8 602.9L204.8 603.8L205.8 604.5L206.8 604.6L207.8 603.8L208.8 603.7L209.8 603.4L210.8 604.9L211.8 603.9L212.8 603.7L213.8 604.4L214.8 604.6L215.8 604.0L216.8 604.7L217.8 603.4L218.8 604.3L219.8 604.4L220.8 604.3L221.8 604.5L222.8 604.2L223.9 604.5L224.9 603.0L225.9 603.8L226.9 604.7L227.9 603.6L228.9 603.7L229.9 605.3L230.9 604.3L231.9 604.4L232.9 604.5L233.9 605.2L234.9 604.1L235.9 603.8L236.9 604.5L237.9 605.1L238.9 603.4L239.9 604.3L240.9 604.1L241.9 604.4L242.9 604.7L243.9 604.5L244.9 603.5L245.9 604.3L246.9 604.3L247.9 604.4L248.9 605.0L249.9 604.2L250.9 604.1L251.9 604.3L252.9 604.4L253.9 604.8L254.9 603.5L255.9 603.7L256.9 604.4L257.9 605.0L258.9 604.4L259.9 604.6L260.9 605.4L261.9 604.5L262.9 604.6L263.9 604.5L264.9 605.0L265.9 604.8L266.9 604.4L267.9 604.9L268.9 604.7L269.9 604.2L270.9 604.9L271.9 605.6L272.9 603.9L273.9 603.9L274.9 604.5L275.9 604.4L276.9 604.7L277.9 604.5L278.9 604.6L279.9 605.1L280.9 605.2L281.9 603.4L282.9 604.8L283.9 604.6L284.9 604.8L285.9 604.6L286.9 604.7L287.9 604.4L288.9 604.2L289.9 604.5L290.9 605.0L291.9 604.6L292.9 604.5L293.9 605.2L294.9 605.0L295.9 604.1L296.9 604.1L297.9 604.5L298.9 604.8L299.9 605.1L300.9 603.6L301.9 605.3L302.9 604.6L303.9 604.7L304.9 605.0L305.9 604.7L306.9 604.7L307.9 605.1L308.9 605.2L309.9 604.0L310.9 603.7L311.9 604.0" fill="none" stroke="#62b062" stroke-width="0.8" stroke-linejoin="round"/>
<path d="M97.4 540V622" stroke="#c45ad2" stroke-width="0.6"/>
<path d="M131.8 549V600" stroke="#c45ad2" stroke-width="0.5"/><path d="M132.6 595V618" stroke="#f04848" stroke-width="0.5"/>
<text x="448.2" y="512.8" font-size="10.5" fill="#111" textLength="172" lengthAdjust="spacingAndGlyphs">Abd-1-HRAS<tspan font-size="7.6" dy="-3.8">G12V</tspan><tspan dy="3.8">-GTPγS + scFv</tspan></text>
<text x="363.4" y="523.9" font-size="17.7" font-weight="bold">f</text>
<path d="M354.9 508.2V622.7H656.7M423.8 622.7V631.2M479.9 622.7V631.2M536 622.7V631.2M592.1 622.7V631.2" fill="none" stroke="#5a5a5a" stroke-width="1.2"/>
<text x="423.2" y="647.8" font-size="12.5" text-anchor="middle" fill="#111">0</text>
<text x="479.3" y="647.8" font-size="12.5" text-anchor="middle" fill="#111">50</text>
<text x="535.4" y="647.8" font-size="12.5" text-anchor="middle" fill="#111">100</text>
<text x="591.5" y="647.8" font-size="12.5" text-anchor="middle" fill="#111">150</text>
<text x="506.8" y="666.1" font-size="12.2" text-anchor="middle" fill="#111" textLength="47.5" lengthAdjust="spacingAndGlyphs">Time (s)</text>
<path d="M569.9 522.7L581.6 529.4M581.6 529.4L581.6 543M581.6 543L569.9 549.8M569.9 549.8L558.2 543M558.2 543L558.2 529.4M558.2 529.4L569.9 522.7M570.5 525.7L578.7 530.4M578.7 542L570.5 546.7M560.5 540.9L560.5 531.5M581.6 529.4L593.4 522.7M593.4 522.7L605.1 529.4M605.1 529.4L605.1 543M605.1 543L596.9 547.7M589.8 547.7L581.6 543M594 525.7L602.2 530.4M602.5 541.8L595.9 545.7M605.1 543L613.3 547.7M620.4 547.7L628.6 543M627.6 543L627.6 533.5M629.5 543L629.5 533.5M628.6 543L640.3 549.8M640.3 549.8L648.8 545.5M655.3 546.6L661.9 553.3M661.9 553.3L655.7 565.4M655.7 565.4L642.3 563.1M642.3 563.1L640.3 549.8M642.9 551.8L644.2 560.4M654.8 562.1L658.8 554.4" stroke="#3a3a3a" stroke-width="0.8" fill="none" stroke-linecap="round"/>
<text x="593.4" y="552.8" font-size="8.4" fill="#3a3a3a" text-anchor="middle">N</text>
<text x="616.8" y="552.8" font-size="8.4" fill="#3a3a3a" text-anchor="middle">N</text>
<text x="616.8" y="559.5" font-size="8.4" fill="#3a3a3a" text-anchor="middle">H</text>
<text x="628.6" y="532.4" font-size="8.4" fill="#3a3a3a" text-anchor="middle">O</text>
<text x="652.4" y="546.7" font-size="8.4" fill="#3a3a3a" text-anchor="middle">O</text>
<path d="M360.5 576.6L361.5 574.8L362.5 575.4L363.5 575.3L364.5 575.7L365.5 574.4L366.5 575.0L367.5 574.7L368.5 574.6L369.5 574.7L370.5 574.9L371.4 575.0L372.4 574.7L373.4 575.5L374.4 574.9L375.4 573.3L376.4 575.9L377.4 575.0L378.4 574.8L379.4 575.4L380.4 575.3L381.4 575.2L382.4 574.7L383.4 575.3L384.4 574.3L385.4 576.1L386.4 574.4L387.4 575.1L388.4 575.2L389.4 575.3L390.4 575.1L391.4 575.5L392.3 573.0L393.3 575.1L394.3 575.0L395.3 574.9L396.3 576.0L397.3 574.5L398.3 575.1L399.3 573.9L400.3 575.3L401.3 574.1L402.3 574.2L403.3 576.5L404.3 575.5L405.3 575.1L406.3 575.2L407.3 574.2L408.3 574.5L409.3 575.4L410.3 573.8L411.3 575.3L412.3 574.1L413.2 575.2L414.2 574.4L415.2 576.2L416.2 575.7L417.2 574.8L418.2 574.0L419.2 574.6L420.2 575.1L421.2 574.5L422.2 575.3L423.2 575.7L424.2 529.0L424.3 601.0L426.2 596.3L427.2 592.0L428.2 589.7L429.2 587.5L430.2 586.7L431.2 585.4L432.2 585.6L433.2 584.5L434.2 584.0L435.2 584.2L436.2 583.9L437.2 583.7L438.2 583.9L439.2 584.2L440.2 583.1L441.2 583.9L442.2 583.8L443.2 583.8L444.2 584.2L445.2 583.4L446.2 584.1L447.2 583.8L448.2 583.9L449.2 583.8L450.2 583.7L451.2 583.7L452.2 584.0L453.2 584.6L454.2 584.2L455.2 584.2L456.2 584.1L457.2 583.7L458.3 584.1L459.3 584.6L460.3 583.4L461.3 584.2L462.3 584.2L463.3 584.0L464.3 584.1L465.3 584.4L466.3 584.7L467.3 584.3L468.3 584.5L469.3 584.0L470.3 584.2L471.3 583.9L472.3 584.0L473.3 583.7L474.3 584.1L475.3 584.4L476.3 583.8L477.3 584.0L478.3 584.1L479.3 583.9L480.3 584.2L481.3 584.0L482.3 583.5L483.3 583.5L484.3 584.1L485.3 584.1L486.3 584.3L487.3 584.0L488.3 584.0L489.3 583.3L490.5 621.0L490.7 554.0L491.3 556.4L492.3 557.7L493.3 560.2L494.3 560.7L495.3 562.1L496.3 563.4L497.3 564.0L498.3 564.6L499.3 565.9L500.3 566.3L501.3 566.7L502.3 566.8L503.3 566.9L504.3 567.4L505.3 567.7L506.3 568.1L507.3 568.7L508.4 568.5L509.4 568.5L510.4 568.7L511.4 569.7L512.4 569.4L513.4 569.6L514.4 569.8L515.4 570.0L516.4 570.0L517.4 570.5L518.4 570.5L519.4 569.2L520.4 570.4L521.4 571.7L522.4 570.2L523.4 570.8L524.4 571.3L525.4 571.0L526.4 571.7L527.4 570.7L528.4 570.8L529.4 571.4L530.4 571.2L531.4 571.2L532.4 572.0L533.4 572.0L534.4 571.9L535.4 571.9L536.4 572.2L537.4 572.2L538.4 572.0L539.4 572.6L540.4 572.6L541.5 572.6L542.5 573.0L543.5 572.3L544.5 572.8L545.5 572.7L546.5 573.6L547.5 573.3L548.5 574.0L549.5 573.9L550.5 573.2L551.5 573.0L552.5 573.7L553.5 573.5L554.5 573.6L555.5 573.3L556.5 574.1L557.5 574.0L558.5 574.2L559.5 574.2L560.5 573.8L561.5 573.3L562.5 574.2L563.5 574.1L564.5 574.2L565.5 574.9L566.5 574.6L567.5 575.3L568.5 574.8L569.5 575.1L570.5 575.1L571.5 575.3L572.5 574.5L573.5 575.5L574.6 575.2L575.6 574.8L576.6 575.5L577.6 575.5L578.6 575.9L579.6 575.8L580.6 575.7L581.6 575.0L582.6 576.4L583.6 576.4L584.6 576.1L585.6 576.1L586.6 576.4L587.6 575.7L588.6 576.4L589.6 576.2L590.6 575.8L591.6 576.4L592.6 576.5L593.6 577.1L594.6 576.8L595.6 575.9L596.6 575.8L597.6 576.6L598.6 576.6L599.6 576.4L600.6 576.3L601.6 576.8L602.6 576.5L603.6 576.7L604.6 577.4L605.6 577.2L606.6 576.9L607.7 576.8L608.7 577.2L609.7 578.1L610.7 577.2L611.7 578.2L612.7 577.2L613.7 577.5L614.7 577.9L615.7 577.4L616.7 577.8L617.7 577.3L618.7 578.1L619.7 578.4L620.7 577.7L621.7 578.1L622.7 577.9L623.7 577.3" fill="none" stroke="#a86a40" stroke-width="0.6" stroke-linejoin="round"/>
<path d="M360.5 576.8L361.5 575.6L362.5 575.7L363.5 575.4L364.5 575.3L365.5 576.6L366.5 574.1L367.5 575.0L368.5 574.9L369.5 575.1L370.5 575.6L371.4 574.8L372.4 574.4L373.4 574.5L374.4 575.5L375.4 575.8L376.4 575.7L377.4 576.2L378.4 574.9L379.4 575.8L380.4 575.6L381.4 575.1L382.4 574.7L383.4 575.7L384.4 574.8L385.4 575.0L386.4 574.6L387.4 576.2L388.4 575.2L389.4 574.9L390.4 575.1L391.4 575.1L392.3 575.3L393.3 574.2L394.3 574.5L395.3 575.5L396.3 575.8L397.3 574.6L398.3 575.3L399.3 574.9L400.3 573.8L401.3 575.0L402.3 574.5L403.3 575.7L404.3 575.1L405.3 575.2L406.3 574.3L407.3 575.3L408.3 574.0L409.3 575.3L410.3 576.0L411.3 574.5L412.3 575.7L413.2 576.0L414.2 575.1L415.2 575.9L416.2 575.2L417.2 574.9L418.2 574.0L419.2 574.6L420.2 574.3L421.2 576.6L422.2 575.4L423.2 575.1L424.2 531.0L424.3 604.0L426.2 598.7L427.2 595.3L428.2 591.2L429.2 590.0L430.2 588.3L431.2 586.8L432.2 585.8L433.2 585.5L434.2 584.7L435.2 585.1L436.2 585.3L437.2 584.9L438.2 584.8L439.2 584.2L440.2 584.5L441.2 584.0L442.2 584.1L443.2 584.5L444.2 585.2L445.2 584.3L446.2 584.3L447.2 583.6L448.2 584.3L449.2 583.9L450.2 583.8L451.2 583.7L452.2 584.3L453.2 584.1L454.2 584.5L455.2 584.2L456.2 584.2L457.2 584.8L458.3 584.5L459.3 584.5L460.3 584.8L461.3 584.3L462.3 583.9L463.3 584.0L464.3 583.7L465.3 584.4L466.3 584.1L467.3 584.4L468.3 584.5L469.3 584.0L470.3 584.3L471.3 584.7L472.3 584.3L473.3 584.6L474.3 584.2L475.3 583.9L476.3 584.2L477.3 583.6L478.3 584.5L479.3 584.1L480.3 584.7L481.3 583.8L482.3 584.3L483.3 584.4L484.3 584.2L485.3 584.4L486.3 584.0L487.3 583.9L488.3 583.8L489.3 584.1L490.5 621.0L490.7 553.0L491.3 554.4L492.3 557.0L493.3 558.5L494.3 559.8L495.3 560.9L496.3 561.4L497.3 562.9L498.3 563.9L499.3 563.8L500.3 564.8L501.3 565.6L502.3 565.5L503.3 566.2L504.3 566.3L505.3 567.7L506.3 567.5L507.3 567.7L508.4 567.2L509.4 567.9L510.4 567.8L511.4 568.1L512.4 567.9L513.4 568.4L514.4 568.2L515.4 568.7L516.4 569.5L517.4 568.4L518.4 568.5L519.4 569.4L520.4 569.6L521.4 569.3L522.4 569.8L523.4 569.8L524.4 570.0L525.4 570.4L526.4 569.7L527.4 570.4L528.4 570.3L529.4 570.0L530.4 570.6L531.4 570.0L532.4 570.0L533.4 571.2L534.4 570.4L535.4 571.6L536.4 571.5L537.4 570.9L538.4 570.9L539.4 570.4L540.4 571.4L541.5 570.8L542.5 572.2L543.5 571.0L544.5 571.8L545.5 570.8L546.5 571.8L547.5 572.6L548.5 572.0L549.5 571.9L550.5 572.1L551.5 572.5L552.5 572.8L553.5 572.5L554.5 571.8L555.5 572.9L556.5 573.2L557.5 573.8L558.5 573.0L559.5 573.1L560.5 572.9L561.5 573.5L562.5 574.0L563.5 573.0L564.5 573.5L565.5 573.1L566.5 573.3L567.5 573.6L568.5 574.0L569.5 573.5L570.5 573.8L571.5 574.5L572.5 574.3L573.5 574.4L574.6 574.4L575.6 574.2L576.6 574.5L577.6 574.6L578.6 574.5L579.6 575.0L580.6 574.6L581.6 575.1L582.6 574.8L583.6 575.1L584.6 574.6L585.6 574.7L586.6 574.6L587.6 575.6L588.6 575.4L589.6 575.3L590.6 575.6L591.6 575.0L592.6 575.5L593.6 575.3L594.6 574.8L595.6 575.5L596.6 575.3L597.6 576.4L598.6 575.5L599.6 575.6L600.6 576.4L601.6 576.0L602.6 575.5L603.6 576.2L604.6 575.9L605.6 577.0L606.6 575.9L607.7 576.1L608.7 575.3L609.7 576.3L610.7 577.4L611.7 576.6L612.7 576.3L613.7 576.9L614.7 576.7L615.7 576.9L616.7 578.0L617.7 577.8L618.7 577.7L619.7 577.8L620.7 576.8L621.7 576.4L622.7 577.6L623.7 577.5" fill="none" stroke="#e84848" stroke-width="0.6" stroke-linejoin="round"/>
<path d="M360.5 575.2L361.5 575.1L362.5 575.6L363.5 575.5L364.5 575.4L365.5 575.5L366.5 575.1L367.5 575.0L368.5 576.1L369.5 575.0L370.5 576.4L371.4 575.6L372.4 575.2L373.4 575.9L374.4 574.9L375.4 575.1L376.4 575.0L377.4 575.2L378.4 575.6L379.4 576.5L380.4 575.5L381.4 574.5L382.4 574.7L383.4 574.1L384.4 575.6L385.4 575.7L386.4 575.4L387.4 575.4L388.4 575.5L389.4 575.5L390.4 575.6L391.4 575.3L392.3 574.6L393.3 575.8L394.3 576.0L395.3 574.2L396.3 575.1L397.3 574.5L398.3 575.5L399.3 575.0L400.3 576.1L401.3 575.9L402.3 574.9L403.3 574.9L404.3 574.8L405.3 575.6L406.3 574.6L407.3 575.5L408.3 574.3L409.3 575.8L410.3 575.5L411.3 574.5L412.3 574.7L413.2 575.3L414.2 575.4L415.2 573.4L416.2 575.3L417.2 576.1L418.2 574.9L419.2 574.4L420.2 575.9L421.2 575.3L422.2 575.3L423.2 575.6L424.2 533.0L424.3 607.0L426.2 601.6L427.2 597.1L428.2 593.5L429.2 591.0L430.2 589.5L431.2 587.9L432.2 587.8L433.2 586.7L434.2 586.3L435.2 585.0L436.2 585.3L437.2 585.1L438.2 585.1L439.2 585.1L440.2 584.5L441.2 584.4L442.2 585.1L443.2 585.5L444.2 585.4L445.2 584.5L446.2 584.4L447.2 584.7L448.2 584.8L449.2 585.2L450.2 584.5L451.2 584.3L452.2 585.0L453.2 584.3L454.2 584.3L455.2 584.8L456.2 584.5L457.2 584.2L458.3 584.5L459.3 584.5L460.3 584.5L461.3 584.3L462.3 584.8L463.3 584.5L464.3 584.4L465.3 585.0L466.3 584.3L467.3 584.9L468.3 584.8L469.3 584.5L470.3 584.7L471.3 584.1L472.3 584.7L473.3 584.2L474.3 584.3L475.3 584.7L476.3 584.3L477.3 584.6L478.3 584.7L479.3 585.0L480.3 584.7L481.3 585.0L482.3 584.3L483.3 584.5L484.3 584.8L485.3 585.0L486.3 584.8L487.3 584.4L488.3 584.2L489.3 584.3L490.5 621.0L490.7 545.0L491.3 546.7L492.3 547.8L493.3 549.7L494.3 551.4L495.3 552.4L496.3 552.9L497.3 554.8L498.3 554.7L499.3 555.4L500.3 556.1L501.3 556.1L502.3 556.9L503.3 556.9L504.3 556.9L505.3 557.2L506.3 558.0L507.3 558.1L508.4 558.3L509.4 558.3L510.4 558.6L511.4 559.2L512.4 559.6L513.4 559.2L514.4 559.6L515.4 558.9L516.4 559.3L517.4 559.6L518.4 559.7L519.4 560.5L520.4 559.5L521.4 560.7L522.4 560.9L523.4 561.7L524.4 560.7L525.4 561.3L526.4 561.8L527.4 561.7L528.4 561.1L529.4 561.5L530.4 561.3L531.4 561.9L532.4 562.3L533.4 562.7L534.4 562.5L535.4 562.7L536.4 562.9L537.4 562.3L538.4 563.0L539.4 563.3L540.4 562.9L541.5 562.7L542.5 563.3L543.5 563.4L544.5 563.7L545.5 562.9L546.5 563.5L547.5 564.6L548.5 564.4L549.5 564.0L550.5 564.0L551.5 564.2L552.5 564.0L553.5 564.3L554.5 564.6L555.5 564.2L556.5 564.8L557.5 565.0L558.5 564.5L559.5 565.0L560.5 564.6L561.5 565.4L562.5 565.6L563.5 565.4L564.5 565.7L565.5 566.0L566.5 566.2L567.5 565.5L568.5 566.0L569.5 565.7L570.5 565.6L571.5 566.9L572.5 566.9L573.5 567.2L574.6 567.1L575.6 566.7L576.6 567.0L577.6 566.8L578.6 567.7L579.6 566.3L580.6 567.5L581.6 567.2L582.6 567.9L583.6 568.2L584.6 567.5L585.6 568.4L586.6 568.4L587.6 567.4L588.6 568.9L589.6 567.8L590.6 567.8L591.6 568.8L592.6 568.3L593.6 568.7L594.6 568.7L595.6 568.4L596.6 569.6L597.6 569.6L598.6 569.2L599.6 569.9L600.6 569.3L601.6 569.5L602.6 569.4L603.6 569.1L604.6 569.6L605.6 569.4L606.6 570.1L607.7 570.1L608.7 569.9L609.7 570.7L610.7 570.4L611.7 571.1L612.7 570.3L613.7 570.4L614.7 570.3L615.7 570.8L616.7 570.8L617.7 570.9L618.7 571.7L619.7 571.4L620.7 570.9L621.7 571.4L622.7 571.3L623.7 571.3" fill="none" stroke="#48b048" stroke-width="0.6" stroke-linejoin="round"/>
<path d="M360.5 575.1L361.5 575.2L362.5 575.6L363.5 575.8L364.5 575.2L365.5 574.7L366.5 575.2L367.5 575.1L368.5 575.0L369.5 574.5L370.5 575.1L371.4 574.1L372.4 576.0L373.4 575.6L374.4 575.7L375.4 574.6L376.4 575.3L377.4 576.0L378.4 575.1L379.4 574.6L380.4 575.1L381.4 573.8L382.4 575.8L383.4 575.5L384.4 574.4L385.4 575.6L386.4 575.9L387.4 575.6L388.4 575.6L389.4 576.1L390.4 575.3L391.4 576.0L392.3 575.1L393.3 574.8L394.3 575.0L395.3 574.6L396.3 575.4L397.3 574.8L398.3 575.4L399.3 575.4L400.3 576.2L401.3 576.3L402.3 574.9L403.3 575.1L404.3 575.1L405.3 574.8L406.3 576.3L407.3 575.9L408.3 575.1L409.3 574.4L410.3 574.8L411.3 575.2L412.3 576.1L413.2 574.4L414.2 576.1L415.2 574.3L416.2 575.4L417.2 574.5L418.2 574.9L419.2 573.8L420.2 575.6L421.2 575.2L422.2 574.6L423.2 573.9L424.2 535.0L424.3 610.0L426.2 604.9L427.2 600.0L428.2 595.8L429.2 593.7L430.2 591.4L431.2 589.4L432.2 588.3L433.2 586.9L434.2 587.3L435.2 586.9L436.2 586.1L437.2 585.4L438.2 585.2L439.2 585.4L440.2 585.0L441.2 585.3L442.2 584.9L443.2 585.4L444.2 585.5L445.2 584.8L446.2 584.7L447.2 584.0L448.2 585.0L449.2 585.1L450.2 584.6L451.2 585.4L452.2 584.7L453.2 584.5L454.2 585.2L455.2 585.1L456.2 584.2L457.2 584.7L458.3 584.5L459.3 584.9L460.3 585.0L461.3 584.8L462.3 585.0L463.3 585.3L464.3 584.8L465.3 584.5L466.3 584.6L467.3 585.2L468.3 585.5L469.3 584.9L470.3 585.1L471.3 584.7L472.3 584.7L473.3 585.3L474.3 584.8L475.3 585.0L476.3 585.0L477.3 585.4L478.3 585.0L479.3 584.9L480.3 584.8L481.3 584.8L482.3 585.3L483.3 585.7L484.3 584.4L485.3 585.3L486.3 584.6L487.3 584.7L488.3 584.8L489.3 584.8L490.5 621.0L490.7 541.0L491.3 542.0L492.3 543.9L493.3 546.5L494.3 546.6L495.3 548.0L496.3 549.0L497.3 550.2L498.3 550.3L499.3 551.4L500.3 552.0L501.3 553.2L502.3 553.1L503.3 553.2L504.3 553.6L505.3 554.6L506.3 554.1L507.3 554.1L508.4 554.4L509.4 554.7L510.4 555.4L511.4 554.9L512.4 555.3L513.4 555.7L514.4 555.5L515.4 556.3L516.4 556.1L517.4 556.6L518.4 556.8L519.4 557.3L520.4 557.6L521.4 556.7L522.4 556.7L523.4 556.9L524.4 557.7L525.4 557.9L526.4 557.8L527.4 558.0L528.4 558.7L529.4 558.6L530.4 558.5L531.4 558.8L532.4 558.1L533.4 559.3L534.4 559.8L535.4 559.2L536.4 559.1L537.4 559.9L538.4 559.4L539.4 559.8L540.4 560.1L541.5 560.0L542.5 560.4L543.5 559.5L544.5 559.5L545.5 560.9L546.5 560.9L547.5 560.9L548.5 560.8L549.5 561.1L550.5 561.4L551.5 560.9L552.5 561.6L553.5 561.4L554.5 562.6L555.5 562.1L556.5 562.2L557.5 562.6L558.5 562.7L559.5 562.8L560.5 562.3L561.5 562.8L562.5 563.2L563.5 563.1L564.5 563.2L565.5 563.0L566.5 563.5L567.5 564.1L568.5 563.2L569.5 563.2L570.5 563.4L571.5 563.4L572.5 564.7L573.5 565.0L574.6 564.6L575.6 564.6L576.6 565.2L577.6 565.2L578.6 564.0L579.6 565.0L580.6 566.1L581.6 565.1L582.6 565.1L583.6 565.3L584.6 566.3L585.6 565.6L586.6 566.1L587.6 566.5L588.6 566.2L589.6 566.3L590.6 566.0L591.6 566.0L592.6 567.1L593.6 566.3L594.6 567.3L595.6 567.5L596.6 567.7L597.6 567.2L598.6 567.0L599.6 567.5L600.6 568.1L601.6 568.0L602.6 568.1L603.6 567.9L604.6 568.5L605.6 567.4L606.6 567.9L607.7 569.1L608.7 568.8L609.7 569.0L610.7 568.1L611.7 568.6L612.7 568.9L613.7 569.1L614.7 569.8L615.7 569.2L616.7 569.6L617.7 569.4L618.7 569.7L619.7 570.0L620.7 570.2L621.7 570.5L622.7 569.7L623.7 570.6" fill="none" stroke="#e0cc50" stroke-width="0.6" stroke-linejoin="round"/>
<path d="M360.5 575.5L361.5 574.7L362.5 576.0L363.5 574.8L364.5 575.0L365.5 575.5L366.5 576.0L367.5 575.0L368.5 576.1L369.5 575.4L370.5 574.7L371.4 575.6L372.4 575.2L373.4 574.8L374.4 575.1L375.4 575.9L376.4 575.4L377.4 575.1L378.4 575.7L379.4 574.4L380.4 575.6L381.4 576.0L382.4 574.5L383.4 574.5L384.4 574.7L385.4 575.1L386.4 574.8L387.4 575.2L388.4 574.6L389.4 575.4L390.4 575.5L391.4 575.5L392.3 574.9L393.3 575.7L394.3 574.3L395.3 574.8L396.3 575.2L397.3 576.0L398.3 575.0L399.3 575.6L400.3 576.2L401.3 576.4L402.3 576.2L403.3 574.7L404.3 575.4L405.3 575.5L406.3 575.6L407.3 575.5L408.3 575.1L409.3 575.2L410.3 574.4L411.3 575.6L412.3 575.4L413.2 574.9L414.2 576.3L415.2 575.2L416.2 574.8L417.2 575.6L418.2 575.5L419.2 575.6L420.2 575.2L421.2 575.7L422.2 575.3L423.2 575.9L424.2 537.0L424.3 613.0L426.2 608.0L427.2 602.5L428.2 598.5L429.2 595.9L430.2 593.7L431.2 591.0L432.2 590.3L433.2 589.0L434.2 588.3L435.2 587.3L436.2 586.7L437.2 586.4L438.2 586.1L439.2 586.0L440.2 586.0L441.2 585.8L442.2 586.3L443.2 585.3L444.2 585.4L445.2 585.5L446.2 585.6L447.2 585.1L448.2 584.9L449.2 585.5L450.2 585.5L451.2 585.5L452.2 585.6L453.2 584.8L454.2 585.7L455.2 585.3L456.2 586.0L457.2 585.2L458.3 584.6L459.3 585.3L460.3 585.4L461.3 585.4L462.3 585.4L463.3 585.1L464.3 584.7L465.3 585.2L466.3 585.2L467.3 585.1L468.3 585.3L469.3 585.2L470.3 584.6L471.3 585.0L472.3 585.0L473.3 585.2L474.3 585.9L475.3 585.3L476.3 585.5L477.3 584.6L478.3 585.7L479.3 585.1L480.3 585.5L481.3 584.9L482.3 585.3L483.3 585.6L484.3 585.3L485.3 585.4L486.3 585.0L487.3 585.1L488.3 585.4L489.3 585.2L490.5 621.0L490.7 543.0L491.3 544.3L492.3 545.9L493.3 547.6L494.3 549.4L495.3 550.8L496.3 551.1L497.3 551.8L498.3 552.8L499.3 553.7L500.3 553.9L501.3 554.7L502.3 554.6L503.3 554.7L504.3 554.7L505.3 556.0L506.3 556.1L507.3 556.0L508.4 556.6L509.4 556.2L510.4 557.3L511.4 557.5L512.4 557.7L513.4 557.3L514.4 558.2L515.4 558.1L516.4 558.6L517.4 557.5L518.4 558.7L519.4 559.0L520.4 558.5L521.4 559.1L522.4 559.0L523.4 559.6L524.4 559.1L525.4 559.4L526.4 559.0L527.4 560.4L528.4 559.4L529.4 559.5L530.4 559.7L531.4 560.2L532.4 560.3L533.4 560.6L534.4 561.2L535.4 561.1L536.4 560.3L537.4 561.1L538.4 561.1L539.4 561.6L540.4 561.4L541.5 562.0L542.5 561.7L543.5 562.5L544.5 561.5L545.5 562.5L546.5 562.5L547.5 562.0L548.5 561.9L549.5 562.3L550.5 562.8L551.5 563.4L552.5 562.3L553.5 562.9L554.5 562.7L555.5 563.6L556.5 563.5L557.5 563.5L558.5 563.9L559.5 563.9L560.5 564.5L561.5 563.9L562.5 563.9L563.5 564.2L564.5 564.3L565.5 565.0L566.5 564.4L567.5 564.5L568.5 564.6L569.5 564.6L570.5 564.3L571.5 565.2L572.5 565.5L573.5 565.5L574.6 565.2L575.6 566.0L576.6 566.0L577.6 566.0L578.6 566.2L579.6 566.0L580.6 566.4L581.6 566.5L582.6 566.0L583.6 566.3L584.6 566.4L585.6 566.9L586.6 565.9L587.6 567.1L588.6 567.1L589.6 567.1L590.6 567.5L591.6 566.8L592.6 567.6L593.6 567.3L594.6 567.5L595.6 568.4L596.6 567.8L597.6 568.5L598.6 568.2L599.6 568.2L600.6 568.2L601.6 567.9L602.6 568.5L603.6 568.8L604.6 569.4L605.6 569.2L606.6 569.4L607.7 568.8L608.7 569.0L609.7 569.5L610.7 569.7L611.7 569.1L612.7 570.1L613.7 569.5L614.7 570.0L615.7 569.8L616.7 570.4L617.7 570.5L618.7 570.7L619.7 570.0L620.7 570.6L621.7 571.5L622.7 570.7L623.7 571.0" fill="none" stroke="#48c8d8" stroke-width="0.6" stroke-linejoin="round"/>
<path d="M360.5 575.3L361.5 574.9L362.5 576.2L363.5 576.1L364.5 574.8L365.5 575.5L366.5 576.3L367.5 575.5L368.5 575.3L369.5 575.8L370.5 575.7L371.4 574.5L372.4 574.7L373.4 576.1L374.4 574.9L375.4 575.2L376.4 574.8L377.4 576.3L378.4 574.5L379.4 575.3L380.4 575.0L381.4 575.0L382.4 574.5L383.4 574.7L384.4 575.1L385.4 575.4L386.4 574.1L387.4 575.3L388.4 574.7L389.4 575.2L390.4 574.9L391.4 575.1L392.3 575.1L393.3 575.5L394.3 575.2L395.3 574.2L396.3 573.8L397.3 574.4L398.3 575.4L399.3 574.2L400.3 574.6L401.3 576.3L402.3 575.0L403.3 575.1L404.3 575.4L405.3 575.6L406.3 574.9L407.3 575.3L408.3 574.0L409.3 575.4L410.3 575.5L411.3 574.2L412.3 575.7L413.2 576.3L414.2 573.7L415.2 575.1L416.2 576.0L417.2 575.6L418.2 574.8L419.2 574.8L420.2 575.0L421.2 575.6L422.2 574.7L423.2 574.3L424.2 539.0L424.3 616.0L427.2 583.3L428.2 581.8L429.2 581.7L430.2 580.0L431.2 579.8L432.2 579.2L433.2 578.4L434.2 578.4L435.2 577.7L436.2 578.3L437.2 577.7L438.2 577.5L439.2 577.2L440.2 578.2L441.2 577.8L442.2 577.2L443.2 577.4L444.2 577.6L445.2 577.5L446.2 577.3L447.2 576.5L448.2 577.8L449.2 577.1L450.2 577.6L451.2 576.6L452.2 577.3L453.2 577.4L454.2 577.3L455.2 576.4L456.2 576.7L457.2 577.3L458.2 576.5L459.3 576.9L460.3 576.6L461.3 576.1L462.3 576.9L463.3 576.9L464.3 576.7L465.3 576.6L466.3 576.8L467.3 575.7L468.3 576.3L469.3 576.9L470.3 576.4L471.3 576.6L472.3 576.1L473.3 576.3L474.3 575.7L475.3 576.2L476.3 576.1L477.3 575.9L478.3 575.9L479.3 575.9L480.3 575.9L481.3 576.1L482.3 576.1L483.3 575.0L484.3 575.8L485.3 576.1L486.3 575.2L487.3 575.5L488.3 576.4L489.3 575.3L490.5 621.0L490.7 548.0L491.3 549.7L492.3 551.3L493.3 552.2L494.3 554.0L495.3 554.5L496.3 556.0L497.3 557.2L498.3 557.8L499.3 558.2L500.3 558.4L501.3 559.3L502.3 559.9L503.3 560.1L504.3 560.5L505.3 560.5L506.3 560.8L507.3 560.5L508.4 561.7L509.4 560.8L510.4 561.1L511.4 561.3L512.4 561.5L513.4 562.5L514.4 562.0L515.4 562.2L516.4 562.3L517.4 562.6L518.4 563.2L519.4 563.4L520.4 562.8L521.4 563.8L522.4 563.5L523.4 563.5L524.4 564.0L525.4 563.6L526.4 563.8L527.4 563.9L528.4 563.5L529.4 563.6L530.4 563.8L531.4 563.9L532.4 564.2L533.4 564.3L534.4 565.1L535.4 564.7L536.4 565.2L537.4 565.1L538.4 564.7L539.4 565.1L540.4 564.7L541.5 564.7L542.5 565.6L543.5 565.6L544.5 565.7L545.5 566.2L546.5 565.4L547.5 565.9L548.5 565.2L549.5 565.8L550.5 566.5L551.5 565.8L552.5 566.0L553.5 566.5L554.5 567.3L555.5 567.1L556.5 566.8L557.5 567.2L558.5 567.1L559.5 567.0L560.5 567.0L561.5 567.5L562.5 567.4L563.5 567.8L564.5 567.4L565.5 568.0L566.5 567.6L567.5 568.4L568.5 568.4L569.5 567.8L570.5 569.1L571.5 568.4L572.5 568.1L573.5 567.9L574.6 568.5L575.6 568.6L576.6 568.4L577.6 568.3L578.6 568.7L579.6 568.5L580.6 568.8L581.6 568.7L582.6 569.4L583.6 568.3L584.6 570.2L585.6 569.3L586.6 569.5L587.6 569.1L588.6 570.1L589.6 569.7L590.6 569.7L591.6 569.6L592.6 570.2L593.6 570.3L594.6 569.9L595.6 570.9L596.6 570.0L597.6 570.9L598.6 570.6L599.6 570.0L600.6 570.5L601.6 570.9L602.6 570.6L603.6 570.9L604.6 570.9L605.6 571.2L606.6 570.9L607.7 571.9L608.7 571.4L609.7 571.9L610.7 571.3L611.7 571.6L612.7 571.2L613.7 571.7L614.7 572.3L615.7 571.9L616.7 571.6L617.7 571.7L618.7 572.3L619.7 572.0L620.7 573.0L621.7 572.4L622.7 572.3L623.7 572.7" fill="none" stroke="#e858e8" stroke-width="0.6" stroke-linejoin="round"/>
<path d="M360.5 576.2L361.5 574.3L362.5 574.8L363.5 574.8L364.5 574.0L365.5 575.1L366.5 575.1L367.5 575.7L368.5 575.6L369.5 575.6L370.5 575.6L371.4 574.9L372.4 576.9L373.4 576.1L374.4 575.0L375.4 574.7L376.4 575.5L377.4 575.8L378.4 575.5L379.4 575.7L380.4 575.8L381.4 575.4L382.4 574.6L383.4 574.9L384.4 574.1L385.4 575.7L386.4 574.9L387.4 575.3L388.4 576.5L389.4 574.7L390.4 575.2L391.4 574.7L392.3 574.1L393.3 575.8L394.3 575.1L395.3 575.2L396.3 575.7L397.3 575.1L398.3 575.6L399.3 575.9L400.3 574.8L401.3 575.5L402.3 575.3L403.3 575.8L404.3 576.6L405.3 574.6L406.3 576.1L407.3 575.3L408.3 575.6L409.3 575.4L410.3 575.1L411.3 574.5L412.3 575.2L413.2 574.7L414.2 576.1L415.2 575.5L416.2 574.9L417.2 575.0L418.2 575.9L419.2 574.4L420.2 575.3L421.2 575.3L422.2 574.7L423.2 575.8L424.2 541.0L424.3 619.0L426.2 613.6L427.2 608.7L428.2 604.0L429.2 600.2L430.2 597.6L431.2 595.7L432.2 593.2L433.2 591.8L434.2 590.8L435.2 590.1L436.2 589.4L437.2 588.2L438.2 587.6L439.2 587.6L440.2 587.2L441.2 587.2L442.2 586.3L443.2 586.5L444.2 586.2L445.2 587.0L446.2 585.6L447.2 586.0L448.2 586.0L449.2 585.6L450.2 586.0L451.2 585.9L452.2 585.6L453.2 585.9L454.2 586.5L455.2 586.1L456.2 586.5L457.2 586.5L458.3 586.1L459.3 585.9L460.3 585.3L461.3 585.3L462.3 586.1L463.3 586.0L464.3 586.1L465.3 585.7L466.3 585.9L467.3 585.6L468.3 586.3L469.3 586.0L470.3 585.3L471.3 585.8L472.3 586.4L473.3 585.6L474.3 585.6L475.3 585.7L476.3 585.8L477.3 586.0L478.3 585.9L479.3 586.0L480.3 585.8L481.3 586.2L482.3 586.5L483.3 585.7L484.3 586.1L485.3 586.1L486.3 586.1L487.3 586.0L488.3 586.2L489.3 585.9L490.5 621.0L490.7 551.0L491.3 552.2L492.3 554.1L493.3 556.3L494.3 557.1L495.3 557.7L496.3 559.1L497.3 559.9L498.3 561.1L499.3 561.7L500.3 561.4L501.3 562.7L502.3 562.7L503.3 563.5L504.3 563.0L505.3 563.7L506.3 564.0L507.3 564.6L508.4 563.7L509.4 564.3L510.4 564.6L511.4 564.6L512.4 564.5L513.4 564.9L514.4 565.2L515.4 566.1L516.4 565.5L517.4 566.0L518.4 565.5L519.4 565.9L520.4 566.0L521.4 566.1L522.4 565.6L523.4 566.3L524.4 567.4L525.4 566.5L526.4 566.2L527.4 567.7L528.4 567.1L529.4 567.1L530.4 566.5L531.4 567.1L532.4 567.2L533.4 567.3L534.4 567.1L535.4 567.8L536.4 567.2L537.4 568.2L538.4 567.9L539.4 567.8L540.4 567.5L541.5 568.3L542.5 568.4L543.5 567.8L544.5 569.1L545.5 568.4L546.5 568.0L547.5 569.2L548.5 568.4L549.5 568.5L550.5 568.4L551.5 568.7L552.5 569.0L553.5 568.8L554.5 569.4L555.5 569.0L556.5 569.4L557.5 568.7L558.5 569.4L559.5 569.7L560.5 570.0L561.5 569.7L562.5 570.0L563.5 570.2L564.5 569.8L565.5 570.4L566.5 570.4L567.5 570.1L568.5 569.9L569.5 571.0L570.5 571.0L571.5 570.7L572.5 571.1L573.5 571.4L574.6 570.8L575.6 571.2L576.6 571.2L577.6 571.3L578.6 571.1L579.6 571.1L580.6 571.6L581.6 571.5L582.6 572.1L583.6 571.7L584.6 571.6L585.6 571.2L586.6 571.7L587.6 571.9L588.6 571.8L589.6 571.7L590.6 570.9L591.6 571.7L592.6 572.2L593.6 572.9L594.6 571.9L595.6 572.6L596.6 571.9L597.6 572.9L598.6 572.5L599.6 572.6L600.6 572.8L601.6 572.5L602.6 572.6L603.6 573.3L604.6 572.4L605.6 572.7L606.6 573.4L607.7 573.4L608.7 572.9L609.7 573.0L610.7 573.4L611.7 574.1L612.7 574.1L613.7 573.4L614.7 573.4L615.7 573.6L616.7 573.0L617.7 573.9L618.7 573.7L619.7 574.3L620.7 573.7L621.7 574.2L622.7 573.9L623.7 574.0" fill="none" stroke="#9058d0" stroke-width="0.6" stroke-linejoin="round"/>
<path d="M360.5 576.2L361.5 574.7L362.5 575.1L363.5 575.4L364.5 576.3L365.5 575.4L366.5 574.9L367.5 575.3L368.5 576.2L369.5 575.5L370.5 575.6L371.4 576.5L372.4 574.7L373.4 575.9L374.4 574.7L375.4 575.9L376.4 575.5L377.4 575.6L378.4 575.4L379.4 575.4L380.4 573.5L381.4 574.5L382.4 576.4L383.4 575.3L384.4 575.1L385.4 575.5L386.4 575.7L387.4 575.3L388.4 575.8L389.4 575.6L390.4 574.8L391.4 575.3L392.3 575.8L393.3 574.7L394.3 575.2L395.3 574.8L396.3 575.0L397.3 574.3L398.3 575.3L399.3 574.8L400.3 575.8L401.3 575.0L402.3 576.4L403.3 575.9L404.3 574.8L405.3 576.4L406.3 575.3L407.3 575.4L408.3 574.4L409.3 575.1L410.3 574.8L411.3 574.4L412.3 574.5L413.2 576.0L414.2 574.9L415.2 575.2L416.2 574.7L417.2 574.9L418.2 574.9L419.2 575.1L420.2 575.2L421.2 575.7L422.2 575.1L423.2 575.1L424.2 543.0L424.3 622.0L426.2 616.4L427.2 611.3L428.2 606.7L429.2 602.8L430.2 599.2L431.2 597.3L432.2 594.6L433.2 594.2L434.2 592.3L435.2 591.7L436.2 590.3L437.2 589.9L438.2 589.6L439.2 588.8L440.2 587.8L441.2 587.3L442.2 587.3L443.2 587.4L444.2 586.7L445.2 586.3L446.2 586.6L447.2 586.7L448.2 586.0L449.2 586.5L450.2 586.8L451.2 586.1L452.2 586.5L453.2 586.4L454.2 586.5L455.2 586.5L456.2 586.0L457.2 586.5L458.3 587.0L459.3 586.5L460.3 585.8L461.3 586.2L462.3 587.0L463.3 586.2L464.3 586.4L465.3 585.9L466.3 585.8L467.3 586.3L468.3 586.4L469.3 586.1L470.3 586.4L471.3 586.2L472.3 585.6L473.3 586.2L474.3 586.5L475.3 587.1L476.3 585.8L477.3 586.4L478.3 586.4L479.3 586.4L480.3 586.3L481.3 586.8L482.3 586.7L483.3 586.1L484.3 586.0L485.3 586.3L486.3 585.8L487.3 586.3L488.3 586.6L489.3 586.1L490.5 621.0L490.7 549.0L491.3 550.2L492.3 552.0L493.3 553.9L494.3 555.4L495.3 555.9L496.3 557.5L497.3 557.6L498.3 558.7L499.3 559.3L500.3 559.3L501.3 560.0L502.3 560.1L503.3 561.3L504.3 561.1L505.3 560.9L506.3 562.0L507.3 561.8L508.4 562.9L509.4 562.3L510.4 562.8L511.4 562.3L512.4 562.8L513.4 563.0L514.4 563.6L515.4 563.9L516.4 563.5L517.4 563.6L518.4 563.4L519.4 563.6L520.4 564.0L521.4 564.6L522.4 565.0L523.4 564.3L524.4 564.3L525.4 564.3L526.4 565.1L527.4 565.5L528.4 565.3L529.4 565.8L530.4 565.3L531.4 565.2L532.4 565.6L533.4 565.1L534.4 565.6L535.4 565.6L536.4 565.2L537.4 566.0L538.4 566.3L539.4 566.7L540.4 566.3L541.5 566.9L542.5 566.2L543.5 567.1L544.5 566.4L545.5 566.8L546.5 566.4L547.5 567.7L548.5 567.0L549.5 567.7L550.5 567.3L551.5 567.5L552.5 567.8L553.5 567.1L554.5 567.9L555.5 567.6L556.5 567.5L557.5 568.4L558.5 568.0L559.5 568.7L560.5 568.3L561.5 568.2L562.5 568.2L563.5 568.5L564.5 568.4L565.5 569.1L566.5 568.5L567.5 569.4L568.5 568.8L569.5 569.0L570.5 568.9L571.5 570.1L572.5 568.5L573.5 569.7L574.6 569.9L575.6 570.0L576.6 570.3L577.6 570.3L578.6 569.1L579.6 569.9L580.6 569.6L581.6 570.0L582.6 570.0L583.6 570.6L584.6 570.6L585.6 570.4L586.6 570.1L587.6 570.7L588.6 570.6L589.6 570.5L590.6 571.1L591.6 571.4L592.6 570.6L593.6 571.5L594.6 570.6L595.6 570.9L596.6 570.6L597.6 571.4L598.6 572.0L599.6 571.0L600.6 571.3L601.6 571.2L602.6 571.7L603.6 572.2L604.6 571.2L605.6 572.2L606.6 572.7L607.7 571.9L608.7 572.1L609.7 572.4L610.7 571.5L611.7 572.0L612.7 572.6L613.7 572.5L614.7 572.8L615.7 572.2L616.7 572.6L617.7 572.4L618.7 572.4L619.7 573.2L620.7 573.6L621.7 572.7L622.7 573.3L623.7 573.4" fill="none" stroke="#5050f0" stroke-width="0.6" stroke-linejoin="round"/>
<text x="160.8" y="700.8" font-size="11" fill="#111" textLength="91.5" lengthAdjust="spacingAndGlyphs">Abd-1-HRASGDP</text>
<text x="59.8" y="714.5" font-size="19" font-weight="bold">g</text>
<path d="M47 713V829.5H349.1M39.4 810.4H47M39.4 793.3H47M39.4 776.2H47M39.4 759.1H47M39.4 742H47M39.4 724.9H47M102.3 829.5V838.5M132.5 829.5V838.5M162.7 829.5V838.5M192.9 829.5V838.5M223.1 829.5V838.5M253.3 829.5V838.5M283.5 829.5V838.5M313.7 829.5V838.5" fill="none" stroke="#5a5a5a" stroke-width="1.2"/>
<text x="33.5" y="763.5" font-size="12.8" text-anchor="end" fill="#111">20</text>
<text x="33.8" y="797.7" font-size="12.8" text-anchor="end" fill="#111">10</text>
<text x="101.3" y="854.7" font-size="12.5" text-anchor="middle" fill="#111">0</text>
<text x="161.7" y="854.7" font-size="12.5" text-anchor="middle" fill="#111">100</text>
<text x="222.1" y="854.7" font-size="12.5" text-anchor="middle" fill="#111">200</text>
<text x="282.5" y="854.7" font-size="12.5" text-anchor="middle" fill="#111">300</text>
<text x="10.9" y="777.6" font-size="12.5" text-anchor="middle" fill="#111" textLength="17.6" lengthAdjust="spacingAndGlyphs" transform="rotate(-90 10.9 777.6)">RU</text>
<text x="195.2" y="871.3" font-size="12.2" text-anchor="middle" fill="#111" textLength="47.5" lengthAdjust="spacingAndGlyphs">Time (s)</text>
<path d="M182.2 739.9L194 746.7M194 746.7L194 760.3M194 760.3L182.2 767.1M182.2 767.1L170.4 760.3M170.4 760.3L170.4 746.7M170.4 746.7L182.2 739.9M182.8 742.9L191.1 747.7M191.1 759.3L182.8 764.1M172.7 758.3L172.7 748.7M194 746.7L205.8 739.9M205.8 739.9L217.5 746.7M217.5 746.7L217.5 760.3M217.5 760.3L209.3 765.1M202.2 765.1L194 760.3M206.4 742.9L214.6 747.7M215 759.1L208.3 763M217.5 760.3L225.8 765.1M232.8 765.1L241.1 760.3M240.1 760.3L240.1 750.8M242 760.3L242 750.8M241.1 760.3L252.9 767.1M252.9 767.1L261.4 762.8M267.9 763.9L274.6 770.7M274.6 770.7L268.3 782.8M268.3 782.8L254.9 780.5M254.9 780.5L252.9 767.1M255.5 769.2L256.8 777.8M267.4 779.5L271.4 771.8" stroke="#3a3a3a" stroke-width="0.8" fill="none" stroke-linecap="round"/>
<text x="205.8" y="770.1" font-size="8.4" fill="#3a3a3a" text-anchor="middle">N</text>
<text x="229.3" y="770.1" font-size="8.4" fill="#3a3a3a" text-anchor="middle">N</text>
<text x="229.3" y="776.9" font-size="8.4" fill="#3a3a3a" text-anchor="middle">H</text>
<text x="241.1" y="749.7" font-size="8.4" fill="#3a3a3a" text-anchor="middle">O</text>
<text x="265" y="764" font-size="8.4" fill="#3a3a3a" text-anchor="middle">O</text>
<path d="M71.5 801.7L72.3 802.5L73.1 800.9L73.9 802.3L74.7 801.4L75.5 801.4L76.3 803.0L77.2 801.7L78.0 801.6L78.8 802.1L79.6 802.4L80.4 801.6L81.2 802.0L82.0 800.9L82.8 801.3L83.6 801.3L84.4 800.6L85.2 800.5L86.0 800.4L86.8 801.4L87.7 801.5L88.5 801.4L89.3 801.7L90.1 800.6L90.9 801.5L91.7 801.8L92.5 802.2L93.3 801.0L94.1 801.3L94.9 800.1L95.7 801.2L96.5 800.0L97.3 800.5L98.1 802.4L99.0 799.9L99.8 802.2L100.6 801.8L101.4 801.4L102.2 801.9L103.0 802.0L103.8 802.4L104.8 713.0L104.9 827.0L106.8 804.2L107.6 803.9L108.4 803.9L109.2 803.6L110.0 804.3L110.8 803.7L111.6 805.0L112.4 802.8L113.2 803.4L114.0 803.4L114.8 802.6L115.6 805.5L116.4 802.3L117.2 803.9L118.0 803.7L118.8 805.3L119.6 802.5L120.4 804.8L121.2 803.4L122.0 803.8L122.8 803.4L123.5 804.4L124.3 803.0L125.1 803.8L125.9 804.1L126.7 805.2L127.5 802.0L128.3 804.9L129.1 804.4L129.9 803.3L130.7 803.9L131.5 803.3L132.3 804.8L133.1 803.7L133.9 803.4L134.7 803.4L135.5 803.4L136.3 803.4L137.1 802.8L137.9 805.0L138.7 802.0L139.5 800.7L140.1 785.0L140.2 823.0L142.1 791.5L142.9 792.8L143.7 794.4L144.5 794.9L145.3 795.7L146.1 796.8L146.9 798.0L147.7 797.3L148.5 797.8L149.3 800.1L150.1 799.2L150.9 798.2L151.7 801.3L152.5 800.1L153.3 799.1L154.1 798.8L154.9 800.2L155.7 799.3L156.5 799.2L157.3 799.1L158.1 799.8L158.9 801.2L159.7 800.0L160.5 799.1L161.3 801.0L162.1 800.5L162.9 801.2L163.7 801.5L164.5 800.4L165.3 800.4L166.1 800.5L166.9 799.6L167.7 801.1L168.5 801.7L169.3 800.7L170.1 800.4L170.9 800.4L171.7 799.9L172.5 799.9L173.3 800.2L174.1 799.9L174.9 800.2L175.7 799.2L176.5 800.9L177.3 800.6L178.1 799.6L178.9 798.6L179.7 800.6L180.5 801.5L181.3 800.0L182.1 800.2L182.9 800.1L183.7 801.2L184.5 799.8L185.3 801.4L186.1 800.3L186.9 801.4L187.7 800.6L188.5 800.4L189.3 799.3L190.1 800.0L190.9 800.4L191.7 801.2L192.5 800.8L193.3 800.0L194.1 800.9L194.9 801.4L195.7 800.5L196.5 800.2L197.3 800.3L198.1 801.3L198.9 801.1L199.7 799.8L200.5 800.9L201.3 800.2L202.1 800.0L202.9 801.7L203.7 801.3L204.5 800.0L205.3 800.7L206.1 801.0L206.9 800.1L207.7 800.5L208.5 801.2L209.3 799.1L210.1 800.9L210.9 801.2L211.7 801.0L212.5 799.5L213.3 800.9L214.1 799.9L214.9 801.1L215.7 801.1L216.5 800.8L217.3 799.9L218.1 800.1L218.9 801.3L219.7 799.8L220.5 801.0L221.3 801.0L222.1 800.4L222.9 802.6L223.7 800.7L224.5 802.4L225.3 798.9L226.1 798.7L226.9 801.4L227.7 801.1L228.5 800.3L229.4 800.6L230.2 799.0L231.0 800.1L231.8 799.7L232.6 800.4L233.4 801.4L234.2 800.6L235.0 800.9L235.8 800.0L236.6 800.2L237.4 800.7L238.2 800.4L239.0 801.7L239.8 799.9L240.6 802.2L241.4 799.8L242.2 801.5L243.0 799.9L243.8 802.0L244.6 800.7L245.4 800.9L246.2 801.2L247.0 800.1L247.8 799.7L248.6 798.9L249.4 801.6L250.2 800.0L251.0 800.1L251.8 800.6L252.6 802.3L253.4 799.1L254.2 800.8L255.0 800.3L255.8 801.1L256.6 799.1L257.4 800.3L258.2 801.3L259.0 801.9L259.8 802.0L260.6 799.9L261.4 800.6L262.2 800.5L263.0 799.4L263.8 799.4L264.6 801.2L265.4 800.8L266.2 800.5L267.0 801.6L267.8 799.7L268.6 801.0L269.4 800.6L270.2 800.5L271.0 801.0L271.8 800.7L272.6 800.8L273.4 800.8L274.2 802.2L275.0 800.3L275.8 801.5L276.6 801.1L277.4 800.3L278.2 801.3L279.0 799.9L279.8 801.6L280.6 799.9L281.4 800.2L282.2 800.9L283.0 801.3L283.8 801.4L284.6 801.4L285.4 800.4L286.2 799.8L287.0 801.1L287.8 800.9L288.6 799.8L289.4 801.4L290.2 800.8L291.0 799.8L291.8 801.0L292.6 799.5L293.4 799.9L294.2 800.9L295.0 799.3L295.8 800.6L296.6 799.5L297.4 801.2L298.2 800.0L299.0 800.8L299.8 799.3L300.6 800.3L301.4 801.4L302.2 801.0L303.0 799.0L303.8 801.4L304.6 801.4L305.4 800.3L306.2 801.8L307.0 799.7L307.8 800.5L308.6 801.5L309.4 801.7L310.2 801.7L311.0 799.7L311.8 799.1L312.6 800.9L313.4 799.4L314.2 800.5L315.0 799.5L315.8 801.5" fill="none" stroke="#3a3ae8" stroke-width="0.5" stroke-linejoin="round"/>
<path d="M71.5 800.5L72.3 800.3L73.1 799.9L73.9 799.9L74.7 799.7L75.5 800.2L76.3 800.1L77.2 800.2L78.0 799.6L78.8 801.3L79.6 800.1L80.4 800.9L81.2 800.9L82.0 799.2L82.8 798.6L83.6 800.8L84.4 799.6L85.2 800.0L86.0 799.7L86.8 800.0L87.7 799.0L88.5 799.8L89.3 799.6L90.1 799.9L90.9 798.1L91.7 800.5L92.5 800.1L93.3 798.6L94.1 799.3L94.9 799.9L95.7 800.4L96.5 799.9L97.3 800.9L98.1 799.9L99.0 799.1L99.8 799.4L100.6 800.5L101.4 799.4L102.2 800.5L103.0 800.7L103.8 800.3L104.8 790.0L104.9 825.5L106.8 802.1L107.6 801.2L108.4 801.3L109.2 800.8L110.0 800.8L110.8 800.0L111.6 800.8L112.4 800.3L113.2 800.1L114.0 801.2L114.8 801.4L115.6 800.8L116.4 802.1L117.2 801.7L118.0 801.8L118.8 800.5L119.6 799.8L120.4 801.3L121.2 801.1L122.0 801.4L122.8 801.2L123.5 801.8L124.3 800.6L125.1 801.3L125.9 800.1L126.7 799.0L127.5 800.4L128.3 801.8L129.1 799.4L129.9 801.4L130.7 800.1L131.5 800.3L132.3 800.6L133.1 800.7L133.9 799.8L134.7 800.6L135.5 800.8L136.3 801.1L137.1 799.8L137.9 801.6L138.7 801.8L139.5 802.2L140.1 713.0L140.2 822.0L142.1 787.9L142.9 790.4L143.7 789.7L144.5 792.4L145.3 793.3L146.1 792.5L146.9 792.7L147.7 794.7L148.5 795.5L149.3 794.6L150.1 795.3L150.9 793.6L151.7 795.4L152.5 796.3L153.3 796.5L154.1 797.8L154.9 795.6L155.7 794.7L156.5 797.1L157.3 796.3L158.1 797.1L158.9 797.5L159.7 797.5L160.5 798.2L161.3 798.2L162.1 795.6L162.9 797.0L163.7 798.8L164.5 796.8L165.3 797.9L166.1 797.1L166.9 796.8L167.7 798.5L168.5 798.0L169.3 797.0L170.1 797.9L170.9 796.1L171.7 796.6L172.5 797.9L173.3 797.2L174.1 796.3L174.9 797.6L175.7 797.5L176.5 798.3L177.3 798.0L178.1 797.0L178.9 796.8L179.7 797.1L180.5 797.0L181.3 798.4L182.1 798.5L182.9 798.4L183.7 797.5L184.5 797.0L185.3 798.0L186.1 796.9L186.9 797.4L187.7 795.8L188.5 796.8L189.3 798.4L190.1 796.3L190.9 795.9L191.7 797.1L192.5 798.6L193.3 798.4L194.1 796.9L194.9 796.8L195.7 797.1L196.5 796.4L197.3 797.2L198.1 796.9L198.9 795.9L199.7 796.7L200.5 797.0L201.3 796.5L202.1 796.2L202.9 798.0L203.7 798.8L204.5 797.0L205.3 796.8L206.1 797.6L206.9 797.0L207.7 796.5L208.5 798.4L209.3 796.3L210.1 796.6L210.9 796.6L211.7 796.4L212.5 797.0L213.3 797.7L214.1 798.4L214.9 797.8L215.7 797.2L216.5 796.1L217.3 797.1L218.1 796.4L218.9 797.1L219.7 798.0L220.5 797.4L221.3 797.0L222.1 796.6L222.9 797.2L223.7 797.3L224.5 796.4L225.3 796.8L226.1 797.9L226.9 795.8L227.7 796.8L228.5 796.2L229.4 798.5L230.2 797.7L231.0 797.6L231.8 797.5L232.6 797.4L233.4 797.4L234.2 795.9L235.0 797.4L235.8 797.7L236.6 796.0L237.4 797.9L238.2 797.8L239.0 795.9L239.8 796.8L240.6 796.9L241.4 796.8L242.2 797.5L243.0 796.1L243.8 797.0L244.6 797.4L245.4 797.8L246.2 797.2L247.0 797.0L247.8 797.8L248.6 795.5L249.4 798.0L250.2 796.9L251.0 796.1L251.8 796.8L252.6 795.6L253.4 795.5L254.2 796.9L255.0 796.5L255.8 797.8L256.6 796.4L257.4 796.1L258.2 796.4L259.0 798.7L259.8 797.2L260.6 796.7L261.4 796.4L262.2 796.3L263.0 797.1L263.8 797.6L264.6 798.2L265.4 798.2L266.2 797.4L267.0 796.6L267.8 796.5L268.6 795.2L269.4 796.3L270.2 797.6L271.0 796.9L271.8 797.5L272.6 796.1L273.4 798.0L274.2 797.5L275.0 797.2L275.8 797.5L276.6 795.3L277.4 796.7L278.2 796.4L279.0 798.7L279.8 797.0L280.6 796.8L281.4 797.9L282.2 796.3L283.0 798.4L283.8 796.6L284.6 797.1L285.4 796.4L286.2 797.9L287.0 795.4L287.8 797.8L288.6 796.5L289.4 797.2L290.2 796.2L291.0 797.4L291.8 797.4L292.6 797.7L293.4 797.5L294.2 797.7L295.0 798.0L295.8 796.9L296.6 796.2L297.4 796.1L298.2 797.8L299.0 796.9L299.8 798.1L300.6 797.2L301.4 796.3L302.2 798.0L303.0 798.9L303.8 797.0L304.6 796.4L305.4 796.5L306.2 798.0L307.0 796.7L307.8 796.9L308.6 797.8L309.4 797.2L310.2 797.3L311.0 796.7L311.8 796.7L312.6 797.3L313.4 797.3L314.2 797.7L315.0 796.8L315.8 797.5" fill="none" stroke="#e83a3a" stroke-width="0.5" stroke-linejoin="round"/>
<path d="M71.5 800.9L72.3 800.6L73.1 800.9L73.9 801.3L74.7 800.6L75.5 800.6L76.3 799.8L77.2 800.7L78.0 800.4L78.8 800.3L79.6 799.9L80.4 800.9L81.2 802.4L82.0 800.8L82.8 800.6L83.6 800.8L84.4 800.1L85.2 800.6L86.0 800.0L86.8 800.0L87.7 800.7L88.5 800.7L89.3 800.4L90.1 799.9L90.9 800.7L91.7 799.7L92.5 801.1L93.3 800.2L94.1 800.5L94.9 801.1L95.7 800.9L96.5 799.5L97.3 800.3L98.1 800.8L99.0 799.7L99.8 798.7L100.6 800.4L101.4 800.5L102.2 800.8L103.0 800.6L103.8 800.6L104.8 790.0L104.9 824.0L106.8 804.6L107.6 805.4L108.4 804.7L109.2 804.7L110.0 804.0L110.8 805.1L111.6 804.1L112.4 804.8L113.2 802.6L114.0 804.4L114.8 804.1L115.6 803.8L116.4 805.1L117.2 804.4L118.0 804.0L118.8 803.6L119.6 805.4L120.4 804.6L121.2 804.5L122.0 803.4L122.8 804.9L123.5 804.3L124.3 803.7L125.1 803.8L125.9 802.6L126.7 804.3L127.5 803.0L128.3 804.4L129.1 803.4L129.9 803.2L130.7 804.0L131.5 803.8L132.3 802.8L133.1 803.6L133.9 804.0L134.7 803.4L135.5 802.5L136.3 803.3L137.1 802.8L137.9 803.0L138.7 803.5L139.5 803.4L140.1 713.0L140.2 821.0L142.1 790.8L142.9 790.7L143.7 793.3L144.5 793.7L145.3 794.2L146.1 795.2L146.9 797.2L147.7 794.9L148.5 795.0L149.3 797.3L150.1 796.2L150.9 798.2L151.7 796.5L152.5 797.1L153.3 798.3L154.1 798.5L154.9 798.2L155.7 798.3L156.5 797.9L157.3 797.7L158.1 797.9L158.9 799.2L159.7 798.8L160.5 798.2L161.3 798.5L162.1 799.0L162.9 799.3L163.7 798.2L164.5 798.2L165.3 798.6L166.1 800.5L166.9 798.6L167.7 799.4L168.5 797.1L169.3 799.1L170.1 797.2L170.9 797.5L171.7 797.8L172.5 798.3L173.3 798.5L174.1 798.7L174.9 798.6L175.7 798.0L176.5 800.6L177.3 798.7L178.1 799.0L178.9 800.1L179.7 799.2L180.5 798.9L181.3 798.7L182.1 800.0L182.9 797.5L183.7 797.6L184.5 798.5L185.3 796.7L186.1 797.7L186.9 799.4L187.7 798.0L188.5 798.5L189.3 799.0L190.1 797.4L190.9 798.6L191.7 797.9L192.5 797.5L193.3 798.2L194.1 798.4L194.9 798.1L195.7 797.8L196.5 799.2L197.3 799.4L198.1 798.9L198.9 798.3L199.7 797.5L200.5 797.7L201.3 797.5L202.1 798.6L202.9 799.2L203.7 799.2L204.5 798.4L205.3 798.1L206.1 798.6L206.9 798.5L207.7 798.9L208.5 799.6L209.3 797.8L210.1 800.2L210.9 796.6L211.7 796.9L212.5 797.1L213.3 797.5L214.1 798.2L214.9 800.1L215.7 797.8L216.5 799.3L217.3 798.1L218.1 798.5L218.9 797.5L219.7 800.3L220.5 798.4L221.3 797.9L222.1 800.3L222.9 798.6L223.7 798.7L224.5 798.3L225.3 797.7L226.1 797.2L226.9 798.3L227.7 799.8L228.5 798.8L229.4 798.3L230.2 799.3L231.0 797.6L231.8 799.6L232.6 798.4L233.4 797.7L234.2 799.0L235.0 798.8L235.8 798.1L236.6 798.6L237.4 799.2L238.2 799.6L239.0 797.7L239.8 796.2L240.6 800.1L241.4 798.2L242.2 798.0L243.0 798.8L243.8 798.0L244.6 799.3L245.4 797.4L246.2 798.2L247.0 797.3L247.8 799.7L248.6 798.2L249.4 799.3L250.2 799.6L251.0 797.4L251.8 798.2L252.6 799.0L253.4 798.4L254.2 798.3L255.0 799.1L255.8 799.2L256.6 797.9L257.4 798.3L258.2 798.9L259.0 798.6L259.8 798.5L260.6 797.5L261.4 799.9L262.2 798.2L263.0 798.6L263.8 798.4L264.6 798.5L265.4 798.5L266.2 797.7L267.0 798.7L267.8 799.4L268.6 798.7L269.4 799.0L270.2 798.8L271.0 798.4L271.8 799.9L272.6 797.8L273.4 798.7L274.2 799.3L275.0 798.6L275.8 797.5L276.6 797.5L277.4 799.7L278.2 797.6L279.0 798.4L279.8 798.9L280.6 798.5L281.4 796.9L282.2 796.8L283.0 798.3L283.8 797.7L284.6 798.2L285.4 798.5L286.2 798.5L287.0 797.3L287.8 797.0L288.6 799.2L289.4 797.9L290.2 797.4L291.0 796.7L291.8 798.9L292.6 797.3L293.4 797.5L294.2 798.9L295.0 798.7L295.8 798.9L296.6 797.3L297.4 796.0L298.2 797.6L299.0 798.1L299.8 797.8L300.6 799.2L301.4 798.7L302.2 797.5L303.0 798.9L303.8 798.3L304.6 798.0L305.4 799.3L306.2 797.0L307.0 799.3L307.8 799.3L308.6 796.7L309.4 798.2L310.2 798.3L311.0 797.4L311.8 797.9L312.6 797.7L313.4 798.5L314.2 797.9L315.0 796.6L315.8 799.4" fill="none" stroke="#3a9a3a" stroke-width="0.5" stroke-linejoin="round"/>
<path d="M71.5 801.8L72.3 800.5L73.1 801.8L73.9 802.6L74.7 799.9L75.5 800.8L76.3 800.7L77.2 801.5L78.0 800.9L78.8 800.1L79.6 802.0L80.4 800.9L81.2 801.6L82.0 802.8L82.8 800.5L83.6 800.8L84.4 801.8L85.2 801.0L86.0 801.5L86.8 801.1L87.7 803.2L88.5 801.6L89.3 801.4L90.1 801.2L90.9 801.4L91.7 799.9L92.5 800.9L93.3 801.7L94.1 800.2L94.9 801.1L95.7 801.0L96.5 800.7L97.3 803.0L98.1 801.6L99.0 801.3L99.8 800.5L100.6 801.2L101.4 800.9L102.2 801.0L103.0 801.3L103.8 803.0L104.8 713.0L104.9 822.5L106.8 804.5L107.6 804.7L108.4 804.5L109.2 805.5L110.0 802.9L110.8 802.4L111.6 803.5L112.4 803.5L113.2 803.3L114.0 802.8L114.8 803.8L115.6 804.5L116.4 803.4L117.2 803.0L118.0 804.0L118.8 802.9L119.6 802.8L120.4 803.3L121.2 801.3L122.0 804.4L122.8 802.9L123.5 803.4L124.3 803.2L125.1 803.2L125.9 801.9L126.7 804.2L127.5 803.3L128.3 803.1L129.1 805.2L129.9 801.8L130.7 803.3L131.5 802.7L132.3 801.6L133.1 804.1L133.9 801.5L134.7 802.8L135.5 802.6L136.3 802.7L137.1 801.9L137.9 803.6L138.7 802.7L139.5 801.5L140.1 785.0L140.2 820.0L142.1 792.0L142.9 794.2L143.7 793.8L144.5 795.9L145.3 796.4L146.1 796.1L146.9 795.4L147.7 796.3L148.5 798.1L149.3 797.6L150.1 799.9L150.9 798.1L151.7 799.0L152.5 799.4L153.3 799.0L154.1 799.3L154.9 800.0L155.7 799.0L156.5 799.5L157.3 799.0L158.1 801.0L158.9 799.5L159.7 800.1L160.5 796.9L161.3 799.0L162.1 798.5L162.9 799.5L163.7 799.1L164.5 798.6L165.3 799.3L166.1 800.2L166.9 800.5L167.7 799.1L168.5 800.5L169.3 799.1L170.1 800.1L170.9 798.9L171.7 800.5L172.5 801.6L173.3 799.3L174.1 800.6L174.9 798.4L175.7 799.1L176.5 801.9L177.3 799.5L178.1 800.0L178.9 798.2L179.7 799.6L180.5 798.9L181.3 800.6L182.1 799.1L182.9 801.8L183.7 798.7L184.5 799.9L185.3 797.9L186.1 799.3L186.9 800.6L187.7 799.5L188.5 798.5L189.3 800.0L190.1 800.4L190.9 800.0L191.7 800.4L192.5 798.4L193.3 801.2L194.1 800.2L194.9 797.8L195.7 801.2L196.5 799.2L197.3 800.0L198.1 797.9L198.9 799.1L199.7 798.0L200.5 800.3L201.3 799.4L202.1 798.8L202.9 799.3L203.7 800.6L204.5 798.9L205.3 800.1L206.1 798.6L206.9 798.2L207.7 799.2L208.5 799.4L209.3 799.8L210.1 800.4L210.9 799.2L211.7 799.3L212.5 800.3L213.3 800.0L214.1 799.6L214.9 799.8L215.7 797.7L216.5 799.1L217.3 798.2L218.1 799.3L218.9 800.4L219.7 798.2L220.5 800.4L221.3 799.1L222.1 799.4L222.9 799.2L223.7 800.2L224.5 799.0L225.3 797.8L226.1 799.9L226.9 799.5L227.7 800.1L228.5 800.1L229.4 798.6L230.2 799.8L231.0 799.7L231.8 799.5L232.6 799.7L233.4 799.9L234.2 799.1L235.0 799.5L235.8 800.4L236.6 798.7L237.4 799.5L238.2 798.7L239.0 798.7L239.8 799.2L240.6 799.7L241.4 800.9L242.2 799.4L243.0 800.4L243.8 800.1L244.6 799.7L245.4 797.0L246.2 799.7L247.0 799.6L247.8 798.7L248.6 799.7L249.4 800.9L250.2 798.6L251.0 799.2L251.8 800.4L252.6 798.1L253.4 798.7L254.2 799.9L255.0 800.4L255.8 800.6L256.6 800.2L257.4 801.6L258.2 799.9L259.0 798.5L259.8 799.4L260.6 800.1L261.4 799.9L262.2 798.0L263.0 799.9L263.8 798.9L264.6 799.4L265.4 800.8L266.2 799.5L267.0 799.0L267.8 799.5L268.6 799.1L269.4 801.3L270.2 800.3L271.0 800.4L271.8 799.0L272.6 799.1L273.4 799.8L274.2 797.7L275.0 800.5L275.8 798.5L276.6 799.7L277.4 799.9L278.2 798.9L279.0 799.9L279.8 800.2L280.6 801.2L281.4 799.9L282.2 801.1L283.0 800.0L283.8 799.4L284.6 800.3L285.4 799.2L286.2 799.7L287.0 800.1L287.8 800.6L288.6 799.8L289.4 798.4L290.2 800.7L291.0 799.7L291.8 799.3L292.6 798.9L293.4 800.1L294.2 799.9L295.0 800.2L295.8 799.5L296.6 800.9L297.4 799.4L298.2 799.9L299.0 799.8L299.8 800.5L300.6 799.0L301.4 799.3L302.2 799.4L303.0 799.0L303.8 799.0L304.6 798.6L305.4 800.2L306.2 800.9L307.0 798.8L307.8 800.3L308.6 798.6L309.4 798.9L310.2 799.3L311.0 799.7L311.8 800.0L312.6 798.0L313.4 798.5L314.2 799.7L315.0 799.4L315.8 801.4" fill="none" stroke="#9a4ac8" stroke-width="0.5" stroke-linejoin="round"/>
<path d="M71.5 800.1L72.3 799.8L73.1 801.2L73.9 798.3L74.7 798.9L75.5 802.3L76.3 799.8L77.2 800.3L78.0 800.2L78.8 799.6L79.6 800.2L80.4 799.3L81.2 801.0L82.0 800.9L82.8 800.8L83.6 799.6L84.4 798.8L85.2 799.9L86.0 799.5L86.8 800.6L87.7 799.1L88.5 799.6L89.3 800.4L90.1 800.6L90.9 800.4L91.7 799.4L92.5 799.8L93.3 801.8L94.1 801.0L94.9 799.7L95.7 801.7L96.5 800.2L97.3 800.3L98.1 799.7L99.0 801.4L99.8 800.4L100.6 800.2L101.4 799.6L102.2 799.3L103.0 800.4L103.8 800.3L104.8 790.0L104.9 821.0L106.8 818.0L107.6 814.3L108.4 812.8L109.2 812.2L110.0 811.2L110.8 809.8L111.6 810.3L112.4 809.5L113.2 809.4L114.0 808.9L114.8 809.1L115.6 808.3L116.4 808.3L117.2 808.8L118.0 808.4L118.8 808.4L119.6 808.7L120.4 808.2L121.2 808.3L122.0 806.9L122.8 807.7L123.5 808.4L124.3 807.5L125.1 807.8L125.9 808.0L126.7 807.8L127.5 808.3L128.3 808.1L129.1 807.7L129.9 808.3L130.7 807.6L131.5 807.4L132.3 807.9L133.1 808.0L133.9 807.6L134.7 807.1L135.5 807.4L136.3 807.7L137.1 807.9L137.9 808.4L138.7 807.4L139.5 807.4L140.1 713.0L140.2 819.0L142.1 776.2L142.9 780.8L143.7 782.0L144.5 782.7L145.3 783.4L146.1 783.0L146.9 786.9L147.7 786.6L148.5 789.5L149.3 789.7L150.1 790.9L150.9 790.4L151.7 792.1L152.5 790.5L153.3 793.5L154.1 792.7L154.9 792.2L155.7 793.2L156.5 793.1L157.3 794.5L158.1 794.0L158.9 793.8L159.7 794.9L160.5 795.2L161.3 795.8L162.1 796.4L162.9 797.1L163.7 796.5L164.5 797.7L165.3 794.4L166.1 796.5L166.9 797.5L167.7 795.7L168.5 796.8L169.3 797.2L170.1 795.8L170.9 796.7L171.7 797.8L172.5 797.0L173.3 798.7L174.1 799.4L174.9 797.4L175.7 796.5L176.5 797.5L177.3 797.1L178.1 796.4L178.9 797.3L179.7 797.3L180.5 797.4L181.3 798.5L182.1 798.7L182.9 798.1L183.7 797.5L184.5 798.2L185.3 797.9L186.1 798.0L186.9 797.0L187.7 795.3L188.5 798.6L189.3 797.4L190.1 797.5L190.9 797.9L191.7 797.9L192.5 797.7L193.3 799.2L194.1 798.0L194.9 798.1L195.7 797.2L196.5 797.9L197.3 798.3L198.1 797.9L198.9 798.2L199.7 797.2L200.5 798.3L201.3 797.1L202.1 797.6L202.9 797.3L203.7 798.1L204.5 798.9L205.3 798.2L206.1 797.2L206.9 798.1L207.7 798.9L208.5 798.6L209.3 798.4L210.1 797.0L210.9 797.5L211.7 797.4L212.5 797.6L213.3 798.2L214.1 798.0L214.9 797.7L215.7 798.5L216.5 797.4L217.3 797.7L218.1 798.1L218.9 796.8L219.7 797.3L220.5 796.8L221.3 797.1L222.1 797.9L222.9 797.9L223.7 798.3L224.5 798.3L225.3 797.0L226.1 799.6L226.9 799.1L227.7 797.0L228.5 797.4L229.4 797.6L230.2 798.2L231.0 798.5L231.8 798.0L232.6 795.8L233.4 800.4L234.2 798.7L235.0 798.7L235.8 797.4L236.6 798.1L237.4 798.8L238.2 797.6L239.0 799.0L239.8 798.1L240.6 799.3L241.4 798.0L242.2 799.3L243.0 796.6L243.8 799.2L244.6 798.4L245.4 797.7L246.2 798.9L247.0 797.8L247.8 798.7L248.6 798.8L249.4 798.9L250.2 799.9L251.0 799.2L251.8 800.1L252.6 798.6L253.4 798.1L254.2 798.3L255.0 798.0L255.8 797.0L256.6 798.1L257.4 797.0L258.2 797.8L259.0 797.7L259.8 797.5L260.6 797.1L261.4 798.1L262.2 798.0L263.0 799.2L263.8 798.5L264.6 798.8L265.4 797.6L266.2 797.7L267.0 796.9L267.8 797.3L268.6 798.6L269.4 797.8L270.2 797.9L271.0 797.5L271.8 799.3L272.6 798.0L273.4 799.0L274.2 798.0L275.0 798.8L275.8 797.2L276.6 796.9L277.4 798.9L278.2 797.7L279.0 798.2L279.8 798.7L280.6 798.6L281.4 798.2L282.2 797.0L283.0 797.4L283.8 798.0L284.6 798.5L285.4 798.4L286.2 798.3L287.0 797.3L287.8 798.0L288.6 798.8L289.4 797.3L290.2 797.5L291.0 798.8L291.8 799.3L292.6 798.3L293.4 798.0L294.2 797.2L295.0 797.9L295.8 797.3L296.6 798.1L297.4 798.6L298.2 798.4L299.0 799.1L299.8 797.1L300.6 796.9L301.4 799.2L302.2 798.9L303.0 797.2L303.8 798.1L304.6 797.1L305.4 798.0L306.2 798.3L307.0 798.8L307.8 797.2L308.6 796.9L309.4 798.5L310.2 797.7L311.0 799.2L311.8 797.0L312.6 797.5L313.4 795.7L314.2 799.0L315.0 799.1L315.8 798.3" fill="none" stroke="#b8704a" stroke-width="0.5" stroke-linejoin="round"/>
<path d="M71.5 800.5L72.3 799.2L73.1 799.7L73.9 800.3L74.7 802.1L75.5 801.4L76.3 800.3L77.2 801.0L78.0 801.1L78.8 801.1L79.6 800.0L80.4 800.4L81.2 801.4L82.0 801.2L82.8 800.4L83.6 802.5L84.4 800.9L85.2 800.4L86.0 801.4L86.8 801.3L87.7 800.6L88.5 802.0L89.3 801.5L90.1 800.7L90.9 801.2L91.7 801.2L92.5 800.5L93.3 801.2L94.1 800.3L94.9 800.5L95.7 801.2L96.5 799.8L97.3 800.4L98.1 800.0L99.0 801.2L99.8 800.3L100.6 802.1L101.4 801.8L102.2 800.2L103.0 800.8L103.8 800.4L104.8 713.0L104.9 819.5L106.8 802.8L107.6 803.2L108.4 803.8L109.2 804.3L110.0 804.0L110.8 801.7L111.6 802.3L112.4 802.5L113.2 802.3L114.0 802.7L114.8 803.0L115.6 802.2L116.4 802.0L117.2 804.2L118.0 802.9L118.8 804.0L119.6 802.0L120.4 803.4L121.2 803.6L122.0 803.3L122.8 801.7L123.5 802.7L124.3 801.7L125.1 801.4L125.9 802.2L126.7 802.5L127.5 802.0L128.3 802.0L129.1 802.6L129.9 801.6L130.7 802.4L131.5 802.6L132.3 802.5L133.1 802.4L133.9 801.2L134.7 801.7L135.5 801.6L136.3 802.4L137.1 800.6L137.9 801.9L138.7 800.6L139.5 802.3L140.1 785.0L140.2 818.0L142.1 793.4L142.9 794.6L143.7 796.0L144.5 797.2L145.3 795.3L146.1 796.7L146.9 795.2L147.7 797.0L148.5 796.8L149.3 798.2L150.1 797.7L150.9 798.0L151.7 797.1L152.5 797.9L153.3 797.3L154.1 798.4L154.9 797.1L155.7 798.7L156.5 799.5L157.3 800.8L158.1 799.9L158.9 799.8L159.7 799.3L160.5 800.0L161.3 798.7L162.1 799.1L162.9 797.2L163.7 798.3L164.5 799.7L165.3 797.3L166.1 799.0L166.9 798.7L167.7 798.5L168.5 799.1L169.3 798.8L170.1 797.9L170.9 798.7L171.7 797.3L172.5 800.1L173.3 798.8L174.1 799.6L174.9 798.0L175.7 800.4L176.5 799.7L177.3 799.1L178.1 799.0L178.9 799.1L179.7 798.2L180.5 798.7L181.3 798.6L182.1 799.1L182.9 800.1L183.7 799.8L184.5 799.0L185.3 799.3L186.1 798.6L186.9 798.4L187.7 797.5L188.5 797.7L189.3 797.8L190.1 798.8L190.9 798.7L191.7 799.2L192.5 799.8L193.3 799.4L194.1 798.7L194.9 798.4L195.7 798.6L196.5 799.3L197.3 798.0L198.1 797.5L198.9 798.6L199.7 799.7L200.5 799.8L201.3 799.3L202.1 797.2L202.9 798.7L203.7 799.4L204.5 799.7L205.3 800.4L206.1 798.0L206.9 799.1L207.7 797.5L208.5 798.6L209.3 798.5L210.1 799.5L210.9 798.9L211.7 797.3L212.5 798.7L213.3 799.1L214.1 800.0L214.9 798.2L215.7 798.1L216.5 798.3L217.3 799.7L218.1 798.6L218.9 798.9L219.7 799.2L220.5 798.1L221.3 799.7L222.1 797.4L222.9 800.3L223.7 798.2L224.5 798.0L225.3 798.2L226.1 797.8L226.9 798.1L227.7 798.1L228.5 797.8L229.4 798.7L230.2 799.1L231.0 798.3L231.8 799.0L232.6 798.1L233.4 799.0L234.2 798.5L235.0 797.9L235.8 798.9L236.6 798.7L237.4 798.2L238.2 798.8L239.0 799.3L239.8 797.8L240.6 798.4L241.4 799.3L242.2 798.8L243.0 799.5L243.8 800.8L244.6 797.7L245.4 799.1L246.2 798.5L247.0 800.0L247.8 799.3L248.6 797.6L249.4 799.7L250.2 798.8L251.0 798.5L251.8 798.8L252.6 799.0L253.4 798.1L254.2 798.5L255.0 799.9L255.8 797.9L256.6 798.3L257.4 799.5L258.2 798.0L259.0 798.6L259.8 799.1L260.6 798.0L261.4 798.5L262.2 798.0L263.0 798.6L263.8 799.0L264.6 798.8L265.4 799.0L266.2 799.1L267.0 799.5L267.8 797.9L268.6 798.9L269.4 800.1L270.2 798.6L271.0 798.6L271.8 798.8L272.6 798.2L273.4 799.3L274.2 798.8L275.0 798.7L275.8 799.4L276.6 799.8L277.4 797.6L278.2 798.4L279.0 798.6L279.8 797.6L280.6 799.4L281.4 800.6L282.2 799.5L283.0 799.9L283.8 797.1L284.6 798.4L285.4 797.7L286.2 799.5L287.0 798.7L287.8 798.7L288.6 799.2L289.4 799.4L290.2 800.2L291.0 800.0L291.8 799.6L292.6 797.4L293.4 799.9L294.2 798.9L295.0 797.5L295.8 798.9L296.6 798.6L297.4 798.7L298.2 799.6L299.0 797.7L299.8 799.3L300.6 799.8L301.4 797.8L302.2 800.0L303.0 798.2L303.8 798.2L304.6 799.6L305.4 798.8L306.2 797.2L307.0 798.3L307.8 799.4L308.6 798.3L309.4 798.4L310.2 798.8L311.0 798.8L311.8 798.2L312.6 798.0L313.4 799.2L314.2 799.8L315.0 796.7L315.8 799.2" fill="none" stroke="#e89090" stroke-width="0.5" stroke-linejoin="round"/>
<path d="M71.5 801.6L72.3 800.2L73.1 802.0L73.9 799.8L74.7 801.6L75.5 802.1L76.3 802.0L77.2 798.9L78.0 800.9L78.8 800.2L79.6 801.2L80.4 802.0L81.2 801.2L82.0 802.1L82.8 799.6L83.6 800.3L84.4 800.5L85.2 801.4L86.0 801.8L86.8 800.3L87.7 800.2L88.5 801.6L89.3 799.9L90.1 801.3L90.9 800.3L91.7 800.8L92.5 802.4L93.3 800.7L94.1 800.9L94.9 800.3L95.7 801.3L96.5 802.0L97.3 801.4L98.1 799.9L99.0 801.2L99.8 802.1L100.6 800.2L101.4 800.8L102.2 800.2L103.0 800.5L103.8 800.2L104.8 790.0L104.9 818.0L106.8 802.1L107.6 803.5L108.4 803.0L109.2 801.4L110.0 802.2L110.8 802.5L111.6 802.2L112.4 803.1L113.2 802.8L114.0 803.2L114.8 801.9L115.6 802.3L116.4 802.5L117.2 802.5L118.0 802.5L118.8 802.2L119.6 802.6L120.4 803.9L121.2 802.1L122.0 801.4L122.8 802.9L123.5 801.9L124.3 803.2L125.1 803.4L125.9 803.8L126.7 802.6L127.5 801.2L128.3 803.7L129.1 803.1L129.9 803.4L130.7 802.5L131.5 802.1L132.3 802.4L133.1 800.9L133.9 803.0L134.7 801.8L135.5 801.8L136.3 802.5L137.1 801.6L137.9 802.8L138.7 801.7L139.5 803.9L140.1 785.0L140.2 817.0L142.1 796.1L142.9 796.2L143.7 796.4L144.5 796.7L145.3 796.6L146.1 795.7L146.9 797.1L147.7 797.2L148.5 797.6L149.3 798.3L150.1 796.8L150.9 797.4L151.7 798.0L152.5 798.3L153.3 799.5L154.1 801.1L154.9 798.8L155.7 799.5L156.5 799.0L157.3 799.2L158.1 800.5L158.9 799.2L159.7 799.6L160.5 799.1L161.3 798.6L162.1 800.1L162.9 799.0L163.7 800.4L164.5 798.2L165.3 799.6L166.1 800.6L166.9 798.7L167.7 799.5L168.5 800.4L169.3 799.6L170.1 798.5L170.9 798.9L171.7 799.5L172.5 798.7L173.3 798.9L174.1 799.3L174.9 798.2L175.7 800.6L176.5 798.7L177.3 799.2L178.1 799.3L178.9 800.4L179.7 798.9L180.5 800.9L181.3 800.8L182.1 799.8L182.9 798.1L183.7 798.1L184.5 799.0L185.3 799.5L186.1 799.8L186.9 800.3L187.7 799.6L188.5 799.3L189.3 799.6L190.1 797.5L190.9 800.2L191.7 797.9L192.5 797.6L193.3 798.6L194.1 798.8L194.9 798.2L195.7 799.0L196.5 799.3L197.3 799.7L198.1 799.5L198.9 798.8L199.7 799.3L200.5 800.3L201.3 799.0L202.1 799.1L202.9 797.4L203.7 799.5L204.5 801.0L205.3 799.8L206.1 799.0L206.9 800.3L207.7 800.3L208.5 800.4L209.3 798.2L210.1 798.2L210.9 799.8L211.7 799.7L212.5 799.6L213.3 798.0L214.1 799.9L214.9 800.9L215.7 800.2L216.5 801.4L217.3 799.6L218.1 799.3L218.9 800.8L219.7 800.1L220.5 797.3L221.3 797.9L222.1 799.4L222.9 798.8L223.7 800.8L224.5 800.6L225.3 800.3L226.1 798.9L226.9 799.0L227.7 799.9L228.5 798.9L229.4 799.8L230.2 799.5L231.0 799.9L231.8 799.3L232.6 798.6L233.4 796.7L234.2 798.1L235.0 798.0L235.8 799.8L236.6 798.0L237.4 798.7L238.2 799.6L239.0 799.8L239.8 800.1L240.6 799.6L241.4 800.5L242.2 798.7L243.0 800.2L243.8 798.1L244.6 798.9L245.4 799.6L246.2 799.7L247.0 799.0L247.8 798.7L248.6 798.2L249.4 797.3L250.2 797.5L251.0 800.6L251.8 797.7L252.6 797.9L253.4 797.8L254.2 799.0L255.0 799.0L255.8 798.7L256.6 798.1L257.4 799.1L258.2 798.0L259.0 799.5L259.8 800.5L260.6 798.4L261.4 799.4L262.2 798.8L263.0 798.9L263.8 798.1L264.6 799.3L265.4 799.2L266.2 800.3L267.0 801.2L267.8 798.3L268.6 800.2L269.4 798.5L270.2 798.7L271.0 798.2L271.8 799.6L272.6 800.2L273.4 799.1L274.2 799.4L275.0 798.5L275.8 798.9L276.6 798.1L277.4 799.1L278.2 797.5L279.0 801.1L279.8 800.3L280.6 798.7L281.4 798.8L282.2 798.8L283.0 799.3L283.8 799.4L284.6 800.8L285.4 798.8L286.2 797.5L287.0 799.4L287.8 799.5L288.6 798.5L289.4 799.9L290.2 799.0L291.0 798.5L291.8 799.1L292.6 798.1L293.4 798.8L294.2 800.7L295.0 800.2L295.8 799.7L296.6 799.3L297.4 799.4L298.2 798.2L299.0 799.3L299.8 798.6L300.6 798.7L301.4 800.5L302.2 798.6L303.0 799.2L303.8 799.3L304.6 800.0L305.4 799.0L306.2 799.6L307.0 799.5L307.8 799.0L308.6 798.7L309.4 798.3L310.2 800.1L311.0 798.5L311.8 800.2L312.6 800.6L313.4 798.7L314.2 798.4L315.0 798.3L315.8 798.8" fill="none" stroke="#e8a850" stroke-width="0.5" stroke-linejoin="round"/>
<path d="M71.5 802.4L72.3 800.8L73.1 800.6L73.9 800.2L74.7 801.5L75.5 801.7L76.3 802.5L77.2 801.6L78.0 801.4L78.8 801.4L79.6 803.6L80.4 802.6L81.2 802.1L82.0 801.2L82.8 801.3L83.6 801.3L84.4 801.3L85.2 801.8L86.0 800.9L86.8 802.8L87.7 800.7L88.5 801.9L89.3 802.0L90.1 802.1L90.9 802.4L91.7 801.6L92.5 801.6L93.3 802.5L94.1 802.4L94.9 801.4L95.7 802.1L96.5 800.5L97.3 801.7L98.1 799.8L99.0 802.3L99.8 800.9L100.6 802.1L101.4 801.8L102.2 801.0L103.0 802.1L103.8 802.7L104.8 790.0L104.9 816.5L106.8 803.4L107.6 805.4L108.4 804.3L109.2 803.3L110.0 803.8L110.8 804.2L111.6 804.4L112.4 803.3L113.2 803.6L114.0 804.2L114.8 804.0L115.6 805.3L116.4 804.4L117.2 804.4L118.0 803.0L118.8 803.0L119.6 802.9L120.4 803.6L121.2 804.1L122.0 804.9L122.8 804.3L123.5 802.9L124.3 803.5L125.1 805.1L125.9 803.6L126.7 803.9L127.5 802.4L128.3 802.4L129.1 803.0L129.9 803.2L130.7 803.7L131.5 803.2L132.3 802.0L133.1 805.1L133.9 803.5L134.7 802.0L135.5 804.5L136.3 803.8L137.1 803.0L137.9 803.2L138.7 803.5L139.5 801.4L140.1 785.0L140.2 816.0L142.1 797.7L142.9 797.6L143.7 798.4L144.5 797.7L145.3 797.9L146.1 800.1L146.9 796.1L147.7 800.2L148.5 800.3L149.3 798.1L150.1 799.4L150.9 799.1L151.7 799.3L152.5 798.7L153.3 798.7L154.1 800.0L154.9 799.7L155.7 800.5L156.5 800.7L157.3 799.6L158.1 801.9L158.9 801.5L159.7 798.8L160.5 800.0L161.3 799.9L162.1 800.5L162.9 799.4L163.7 801.6L164.5 799.9L165.3 802.0L166.1 799.6L166.9 801.9L167.7 800.6L168.5 801.0L169.3 800.5L170.1 800.5L170.9 799.4L171.7 800.1L172.5 799.6L173.3 800.1L174.1 799.9L174.9 800.9L175.7 800.5L176.5 800.0L177.3 798.8L178.1 801.0L178.9 799.6L179.7 799.9L180.5 800.6L181.3 800.2L182.1 800.3L182.9 800.3L183.7 798.6L184.5 800.8L185.3 800.1L186.1 800.9L186.9 800.3L187.7 799.9L188.5 801.4L189.3 800.3L190.1 801.1L190.9 800.7L191.7 800.9L192.5 801.1L193.3 800.8L194.1 799.4L194.9 800.0L195.7 801.4L196.5 800.1L197.3 799.9L198.1 800.3L198.9 801.0L199.7 799.5L200.5 800.2L201.3 799.8L202.1 799.7L202.9 800.9L203.7 799.8L204.5 800.3L205.3 800.5L206.1 800.6L206.9 800.6L207.7 800.9L208.5 799.6L209.3 798.2L210.1 801.0L210.9 801.6L211.7 799.9L212.5 800.2L213.3 801.0L214.1 799.5L214.9 800.2L215.7 799.9L216.5 800.7L217.3 800.3L218.1 801.6L218.9 799.5L219.7 799.6L220.5 799.0L221.3 800.4L222.1 800.1L222.9 800.0L223.7 800.7L224.5 799.4L225.3 799.0L226.1 802.0L226.9 800.2L227.7 799.4L228.5 801.1L229.4 800.3L230.2 799.4L231.0 800.5L231.8 801.1L232.6 800.8L233.4 800.2L234.2 801.6L235.0 799.5L235.8 800.1L236.6 800.6L237.4 799.4L238.2 800.8L239.0 800.5L239.8 801.1L240.6 800.5L241.4 801.9L242.2 799.1L243.0 799.9L243.8 799.8L244.6 800.2L245.4 800.8L246.2 799.4L247.0 801.1L247.8 801.2L248.6 800.3L249.4 799.1L250.2 800.8L251.0 800.6L251.8 799.4L252.6 799.7L253.4 799.8L254.2 799.0L255.0 800.5L255.8 801.2L256.6 800.5L257.4 799.7L258.2 800.2L259.0 800.2L259.8 801.8L260.6 799.9L261.4 800.7L262.2 800.0L263.0 801.2L263.8 799.6L264.6 800.7L265.4 799.9L266.2 800.7L267.0 799.0L267.8 800.2L268.6 801.2L269.4 800.8L270.2 799.4L271.0 802.4L271.8 800.6L272.6 800.0L273.4 799.9L274.2 799.5L275.0 801.5L275.8 801.3L276.6 801.5L277.4 799.4L278.2 798.7L279.0 798.4L279.8 799.0L280.6 799.8L281.4 799.2L282.2 798.8L283.0 800.6L283.8 799.6L284.6 800.5L285.4 801.2L286.2 799.5L287.0 799.8L287.8 801.3L288.6 798.9L289.4 799.8L290.2 799.2L291.0 800.0L291.8 799.7L292.6 800.4L293.4 799.8L294.2 801.2L295.0 799.5L295.8 800.1L296.6 800.7L297.4 799.4L298.2 799.6L299.0 800.1L299.8 799.8L300.6 800.8L301.4 799.6L302.2 798.9L303.0 800.7L303.8 799.5L304.6 799.6L305.4 799.9L306.2 801.1L307.0 800.8L307.8 800.3L308.6 800.4L309.4 799.8L310.2 801.6L311.0 801.0L311.8 799.5L312.6 800.9L313.4 799.0L314.2 799.5L315.0 799.6L315.8 801.5" fill="none" stroke="#5050a0" stroke-width="0.5" stroke-linejoin="round"/>
<path d="M71.5 802.3L72.3 800.8L73.1 800.4L73.9 801.8L74.7 800.4L75.5 802.0L76.3 800.1L77.2 801.5L78.0 800.2L78.8 802.1L79.6 800.9L80.4 800.3L81.2 800.9L82.0 799.0L82.8 800.8L83.6 801.3L84.4 802.5L85.2 800.0L86.0 801.7L86.8 801.7L87.7 801.3L88.5 800.6L89.3 800.9L90.1 800.2L90.9 801.0L91.7 799.9L92.5 800.4L93.3 800.9L94.1 800.1L94.9 799.8L95.7 800.7L96.5 801.0L97.3 801.3L98.1 801.1L99.0 802.0L99.8 800.8L100.6 801.8L101.4 800.0L102.2 801.3L103.0 801.4L103.8 802.2L104.8 790.0L104.9 815.0L106.8 804.5L107.6 806.3L108.4 804.8L109.2 804.6L110.0 803.6L110.8 805.5L111.6 804.4L112.4 805.4L113.2 804.9L114.0 805.3L114.8 804.8L115.6 804.2L116.4 804.3L117.2 804.6L118.0 804.9L118.8 804.0L119.6 805.3L120.4 803.0L121.2 803.5L122.0 805.0L122.8 804.7L123.5 806.0L124.3 805.2L125.1 803.6L125.9 803.6L126.7 804.4L127.5 804.3L128.3 804.8L129.1 803.9L129.9 803.7L130.7 803.7L131.5 804.2L132.3 803.5L133.1 804.1L133.9 804.7L134.7 804.0L135.5 803.3L136.3 804.4L137.1 804.6L137.9 803.3L138.7 803.7L139.5 802.8L140.1 785.0L140.2 815.0L142.1 795.5L142.9 795.8L143.7 795.9L144.5 796.8L145.3 799.2L146.1 798.8L146.9 797.6L147.7 798.5L148.5 798.3L149.3 798.5L150.1 796.8L150.9 798.4L151.7 797.6L152.5 798.3L153.3 798.6L154.1 795.6L154.9 796.6L155.7 799.2L156.5 800.0L157.3 799.6L158.1 797.9L158.9 798.5L159.7 799.4L160.5 798.7L161.3 797.0L162.1 799.6L162.9 798.4L163.7 798.9L164.5 797.4L165.3 798.0L166.1 800.0L166.9 798.6L167.7 799.4L168.5 800.4L169.3 799.0L170.1 799.0L170.9 798.7L171.7 799.7L172.5 799.3L173.3 799.4L174.1 800.3L174.9 799.4L175.7 800.0L176.5 798.2L177.3 798.8L178.1 799.6L178.9 798.3L179.7 797.7L180.5 798.9L181.3 798.5L182.1 799.3L182.9 800.4L183.7 798.6L184.5 798.0L185.3 798.7L186.1 798.5L186.9 798.5L187.7 800.0L188.5 799.5L189.3 799.3L190.1 798.8L190.9 799.8L191.7 798.9L192.5 800.5L193.3 799.0L194.1 798.9L194.9 799.6L195.7 800.8L196.5 797.5L197.3 799.4L198.1 797.9L198.9 797.6L199.7 798.6L200.5 799.7L201.3 797.6L202.1 798.6L202.9 800.5L203.7 800.1L204.5 798.7L205.3 799.5L206.1 799.0L206.9 798.5L207.7 798.3L208.5 800.1L209.3 798.4L210.1 798.8L210.9 798.5L211.7 797.7L212.5 798.8L213.3 800.6L214.1 798.1L214.9 798.9L215.7 800.0L216.5 799.4L217.3 799.0L218.1 799.5L218.9 799.2L219.7 798.9L220.5 798.3L221.3 798.6L222.1 797.5L222.9 799.1L223.7 798.8L224.5 798.4L225.3 797.6L226.1 798.5L226.9 797.4L227.7 799.5L228.5 797.9L229.4 799.7L230.2 798.2L231.0 799.5L231.8 799.4L232.6 799.7L233.4 798.7L234.2 797.3L235.0 799.3L235.8 798.4L236.6 797.6L237.4 798.0L238.2 799.2L239.0 799.5L239.8 799.3L240.6 799.6L241.4 799.9L242.2 798.7L243.0 798.9L243.8 798.7L244.6 798.7L245.4 798.9L246.2 799.1L247.0 798.5L247.8 799.1L248.6 799.8L249.4 798.7L250.2 799.4L251.0 798.2L251.8 798.2L252.6 800.4L253.4 798.8L254.2 800.0L255.0 797.3L255.8 796.9L256.6 798.9L257.4 798.7L258.2 797.0L259.0 799.6L259.8 799.5L260.6 798.4L261.4 799.5L262.2 799.5L263.0 799.0L263.8 798.5L264.6 799.5L265.4 798.6L266.2 798.5L267.0 797.8L267.8 799.0L268.6 800.0L269.4 798.5L270.2 798.5L271.0 797.8L271.8 798.8L272.6 799.7L273.4 798.8L274.2 799.5L275.0 799.9L275.8 798.2L276.6 798.4L277.4 799.5L278.2 798.7L279.0 798.0L279.8 798.9L280.6 799.3L281.4 799.9L282.2 798.2L283.0 799.2L283.8 799.4L284.6 796.5L285.4 799.6L286.2 798.9L287.0 797.6L287.8 800.5L288.6 799.3L289.4 799.2L290.2 801.0L291.0 799.9L291.8 798.1L292.6 799.0L293.4 800.4L294.2 800.0L295.0 800.3L295.8 798.9L296.6 799.9L297.4 798.4L298.2 798.8L299.0 799.5L299.8 798.8L300.6 799.5L301.4 798.8L302.2 799.2L303.0 800.8L303.8 799.5L304.6 799.9L305.4 797.7L306.2 798.4L307.0 799.7L307.8 797.6L308.6 798.6L309.4 798.7L310.2 800.0L311.0 797.4L311.8 798.5L312.6 799.0L313.4 799.1L314.2 797.5L315.0 800.0L315.8 799.5" fill="none" stroke="#40a8a8" stroke-width="0.5" stroke-linejoin="round"/>
<path d="M71.5 801.0L72.3 800.5L73.1 800.5L73.9 799.9L74.7 799.9L75.5 799.1L76.3 800.4L77.2 799.1L78.0 800.9L78.8 800.4L79.6 799.6L80.4 800.2L81.2 798.8L82.0 799.3L82.8 799.5L83.6 799.0L84.4 799.6L85.2 799.9L86.0 799.5L86.8 799.4L87.7 799.1L88.5 798.5L89.3 800.5L90.1 799.7L90.9 801.0L91.7 799.2L92.5 799.7L93.3 800.5L94.1 801.1L94.9 800.8L95.7 800.7L96.5 799.0L97.3 800.4L98.1 801.5L99.0 798.4L99.8 800.3L100.6 801.7L101.4 799.2L102.2 800.3L103.0 801.5L103.8 800.5L104.8 790.0L104.9 813.5L106.8 801.8L107.6 802.3L108.4 801.4L109.2 802.1L110.0 801.4L110.8 802.2L111.6 800.8L112.4 801.4L113.2 801.6L114.0 799.7L114.8 802.1L115.6 801.1L116.4 800.9L117.2 800.3L118.0 801.2L118.8 800.6L119.6 801.7L120.4 802.5L121.2 800.9L122.0 800.6L122.8 801.1L123.5 800.9L124.3 801.5L125.1 799.6L125.9 801.5L126.7 801.0L127.5 800.6L128.3 799.8L129.1 801.7L129.9 801.8L130.7 801.2L131.5 801.4L132.3 801.5L133.1 801.0L133.9 801.4L134.7 800.0L135.5 801.4L136.3 798.9L137.1 801.6L137.9 801.9L138.7 801.6L139.5 800.0L140.1 785.0L140.2 814.0L142.1 795.5L142.9 796.5L143.7 795.5L144.5 796.8L145.3 796.6L146.1 798.1L146.9 796.5L147.7 796.5L148.5 797.6L149.3 798.1L150.1 796.9L150.9 796.1L151.7 796.2L152.5 796.0L153.3 797.5L154.1 796.5L154.9 797.4L155.7 796.2L156.5 797.2L157.3 797.9L158.1 796.6L158.9 798.5L159.7 797.6L160.5 796.8L161.3 797.2L162.1 797.5L162.9 796.8L163.7 797.0L164.5 797.8L165.3 795.9L166.1 799.7L166.9 798.3L167.7 798.6L168.5 799.5L169.3 798.2L170.1 797.5L170.9 797.5L171.7 798.1L172.5 798.8L173.3 796.8L174.1 799.1L174.9 797.3L175.7 796.7L176.5 798.7L177.3 797.1L178.1 798.2L178.9 796.4L179.7 798.2L180.5 797.2L181.3 798.6L182.1 796.2L182.9 797.0L183.7 796.7L184.5 797.8L185.3 796.7L186.1 797.3L186.9 797.6L187.7 797.2L188.5 797.7L189.3 797.8L190.1 796.2L190.9 798.5L191.7 796.6L192.5 796.9L193.3 799.1L194.1 797.0L194.9 797.4L195.7 798.2L196.5 797.0L197.3 797.5L198.1 797.3L198.9 797.4L199.7 796.5L200.5 798.5L201.3 797.6L202.1 798.1L202.9 797.6L203.7 797.0L204.5 798.6L205.3 796.9L206.1 798.4L206.9 796.9L207.7 796.9L208.5 797.6L209.3 799.6L210.1 798.4L210.9 797.7L211.7 797.9L212.5 798.6L213.3 797.2L214.1 795.9L214.9 796.7L215.7 797.5L216.5 796.9L217.3 797.3L218.1 798.8L218.9 797.3L219.7 797.0L220.5 797.6L221.3 798.6L222.1 799.0L222.9 798.2L223.7 797.3L224.5 797.2L225.3 796.6L226.1 797.1L226.9 798.4L227.7 798.1L228.5 797.8L229.4 796.7L230.2 797.5L231.0 797.0L231.8 798.9L232.6 797.6L233.4 797.5L234.2 797.6L235.0 797.6L235.8 797.6L236.6 797.1L237.4 797.8L238.2 797.6L239.0 798.3L239.8 798.0L240.6 798.1L241.4 797.1L242.2 797.6L243.0 795.7L243.8 796.8L244.6 797.2L245.4 795.5L246.2 798.6L247.0 798.4L247.8 797.7L248.6 799.6L249.4 796.2L250.2 797.6L251.0 797.7L251.8 797.2L252.6 798.9L253.4 798.5L254.2 798.0L255.0 796.8L255.8 797.8L256.6 797.6L257.4 798.0L258.2 796.4L259.0 796.7L259.8 798.5L260.6 797.6L261.4 797.5L262.2 797.5L263.0 795.3L263.8 798.8L264.6 796.3L265.4 796.5L266.2 798.0L267.0 798.7L267.8 798.6L268.6 797.1L269.4 796.9L270.2 798.1L271.0 797.8L271.8 796.0L272.6 798.7L273.4 795.9L274.2 797.9L275.0 797.8L275.8 798.2L276.6 797.7L277.4 798.3L278.2 797.8L279.0 796.8L279.8 797.1L280.6 798.8L281.4 796.0L282.2 798.2L283.0 797.1L283.8 796.1L284.6 796.8L285.4 798.0L286.2 795.2L287.0 798.3L287.8 798.6L288.6 797.2L289.4 797.3L290.2 797.6L291.0 798.3L291.8 796.7L292.6 797.2L293.4 797.9L294.2 796.3L295.0 797.8L295.8 797.5L296.6 798.3L297.4 796.6L298.2 797.5L299.0 797.9L299.8 797.6L300.6 796.7L301.4 798.5L302.2 797.5L303.0 797.7L303.8 797.6L304.6 798.2L305.4 797.7L306.2 797.0L307.0 798.3L307.8 797.5L308.6 797.7L309.4 797.8L310.2 796.6L311.0 797.7L311.8 797.8L312.6 796.4L313.4 797.3L314.2 797.5L315.0 798.2L315.8 797.3" fill="none" stroke="#a83a3a" stroke-width="0.5" stroke-linejoin="round"/>
<path d="M104.6 713V790" stroke="#4a4af0" stroke-width="0.6"/>
<path d="M140.1 713V785" stroke="#3a9a3a" stroke-width="0.6"/>
<text x="479" y="702.3" font-size="10.5" fill="#111" textLength="136.5" lengthAdjust="spacingAndGlyphs">Abd-2-KRAS<tspan font-size="7.6" dy="-3.8">G12V</tspan><tspan dy="3.8">-GppNHp</tspan></text>
<text x="431.6" y="714" font-size="16" font-weight="bold">h</text>
<path d="M421.6 693.2V833.3H587.6M414 724.5H421.6M414 734.4H421.6M414 744.3H421.6M414 754.2H421.6M414 764.1H421.6M414 774H421.6M414 783.9H421.6M447.6 833.3V842.5M483.1 833.3V842.5M518.6 833.3V842.5M554.1 833.3V842.5" fill="none" stroke="#333" stroke-width="1.1"/>
<text x="410.8" y="728.7" font-size="12" text-anchor="end" fill="#111">40</text>
<text x="410.8" y="748.5" font-size="12" text-anchor="end" fill="#111">20</text>
<text x="410.8" y="768.3" font-size="12" text-anchor="end" fill="#111">0</text>
<text x="410.8" y="788.1" font-size="12" text-anchor="end" fill="#111">−20</text>
<text x="447.6" y="858.9" font-size="12.5" text-anchor="middle" fill="#111">50</text>
<text x="483.1" y="858.9" font-size="12.5" text-anchor="middle" fill="#111">100</text>
<text x="518.6" y="858.9" font-size="12.5" text-anchor="middle" fill="#111">150</text>
<text x="554.1" y="858.9" font-size="12.5" text-anchor="middle" fill="#111">200</text>
<text x="380.8" y="763.7" font-size="12.5" text-anchor="middle" fill="#111" textLength="17" lengthAdjust="spacingAndGlyphs" transform="rotate(-90 380.8 763.7)">RU</text>
<text x="505.4" y="875.3" font-size="12.2" text-anchor="middle" fill="#111" textLength="47.3" lengthAdjust="spacingAndGlyphs">Time (s)</text>
<path d="M572.1 788.7L584 795.5M584 795.5L584 809.2M584 809.2L572.1 816.1M572.1 816.1L560.2 809.2M560.2 809.2L560.2 795.5M560.2 795.5L572.1 788.7M572.7 791.7L581 796.5M581 808.3L572.7 813.1M562.6 807.2L562.6 797.6M584 795.5L592.3 790.8M599.4 790.8L607.7 795.5M607.7 795.5L607.7 809.2M607.7 809.2L599.4 814M592.3 814L584 809.2M607.7 795.5L619.6 788.7M619.6 788.7L627.9 793.5M635 793.5L643.3 788.7M642.3 788.7L642.3 779.1M644.2 788.7L644.2 779.1M643.3 788.7L655.1 795.5M655.1 795.5L663.7 791.3M670.3 792.3L677 799.2M677 799.2L670.7 811.3M670.7 811.3L657.2 809.1M657.2 809.1L655.1 795.5M657.8 797.6L659.1 806.3M669.8 808.1L673.8 800.3" stroke="#3a3a3a" stroke-width="0.8" fill="none" stroke-linecap="round"/>
<text x="595.8" y="791.8" font-size="8.5" fill="#3a3a3a" text-anchor="middle">O</text>
<text x="595.8" y="819.2" font-size="8.5" fill="#3a3a3a" text-anchor="middle">O</text>
<text x="631.4" y="798.6" font-size="8.5" fill="#3a3a3a" text-anchor="middle">N</text>
<text x="631.4" y="805.5" font-size="8.5" fill="#3a3a3a" text-anchor="middle">H</text>
<text x="643.3" y="778.1" font-size="8.5" fill="#3a3a3a" text-anchor="middle">O</text>
<text x="667.4" y="792.5" font-size="8.5" fill="#3a3a3a" text-anchor="middle">O</text>
<path d="M421.6 763.9L422.6 764.0L423.6 763.9L424.6 764.1L425.6 764.2L426.6 764.2L427.6 764.3L428.6 764.1L429.6 764.2L430.6 764.2L431.6 764.2L432.6 764.3L433.6 764.4L434.6 764.5L435.6 764.5L436.6 764.8L437.6 764.7L438.6 764.5L439.6 764.7L440.6 764.6L441.6 764.7L442.6 764.9L443.6 764.8L444.6 764.7L445.6 764.9L446.6 764.9L447.6 764.9L448.6 764.9L449.6 765.0L450.6 765.1L451.6 765.1L452.6 765.2L452.9 766.0L453.9 749.0L455.0 747.6L456.0 746.4L457.0 745.7L458.0 745.3L458.9 745.0L459.9 744.4L460.9 744.4L461.9 743.7L462.9 743.6L463.9 743.6L464.9 743.3L465.9 743.2L466.8 743.3L467.8 743.3L468.8 743.1L469.8 743.0L470.8 743.2L471.8 743.0L472.8 742.9L473.8 743.1L474.7 742.8L475.7 742.9L476.7 743.0L477.7 742.8L478.7 742.8L479.7 742.9L480.7 742.7L481.7 742.7L482.6 742.7L483.6 743.0L484.6 742.7L485.6 743.0L486.6 757.7L487.5 758.0L488.5 758.3L489.5 758.7L490.5 759.0L491.5 759.2L492.5 759.3L493.5 759.8L494.5 760.1L495.5 760.3L496.5 760.6L497.5 760.8L498.5 761.0L499.5 761.3L500.5 761.2L501.5 761.5L502.5 761.4L503.5 761.9L504.4 762.0L505.4 762.4L506.4 762.3L507.4 762.3L508.4 762.8L509.4 762.7L510.4 762.8L511.4 763.0L512.4 763.2L513.4 763.2L514.4 763.4L515.4 763.3L516.4 763.8L517.4 763.7L518.4 763.8L519.4 764.0L520.4 764.0L521.4 764.1L522.4 764.1L523.4 764.2L524.4 764.4L525.4 764.5L526.4 764.5L527.4 764.5L528.4 764.6L529.4 764.7L530.4 764.7L531.4 764.8L532.4 764.8L533.4 765.0L534.4 765.0L535.4 765.0L536.3 765.4L537.3 765.2L538.3 765.2L539.3 765.2L540.3 765.1L541.3 765.4L542.3 765.3L543.3 765.3L544.3 765.5L545.3 765.5L546.3 765.4L547.3 765.5L548.3 765.7L549.3 765.6L550.3 765.4L551.3 765.6L552.3 765.6L553.3 765.6L554.3 765.7L555.3 765.7L556.3 765.9L557.3 765.7L558.3 765.7L559.3 765.9L560.3 765.7L561.3 765.9L562.3 765.8L563.3 765.9L564.3 765.7L565.3 765.9L566.3 765.7L567.3 765.8L568.2 765.9L569.2 765.9L570.2 766.1L571.2 766.1L572.2 765.8L573.2 765.9L574.2 766.1L575.2 766.0L576.2 765.8L577.2 766.0L578.2 765.9L579.2 765.9L580.2 765.9L581.2 766.0L582.2 766.2L583.2 766.1L584.2 766.0" fill="none" stroke="#66bb66" stroke-width="0.6" stroke-linejoin="round"/>
<path d="M421.6 763.2L422.6 762.9L423.6 763.0L424.6 763.0L425.6 763.1L426.6 763.1L427.6 763.3L428.6 763.2L429.6 763.3L430.6 763.3L431.6 763.2L432.6 763.3L433.6 763.4L434.6 763.2L435.6 763.5L436.6 763.5L437.6 763.6L438.6 763.6L439.6 763.7L440.6 763.7L441.6 763.8L442.6 763.6L443.6 763.9L444.6 763.8L445.6 764.0L446.6 763.9L447.6 763.9L448.6 764.0L449.6 764.2L450.6 764.0L451.6 764.0L452.6 764.2L452.9 766.0L453.9 748.0L455.0 746.3L456.0 745.5L457.0 744.7L458.0 744.2L458.9 744.0L459.9 743.3L460.9 743.3L461.9 743.0L462.9 742.7L463.9 742.4L464.9 742.7L465.9 742.3L466.8 742.3L467.8 742.1L468.8 741.9L469.8 742.0L470.8 742.0L471.8 741.8L472.8 741.9L473.8 742.1L474.7 742.0L475.7 741.9L476.7 742.0L477.7 742.0L478.7 742.0L479.7 741.7L480.7 741.6L481.7 741.9L482.6 741.8L483.6 741.8L484.6 741.9L485.6 741.7L486.6 756.7L487.5 756.9L488.5 757.5L489.5 757.5L490.5 758.0L491.5 758.3L492.5 758.7L493.5 758.8L494.5 759.0L495.5 759.1L496.5 759.5L497.5 759.5L498.5 759.9L499.5 760.1L500.5 760.3L501.5 760.5L502.5 760.8L503.5 760.7L504.4 761.1L505.4 761.2L506.4 761.4L507.4 761.5L508.4 761.8L509.4 761.7L510.4 762.1L511.4 762.2L512.4 762.2L513.4 762.2L514.4 762.3L515.4 762.4L516.4 762.8L517.4 762.5L518.4 762.9L519.4 762.8L520.4 763.2L521.4 763.1L522.4 763.0L523.4 763.2L524.4 763.3L525.4 763.4L526.4 763.4L527.4 763.5L528.4 763.6L529.4 763.7L530.4 763.8L531.4 763.8L532.4 763.8L533.4 764.0L534.4 763.9L535.4 763.9L536.3 764.0L537.3 764.1L538.3 764.1L539.3 764.0L540.3 764.3L541.3 764.3L542.3 764.4L543.3 764.3L544.3 764.4L545.3 764.4L546.3 764.4L547.3 764.6L548.3 764.4L549.3 764.6L550.3 764.4L551.3 764.6L552.3 764.6L553.3 764.5L554.3 764.6L555.3 764.4L556.3 764.6L557.3 764.7L558.3 764.5L559.3 764.8L560.3 764.9L561.3 764.7L562.3 764.6L563.3 764.7L564.3 764.7L565.3 764.8L566.3 765.1L567.3 764.8L568.2 765.0L569.2 765.0L570.2 764.8L571.2 764.9L572.2 765.0L573.2 764.9L574.2 765.1L575.2 765.2L576.2 765.0L577.2 764.9L578.2 765.0L579.2 765.0L580.2 764.9L581.2 765.0L582.2 765.0L583.2 765.1L584.2 765.1" fill="none" stroke="#ff7070" stroke-width="0.6" stroke-linejoin="round"/>
<path d="M421.6 763.3L422.6 763.2L423.6 763.2L424.6 763.6L425.6 763.4L426.6 763.5L427.6 763.8L428.6 763.7L429.6 763.9L430.6 763.7L431.6 763.7L432.6 763.7L433.6 763.9L434.6 763.9L435.6 763.9L436.6 764.2L437.6 764.1L438.6 763.9L439.6 764.1L440.6 764.2L441.6 764.1L442.6 764.4L443.6 764.3L444.6 764.4L445.6 764.3L446.6 764.2L447.6 764.5L448.6 764.4L449.6 764.4L450.6 764.5L451.6 764.6L452.6 764.6L452.9 833.0L453.9 748.4L455.0 746.7L456.0 746.0L457.0 745.7L458.0 744.9L458.9 744.2L459.9 744.2L460.9 743.5L461.9 743.1L462.9 742.9L463.9 742.7L464.9 743.0L465.9 742.5L466.8 742.4L467.8 742.5L468.8 742.5L469.8 742.2L470.8 742.3L471.8 742.4L472.8 742.4L473.8 742.2L474.7 742.4L475.7 742.3L476.7 742.3L477.7 742.2L478.7 742.1L479.7 742.4L480.7 742.3L481.7 742.1L482.6 742.1L483.6 742.3L484.6 742.5L485.6 742.3L486.0 705.4L486.3 808.8L486.6 757.1L487.5 757.7L488.5 757.8L489.5 758.1L490.5 758.4L491.5 758.7L492.5 758.7L493.5 759.2L494.5 759.5L495.5 759.5L496.5 759.9L497.5 760.2L498.5 760.5L499.5 760.7L500.5 760.7L501.5 761.1L502.5 761.0L503.5 761.1L504.4 761.6L505.4 761.7L506.4 761.6L507.4 762.0L508.4 762.1L509.4 762.3L510.4 762.3L511.4 762.3L512.4 762.4L513.4 762.7L514.4 762.8L515.4 762.9L516.4 763.0L517.4 763.2L518.4 763.1L519.4 763.2L520.4 763.6L521.4 763.4L522.4 763.5L523.4 763.8L524.4 763.5L525.4 764.0L526.4 763.7L527.4 763.9L528.4 763.9L529.4 764.0L530.4 764.0L531.4 764.3L532.4 764.2L533.4 764.4L534.4 764.4L535.4 764.3L536.3 764.4L537.3 764.4L538.3 764.5L539.3 764.6L540.3 764.6L541.3 764.7L542.3 764.5L543.3 764.7L544.3 764.7L545.3 765.0L546.3 764.8L547.3 764.8L548.3 764.9L549.3 765.0L550.3 764.8L551.3 764.9L552.3 765.0L553.3 765.0L554.3 765.0L555.3 765.0L556.3 765.1L557.3 765.0L558.3 765.3L559.3 765.1L560.3 765.0L561.3 765.1L562.3 765.3L563.3 765.2L564.3 765.2L565.3 765.0L566.3 765.4L567.3 765.3L568.2 765.1L569.2 765.2L570.2 765.4L571.2 765.3L572.2 765.2L573.2 765.3L574.2 765.4L575.2 765.6L576.2 765.4L577.2 765.4L578.2 765.3L579.2 765.4L580.2 765.3L581.2 765.3L582.2 765.3L583.2 765.4L584.2 765.6" fill="none" stroke="#7070ff" stroke-width="0.6" stroke-linejoin="round"/>
<text x="71.8" y="908.9" font-size="11.5" fill="#111" textLength="142" lengthAdjust="spacingAndGlyphs">Abd-2a-KRAS<tspan font-size="8.3" dy="-4.1">G12V</tspan><tspan dy="4.1">-GppNHp</tspan></text>
<text x="49.9" y="929.5" font-size="17.8" font-weight="bold">i</text>
<path d="M40.5 911.7V1058.9H240.8M34 961.2H40.5M34 980.7H40.5M34 1000.2H40.5M34 1019.7H40.5M34 1039.2H40.5M73.6 1058.9V1068.4M106.7 1058.9V1068.4M139.8 1058.9V1068.4M172.9 1058.9V1068.4" fill="none" stroke="#333" stroke-width="1.1"/>
<text x="30" y="965.4" font-size="12" text-anchor="end" fill="#111">15</text>
<text x="30" y="984.9" font-size="12" text-anchor="end" fill="#111">10</text>
<text x="30" y="1004.4" font-size="12" text-anchor="end" fill="#111">5</text>
<text x="30" y="1023.9" font-size="12" text-anchor="end" fill="#111">0</text>
<text x="30" y="1043.4" font-size="12" text-anchor="end" fill="#111">−5</text>
<text x="73.6" y="1084.3" font-size="12.5" text-anchor="middle" fill="#111">50</text>
<text x="106.7" y="1084.3" font-size="12.5" text-anchor="middle" fill="#111">100</text>
<text x="139.8" y="1084.3" font-size="12.5" text-anchor="middle" fill="#111">150</text>
<text x="172.9" y="1084.3" font-size="12.5" text-anchor="middle" fill="#111">200</text>
<text x="10.2" y="997.7" font-size="13" text-anchor="middle" fill="#111" textLength="16.8" lengthAdjust="spacingAndGlyphs" transform="rotate(-90 10.2 997.7)">RU</text>
<text x="141.9" y="1101.4" font-size="12.2" text-anchor="middle" fill="#111" textLength="47.5" lengthAdjust="spacingAndGlyphs">Time (s)</text>
<path d="M142.5 953.3L153.8 959.8M153.8 959.8L153.8 972.8M153.8 972.8L142.5 979.3M142.5 979.3L131.2 972.8M131.2 972.8L131.2 959.8M131.2 959.8L142.5 953.3M143.1 956.2L151 960.7M151 971.9L143.1 976.4M133.5 970.8L133.5 961.8M153.8 959.8L161.6 955.2M168.4 955.2L176.3 959.8M176.3 959.8L176.3 972.8M176.3 972.8L168.4 977.3M161.6 977.3L153.8 972.8M187.5 953.3L197.2 957.8M204.8 957.8L212.6 953.3M211.7 953.3L211.7 944.2M213.6 953.3L213.6 944.2M212.6 953.3L223.9 959.8M223.9 959.8L232 955.7M238.3 956.8L244.7 963.2M244.7 963.2L238.7 974.8M238.7 974.8L225.8 972.7M225.8 972.7L223.9 959.8M226.4 961.8L227.7 970M237.8 971.7L241.6 964.3" stroke="#3a3a3a" stroke-width="0.8" fill="none" stroke-linecap="round"/>
<path d="M176.3 959.8L188.1 954.3L186.9 952.3Z" fill="#3a3a3a"/>
<text x="165" y="956.2" font-size="8.1" fill="#3a3a3a" text-anchor="middle">O</text>
<text x="165" y="982.2" font-size="8.1" fill="#3a3a3a" text-anchor="middle">O</text>
<text x="201.4" y="962.7" font-size="8.1" fill="#3a3a3a" text-anchor="middle">N</text>
<text x="201.4" y="969.2" font-size="8.1" fill="#3a3a3a" text-anchor="middle">H</text>
<text x="212.6" y="943.2" font-size="8.1" fill="#3a3a3a" text-anchor="middle">O</text>
<text x="235.5" y="956.9" font-size="8.1" fill="#3a3a3a" text-anchor="middle">O</text>
<path d="M40.5 1038.9L41.5 1039.0L42.5 1039.4L43.5 1039.1L44.5 1039.5L45.5 1039.3L46.5 1039.9L47.4 1039.9L48.4 1040.1L49.4 1039.0L50.4 1037.3L51.4 1039.7L52.4 1039.1L53.4 1037.6L54.4 1040.0L55.4 1040.6L56.4 1040.9L57.4 1040.9L58.4 1040.9L59.4 1041.4L60.3 1041.2L61.3 1041.2L62.3 1041.4L63.3 1041.4L64.3 1041.5L65.3 1041.6L66.3 1042.1L67.3 1041.9L68.3 1042.0L69.3 1042.2L70.3 1042.5L71.3 1042.3L72.2 1042.3L73.2 1042.9L74.2 1042.4L75.2 1042.7L76.2 1042.9L77.2 1043.3L78.2 1042.9L78.8 1054.4L80.2 1029.3L81.2 1023.9L82.2 1018.6L83.2 1014.2L84.2 1010.3L85.2 1006.9L86.2 1003.9L87.1 1001.2L88.1 999.1L89.1 997.1L90.1 995.1L91.1 993.5L92.1 992.3L93.1 991.1L94.1 989.9L95.1 989.0L96.1 988.4L97.1 987.5L98.1 986.9L99.0 986.4L100.0 985.9L101.0 985.5L102.0 984.9L103.0 985.1L104.0 984.9L105.0 984.8L106.0 985.1L107.0 985.1L108.0 985.1L109.0 985.3L110.0 985.6L111.0 985.6L111.9 985.8L112.9 986.1L113.9 985.9L114.9 986.1L115.9 986.5L116.9 986.4L117.9 986.8L118.3 986.8L119.1 984.1L120.1 987.7L121.1 990.9L122.1 993.6L123.1 996.8L124.1 999.1L125.1 1001.5L126.1 1003.6L127.1 1005.3L128.1 1007.1L129.1 1008.8L130.1 1010.7L131.1 1011.8L132.1 1013.2L133.1 1014.5L134.1 1015.7L135.1 1016.8L136.1 1017.8L137.1 1018.6L138.1 1019.3L139.1 1020.5L140.1 1021.3L141.1 1022.2L142.1 1022.8L143.1 1023.4L144.1 1024.2L145.1 1024.5L146.1 1025.2L147.1 1025.8L148.1 1026.5L149.1 1027.2L150.1 1027.5L151.1 1028.1L152.1 1028.4L153.1 1028.9L154.1 1029.2L155.1 1029.6L156.1 1029.8L157.1 1030.3L158.1 1030.7L159.1 1031.3L160.1 1031.6L161.1 1032.0L162.1 1032.4L163.1 1032.5L164.1 1033.0L165.1 1033.4L166.1 1033.4L167.1 1033.9L168.1 1034.0L169.1 1034.1L170.1 1034.6L171.1 1034.7L172.1 1035.1L173.1 1035.3L174.1 1035.6L175.1 1035.5L176.1 1036.3L177.1 1036.4L178.1 1036.4L179.1 1036.6L180.0 1036.9L181.0 1037.2L182.0 1037.3L183.0 1037.5L184.0 1037.4L185.0 1037.7L186.0 1038.2L187.0 1038.2L188.0 1038.2L189.0 1038.4L190.0 1038.5L191.0 1038.7L192.0 1039.2L193.0 1039.2L194.0 1039.5L195.0 1039.5L196.0 1039.4L197.0 1039.7L198.0 1040.2L199.0 1039.9L200.0 1040.0L201.0 1040.4L202.0 1040.4L203.0 1040.5L204.0 1040.8L205.0 1040.6L206.0 1040.9L207.0 1040.9L208.0 1040.9L209.0 1041.1L210.0 1041.5L211.0 1041.4L212.0 1041.3L213.0 1041.5L214.0 1041.9L215.0 1041.9L216.0 1041.8L217.0 1042.3L218.0 1042.0L219.0 1042.0L220.0 1042.2L221.0 1042.5L222.0 1042.6L223.0 1042.6L224.0 1042.5L225.0 1042.6L226.0 1042.5L227.0 1042.8L228.0 1042.8L229.0 1043.0L230.0 1042.8L231.0 1043.0L232.0 1043.0L233.0 1043.0L234.0 1043.1L235.0 1043.2L236.0 1043.2L237.0 1043.5L238.0 1043.5L239.0 1043.4L240.0 1043.7" fill="none" stroke="#ff7a7a" stroke-width="0.5" stroke-linejoin="round"/>
<path d="M40.5 1034.9L41.5 1035.2L42.5 1035.1L43.5 1035.2L44.5 1035.2L45.5 1035.4L46.5 1035.6L47.4 1035.7L48.4 1035.7L49.4 1035.0L50.4 1033.0L51.4 1035.6L52.4 1034.9L53.4 1033.5L54.4 1035.9L55.4 1036.3L56.4 1036.6L57.4 1037.0L58.4 1036.9L59.4 1036.9L60.3 1036.9L61.3 1037.2L62.3 1037.4L63.3 1037.5L64.3 1037.4L65.3 1037.5L66.3 1037.5L67.3 1037.7L68.3 1037.7L69.3 1037.9L70.3 1037.7L71.3 1037.9L72.2 1038.3L73.2 1038.2L74.2 1038.5L75.2 1038.3L76.2 1038.6L77.2 1038.8L78.2 1038.7L78.8 1054.4L80.2 1029.1L81.2 1024.0L82.2 1018.8L83.2 1014.6L84.2 1010.9L85.2 1007.8L86.2 1004.9L87.1 1002.6L88.1 1000.4L89.1 998.4L90.1 996.7L91.1 995.1L92.1 993.8L93.1 992.8L94.1 992.0L95.1 991.1L96.1 990.4L97.1 989.7L98.1 989.0L99.0 988.8L100.0 988.0L101.0 987.6L102.0 987.3L103.0 987.3L104.0 987.1L105.0 987.1L106.0 987.2L107.0 987.4L108.0 987.3L109.0 987.4L110.0 987.7L111.0 987.8L111.9 988.0L112.9 987.9L113.9 988.2L114.9 988.4L115.9 988.3L116.9 988.9L117.9 988.9L118.3 988.9L119.1 985.2L120.1 989.0L121.1 991.9L122.1 994.7L123.1 997.4L124.1 999.9L125.1 1002.2L126.1 1004.1L127.1 1005.9L128.1 1007.7L129.1 1009.3L130.1 1010.8L131.1 1012.3L132.1 1013.5L133.1 1014.8L134.1 1015.8L135.1 1016.9L136.1 1017.9L137.1 1018.8L138.1 1019.9L139.1 1020.5L140.1 1021.4L141.1 1022.1L142.1 1022.6L143.1 1023.5L144.1 1024.1L145.1 1024.4L146.1 1025.3L147.1 1025.9L148.1 1026.2L149.1 1027.0L150.1 1027.3L151.1 1027.6L152.1 1028.3L153.1 1028.6L154.1 1028.9L155.1 1029.2L156.1 1029.9L157.1 1030.1L158.1 1030.7L159.1 1031.0L160.1 1031.2L161.1 1031.5L162.1 1032.1L163.1 1032.4L164.1 1032.6L165.1 1032.8L166.1 1033.0L167.1 1033.3L168.1 1033.9L169.1 1034.0L170.1 1034.1L171.1 1034.3L172.1 1034.7L173.1 1034.8L174.1 1035.1L175.1 1035.5L176.1 1035.7L177.1 1035.8L178.1 1036.0L179.1 1036.3L180.0 1036.6L181.0 1036.7L182.0 1036.6L183.0 1037.2L184.0 1037.2L185.0 1037.8L186.0 1037.5L187.0 1037.7L188.0 1037.8L189.0 1038.1L190.0 1038.1L191.0 1038.2L192.0 1038.3L193.0 1038.6L194.0 1038.7L195.0 1038.9L196.0 1039.3L197.0 1039.3L198.0 1039.5L199.0 1039.4L200.0 1039.6L201.0 1039.7L202.0 1039.8L203.0 1040.1L204.0 1040.2L205.0 1040.2L206.0 1040.3L207.0 1040.2L208.0 1040.4L209.0 1040.7L210.0 1040.7L211.0 1040.7L212.0 1041.0L213.0 1040.9L214.0 1041.0L215.0 1041.3L216.0 1041.3L217.0 1041.6L218.0 1041.5L219.0 1041.6L220.0 1041.8L221.0 1041.4L222.0 1041.8L223.0 1041.7L224.0 1041.9L225.0 1042.0L226.0 1042.2L227.0 1042.1L228.0 1042.4L229.0 1042.2L230.0 1042.3L231.0 1042.4L232.0 1042.6L233.0 1042.5L234.0 1042.5L235.0 1042.6L236.0 1042.5L237.0 1042.9L238.0 1042.9L239.0 1042.9L240.0 1043.0" fill="none" stroke="#70bb70" stroke-width="0.5" stroke-linejoin="round"/>
<path d="M40.5 1037.6L41.5 1037.7L42.5 1038.0L43.5 1037.9L44.5 1038.0L45.5 1038.5L46.5 1038.6L47.4 1038.5L48.4 1038.6L49.4 1037.7L50.4 1036.0L51.4 1038.3L52.4 1037.8L53.4 1036.3L54.4 1039.0L55.4 1039.2L56.4 1039.4L57.4 1039.4L58.4 1039.5L59.4 1039.6L60.3 1039.8L61.3 1040.0L62.3 1039.9L63.3 1040.0L64.3 1040.1L65.3 1040.3L66.3 1040.5L67.3 1040.3L68.3 1040.7L69.3 1040.6L70.3 1040.9L71.3 1040.8L72.2 1040.9L73.2 1041.0L74.2 1041.2L75.2 1041.2L76.2 1041.5L77.2 1041.6L78.2 1041.6L78.8 1054.4L80.2 1029.8L81.2 1024.5L82.2 1019.6L83.2 1015.6L84.2 1012.0L85.2 1008.6L86.2 1006.1L87.1 1003.5L88.1 1001.4L89.1 999.6L90.1 998.0L91.1 996.6L92.1 995.4L93.1 994.2L94.1 993.4L95.1 992.5L96.1 991.7L97.1 991.1L98.1 990.6L99.0 990.1L100.0 989.7L101.0 989.2L102.0 989.0L103.0 988.9L104.0 988.7L105.0 988.4L106.0 988.9L107.0 988.7L108.0 988.7L109.0 988.6L110.0 989.1L111.0 989.3L111.9 989.4L112.9 989.4L113.9 989.8L114.9 989.8L115.9 989.9L116.9 990.2L117.9 990.4L118.3 990.4L119.1 987.6L120.1 991.0L121.1 993.8L122.1 997.1L123.1 999.4L124.1 1002.0L125.1 1004.0L126.1 1006.1L127.1 1007.9L128.1 1009.5L129.1 1011.3L130.1 1012.8L131.1 1013.9L132.1 1015.1L133.1 1016.4L134.1 1017.5L135.1 1018.6L136.1 1019.6L137.1 1020.7L138.1 1021.4L139.1 1022.1L140.1 1022.9L141.1 1023.3L142.1 1024.2L143.1 1024.8L144.1 1025.5L145.1 1026.2L146.1 1026.7L147.1 1027.3L148.1 1027.7L149.1 1028.3L150.1 1028.7L151.1 1029.2L152.1 1029.6L153.1 1030.0L154.1 1030.4L155.1 1030.8L156.1 1031.3L157.1 1031.5L158.1 1031.9L159.1 1032.6L160.1 1032.7L161.1 1033.0L162.1 1033.3L163.1 1033.4L164.1 1033.9L165.1 1034.2L166.1 1034.4L167.1 1034.8L168.1 1035.0L169.1 1035.3L170.1 1035.4L171.1 1035.7L172.1 1035.9L173.1 1036.3L174.1 1036.4L175.1 1036.4L176.1 1036.8L177.1 1036.9L178.1 1037.3L179.1 1037.4L180.0 1037.4L181.0 1037.8L182.0 1038.1L183.0 1038.2L184.0 1038.3L185.0 1038.6L186.0 1038.8L187.0 1039.1L188.0 1039.2L189.0 1039.2L190.0 1039.3L191.0 1039.5L192.0 1039.7L193.0 1039.8L194.0 1040.0L195.0 1039.9L196.0 1040.3L197.0 1040.4L198.0 1040.5L199.0 1040.6L200.0 1040.7L201.0 1040.9L202.0 1041.1L203.0 1041.1L204.0 1041.2L205.0 1041.2L206.0 1041.5L207.0 1041.5L208.0 1041.5L209.0 1041.9L210.0 1041.7L211.0 1041.9L212.0 1041.9L213.0 1041.9L214.0 1042.3L215.0 1042.1L216.0 1042.1L217.0 1042.4L218.0 1042.4L219.0 1042.6L220.0 1042.9L221.0 1042.7L222.0 1042.9L223.0 1043.0L224.0 1043.0L225.0 1043.1L226.0 1043.3L227.0 1043.2L228.0 1043.3L229.0 1043.4L230.0 1043.3L231.0 1043.5L232.0 1043.5L233.0 1043.7L234.0 1043.7L235.0 1043.9L236.0 1043.5L237.0 1043.8L238.0 1043.8L239.0 1043.8L240.0 1044.0" fill="none" stroke="#7a7aff" stroke-width="0.5" stroke-linejoin="round"/>
<path d="M118.3 916.3V1049.4" stroke="#5cb05c" stroke-width="0.7"/>
<path d="M118.6 925V1026" stroke="#4848e8" stroke-width="0.7"/>
<text x="286.3" y="908.9" font-size="11.5" fill="#111" textLength="142" lengthAdjust="spacingAndGlyphs">Abd-2b-KRAS<tspan font-size="8.3" dy="-4.1">G12V</tspan><tspan dy="4.1">-GppNHp</tspan></text>
<text x="268.3" y="929.2" font-size="16.3" font-weight="bold">j</text>
<path d="M257.2 912.8V1058.9H458M252.2 960.1H257.2M252.2 980.4H257.2M252.2 999.7H257.2M252.2 1019.6H257.2M252.2 1038.9H257.2M290.6 1058.9V1068.4M323.6 1058.9V1068.4M356.6 1058.9V1068.4M389.6 1058.9V1068.4" fill="none" stroke="#333" stroke-width="1.1"/>
<text x="290.6" y="1084.3" font-size="12.5" text-anchor="middle" fill="#111">50</text>
<text x="323.6" y="1084.3" font-size="12.5" text-anchor="middle" fill="#111">100</text>
<text x="356.6" y="1084.3" font-size="12.5" text-anchor="middle" fill="#111">150</text>
<text x="389.6" y="1084.3" font-size="12.5" text-anchor="middle" fill="#111">200</text>
<text x="357.5" y="1101.4" font-size="12.2" text-anchor="middle" fill="#111" textLength="47.5" lengthAdjust="spacingAndGlyphs">Time (s)</text>
<path d="M355.2 961.9L366.5 968.5M366.5 968.5L366.5 981.5M366.5 981.5L355.2 988.1M355.2 988.1L343.9 981.5M343.9 981.5L343.9 968.5M343.9 968.5L355.2 961.9M355.8 964.8L363.7 969.4M363.7 980.6L355.8 985.2M346.1 979.6L346.1 970.4M366.5 968.5L374.5 963.9M381.3 963.9L389.2 968.5M389.2 968.5L389.2 981.5M389.2 981.5L381.3 986.1M374.5 986.1L366.5 981.5M390.8 967.8L390.6 967.4M392.4 967.1L391.9 966.4M393.9 966.5L393.3 965.4M395.5 965.8L394.7 964.4M397 965.1L396 963.3M398.6 964.5L397.4 962.3M400.6 961.9L410.4 966.5M417.9 966.5L425.9 961.9M425 961.9L425 952.7M426.8 961.9L426.8 952.7M425.9 961.9L437.2 968.5M437.2 968.5L445.4 964.3M451.7 965.4L458.1 971.9M458.1 971.9L452.1 983.5M452.1 983.5L439.2 981.4M439.2 981.4L437.2 968.5M439.8 970.4L441 978.7M451.2 980.4L455.1 973" stroke="#3a3a3a" stroke-width="0.8" fill="none" stroke-linecap="round"/>
<text x="377.9" y="964.8" font-size="8.1" fill="#3a3a3a" text-anchor="middle">O</text>
<text x="377.9" y="991" font-size="8.1" fill="#3a3a3a" text-anchor="middle">O</text>
<text x="414.5" y="971.4" font-size="8.1" fill="#3a3a3a" text-anchor="middle">N</text>
<text x="414.5" y="977.9" font-size="8.1" fill="#3a3a3a" text-anchor="middle">H</text>
<text x="425.9" y="951.7" font-size="8.1" fill="#3a3a3a" text-anchor="middle">O</text>
<text x="448.9" y="965.5" font-size="8.1" fill="#3a3a3a" text-anchor="middle">O</text>
<path d="M257.2 1039.0L258.2 1038.7L259.2 1038.9L260.2 1039.0L261.2 1039.3L262.2 1039.1L263.3 1038.9L264.3 1039.2L265.3 1039.0L266.3 1039.4L267.3 1039.2L268.3 1039.6L269.3 1039.3L270.3 1039.2L271.3 1039.2L272.4 1039.4L273.4 1039.5L274.4 1039.7L275.4 1039.6L276.4 1039.5L277.4 1039.7L278.4 1039.4L279.4 1039.8L280.4 1039.6L281.4 1040.0L282.4 1039.9L283.5 1039.9L284.5 1039.7L285.5 1040.0L286.5 1040.0L287.5 1039.9L288.1 1053.0L289.5 1028.9L290.5 1021.8L291.5 1015.2L292.5 1009.9L293.5 1005.3L294.5 1001.0L295.5 997.9L296.5 994.9L297.5 992.2L298.5 990.0L299.5 988.1L300.5 986.7L301.5 984.9L302.5 984.2L303.5 983.1L304.5 982.1L305.5 981.4L306.5 980.8L307.5 980.3L308.4 979.9L309.4 979.4L310.4 979.6L311.4 979.6L312.4 979.5L313.4 979.6L314.4 979.6L315.4 979.8L316.4 980.0L317.4 980.3L318.4 980.2L319.4 980.4L320.4 980.7L321.4 980.8L322.4 981.0L323.4 981.6L324.4 981.5L325.4 981.7L326.4 982.0L326.8 982.1L327.6 985.1L328.6 988.8L329.6 991.9L330.6 994.4L331.6 996.9L332.6 999.3L333.6 1001.3L334.6 1003.5L335.6 1005.3L336.6 1007.3L337.6 1008.5L338.6 1009.9L339.6 1011.2L340.6 1012.4L341.6 1013.9L342.6 1015.0L343.6 1015.8L344.6 1016.7L345.6 1017.8L346.6 1018.6L347.6 1019.5L348.6 1020.2L349.6 1020.8L350.6 1021.4L351.6 1022.3L352.6 1022.9L353.6 1023.5L354.6 1024.1L355.6 1024.7L356.6 1025.0L357.6 1025.6L358.6 1025.8L359.6 1026.5L360.6 1026.9L361.6 1027.4L362.6 1027.8L363.6 1028.0L364.6 1028.5L365.6 1029.0L366.6 1029.1L367.6 1029.6L368.6 1029.8L369.6 1030.3L370.6 1030.5L371.6 1030.7L372.6 1030.9L373.6 1031.1L374.6 1031.8L375.6 1031.9L376.6 1032.1L377.6 1032.4L378.6 1032.6L379.6 1033.0L380.6 1033.3L381.6 1033.2L382.6 1033.7L383.6 1033.9L384.5 1034.1L385.5 1034.3L386.5 1034.7L387.5 1034.7L388.5 1035.0L389.5 1035.2L390.5 1035.1L391.5 1035.7L392.5 1035.7L393.5 1035.8L394.5 1036.1L395.5 1036.4L396.5 1036.2L397.5 1036.4L398.5 1036.7L399.5 1036.6L400.5 1036.8L401.5 1037.1L402.5 1037.3L403.5 1037.4L404.5 1037.6L405.5 1037.8L406.5 1037.7L407.5 1037.8L408.5 1038.0L409.5 1038.1L410.5 1038.4L411.5 1038.5L412.5 1038.2L413.5 1038.6L414.5 1038.6L415.5 1038.7L416.5 1039.1L417.5 1039.2L418.5 1039.2L419.5 1039.3L420.5 1039.5L421.5 1039.2L422.5 1039.6L423.5 1039.5L424.5 1039.6L425.5 1039.5L426.5 1040.0L427.5 1040.1L428.5 1040.1L429.5 1040.0L430.5 1040.2L431.5 1040.1L432.5 1040.2L433.5 1040.5L434.5 1040.6L435.5 1040.6L436.5 1040.6L437.5 1040.6L438.5 1040.7L439.5 1040.7L440.5 1040.9" fill="none" stroke="#ff7a7a" stroke-width="0.5" stroke-linejoin="round"/>
<path d="M257.2 1039.0L258.2 1039.3L259.2 1039.2L260.2 1039.3L261.2 1039.3L262.2 1039.6L263.3 1039.5L264.3 1039.3L265.3 1039.3L266.3 1039.6L267.3 1039.5L268.3 1039.5L269.3 1039.6L270.3 1039.9L271.3 1039.6L272.4 1039.9L273.4 1039.6L274.4 1039.7L275.4 1039.8L276.4 1039.8L277.4 1039.8L278.4 1039.7L279.4 1039.9L280.4 1039.9L281.4 1040.0L282.4 1040.2L283.5 1040.2L284.5 1040.3L285.5 1040.2L286.5 1040.3L287.5 1040.3L288.1 1053.0L289.5 1029.3L290.5 1022.9L291.5 1017.2L292.5 1012.5L293.5 1008.5L294.5 1005.1L295.5 1002.1L296.5 999.3L297.5 997.3L298.5 995.4L299.5 993.7L300.5 992.5L301.5 991.2L302.5 989.9L303.5 989.3L304.5 988.6L305.5 987.7L306.5 987.4L307.5 986.5L308.4 986.6L309.4 986.0L310.4 986.0L311.4 986.0L312.4 985.9L313.4 986.2L314.4 986.1L315.4 986.2L316.4 986.2L317.4 986.7L318.4 986.9L319.4 986.9L320.4 987.1L321.4 987.5L322.4 987.6L323.4 987.8L324.4 988.0L325.4 988.2L326.4 988.4L326.8 988.3L327.6 991.4L328.6 994.4L329.6 997.1L330.6 999.6L331.6 1001.7L332.6 1004.0L333.6 1006.0L334.6 1008.0L335.6 1009.5L336.6 1010.8L337.6 1012.5L338.6 1013.9L339.6 1015.0L340.6 1016.1L341.6 1017.2L342.6 1018.1L343.6 1019.2L344.6 1019.8L345.6 1020.7L346.6 1021.3L347.6 1022.2L348.6 1022.8L349.6 1023.5L350.6 1024.2L351.6 1024.9L352.6 1025.1L353.6 1025.8L354.6 1026.2L355.6 1026.7L356.6 1027.2L357.6 1027.7L358.6 1027.9L359.6 1028.7L360.6 1028.9L361.6 1029.2L362.6 1029.4L363.6 1030.1L364.6 1030.4L365.6 1030.8L366.6 1031.0L367.6 1031.5L368.6 1031.8L369.6 1032.1L370.6 1032.2L371.6 1032.5L372.6 1032.6L373.6 1033.0L374.6 1033.1L375.6 1033.4L376.6 1033.7L377.6 1033.9L378.6 1034.1L379.6 1034.4L380.6 1034.5L381.6 1034.7L382.6 1034.9L383.6 1035.2L384.5 1035.4L385.5 1035.7L386.5 1036.0L387.5 1035.8L388.5 1036.2L389.5 1036.1L390.5 1036.4L391.5 1036.5L392.5 1036.8L393.5 1037.1L394.5 1037.2L395.5 1037.2L396.5 1037.5L397.5 1037.5L398.5 1037.5L399.5 1038.0L400.5 1037.8L401.5 1038.0L402.5 1038.2L403.5 1038.2L404.5 1038.3L405.5 1038.6L406.5 1038.5L407.5 1038.7L408.5 1038.7L409.5 1038.7L410.5 1039.1L411.5 1039.2L412.5 1039.2L413.5 1039.6L414.5 1039.4L415.5 1039.6L416.5 1039.6L417.5 1039.8L418.5 1039.9L419.5 1039.8L420.5 1040.2L421.5 1040.1L422.5 1040.2L423.5 1040.2L424.5 1040.4L425.5 1040.3L426.5 1040.3L427.5 1040.6L428.5 1040.6L429.5 1040.7L430.5 1040.8L431.5 1041.0L432.5 1040.8L433.5 1040.7L434.5 1041.0L435.5 1040.9L436.5 1041.1L437.5 1041.1L438.5 1041.3L439.5 1041.6L440.5 1041.4" fill="none" stroke="#70bb70" stroke-width="0.5" stroke-linejoin="round"/>
<path d="M257.2 1039.0L258.2 1039.1L259.2 1039.1L260.2 1039.1L261.2 1039.4L262.2 1039.4L263.3 1039.6L264.3 1039.6L265.3 1039.5L266.3 1039.5L267.3 1039.5L268.3 1039.6L269.3 1039.6L270.3 1039.4L271.3 1040.1L272.4 1040.0L273.4 1039.8L274.4 1039.8L275.4 1039.8L276.4 1040.0L277.4 1039.9L278.4 1039.6L279.4 1040.1L280.4 1040.1L281.4 1039.9L282.4 1039.9L283.5 1040.1L284.5 1040.0L285.5 1040.4L286.5 1040.4L287.5 1040.0L288.1 1053.0L289.5 1029.3L290.5 1022.7L291.5 1017.3L292.5 1012.9L293.5 1008.7L294.5 1005.4L295.5 1002.3L296.5 1000.0L297.5 997.6L298.5 996.1L299.5 994.2L300.5 992.7L301.5 991.6L302.5 990.6L303.5 989.9L304.5 988.9L305.5 988.5L306.5 988.0L307.5 987.5L308.4 986.8L309.4 986.9L310.4 986.8L311.4 986.8L312.4 986.5L313.4 986.7L314.4 986.9L315.4 986.9L316.4 987.1L317.4 987.1L318.4 987.3L319.4 987.5L320.4 988.0L321.4 987.8L322.4 988.0L323.4 988.1L324.4 988.5L325.4 988.7L326.4 988.8L326.8 988.9L327.6 991.7L328.6 995.1L329.6 997.6L330.6 1000.1L331.6 1002.5L332.6 1004.5L333.6 1006.5L334.6 1008.1L335.6 1009.9L336.6 1011.1L337.6 1013.0L338.6 1014.1L339.6 1015.3L340.6 1016.5L341.6 1017.3L342.6 1018.5L343.6 1019.4L344.6 1020.4L345.6 1021.0L346.6 1021.7L347.6 1022.5L348.6 1023.2L349.6 1023.8L350.6 1024.5L351.6 1025.1L352.6 1025.6L353.6 1026.1L354.6 1026.5L355.6 1026.9L356.6 1027.6L357.6 1027.9L358.6 1028.3L359.6 1028.6L360.6 1029.3L361.6 1029.6L362.6 1029.8L363.6 1030.3L364.6 1030.7L365.6 1031.1L366.6 1031.2L367.6 1031.6L368.6 1031.7L369.6 1032.0L370.6 1032.3L371.6 1032.6L372.6 1032.7L373.6 1033.2L374.6 1033.3L375.6 1033.5L376.6 1033.8L377.6 1034.3L378.6 1034.4L379.6 1034.5L380.6 1034.6L381.6 1034.8L382.6 1035.1L383.6 1035.4L384.5 1035.6L385.5 1035.7L386.5 1035.8L387.5 1036.1L388.5 1036.4L389.5 1036.4L390.5 1036.6L391.5 1036.7L392.5 1036.9L393.5 1037.2L394.5 1037.1L395.5 1037.5L396.5 1037.5L397.5 1037.7L398.5 1037.9L399.5 1038.0L400.5 1038.0L401.5 1038.2L402.5 1038.3L403.5 1038.4L404.5 1038.5L405.5 1038.8L406.5 1038.7L407.5 1039.0L408.5 1039.1L409.5 1039.0L410.5 1039.2L411.5 1039.2L412.5 1039.2L413.5 1039.5L414.5 1039.7L415.5 1039.7L416.5 1039.8L417.5 1039.9L418.5 1039.7L419.5 1040.0L420.5 1040.3L421.5 1040.4L422.5 1040.2L423.5 1040.2L424.5 1040.5L425.5 1040.5L426.5 1040.6L427.5 1040.6L428.5 1040.9L429.5 1040.9L430.5 1040.9L431.5 1041.0L432.5 1041.0L433.5 1041.2L434.5 1041.2L435.5 1041.3L436.5 1041.4L437.5 1041.3L438.5 1041.3L439.5 1041.6L440.5 1041.4" fill="none" stroke="#7a7aff" stroke-width="0.5" stroke-linejoin="round"/>
<path d="M326.8 912.8V1057.5" stroke="#ff5050" stroke-width="0.7"/>
<text x="499.3" y="908.9" font-size="11.5" fill="#111" textLength="136" lengthAdjust="spacingAndGlyphs">Abd-3-KRAS<tspan font-size="8.3" dy="-4.1">G12V</tspan><tspan dy="4.1">-GppNHp</tspan></text>
<text x="487" y="929.2" font-size="17.7" font-weight="bold">k</text>
<path d="M476.5 911V1058.2H663M468.8 959.4H476.5M468.8 979.3H476.5M468.8 998.6H476.5M468.8 1018.6H476.5M468.8 1037.9H476.5M510.4 1058.2V1067.7M543.5 1058.2V1067.7M576.5 1058.2V1067.7M609.6 1058.2V1067.7" fill="none" stroke="#333" stroke-width="1.1"/>
<text x="510.4" y="1084.1" font-size="12.5" text-anchor="middle" fill="#111">50</text>
<text x="543.5" y="1084.1" font-size="12.5" text-anchor="middle" fill="#111">100</text>
<text x="576.5" y="1084.1" font-size="12.5" text-anchor="middle" fill="#111">150</text>
<text x="609.6" y="1084.1" font-size="12.5" text-anchor="middle" fill="#111">200</text>
<text x="569.4" y="1100.8" font-size="12.2" text-anchor="middle" fill="#111" textLength="47.5" lengthAdjust="spacingAndGlyphs">Time (s)</text>
<path d="M600 957.9L611.3 964.5M611.3 964.5L611.3 977.5M611.3 977.5L600 984.1M600 984.1L588.7 977.5M588.7 977.5L588.7 964.5M588.7 964.5L600 957.9M600.6 960.8L608.5 965.4M608.5 976.6L600.6 981.2M590.9 975.6L590.9 966.4M611.3 964.5L619.3 959.9M626.1 959.9L634 964.5M634 964.5L634 977.5M634 977.5L626.1 982.1M619.3 982.1L611.3 977.5M634 964.5L645.4 957.9M588.7 977.5L581.3 981.8M645.4 957.9L653.3 962.5" stroke="#3a3a3a" stroke-width="0.8" fill="none" stroke-linecap="round"/>
<text x="622.7" y="960.8" font-size="8.1" fill="#3a3a3a" text-anchor="middle">O</text>
<text x="622.7" y="987" font-size="8.1" fill="#3a3a3a" text-anchor="middle">O</text>
<text x="574" y="987" font-size="8.1" fill="#3a3a3a" text-anchor="middle">Cl</text>
<text x="655.2" y="967.4" font-size="8.1" fill="#3a3a3a" text-anchor="start">NH<tspan font-size="70%" dy="2">2</tspan></text>
<path d="M476.5 1033.7L477.5 1034.0L478.5 1034.1L479.5 1034.3L480.5 1034.4L481.5 1034.7L482.5 1035.1L483.5 1035.2L484.5 1035.4L485.5 1033.7L486.6 1034.2L487.6 1035.4L488.6 1033.8L489.6 1036.1L490.6 1036.5L491.6 1036.7L492.6 1036.6L493.6 1036.8L494.6 1037.1L495.6 1037.3L496.6 1037.7L497.6 1037.8L498.6 1038.1L499.6 1038.1L500.6 1038.4L501.6 1038.6L502.6 1038.7L503.6 1039.2L504.7 1039.2L505.7 1039.5L506.7 1039.4L507.7 1039.6L508.7 1039.8L509.7 1040.1L510.7 1040.4L511.7 1040.5L512.7 1040.6L513.3 1057.5L514.7 1040.6L515.7 1035.0L516.7 1030.4L517.7 1026.0L518.7 1022.6L519.7 1019.6L520.7 1016.7L521.7 1014.7L522.7 1012.9L523.7 1010.9L524.7 1009.7L525.7 1008.5L526.7 1007.4L527.7 1006.6L528.7 1005.8L529.7 1005.0L530.7 1004.7L531.8 1004.2L532.8 1003.8L533.8 1003.5L534.8 1003.2L535.8 1003.1L536.8 1002.9L537.8 1003.1L538.8 1002.9L539.8 1003.0L540.8 1002.9L541.8 1003.0L542.8 1003.2L543.8 1003.5L544.8 1003.2L545.8 1003.3L546.8 1003.7L547.8 1003.9L548.8 1004.0L549.2 1003.9L550.0 995.3L551.0 998.2L552.0 1001.3L553.0 1003.6L554.0 1005.9L555.0 1008.2L556.0 1010.1L557.0 1011.7L558.0 1013.4L559.0 1014.9L560.0 1016.4L561.0 1017.6L562.1 1018.7L563.1 1019.8L564.1 1020.6L565.1 1021.9L566.1 1022.8L567.1 1023.5L568.1 1024.0L569.1 1024.9L570.1 1025.8L571.1 1026.1L572.1 1027.0L573.1 1027.7L574.1 1028.0L575.1 1028.9L576.1 1029.2L577.1 1029.6L578.1 1030.2L579.1 1030.7L580.1 1031.0L581.1 1031.5L582.1 1031.7L583.1 1032.1L584.2 1032.7L585.2 1032.9L586.2 1033.1L587.2 1033.7L588.2 1034.1L589.2 1034.1L590.2 1034.3L591.2 1034.8L592.2 1035.0L593.2 1035.3L594.2 1035.8L595.2 1035.7L596.2 1036.3L597.2 1036.2L598.2 1036.5L599.2 1036.9L600.2 1037.2L601.2 1037.4L602.2 1037.5L603.2 1037.7L604.2 1037.9L605.2 1038.1L606.3 1038.2L607.3 1038.5L608.3 1038.7L609.3 1038.8L610.3 1039.1L611.3 1039.2L612.3 1039.6L613.3 1039.5L614.3 1039.6L615.3 1039.8L616.3 1039.9L617.3 1040.2L618.3 1040.2L619.3 1040.4L620.3 1040.7L621.3 1040.3L622.3 1040.7L623.3 1040.9L624.3 1041.1L625.3 1041.2L626.3 1041.2L627.4 1041.5L628.4 1041.6L629.4 1041.6L630.4 1042.0L631.4 1041.9L632.4 1041.9L633.4 1042.0L634.4 1042.1L635.4 1042.2L636.4 1042.0L637.4 1042.4L638.4 1042.7L639.4 1042.5L640.4 1042.7L641.4 1042.9L642.4 1043.0L643.4 1043.1L644.4 1042.8L645.4 1043.1L646.4 1043.2L647.4 1043.4L648.4 1043.5L649.5 1043.1L650.5 1043.6L651.5 1043.4L652.5 1043.7L653.5 1043.5L654.5 1043.8L655.5 1044.0L656.5 1043.9L657.5 1044.0L658.5 1044.1L659.5 1044.1L660.5 1044.1" fill="none" stroke="#f0a050" stroke-width="0.5" stroke-linejoin="round"/>
<path d="M476.5 1033.8L477.5 1033.9L478.5 1033.9L479.5 1034.6L480.5 1034.2L481.5 1034.7L482.5 1034.7L483.5 1034.9L484.5 1035.1L485.5 1033.5L486.6 1034.0L487.6 1034.9L488.6 1033.7L489.6 1035.8L490.6 1036.1L491.6 1036.3L492.6 1036.4L493.6 1037.0L494.6 1037.1L495.6 1037.4L496.6 1037.3L497.6 1037.6L498.6 1037.6L499.6 1038.1L500.6 1038.4L501.6 1038.2L502.6 1038.8L503.6 1038.9L504.7 1038.9L505.7 1038.8L506.7 1039.5L507.7 1039.5L508.7 1039.6L509.7 1040.0L510.7 1040.1L511.7 1040.5L512.7 1040.3L513.3 1057.5L514.7 1040.7L515.7 1035.1L516.7 1030.3L517.7 1026.0L518.7 1022.3L519.7 1019.5L520.7 1016.8L521.7 1014.5L522.7 1012.8L523.7 1010.9L524.7 1009.3L525.7 1008.3L526.7 1007.1L527.7 1006.5L528.7 1005.7L529.7 1004.9L530.7 1004.5L531.8 1004.1L532.8 1003.6L533.8 1003.4L534.8 1003.0L535.8 1003.0L536.8 1003.0L537.8 1003.0L538.8 1002.8L539.8 1003.0L540.8 1002.7L541.8 1002.9L542.8 1002.8L543.8 1003.3L544.8 1003.1L545.8 1003.4L546.8 1003.5L547.8 1003.6L548.8 1003.7L549.2 1003.8L550.0 995.2L551.0 998.4L552.0 1000.9L553.0 1003.4L554.0 1005.7L555.0 1007.7L556.0 1009.5L557.0 1011.3L558.0 1013.1L559.0 1014.3L560.0 1015.8L561.0 1017.3L562.1 1018.4L563.1 1019.4L564.1 1020.6L565.1 1021.4L566.1 1022.2L567.1 1023.0L568.1 1023.9L569.1 1024.8L570.1 1025.3L571.1 1025.9L572.1 1026.6L573.1 1027.1L574.1 1027.8L575.1 1028.2L576.1 1028.9L577.1 1029.1L578.1 1029.9L579.1 1030.2L580.1 1030.5L581.1 1031.2L582.1 1031.5L583.1 1031.6L584.2 1032.2L585.2 1032.6L586.2 1032.9L587.2 1033.4L588.2 1033.7L589.2 1034.0L590.2 1034.2L591.2 1034.7L592.2 1034.9L593.2 1035.1L594.2 1035.1L595.2 1035.7L596.2 1036.0L597.2 1036.0L598.2 1036.2L599.2 1036.8L600.2 1036.5L601.2 1037.0L602.2 1037.5L603.2 1037.3L604.2 1037.7L605.2 1038.0L606.3 1038.0L607.3 1038.2L608.3 1038.5L609.3 1038.4L610.3 1038.7L611.3 1038.9L612.3 1039.2L613.3 1039.2L614.3 1039.4L615.3 1039.4L616.3 1039.6L617.3 1039.9L618.3 1040.0L619.3 1040.0L620.3 1040.2L621.3 1040.7L622.3 1040.7L623.3 1040.7L624.3 1040.5L625.3 1041.0L626.3 1041.1L627.4 1041.3L628.4 1041.3L629.4 1041.4L630.4 1041.5L631.4 1041.4L632.4 1041.8L633.4 1041.8L634.4 1041.8L635.4 1042.2L636.4 1042.3L637.4 1042.0L638.4 1042.2L639.4 1042.4L640.4 1042.5L641.4 1042.5L642.4 1042.5L643.4 1043.0L644.4 1042.9L645.4 1042.7L646.4 1042.8L647.4 1043.2L648.4 1043.2L649.5 1043.4L650.5 1043.3L651.5 1043.2L652.5 1043.4L653.5 1043.2L654.5 1043.4L655.5 1043.6L656.5 1043.7L657.5 1043.6L658.5 1043.7L659.5 1043.9L660.5 1043.9" fill="none" stroke="#ff7a7a" stroke-width="0.5" stroke-linejoin="round"/>
<path d="M476.5 1034.0L477.5 1034.1L478.5 1034.2L479.5 1034.6L480.5 1034.6L481.5 1034.7L482.5 1034.9L483.5 1035.2L484.5 1035.3L485.5 1033.8L486.6 1034.2L487.6 1035.4L488.6 1034.1L489.6 1035.8L490.6 1036.6L491.6 1036.9L492.6 1037.0L493.6 1037.1L494.6 1037.4L495.6 1037.3L496.6 1037.4L497.6 1037.9L498.6 1037.9L499.6 1038.4L500.6 1038.3L501.6 1038.2L502.6 1038.7L503.6 1039.3L504.7 1039.2L505.7 1039.2L506.7 1039.5L507.7 1039.9L508.7 1040.1L509.7 1040.2L510.7 1040.6L511.7 1040.7L512.7 1040.7L513.3 1057.5L514.7 1040.9L515.7 1035.4L516.7 1030.6L517.7 1026.5L518.7 1022.7L519.7 1019.8L520.7 1017.3L521.7 1015.0L522.7 1013.2L523.7 1011.5L524.7 1010.2L525.7 1008.9L526.7 1008.2L527.7 1007.1L528.7 1006.2L529.7 1005.6L530.7 1005.3L531.8 1004.5L532.8 1004.3L533.8 1003.9L534.8 1003.6L535.8 1003.4L536.8 1003.5L537.8 1003.5L538.8 1003.6L539.8 1003.6L540.8 1003.5L541.8 1003.7L542.8 1003.7L543.8 1003.8L544.8 1003.9L545.8 1003.9L546.8 1004.2L547.8 1004.1L548.8 1004.3L549.2 1004.3L550.0 996.1L551.0 998.9L552.0 1001.7L553.0 1003.9L554.0 1006.3L555.0 1008.5L556.0 1010.4L557.0 1012.1L558.0 1013.7L559.0 1015.0L560.0 1016.8L561.0 1017.9L562.1 1019.1L563.1 1020.0L564.1 1021.1L565.1 1021.8L566.1 1023.0L567.1 1023.9L568.1 1024.3L569.1 1025.3L570.1 1026.0L571.1 1026.4L572.1 1027.0L573.1 1027.7L574.1 1028.3L575.1 1028.7L576.1 1029.4L577.1 1029.9L578.1 1030.4L579.1 1030.9L580.1 1031.4L581.1 1031.8L582.1 1031.9L583.1 1032.3L584.2 1032.6L585.2 1033.0L586.2 1033.4L587.2 1033.8L588.2 1034.1L589.2 1034.2L590.2 1034.5L591.2 1035.0L592.2 1035.2L593.2 1035.5L594.2 1035.8L595.2 1035.9L596.2 1036.4L597.2 1036.6L598.2 1036.7L599.2 1036.9L600.2 1037.2L601.2 1037.1L602.2 1037.5L603.2 1037.8L604.2 1037.9L605.2 1038.3L606.3 1038.4L607.3 1038.4L608.3 1038.8L609.3 1038.9L610.3 1039.2L611.3 1039.4L612.3 1039.5L613.3 1039.5L614.3 1039.8L615.3 1039.9L616.3 1040.2L617.3 1040.3L618.3 1040.3L619.3 1040.4L620.3 1040.6L621.3 1040.7L622.3 1040.8L623.3 1041.0L624.3 1041.1L625.3 1041.3L626.3 1041.5L627.4 1041.5L628.4 1041.9L629.4 1041.7L630.4 1042.0L631.4 1042.0L632.4 1042.2L633.4 1041.9L634.4 1042.2L635.4 1042.4L636.4 1042.6L637.4 1042.9L638.4 1042.7L639.4 1042.9L640.4 1042.9L641.4 1043.0L642.4 1043.1L643.4 1043.1L644.4 1043.2L645.4 1043.1L646.4 1043.5L647.4 1043.3L648.4 1043.5L649.5 1043.8L650.5 1043.6L651.5 1043.7L652.5 1043.9L653.5 1043.8L654.5 1043.8L655.5 1044.0L656.5 1044.1L657.5 1044.1L658.5 1044.0L659.5 1044.4L660.5 1044.4" fill="none" stroke="#8484ff" stroke-width="0.5" stroke-linejoin="round"/>
<path d="M549.2 926.8V1054.7" stroke="#7070ff" stroke-width="0.7"/>
</svg>
</body></html>
